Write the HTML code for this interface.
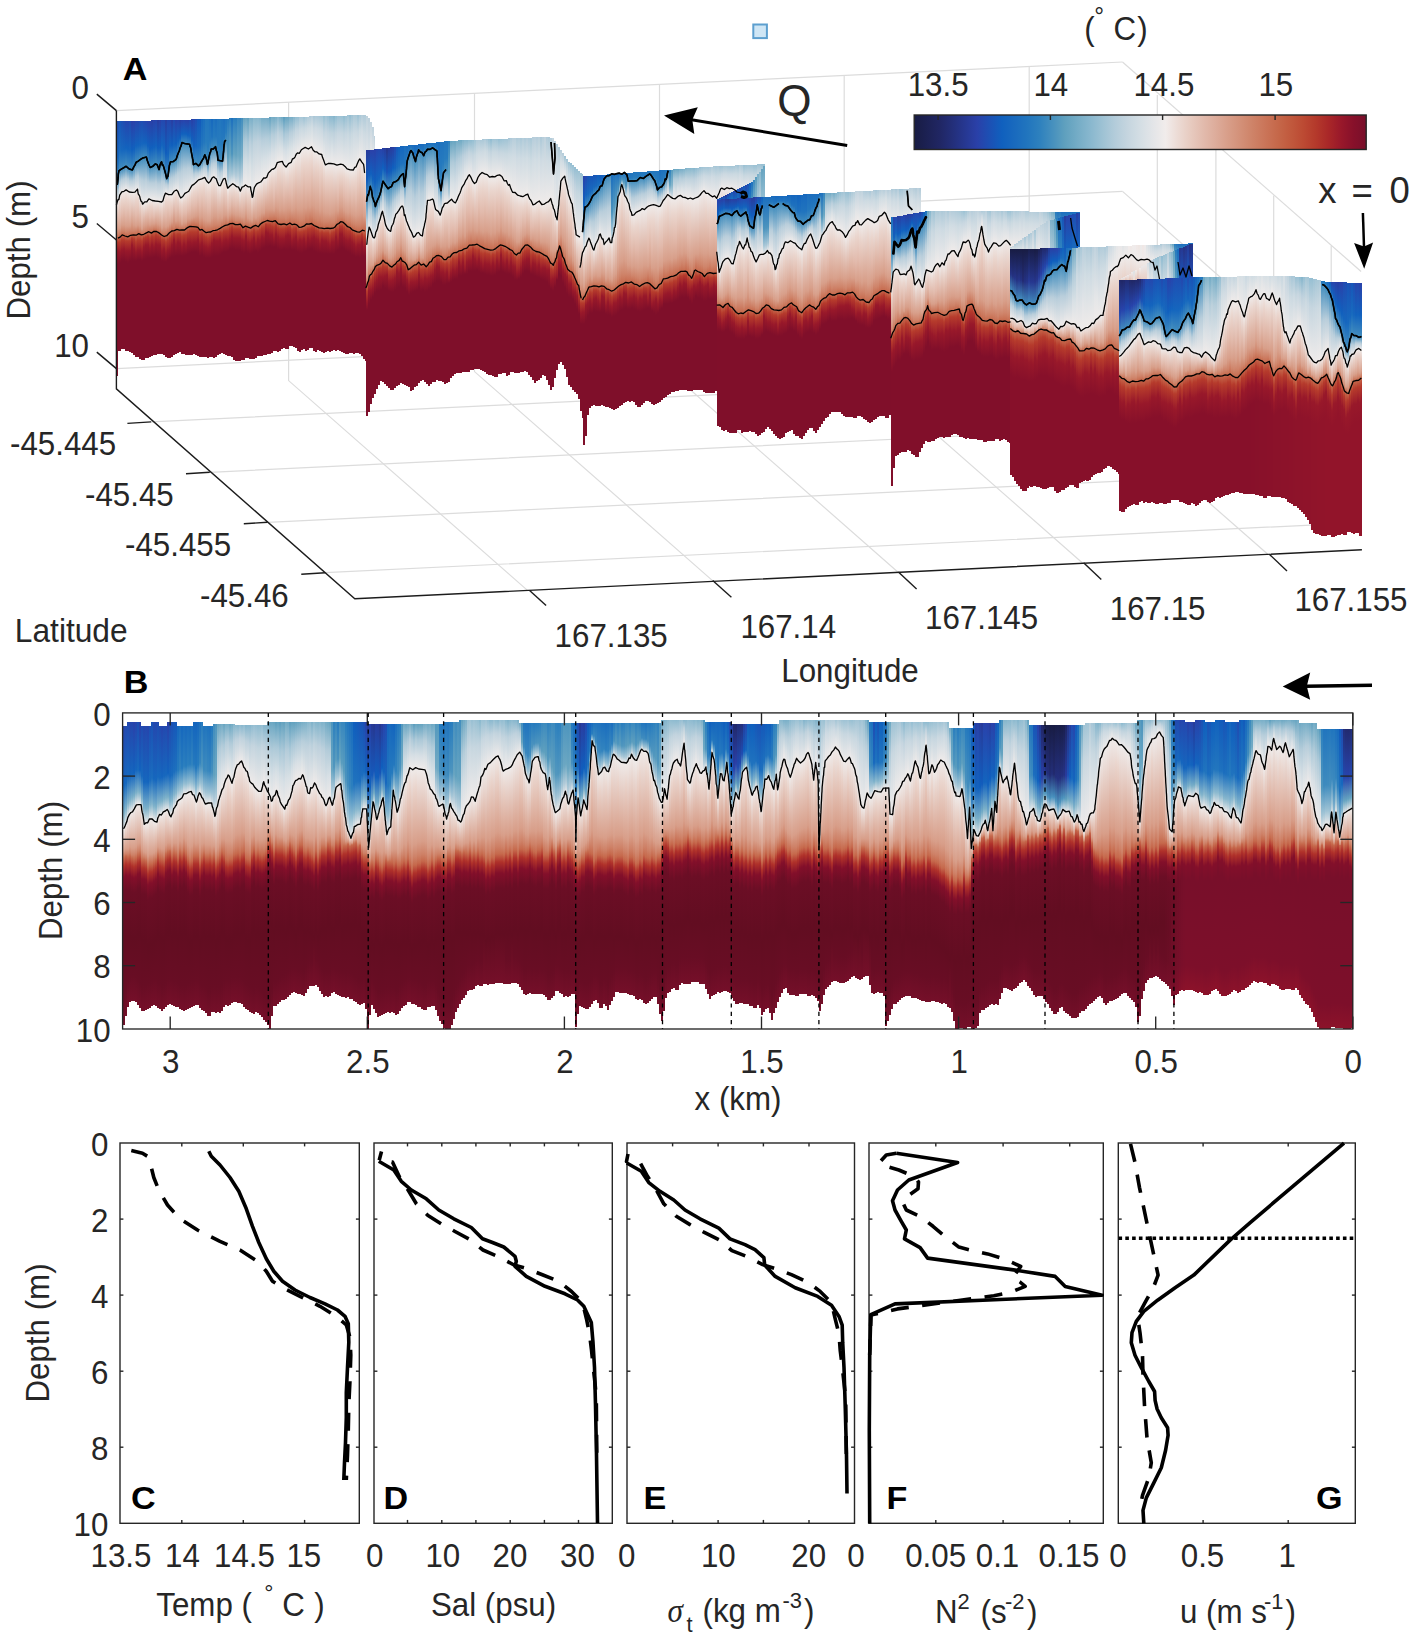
<!DOCTYPE html>
<html><head><meta charset="utf-8"><title>Figure</title>
<style>
html,body{margin:0;padding:0;background:#fff}
body{width:1417px;height:1639px;position:relative;overflow:hidden;font-family:"Liberation Sans",sans-serif}
.l{position:absolute;left:0;top:0}
#s i{position:absolute;display:block;width:2.3px}
</style></head><body>
<svg class="l" width="1417" height="1639" viewBox="0 0 1417 1639" fill="none" stroke="#dcdcdc" stroke-width="1.2"><line x1="116.4" y1="110.6" x2="1122.5" y2="62" /><line x1="116.4" y1="240" x2="1122.5" y2="191.4" /><line x1="116.4" y1="368.6" x2="1122.5" y2="320" /><polyline points="288.6,102.3 288.6,380.6 527.2,590.1" /><polyline points="474.5,93.3 474.5,371.6 713.1,581.1" /><polyline points="659.5,84.4 659.5,362.7 898.1,572.2" /><polyline points="844.2,75.4 844.2,353.7 1082.8,563.2" /><polyline points="1029.2,66.5 1029.2,344.8 1267.8,554.3" /><line x1="1122.5" y1="62" x2="1361.1" y2="271.5" /><line x1="1122.5" y1="191.4" x2="1361.1" y2="400.9" /><line x1="1122.5" y1="320" x2="1361.1" y2="529.5" /><polyline points="151.2,421.9 1157.3,373.3 1157.3,95" /><polyline points="209.8,472.3 1215.9,423.7 1215.9,145.4" /><polyline points="267.6,522.3 1273.7,473.7 1273.7,195.4" /><polyline points="325.1,572.7 1331.2,524.1 1331.2,245.8" /></svg>
<div id="s"><i style="left:116.8px;top:121.3px;height:230.2px;background:linear-gradient(#1e4eb3 0,#1566be 35px,#438ebe 59px,#b9cedb 69px,#efebea 79px,#d89f8a 107px,#cf846a 113px,#c6694c 117px,#b63b2c 121px,#98182a 130px,#7f0f2a 143px)"></i>
<i style="left:118.8px;top:121.2px;height:229.6px;background:linear-gradient(#1756b8 0,#186abe 29px,#438ebe 49px,#b9cedb 61px,#efebea 74px,#ead5cd 82px,#e2baac 96px,#d89f8a 107px,#c6694c 116px,#b63b2c 121px,#98182a 131px,#7f0f2a 142px)"></i>
<i style="left:120.8px;top:121.2px;height:228.2px;background:linear-gradient(#1d50b4 0,#1667be 29px,#438ebe 48px,#b9cedb 59px,#efebea 71px,#ead5cd 79px,#e2baac 93px,#d89f8a 104px,#cf846a 110px,#c6694c 114px,#b63b2c 119px,#98182a 129px,#7f0f2a 140px)"></i>
<i style="left:122.8px;top:121.1px;height:228.3px;background:linear-gradient(#214bb1 0,#1465be 28px,#438ebe 47px,#b9cedb 58px,#efebea 70px,#ead5cd 79px,#d89f8a 104px,#cf846a 110px,#c6694c 114px,#b63b2c 119px,#98182a 128px,#7f0f2a 140px)"></i>
<i style="left:124.8px;top:121.1px;height:229.7px;background:linear-gradient(#2546ae 0,#1263be 27px,#438ebe 45px,#b9cedb 57px,#efebea 69px,#ead5cd 78px,#e2baac 93px,#d89f8a 105px,#cf846a 111px,#c6694c 115px,#b63b2c 120px,#98182a 130px,#7f0f2a 141px)"></i>
<i style="left:126.8px;top:121px;height:229.8px;background:linear-gradient(#2645ad 0,#1263be 28px,#438ebe 47px,#b9cedb 58px,#efebea 70px,#ead5cd 79px,#d89f8a 105px,#c6694c 116px,#b63b2c 120px,#98182a 130px,#7f0f2a 142px)"></i>
<i style="left:128.8px;top:121px;height:230.5px;background:linear-gradient(#224ab0 0,#1465be 29px,#438ebe 48px,#b9cedb 60px,#efebea 71px,#ead5cd 80px,#e2baac 94px,#d89f8a 105px,#c6694c 115px,#b63b2c 120px,#98182a 130px,#7f0f2a 140px)"></i>
<i style="left:130.8px;top:120.9px;height:231.9px;background:linear-gradient(#2a40a8 0,#1060be 29px,#438ebe 49px,#b9cedb 60px,#efebea 71px,#d89f8a 102px,#cf846a 110px,#c6694c 114px,#b63b2c 117px,#98182a 124px,#7f0f2a 140px)"></i>
<i style="left:132.8px;top:120.9px;height:233.9px;background:linear-gradient(#2a41aa 0,#1161be 28px,#438ebe 46px,#b9cedb 59px,#efebea 71px,#d89f8a 104px,#cf846a 110px,#c6694c 114px,#b63b2c 118px,#98182a 128px,#7f0f2a 140px)"></i>
<i style="left:134.8px;top:120.8px;height:236px;background:linear-gradient(#2646ad 0,#1263be 25px,#438ebe 42px,#b9cedb 56px,#efebea 70px,#ead5cd 79px,#e2baac 94px,#d89f8a 105px,#c6694c 114px,#b63b2c 121px,#98182a 131px,#7f0f2a 140px)"></i>
<i style="left:136.8px;top:120.8px;height:236.6px;background:linear-gradient(#2546ad 0,#1263be 24px,#438ebe 41px,#b9cedb 55px,#efebea 70px,#ead5cd 79px,#e2baac 93px,#d89f8a 104px,#c6694c 113px,#b63b2c 119px,#98182a 129px,#7f0f2a 139px)"></i>
<i style="left:138.8px;top:120.7px;height:238.1px;background:linear-gradient(#214bb1 0,#1465be 24px,#438ebe 39px,#b9cedb 58px,#efebea 76px,#d89f8a 105px,#cf846a 110px,#c6694c 113px,#b63b2c 119px,#98182a 129px,#7f0f2a 139px)"></i>
<i style="left:140.8px;top:120.7px;height:239.6px;background:linear-gradient(#1f4db2 0,#1566be 23px,#438ebe 38px,#b9cedb 59px,#efebea 81px,#ead5cd 88px,#e2baac 99px,#d89f8a 108px,#c6694c 114px,#b63b2c 120px,#98182a 131px,#7f0f2a 140px)"></i>
<i style="left:142.8px;top:120.6px;height:239px;background:linear-gradient(#2448af 0,#1364be 22px,#438ebe 37px,#b9cedb 60px,#efebea 82px,#d89f8a 105px,#cf846a 111px,#c6694c 114px,#b63b2c 117px,#98182a 126px,#7f0f2a 139px)"></i>
<i style="left:144.8px;top:120.6px;height:237.7px;background:linear-gradient(#2546ae 0,#1263be 22px,#438ebe 37px,#b9cedb 59px,#efebea 81px,#e2baac 95px,#d89f8a 104px,#cf846a 110px,#c6694c 113px,#b63b2c 116px,#98182a 124px,#7f0f2a 138px)"></i>
<i style="left:146.8px;top:120.5px;height:237.1px;background:linear-gradient(#2942ab 0,#1161be 25px,#438ebe 41px,#b9cedb 61px,#efebea 80px,#ead5cd 86px,#d89f8a 103px,#cf846a 109px,#c6694c 112px,#b63b2c 115px,#98182a 124px,#7f0f2a 137px)"></i>
<i style="left:148.8px;top:120.5px;height:236.5px;background:linear-gradient(#2a41a9 0,#1061be 28px,#438ebe 46px,#b9cedb 62px,#efebea 79px,#ead5cd 85px,#e2baac 96px,#d89f8a 104px,#c6694c 112px,#b63b2c 117px,#98182a 127px,#7f0f2a 137px)"></i>
<i style="left:150.8px;top:120.4px;height:236px;background:linear-gradient(#293fa6 0,#1060be 28px,#438ebe 46px,#b9cedb 63px,#efebea 80px,#ead5cd 86px,#e2baac 96px,#d89f8a 104px,#cf846a 109px,#c6694c 112px,#b63b2c 116px,#98182a 125px,#7f0f2a 138px)"></i>
<i style="left:152.8px;top:120.4px;height:234.9px;background:linear-gradient(#2942ab 0,#1161be 27px,#438ebe 45px,#b9cedb 63px,#efebea 80px,#e2baac 97px,#d89f8a 104px,#cf846a 108px,#c6694c 111px,#b63b2c 117px,#98182a 127px,#7f0f2a 137px)"></i>
<i style="left:154.8px;top:120.3px;height:234.5px;background:linear-gradient(#2645ad 0,#1263be 26px,#438ebe 44px,#b9cedb 62px,#efebea 81px,#d89f8a 103px,#cf846a 108px,#c6694c 111px,#b63b2c 115px,#98182a 124px,#7f0f2a 137px)"></i>
<i style="left:156.8px;top:120.3px;height:234.1px;background:linear-gradient(#293da1 0,#105ebd 28px,#438ebe 46px,#b9cedb 64px,#efebea 81px,#ead5cd 87px,#d89f8a 104px,#cf846a 109px,#c6694c 112px,#b63b2c 116px,#98182a 125px,#7f0f2a 138px)"></i>
<i style="left:158.8px;top:120.2px;height:233.7px;background:linear-gradient(#2a40a8 0,#1060be 28px,#438ebe 46px,#b9cedb 64px,#efebea 81px,#d89f8a 105px,#cf846a 110px,#c6694c 113px,#b63b2c 117px,#98182a 125px,#7f0f2a 139px)"></i>
<i style="left:160.8px;top:120.2px;height:233.5px;background:linear-gradient(#2448af 0,#1364be 25px,#438ebe 42px,#b9cedb 62px,#efebea 82px,#ead5cd 88px,#e2baac 99px,#d89f8a 108px,#cf846a 112px,#c6694c 115px,#b63b2c 120px,#98182a 131px,#7f0f2a 141px)"></i>
<i style="left:162.8px;top:120.1px;height:234.7px;background:linear-gradient(#2348af 0,#1364be 28px,#438ebe 47px,#b9cedb 62px,#efebea 77px,#d89f8a 106px,#cf846a 112px,#c6694c 116px,#b63b2c 120px,#98182a 129px,#7f0f2a 142px)"></i>
<i style="left:164.8px;top:120.1px;height:237.3px;background:linear-gradient(#293ea1 0,#105ebd 33px,#438ebe 55px,#b9cedb 64px,#efebea 73px,#ead5cd 82px,#e2baac 96px,#d89f8a 107px,#c6694c 116px,#b63b2c 122px,#98182a 133px,#7f0f2a 142px)"></i>
<i style="left:166.8px;top:120px;height:238.4px;background:linear-gradient(#2447ae 0,#1364be 34px,#438ebe 57px,#b9cedb 65px,#efebea 74px,#ead5cd 82px,#d89f8a 106px,#cf846a 110px,#c6694c 115px,#b63b2c 120px,#98182a 130px,#7f0f2a 140px)"></i>
<i style="left:168.8px;top:120px;height:238.3px;background:linear-gradient(#2645ad 0,#1263be 26px,#438ebe 44px,#b9cedb 59px,#efebea 75px,#ead5cd 82px,#e2baac 95px,#d89f8a 104px,#c6694c 113px,#b63b2c 118px,#98182a 129px,#7f0f2a 138px)"></i>
<i style="left:170.8px;top:119.9px;height:237.3px;background:linear-gradient(#293ea2 0,#0f5fbe 25px,#438ebe 42px,#b9cedb 58px,#efebea 75px,#ead5cd 82px,#e2baac 93px,#d89f8a 102px,#c6694c 111px,#b63b2c 116px,#98182a 125px,#7f0f2a 137px)"></i>
<i style="left:172.8px;top:119.9px;height:234.8px;background:linear-gradient(#2349af 0,#1364be 25px,#438ebe 41px,#b9cedb 57px,#efebea 72px,#cf846a 107px,#c6694c 111px,#b63b2c 113px,#98182a 120px,#7f0f2a 137px)"></i>
<i style="left:174.8px;top:119.8px;height:233.8px;background:linear-gradient(#2a40a9 0,#1061be 24px,#438ebe 40px,#b9cedb 55px,#efebea 71px,#ead5cd 78px,#e2baac 91px,#d89f8a 101px,#c6694c 110px,#b63b2c 115px,#98182a 125px,#7f0f2a 136px)"></i>
<i style="left:176.8px;top:119.8px;height:232.8px;background:linear-gradient(#2843ab 0,#1162be 21px,#438ebe 35px,#b9cedb 53px,#efebea 71px,#d89f8a 100px,#cf846a 106px,#c6694c 110px,#b63b2c 114px,#98182a 122px,#7f0f2a 136px)"></i>
<i style="left:178.8px;top:119.7px;height:232.5px;background:linear-gradient(#293fa5 0,#0f5fbe 18px,#438ebe 29px,#b9cedb 53px,#efebea 77px,#ead5cd 83px,#e2baac 93px,#d89f8a 101px,#cf846a 107px,#c6694c 110px,#b63b2c 114px,#98182a 123px,#7f0f2a 136px)"></i>
<i style="left:180.8px;top:119.7px;height:234.2px;background:linear-gradient(#2a41aa 0,#1061be 14px,#438ebe 24px,#b9cedb 51px,#efebea 78px,#ead5cd 84px,#e2baac 95px,#d89f8a 104px,#c6694c 110px,#b63b2c 116px,#98182a 127px,#7f0f2a 136px)"></i>
<i style="left:182.8px;top:119.6px;height:234.6px;background:linear-gradient(#2843ac 0,#1162be 14px,#438ebe 24px,#b9cedb 49px,#efebea 75px,#ead5cd 82px,#e2baac 93px,#d89f8a 102px,#cf846a 107px,#c6694c 110px,#b63b2c 115px,#98182a 124px,#7f0f2a 136px)"></i>
<i style="left:184.8px;top:119.6px;height:235px;background:linear-gradient(#2a41a9 0,#1061be 14px,#438ebe 24px,#b9cedb 49px,#efebea 73px,#ead5cd 81px,#e2baac 93px,#d89f8a 102px,#cf846a 106px,#c6694c 109px,#b63b2c 115px,#98182a 126px,#7f0f2a 135px)"></i>
<i style="left:186.8px;top:119.5px;height:235.4px;background:linear-gradient(#2a40a8 0,#1060be 15px,#438ebe 25px,#b9cedb 48px,#efebea 72px,#ead5cd 79px,#e2baac 90px,#d89f8a 99px,#c6694c 108px,#b63b2c 113px,#98182a 122px,#7f0f2a 134px)"></i>
<i style="left:188.8px;top:119.5px;height:235.8px;background:linear-gradient(#2546ae 0,#1263be 16px,#438ebe 26px,#b9cedb 48px,#efebea 70px,#ead5cd 77px,#e2baac 89px,#d89f8a 99px,#c6694c 107px,#b63b2c 112px,#98182a 122px,#7f0f2a 133px)"></i>
<i style="left:190.8px;top:119.4px;height:236.1px;background:linear-gradient(#293fa6 0,#1060be 21px,#438ebe 35px,#b9cedb 51px,#efebea 67px,#ead5cd 75px,#d89f8a 99px,#c6694c 107px,#b63b2c 113px,#98182a 124px,#7f0f2a 133px)"></i>
<i style="left:192.8px;top:119.3px;height:235.1px;background:linear-gradient(#2645ad 0,#1263be 27px,#438ebe 45px,#b9cedb 55px,#efebea 65px,#ead5cd 73px,#e2baac 87px,#d89f8a 98px,#c6694c 107px,#b63b2c 113px,#98182a 123px,#7f0f2a 133px)"></i>
<i style="left:194.8px;top:119.3px;height:235.5px;background:linear-gradient(#1f4db2 0,#1566be 27px,#438ebe 44px,#b9cedb 54px,#efebea 63px,#ead5cd 72px,#e2baac 86px,#d89f8a 97px,#cf846a 103px,#c6694c 107px,#b63b2c 113px,#98182a 123px,#7f0f2a 133px)"></i>
<i style="left:196.8px;top:119.2px;height:237.3px;background:linear-gradient(#1558ba 0,#196bbe 28px,#438ebe 46px,#b9cedb 54px,#efebea 61px,#d89f8a 96px,#cf846a 103px,#c6694c 108px,#b63b2c 112px,#98182a 121px,#7f0f2a 134px)"></i>
<i style="left:198.8px;top:119.2px;height:237.7px;background:linear-gradient(#135abb 0,#196cbe 27px,#438ebe 45px,#b9cedb 53px,#efebea 60px,#ead5cd 70px,#e2baac 86px,#d89f8a 99px,#cf846a 106px,#c6694c 111px,#b63b2c 116px,#98182a 126px,#7f0f2a 137px)"></i>
<i style="left:200.8px;top:119.1px;height:238px;background:linear-gradient(#1768be 0,#2074be 25px,#438ebe 42px,#b9cedb 51px,#efebea 60px,#ead5cd 70px,#d89f8a 98px,#cf846a 105px,#c6694c 110px,#b63b2c 115px,#98182a 124px,#7f0f2a 136px)"></i>
<i style="left:202.8px;top:119.1px;height:238.4px;background:linear-gradient(#1b6ebe 0,#2377be 23px,#438ebe 38px,#b9cedb 49px,#efebea 59px,#ead5cd 69px,#e2baac 86px,#d89f8a 100px,#cf846a 107px,#c6694c 112px,#b63b2c 117px,#98182a 127px,#7f0f2a 138px)"></i>
<i style="left:204.8px;top:119px;height:238.1px;background:linear-gradient(#2276be 0,#277cbe 23px,#438ebe 38px,#b9cedb 49px,#efebea 60px,#d89f8a 101px,#cf846a 108px,#c6694c 113px,#b63b2c 118px,#98182a 128px,#7f0f2a 139px)"></i>
<i style="left:206.8px;top:119px;height:238.5px;background:linear-gradient(#2276be 0,#277cbe 27px,#438ebe 44px,#b9cedb 54px,#efebea 63px,#ead5cd 73px,#e2baac 89px,#d89f8a 102px,#c6694c 113px,#b63b2c 119px,#98182a 129px,#7f0f2a 139px)"></i>
<i style="left:208.8px;top:118.9px;height:238.5px;background:linear-gradient(#1e71be 0,#2579be 21px,#438ebe 35px,#b9cedb 49px,#efebea 63px,#ead5cd 73px,#e2baac 89px,#d89f8a 102px,#c6694c 113px,#b63b2c 118px,#98182a 128px,#7f0f2a 139px)"></i>
<i style="left:210.8px;top:118.9px;height:237.8px;background:linear-gradient(#1769be 0,#2074be 18px,#438ebe 30px,#b9cedb 45px,#efebea 60px,#ead5cd 70px,#d89f8a 99px,#cf846a 107px,#c6694c 112px,#b63b2c 116px,#98182a 124px,#7f0f2a 138px)"></i>
<i style="left:212.8px;top:118.8px;height:239.2px;background:linear-gradient(#1f72be 0,#257abe 18px,#438ebe 30px,#b9cedb 44px,#efebea 58px,#d89f8a 97px,#cf846a 106px,#c6694c 112px,#b63b2c 114px,#98182a 121px,#7f0f2a 137px)"></i>
<i style="left:214.8px;top:118.8px;height:238.4px;background:linear-gradient(#1b6ebe 0,#2377be 17px,#438ebe 29px,#b9cedb 44px,#efebea 60px,#d89f8a 97px,#cf846a 106px,#c6694c 111px,#b63b2c 114px,#98182a 122px,#7f0f2a 137px)"></i>
<i style="left:216.8px;top:118.7px;height:236.3px;background:linear-gradient(#2174be 0,#277bbe 24px,#438ebe 40px,#b9cedb 52px,#efebea 65px,#d89f8a 99px,#cf846a 106px,#c6694c 111px,#b63b2c 114px,#98182a 122px,#7f0f2a 137px)"></i>
<i style="left:218.8px;top:118.7px;height:235.6px;background:linear-gradient(#2276be 0,#277cbe 25px,#438ebe 42px,#b9cedb 54px,#efebea 67px,#d89f8a 98px,#cf846a 106px,#c6694c 110px,#b63b2c 113px,#98182a 121px,#7f0f2a 136px)"></i>
<i style="left:220.8px;top:118.6px;height:234.8px;background:linear-gradient(#1f73be 0,#267abe 25px,#438ebe 42px,#b9cedb 53px,#efebea 64px,#ead5cd 73px,#d89f8a 99px,#c6694c 109px,#b63b2c 114px,#98182a 124px,#7f0f2a 134px)"></i>
<i style="left:222.8px;top:118.6px;height:235.7px;background:linear-gradient(#1d6fbe 0,#2478be 18px,#438ebe 30px,#b9cedb 45px,#efebea 60px,#d89f8a 96px,#cf846a 103px,#c6694c 108px,#b63b2c 112px,#98182a 122px,#7f0f2a 133px)"></i>
<i style="left:224.8px;top:118.5px;height:236.1px;background:linear-gradient(#2074be 0,#267bbe 13px,#438ebe 22px,#b9cedb 42px,#efebea 62px,#ead5cd 71px,#e2baac 85px,#d89f8a 96px,#c6694c 107px,#b63b2c 112px,#98182a 121px,#7f0f2a 133px)"></i>
<i style="left:226.8px;top:118.5px;height:237.1px;background:linear-gradient(#2478be 0,#5e9fbe 38px,#b0cad9 59px,#efebea 70px,#ead5cd 77px,#e2baac 89px,#d89f8a 98px,#cf846a 103px,#c6694c 106px,#b63b2c 112px,#98182a 122px,#7f0f2a 132px)"></i>
<i style="left:228.8px;top:118.4px;height:237.5px;background:linear-gradient(#297ebe 0,#66a4c0 37px,#b4ccda 58px,#efebea 68px,#ead5cd 75px,#e2baac 88px,#d89f8a 97px,#cf846a 102px,#c6694c 105px,#b63b2c 111px,#98182a 121px,#7f0f2a 131px)"></i>
<i style="left:230.8px;top:118.4px;height:238.5px;background:linear-gradient(#1d70be 0,#4f96be 36px,#a9c8d7 56px,#efebea 66px,#d89f8a 95px,#cf846a 101px,#c6694c 105px,#b63b2c 109px,#98182a 118px,#7f0f2a 131px)"></i>
<i style="left:232.8px;top:118.3px;height:241.7px;background:linear-gradient(#2a7ebe 0,#66a4c1 36px,#b4ccda 56px,#efebea 66px,#ead5cd 74px,#e2baac 86px,#d89f8a 96px,#cf846a 102px,#c6694c 106px,#b63b2c 111px,#98182a 120px,#7f0f2a 131px)"></i>
<i style="left:234.8px;top:118.3px;height:242.7px;background:linear-gradient(#287dbe 0,#65a3c0 37px,#b3ccda 58px,#efebea 68px,#ead5cd 75px,#e2baac 87px,#d89f8a 97px,#cf846a 103px,#c6694c 106px,#b63b2c 111px,#98182a 120px,#7f0f2a 132px)"></i>
<i style="left:236.8px;top:118.2px;height:242.7px;background:linear-gradient(#3887be 0,#6fa9c4 38px,#b9cfdb 58px,#efebea 69px,#ead5cd 76px,#d89f8a 97px,#cf846a 103px,#c6694c 106px,#b63b2c 111px,#98182a 120px,#7f0f2a 132px)"></i>
<i style="left:238.8px;top:118.2px;height:242.4px;background:linear-gradient(#3686be 0,#6da8c3 39px,#b8cedb 61px,#efebea 72px,#d89f8a 98px,#cf846a 103px,#c6694c 106px,#b63b2c 111px,#98182a 120px,#7f0f2a 132px)"></i>
<i style="left:240.8px;top:118.1px;height:242.1px;background:linear-gradient(#438ebe 0,#76adc7 38px,#bcd0dc 59px,#efebea 70px,#ead5cd 77px,#e2baac 89px,#d89f8a 99px,#c6694c 108px,#b63b2c 113px,#98182a 122px,#7f0f2a 134px)"></i>
<i style="left:242.8px;top:118.1px;height:241.8px;background:linear-gradient(#65a3c0 0,#adc9d8 24px,#d7dfe5 48px,#efebea 68px,#d89f8a 99px,#cf846a 105px,#c6694c 109px,#b63b2c 114px,#98182a 123px,#7f0f2a 135px)"></i>
<i style="left:244.8px;top:118px;height:240.1px;background:linear-gradient(#6aa6c2 0,#afcad9 23px,#d7e0e5 47px,#efebea 67px,#d89f8a 96px,#cf846a 104px,#c6694c 108px,#b63b2c 111px,#98182a 118px,#7f0f2a 134px)"></i>
<i style="left:246.8px;top:118px;height:239.8px;background:linear-gradient(#62a2bf 0,#abc8d8 24px,#d6dfe4 48px,#efebea 69px,#ead5cd 77px,#d89f8a 100px,#c6694c 109px,#b63b2c 114px,#98182a 124px,#7f0f2a 135px)"></i>
<i style="left:248.8px;top:117.9px;height:241.6px;background:linear-gradient(#7db1c9 0,#bacfdc 24px,#dae1e5 48px,#efebea 69px,#ead5cd 77px,#d89f8a 101px,#c6694c 110px,#b63b2c 115px,#98182a 125px,#7f0f2a 136px)"></i>
<i style="left:250.8px;top:117.9px;height:241.3px;background:linear-gradient(#7cb0c9 0,#b9cfdb 27px,#dae1e5 54px,#efebea 77px,#ead5cd 83px,#d89f8a 102px,#cf846a 106px,#c6694c 109px,#b63b2c 114px,#98182a 123px,#7f0f2a 135px)"></i>
<i style="left:252.8px;top:117.8px;height:241px;background:linear-gradient(#8ab9ce 0,#c0d2dd 25px,#efebea 72px,#d89f8a 99px,#cf846a 105px,#c6694c 108px,#b63b2c 112px,#98182a 120px,#7f0f2a 134px)"></i>
<i style="left:254.8px;top:117.8px;height:240.7px;background:linear-gradient(#88b7cd 0,#bfd2dd 24px,#efebea 67px,#d89f8a 100px,#c6694c 108px,#b63b2c 114px,#98182a 125px,#7f0f2a 133px)"></i>
<i style="left:256.8px;top:117.7px;height:238.2px;background:linear-gradient(#89b8ce 0,#c0d2dd 23px,#efebea 66px,#ead5cd 74px,#d89f8a 98px,#cf846a 105px,#c6694c 109px,#b63b2c 113px,#98182a 121px,#7f0f2a 135px)"></i>
<i style="left:258.8px;top:117.7px;height:237.9px;background:linear-gradient(#84b5cc 0,#bed1dd 23px,#efebea 65px,#ead5cd 73px,#d89f8a 97px,#cf846a 103px,#c6694c 107px,#b63b2c 112px,#98182a 122px,#7f0f2a 133px)"></i>
<i style="left:260.8px;top:117.6px;height:238.2px;background:linear-gradient(#77aec7 0,#b7cedb 22px,#d9e1e5 44px,#efebea 63px,#d89f8a 95px,#cf846a 101px,#c6694c 105px,#b63b2c 110px,#98182a 119px,#7f0f2a 131px)"></i>
<i style="left:262.8px;top:117.6px;height:237.9px;background:linear-gradient(#76adc7 0,#b6cddb 21px,#d9e0e5 42px,#efebea 60px,#ead5cd 69px,#d89f8a 95px,#c6694c 104px,#b63b2c 110px,#98182a 120px,#7f0f2a 130px)"></i>
<i style="left:264.8px;top:117.5px;height:237.3px;background:linear-gradient(#77adc7 0,#b7cedb 21px,#d9e1e5 42px,#efebea 60px,#d89f8a 91px,#cf846a 99px,#c6694c 104px,#b63b2c 106px,#98182a 114px,#7f0f2a 129px)"></i>
<i style="left:266.8px;top:117.5px;height:236.4px;background:linear-gradient(#73abc6 0,#b4cdda 20px,#d9e0e5 40px,#efebea 57px,#ead5cd 66px,#d89f8a 91px,#cf846a 99px,#c6694c 103px,#b63b2c 107px,#98182a 115px,#7f0f2a 129px)"></i>
<i style="left:268.8px;top:117.4px;height:236.8px;background:linear-gradient(#63a2c0 0,#abc9d8 19px,#d6dfe5 38px,#efebea 54px,#ead5cd 64px,#d89f8a 92px,#cf846a 99px,#c6694c 104px,#b63b2c 108px,#98182a 118px,#7f0f2a 129px)"></i>
<i style="left:270.8px;top:117.4px;height:235.9px;background:linear-gradient(#75adc6 0,#b6cdda 18px,#d9e0e5 36px,#efebea 52px,#ead5cd 62px,#d89f8a 92px,#cf846a 99px,#c6694c 104px,#b63b2c 109px,#98182a 118px,#7f0f2a 130px)"></i>
<i style="left:272.8px;top:117.3px;height:234.2px;background:linear-gradient(#73abc5 0,#b4cdda 18px,#d9e0e5 36px,#efebea 52px,#ead5cd 62px,#e2baac 80px,#d89f8a 93px,#c6694c 104px,#b63b2c 110px,#98182a 122px,#7f0f2a 130px)"></i>
<i style="left:274.8px;top:117.3px;height:233.4px;background:linear-gradient(#79afc8 0,#b8cedb 17px,#dae1e5 34px,#efebea 49px,#d89f8a 90px,#cf846a 99px,#c6694c 104px,#b63b2c 108px,#98182a 117px,#7f0f2a 130px)"></i>
<i style="left:276.8px;top:117.2px;height:234.4px;background:linear-gradient(#88b7ce 0,#bfd2dd 16px,#efebea 45px,#ead5cd 57px,#e2baac 76px,#d89f8a 91px,#cf846a 100px,#c6694c 106px,#b63b2c 111px,#98182a 120px,#7f0f2a 132px)"></i>
<i style="left:278.8px;top:117.2px;height:234px;background:linear-gradient(#7bb0c9 0,#b9cfdb 16px,#dae1e5 31px,#efebea 45px,#ead5cd 57px,#d89f8a 93px,#cf846a 101px,#c6694c 107px,#b63b2c 112px,#98182a 122px,#7f0f2a 133px)"></i>
<i style="left:280.8px;top:117.1px;height:231.5px;background:linear-gradient(#70aac4 0,#b3ccda 15px,#d8e0e5 31px,#efebea 44px,#d89f8a 92px,#cf846a 101px,#c6694c 107px,#b63b2c 112px,#98182a 122px,#7f0f2a 133px)"></i>
<i style="left:282.8px;top:117.1px;height:231.1px;background:linear-gradient(#5a9dbe 0,#a6c6d7 17px,#d5dee4 33px,#efebea 48px,#ead5cd 59px,#e2baac 78px,#d89f8a 93px,#cf846a 101px,#c6694c 107px,#b63b2c 112px,#98182a 122px,#7f0f2a 132px)"></i>
<i style="left:284.8px;top:117px;height:232.1px;background:linear-gradient(#68a5c1 0,#aecad9 17px,#d7dfe5 35px,#efebea 50px,#ead5cd 61px,#d89f8a 92px,#cf846a 102px,#c6694c 107px,#b63b2c 111px,#98182a 119px,#7f0f2a 133px)"></i>
<i style="left:286.8px;top:117px;height:231.7px;background:linear-gradient(#6aa6c2 0,#b0cad9 17px,#d7e0e5 33px,#efebea 48px,#d89f8a 91px,#cf846a 101px,#c6694c 107px,#b63b2c 110px,#98182a 118px,#7f0f2a 133px)"></i>
<i style="left:288.8px;top:116.9px;height:229.1px;background:linear-gradient(#78aec8 0,#b8cedb 16px,#d9e1e5 32px,#efebea 46px,#ead5cd 58px,#e2baac 76px,#d89f8a 91px,#cf846a 100px,#c6694c 106px,#b63b2c 110px,#98182a 119px,#7f0f2a 132px)"></i>
<i style="left:290.8px;top:116.9px;height:228.7px;background:linear-gradient(#78aec8 0,#b8cedb 15px,#dae1e5 31px,#efebea 44px,#ead5cd 57px,#e2baac 77px,#d89f8a 93px,#c6694c 108px,#b63b2c 113px,#98182a 124px,#7f0f2a 133px)"></i>
<i style="left:292.8px;top:116.8px;height:230.3px;background:linear-gradient(#87b6cd 0,#bfd2dd 15px,#dce2e6 29px,#efebea 42px,#ead5cd 55px,#d89f8a 92px,#cf846a 101px,#c6694c 107px,#b63b2c 112px,#98182a 122px,#7f0f2a 133px)"></i>
<i style="left:294.8px;top:116.8px;height:231.2px;background:linear-gradient(#94bed2 0,#c4d5df 13px,#efebea 39px,#ead5cd 52px,#d89f8a 90px,#cf846a 101px,#c6694c 108px,#b63b2c 111px,#98182a 120px,#7f0f2a 134px)"></i>
<i style="left:296.8px;top:116.7px;height:234.2px;background:linear-gradient(#97bfd3 0,#c5d5df 13px,#efebea 36px,#d89f8a 92px,#cf846a 102px,#c6694c 109px,#b63b2c 115px,#98182a 125px,#7f0f2a 135px)"></i>
<i style="left:298.8px;top:116.7px;height:235.2px;background:linear-gradient(#a7c7d7 0,#cbd9e1 13px,#efebea 36px,#d89f8a 92px,#cf846a 103px,#c6694c 111px,#b63b2c 115px,#98182a 123px,#7f0f2a 136px)"></i>
<i style="left:300.8px;top:116.6px;height:233.2px;background:linear-gradient(#a7c6d7 0,#cbd9e1 12px,#efebea 33px,#ead5cd 48px,#e2baac 72px,#d89f8a 92px,#cf846a 103px,#c6694c 110px,#b63b2c 115px,#98182a 124px,#7f0f2a 136px)"></i>
<i style="left:302.8px;top:116.6px;height:232.6px;background:linear-gradient(#9dc2d4 0,#c7d7e0 11px,#efebea 32px,#ead5cd 47px,#d89f8a 90px,#cf846a 102px,#c6694c 110px,#b63b2c 114px,#98182a 122px,#7f0f2a 135px)"></i>
<i style="left:304.8px;top:116.5px;height:234.2px;background:linear-gradient(#a7c7d7 0,#cbd9e1 11px,#efebea 31px,#ead5cd 47px,#e2baac 71px,#d89f8a 91px,#c6694c 108px,#b63b2c 114px,#98182a 126px,#7f0f2a 134px)"></i>
<i style="left:306.8px;top:116.5px;height:233.7px;background:linear-gradient(#b0cbd9 0,#cfdbe2 11px,#efebea 32px,#ead5cd 47px,#e2baac 70px,#d89f8a 89px,#cf846a 100px,#c6694c 108px,#b63b2c 112px,#98182a 121px,#7f0f2a 133px)"></i>
<i style="left:308.8px;top:116.4px;height:231.7px;background:linear-gradient(#b0cad9 0,#cedbe2 11px,#efebea 32px,#ead5cd 47px,#e2baac 71px,#d89f8a 91px,#c6694c 108px,#b63b2c 113px,#98182a 124px,#7f0f2a 133px)"></i>
<i style="left:310.8px;top:116.4px;height:231.9px;background:linear-gradient(#b8cedb 0,#d2dde3 11px,#efebea 31px,#ead5cd 46px,#d89f8a 89px,#cf846a 100px,#c6694c 107px,#b63b2c 112px,#98182a 122px,#7f0f2a 133px)"></i>
<i style="left:312.8px;top:116.3px;height:234.3px;background:linear-gradient(#a9c7d7 0,#ccd9e1 12px,#efebea 34px,#d89f8a 90px,#cf846a 102px,#c6694c 109px,#b63b2c 112px,#98182a 121px,#7f0f2a 135px)"></i>
<i style="left:314.8px;top:116.3px;height:235.3px;background:linear-gradient(#adc9d8 0,#cedae2 12px,#efebea 36px,#ead5cd 50px,#d89f8a 92px,#cf846a 103px,#c6694c 110px,#b63b2c 114px,#98182a 123px,#7f0f2a 136px)"></i>
<i style="left:316.8px;top:116.2px;height:234.2px;background:linear-gradient(#abc8d8 0,#cddae2 13px,#efebea 37px,#ead5cd 51px,#d89f8a 92px,#cf846a 104px,#c6694c 111px,#b63b2c 115px,#98182a 124px,#7f0f2a 137px)"></i>
<i style="left:318.8px;top:116.2px;height:235.2px;background:linear-gradient(#a7c7d7 0,#cbd9e1 13px,#efebea 38px,#ead5cd 53px,#e2baac 76px,#d89f8a 95px,#c6694c 112px,#b63b2c 117px,#98182a 128px,#7f0f2a 137px)"></i>
<i style="left:320.8px;top:116.1px;height:236.2px;background:linear-gradient(#a5c6d6 0,#cbd8e1 14px,#efebea 39px,#ead5cd 53px,#d89f8a 93px,#cf846a 105px,#c6694c 112px,#b63b2c 116px,#98182a 124px,#7f0f2a 138px)"></i>
<i style="left:322.8px;top:116.1px;height:237.1px;background:linear-gradient(#95bfd2 0,#c4d5df 16px,#dee3e6 31px,#efebea 45px,#ead5cd 58px,#d89f8a 96px,#cf846a 106px,#c6694c 113px,#b63b2c 117px,#98182a 125px,#7f0f2a 138px)"></i>
<i style="left:324.8px;top:116px;height:235.5px;background:linear-gradient(#a0c3d5 0,#c9d7e0 17px,#efebea 49px,#ead5cd 61px,#d89f8a 97px,#cf846a 106px,#c6694c 112px,#b63b2c 117px,#98182a 125px,#7f0f2a 138px)"></i>
<i style="left:326.8px;top:116px;height:234.7px;background:linear-gradient(#97bfd3 0,#c5d5df 17px,#efebea 48px,#ead5cd 61px,#d89f8a 97px,#cf846a 106px,#c6694c 112px,#b63b2c 117px,#98182a 127px,#7f0f2a 138px)"></i>
<i style="left:328.8px;top:115.9px;height:236px;background:linear-gradient(#8cb9cf 0,#c1d3de 17px,#efebea 48px,#ead5cd 61px,#d89f8a 98px,#c6694c 113px,#b63b2c 119px,#98182a 129px,#7f0f2a 138px)"></i>
<i style="left:330.8px;top:115.9px;height:235.2px;background:linear-gradient(#8bb9cf 0,#c0d3dd 17px,#dce2e6 33px,#efebea 48px,#ead5cd 61px,#d89f8a 97px,#cf846a 106px,#c6694c 112px,#b63b2c 117px,#98182a 126px,#7f0f2a 138px)"></i>
<i style="left:332.8px;top:115.8px;height:234.4px;background:linear-gradient(#84b5cc 0,#bed1dd 17px,#efebea 48px,#d89f8a 96px,#cf846a 106px,#c6694c 112px,#b63b2c 116px,#98182a 126px,#7f0f2a 138px)"></i>
<i style="left:334.8px;top:115.8px;height:235.2px;background:linear-gradient(#91bdd1 0,#c3d4de 17px,#efebea 49px,#d89f8a 94px,#cf846a 104px,#c6694c 110px,#b63b2c 113px,#98182a 121px,#7f0f2a 136px)"></i>
<i style="left:336.8px;top:115.7px;height:234.5px;background:linear-gradient(#9cc1d4 0,#c7d6e0 17px,#efebea 49px,#ead5cd 61px,#e2baac 80px,#d89f8a 95px,#c6694c 108px,#b63b2c 114px,#98182a 125px,#7f0f2a 134px)"></i>
<i style="left:338.8px;top:115.7px;height:235.3px;background:linear-gradient(#9cc2d4 0,#c7d6e0 17px,#efebea 49px,#ead5cd 60px,#d89f8a 91px,#cf846a 101px,#c6694c 107px,#b63b2c 110px,#98182a 118px,#7f0f2a 133px)"></i>
<i style="left:340.8px;top:115.6px;height:236.7px;background:linear-gradient(#9ac1d4 0,#c6d6df 17px,#efebea 49px,#ead5cd 60px,#d89f8a 91px,#cf846a 101px,#c6694c 106px,#b63b2c 110px,#98182a 118px,#7f0f2a 132px)"></i>
<i style="left:342.8px;top:115.5px;height:237.4px;background:linear-gradient(#90bcd0 0,#c2d4de 17px,#efebea 50px,#ead5cd 61px,#e2baac 79px,#d89f8a 94px,#cf846a 102px,#c6694c 107px,#b63b2c 112px,#98182a 122px,#7f0f2a 133px)"></i>
<i style="left:344.8px;top:115.5px;height:238.9px;background:linear-gradient(#9bc1d4 0,#c7d6e0 18px,#efebea 52px,#ead5cd 63px,#e2baac 81px,#d89f8a 96px,#cf846a 104px,#c6694c 109px,#b63b2c 114px,#98182a 124px,#7f0f2a 135px)"></i>
<i style="left:346.8px;top:115.4px;height:239px;background:linear-gradient(#a1c4d5 0,#c9d8e0 19px,#efebea 54px,#ead5cd 65px,#e2baac 83px,#d89f8a 98px,#cf846a 106px,#c6694c 111px,#b63b2c 116px,#98182a 126px,#7f0f2a 137px)"></i>
<i style="left:348.8px;top:115.4px;height:238px;background:linear-gradient(#95bed2 0,#c4d5df 19px,#efebea 54px,#d89f8a 97px,#cf846a 106px,#c6694c 112px,#b63b2c 116px,#98182a 125px,#7f0f2a 138px)"></i>
<i style="left:350.8px;top:115.3px;height:237.8px;background:linear-gradient(#a1c4d5 0,#c9d8e0 19px,#efebea 55px,#ead5cd 66px,#e2baac 84px,#d89f8a 99px,#cf846a 108px,#c6694c 114px,#b63b2c 118px,#98182a 127px,#7f0f2a 140px)"></i>
<i style="left:352.8px;top:115.3px;height:238.3px;background:linear-gradient(#acc9d8 0,#cddae2 19px,#efebea 54px,#ead5cd 66px,#d89f8a 100px,#cf846a 109px,#c6694c 115px,#b63b2c 120px,#98182a 129px,#7f0f2a 141px)"></i>
<i style="left:354.8px;top:115.2px;height:238px;background:linear-gradient(#a9c8d7 0,#ccd9e1 18px,#efebea 52px,#ead5cd 65px,#e2baac 85px,#d89f8a 101px,#cf846a 110px,#c6694c 116px,#b63b2c 122px,#98182a 132px,#7f0f2a 142px)"></i>
<i style="left:356.8px;top:115.2px;height:237.8px;background:linear-gradient(#9dc2d4 0,#c8d7e0 17px,#efebea 47px,#ead5cd 61px,#d89f8a 100px,#cf846a 110px,#c6694c 117px,#b63b2c 121px,#98182a 130px,#7f0f2a 142px)"></i>
<i style="left:358.8px;top:115.1px;height:238.6px;background:linear-gradient(#aac8d8 0,#ccdae1 15px,#efebea 44px,#ead5cd 58px,#d89f8a 99px,#cf846a 110px,#c6694c 117px,#b63b2c 121px,#98182a 130px,#7f0f2a 143px)"></i>
<i style="left:360.8px;top:115.1px;height:240.8px;background:linear-gradient(#b5cdda 0,#d1dce3 16px,#efebea 47px,#d89f8a 98px,#cf846a 109px,#c6694c 116px,#b63b2c 119px,#98182a 127px,#7f0f2a 141px)"></i>
<i style="left:362.8px;top:115px;height:243.6px;background:linear-gradient(#b0cad9 0,#cedbe2 18px,#efebea 51px,#ead5cd 64px,#d89f8a 101px,#c6694c 116px,#b63b2c 122px,#98182a 132px,#7f0f2a 141px)"></i>
<i style="left:364.8px;top:115px;width:1px;height:245.5px;background:linear-gradient(#b0cbd9 0,#cfdbe2 20px,#efebea 58px,#ead5cd 69px,#e2baac 88px,#d89f8a 103px,#c6694c 116px,#b63b2c 122px,#98182a 132px,#7f0f2a 142px)"></i>
<i style="left:365.5px;top:116.2px;height:34.2px;background:linear-gradient(#bfd2dd 0,#dfe3e7 34px)"></i>
<i style="left:367.5px;top:117.6px;height:32.7px;background:linear-gradient(#bcd0dc 0,#dce2e6 33px)"></i>
<i style="left:369.5px;top:121.8px;height:28.5px;background:linear-gradient(#c4d5df 0,#e4e6e8 28px)"></i>
<i style="left:371.5px;top:126.8px;height:23.4px;background:linear-gradient(#bfd2dd 0,#dfe3e7 23px)"></i>
<i style="left:373.5px;top:135.5px;width:1.8px;height:14.5px;background:linear-gradient(#bdd1dc 0,#dde2e6 15px)"></i>
<i style="left:366px;top:150.4px;height:265.7px;background:linear-gradient(#283b9b 0,#125bbb 29px,#438ebe 49px,#b9cedb 71px,#efebea 92px,#ead5cd 101px,#e2baac 115px,#d89f8a 126px,#cf846a 130px,#c6694c 135px,#b63b2c 141px,#98182a 152px,#7f0f2a 160px)"></i>
<i style="left:368px;top:150.1px;height:262.4px;background:linear-gradient(#283c9d 0,#115cbc 25px,#438ebe 42px,#b9cedb 60px,#efebea 78px,#d89f8a 115px,#cf846a 123px,#c6694c 128px,#b63b2c 132px,#98182a 141px,#7f0f2a 154px)"></i>
<i style="left:370px;top:149.8px;height:254.4px;background:linear-gradient(#2a40a8 0,#1060be 24px,#438ebe 39px,#b9cedb 61px,#efebea 82px,#ead5cd 90px,#e2baac 104px,#d89f8a 115px,#c6694c 125px,#b63b2c 130px,#98182a 140px,#7f0f2a 150px)"></i>
<i style="left:372px;top:149.6px;height:248.4px;background:linear-gradient(#2a41a9 0,#1061be 29px,#438ebe 48px,#b9cedb 68px,#efebea 88px,#ead5cd 94px,#e2baac 106px,#d89f8a 115px,#cf846a 118px,#c6694c 122px,#b63b2c 127px,#98182a 138px,#7f0f2a 147px)"></i>
<i style="left:374px;top:149.3px;height:244.6px;background:linear-gradient(#2a40a8 0,#1060be 33px,#438ebe 55px,#b9cedb 71px,#efebea 87px,#ead5cd 93px,#e2baac 104px,#d89f8a 112px,#c6694c 118px,#b63b2c 124px,#98182a 134px,#7f0f2a 144px)"></i>
<i style="left:376px;top:149px;height:240px;background:linear-gradient(#2645ad 0,#1263be 31px,#438ebe 52px,#b9cedb 67px,#efebea 81px,#ead5cd 88px,#e2baac 99px,#d89f8a 108px,#cf846a 113px,#c6694c 116px,#b63b2c 121px,#98182a 131px,#7f0f2a 142px)"></i>
<i style="left:378px;top:148.7px;height:236.1px;background:linear-gradient(#2348af 0,#1364be 29px,#438ebe 48px,#b9cedb 61px,#efebea 74px,#ead5cd 82px,#d89f8a 105px,#cf846a 112px,#c6694c 116px,#b63b2c 119px,#98182a 128px,#7f0f2a 142px)"></i>
<i style="left:380px;top:148.5px;height:232.5px;background:linear-gradient(#2844ac 0,#1262be 25px,#438ebe 42px,#b9cedb 54px,#efebea 67px,#ead5cd 76px,#e2baac 91px,#d89f8a 103px,#cf846a 110px,#c6694c 115px,#b63b2c 119px,#98182a 128px,#7f0f2a 141px)"></i>
<i style="left:382px;top:148.3px;height:234px;background:linear-gradient(#293fa5 0,#1060be 20px,#438ebe 33px,#b9cedb 49px,#efebea 65px,#ead5cd 75px,#e2baac 90px,#d89f8a 102px,#c6694c 112px,#b63b2c 118px,#98182a 129px,#7f0f2a 138px)"></i>
<i style="left:384px;top:148px;height:236.3px;background:linear-gradient(#283c9d 0,#125cbc 22px,#438ebe 36px,#b9cedb 55px,#efebea 74px,#ead5cd 82px,#d89f8a 105px,#c6694c 114px,#b63b2c 119px,#98182a 128px,#7f0f2a 140px)"></i>
<i style="left:386px;top:147.8px;height:238.5px;background:linear-gradient(#26358b 0,#1854b7 24px,#438ebe 39px,#b9cedb 60px,#efebea 80px,#d89f8a 106px,#cf846a 112px,#c6694c 115px,#b63b2c 119px,#98182a 127px,#7f0f2a 141px)"></i>
<i style="left:388px;top:147.6px;height:240.7px;background:linear-gradient(#283a99 0,#135bbb 24px,#438ebe 40px,#b9cedb 62px,#efebea 83px,#ead5cd 90px,#e2baac 101px,#d89f8a 110px,#c6694c 118px,#b63b2c 123px,#98182a 133px,#7f0f2a 143px)"></i>
<i style="left:390px;top:147.4px;height:242.2px;background:linear-gradient(#283c9d 0,#115cbc 24px,#438ebe 39px,#b9cedb 61px,#efebea 82px,#d89f8a 111px,#cf846a 116px,#c6694c 119px,#b63b2c 124px,#98182a 134px,#7f0f2a 145px)"></i>
<i style="left:392px;top:147.2px;height:242.8px;background:linear-gradient(#293ea2 0,#0f5fbe 21px,#438ebe 36px,#b9cedb 56px,#efebea 77px,#ead5cd 85px,#d89f8a 109px,#cf846a 115px,#c6694c 119px,#b63b2c 123px,#98182a 133px,#7f0f2a 145px)"></i>
<i style="left:394px;top:146.9px;height:241.1px;background:linear-gradient(#2448ae 0,#1364be 21px,#438ebe 35px,#b9cedb 53px,#efebea 70px,#d89f8a 106px,#cf846a 113px,#c6694c 117px,#b63b2c 122px,#98182a 131px,#7f0f2a 143px)"></i>
<i style="left:396px;top:146.7px;height:239.3px;background:linear-gradient(#1558ba 0,#196bbe 20px,#438ebe 34px,#b9cedb 50px,#efebea 66px,#d89f8a 101px,#cf846a 110px,#c6694c 115px,#b63b2c 117px,#98182a 124px,#7f0f2a 141px)"></i>
<i style="left:398px;top:146.5px;height:238.2px;background:linear-gradient(#1161be 0,#1c6fbe 19px,#438ebe 32px,#b9cedb 48px,#efebea 64px,#d89f8a 101px,#cf846a 109px,#c6694c 114px,#b63b2c 118px,#98182a 126px,#7f0f2a 140px)"></i>
<i style="left:400px;top:146.3px;height:236.4px;background:linear-gradient(#1566be 0,#1f72be 18px,#438ebe 29px,#b9cedb 45px,#efebea 61px,#d89f8a 98px,#cf846a 107px,#c6694c 112px,#b63b2c 115px,#98182a 123px,#7f0f2a 138px)"></i>
<i style="left:402px;top:146.1px;height:238px;background:linear-gradient(#1567be 0,#1f72be 17px,#438ebe 28px,#b9cedb 45px,#efebea 61px,#ead5cd 72px,#e2baac 89px,#d89f8a 103px,#cf846a 110px,#c6694c 115px,#b63b2c 120px,#98182a 130px,#7f0f2a 141px)"></i>
<i style="left:404px;top:145.8px;height:239.7px;background:linear-gradient(#1b6ebe 0,#2377be 22px,#438ebe 37px,#b9cedb 53px,#efebea 69px,#ead5cd 78px,#d89f8a 105px,#cf846a 112px,#c6694c 117px,#b63b2c 121px,#98182a 130px,#7f0f2a 142px)"></i>
<i style="left:406px;top:145.6px;height:240px;background:linear-gradient(#1769be 0,#2074be 10px,#438ebe 17px,#b9cedb 47px,#efebea 76px,#ead5cd 85px,#d89f8a 110px,#cf846a 116px,#c6694c 120px,#b63b2c 125px,#98182a 134px,#7f0f2a 146px)"></i>
<i style="left:408px;top:145.4px;height:241.7px;background:linear-gradient(#196bbe 0,#2175be 6px,#438ebe 10px,#b9cedb 46px,#efebea 82px,#ead5cd 90px,#e2baac 104px,#d89f8a 115px,#c6694c 124px,#b63b2c 129px,#98182a 140px,#7f0f2a 150px)"></i>
<i style="left:410px;top:145.2px;height:245.6px;background:linear-gradient(#1a6cbe 0,#2276be 3px,#438ebe 5px,#b9cedb 46px,#efebea 86px,#ead5cd 93px,#e2baac 105px,#d89f8a 114px,#c6694c 123px,#b63b2c 128px,#98182a 137px,#7f0f2a 148px)"></i>
<i style="left:412px;top:145px;height:244.5px;background:linear-gradient(#196bbe 0,#2175be 5px,#438ebe 9px,#b9cedb 50px,#efebea 91px,#ead5cd 97px,#e2baac 107px,#d89f8a 115px,#c6694c 121px,#b63b2c 127px,#98182a 137px,#7f0f2a 147px)"></i>
<i style="left:414px;top:144.7px;height:242.5px;background:linear-gradient(#1668be 0,#2073be 9px,#438ebe 15px,#b9cedb 53px,#efebea 91px,#ead5cd 97px,#e2baac 107px,#d89f8a 115px,#cf846a 117px,#c6694c 120px,#b63b2c 126px,#98182a 137px,#7f0f2a 146px)"></i>
<i style="left:416px;top:144.5px;height:241.2px;background:linear-gradient(#1769be 0,#2074be 6px,#438ebe 11px,#b9cedb 50px,#efebea 89px,#ead5cd 95px,#e2baac 105px,#d89f8a 113px,#c6694c 119px,#b63b2c 126px,#98182a 136px,#7f0f2a 145px)"></i>
<i style="left:418px;top:144.3px;height:238.5px;background:linear-gradient(#1667be 0,#2073be 4px,#438ebe 6px,#b9cedb 47px,#efebea 89px,#d89f8a 110px,#cf846a 115px,#c6694c 118px,#b63b2c 122px,#98182a 131px,#7f0f2a 144px)"></i>
<i style="left:420px;top:144.1px;height:237.1px;background:linear-gradient(#1768be 0,#2074be 5px,#438ebe 8px,#b9cedb 50px,#efebea 91px,#ead5cd 97px,#e2baac 107px,#d89f8a 114px,#cf846a 118px,#c6694c 121px,#b63b2c 126px,#98182a 136px,#7f0f2a 147px)"></i>
<i style="left:422px;top:143.9px;height:236.3px;background:linear-gradient(#196bbe 0,#2275be 6px,#438ebe 11px,#b9cedb 49px,#efebea 88px,#ead5cd 94px,#e2baac 105px,#d89f8a 114px,#c6694c 120px,#b63b2c 126px,#98182a 137px,#7f0f2a 146px)"></i>
<i style="left:424px;top:143.6px;height:238.1px;background:linear-gradient(#2073be 0,#267abe 5px,#438ebe 8px,#b9cedb 44px,#efebea 79px,#ead5cd 87px,#d89f8a 110px,#cf846a 118px,#c6694c 122px,#b63b2c 125px,#98182a 134px,#7f0f2a 148px)"></i>
<i style="left:426px;top:143.4px;height:240.7px;background:linear-gradient(#1a6cbe 0,#2276be 4px,#438ebe 7px,#b9cedb 34px,#efebea 61px,#d89f8a 107px,#cf846a 116px,#c6694c 122px,#b63b2c 127px,#98182a 136px,#7f0f2a 148px)"></i>
<i style="left:428px;top:143.2px;height:242.5px;background:linear-gradient(#1d70be 0,#2479be 4px,#438ebe 6px,#b9cedb 32px,#efebea 57px,#d89f8a 105px,#cf846a 114px,#c6694c 120px,#b63b2c 125px,#98182a 135px,#7f0f2a 146px)"></i>
<i style="left:430px;top:143px;height:240.7px;background:linear-gradient(#1e71be 0,#2579be 4px,#438ebe 6px,#b9cedb 31px,#efebea 57px,#ead5cd 69px,#d89f8a 104px,#cf846a 113px,#c6694c 119px,#b63b2c 124px,#98182a 133px,#7f0f2a 145px)"></i>
<i style="left:432px;top:142.8px;height:239.6px;background:linear-gradient(#1c6fbe 0,#2478be 3px,#438ebe 5px,#b9cedb 31px,#efebea 57px,#ead5cd 69px,#e2baac 88px,#d89f8a 103px,#cf846a 110px,#c6694c 115px,#b63b2c 122px,#98182a 132px,#7f0f2a 141px)"></i>
<i style="left:434px;top:142.5px;height:239.2px;background:linear-gradient(#1b6ebe 0,#2377be 4px,#438ebe 7px,#b9cedb 36px,#efebea 65px,#d89f8a 102px,#cf846a 109px,#c6694c 114px,#b63b2c 118px,#98182a 127px,#7f0f2a 140px)"></i>
<i style="left:436px;top:142.3px;height:238.1px;background:linear-gradient(#1a6cbe 0,#2276be 6px,#438ebe 10px,#b9cedb 39px,#efebea 68px,#d89f8a 101px,#cf846a 109px,#c6694c 113px,#b63b2c 116px,#98182a 124px,#7f0f2a 139px)"></i>
<i style="left:438px;top:142.1px;height:239px;background:linear-gradient(#1b6ebe 0,#2377be 23px,#438ebe 39px,#b9cedb 55px,#efebea 71px,#ead5cd 79px,#d89f8a 102px,#cf846a 109px,#c6694c 113px,#b63b2c 117px,#98182a 125px,#7f0f2a 139px)"></i>
<i style="left:440px;top:141.9px;height:238.9px;background:linear-gradient(#2073be 0,#267bbe 29px,#438ebe 49px,#b9cedb 60px,#efebea 71px,#ead5cd 80px,#d89f8a 105px,#c6694c 115px,#b63b2c 120px,#98182a 130px,#7f0f2a 140px)"></i>
<i style="left:442px;top:141.6px;height:240.4px;background:linear-gradient(#2073be 0,#267bbe 21px,#438ebe 35px,#b9cedb 50px,#efebea 65px,#ead5cd 75px,#e2baac 91px,#d89f8a 104px,#cf846a 112px,#c6694c 117px,#b63b2c 121px,#98182a 130px,#7f0f2a 143px)"></i>
<i style="left:444px;top:141.4px;height:242.6px;background:linear-gradient(#2276be 0,#277cbe 18px,#438ebe 29px,#b9cedb 46px,#efebea 62px,#ead5cd 73px,#d89f8a 105px,#cf846a 113px,#c6694c 118px,#b63b2c 123px,#98182a 133px,#7f0f2a 144px)"></i>
<i style="left:446px;top:141.2px;height:242.1px;background:linear-gradient(#2276be 0,#277cbe 17px,#438ebe 28px,#b9cedb 45px,#efebea 62px,#ead5cd 73px,#d89f8a 104px,#cf846a 112px,#c6694c 117px,#b63b2c 122px,#98182a 131px,#7f0f2a 143px)"></i>
<i style="left:448px;top:141px;height:240.7px;background:linear-gradient(#297ebe 0,#65a4c0 33px,#b4ccda 52px,#efebea 61px,#ead5cd 72px,#e2baac 92px,#d89f8a 106px,#cf846a 110px,#c6694c 116px,#b63b2c 124px,#98182a 137px,#7f0f2a 142px)"></i>
<i style="left:450px;top:140.8px;height:237.2px;background:linear-gradient(#64a3c0 0,#acc9d8 21px,#d6dfe5 41px,#efebea 59px,#ead5cd 70px,#e2baac 89px,#d89f8a 103px,#c6694c 115px,#b63b2c 121px,#98182a 132px,#7f0f2a 141px)"></i>
<i style="left:452px;top:140.6px;height:235.7px;background:linear-gradient(#69a6c2 0,#afcad9 21px,#d7e0e5 42px,#efebea 60px,#ead5cd 71px,#e2baac 88px,#d89f8a 101px,#cf846a 108px,#c6694c 113px,#b63b2c 118px,#98182a 129px,#7f0f2a 139px)"></i>
<i style="left:454px;top:140.6px;height:233.5px;background:linear-gradient(#68a5c1 0,#aecad9 22px,#d7dfe5 43px,#efebea 62px,#ead5cd 72px,#e2baac 89px,#d89f8a 102px,#c6694c 112px,#b63b2c 119px,#98182a 130px,#7f0f2a 138px)"></i>
<i style="left:456px;top:140.5px;height:232px;background:linear-gradient(#76adc7 0,#b6cddb 21px,#d9e0e5 42px,#efebea 59px,#ead5cd 70px,#e2baac 87px,#d89f8a 100px,#cf846a 107px,#c6694c 112px,#b63b2c 118px,#98182a 128px,#7f0f2a 138px)"></i>
<i style="left:458px;top:140.4px;height:232.6px;background:linear-gradient(#70aac5 0,#b3ccda 19px,#d8e0e5 38px,#efebea 54px,#d89f8a 96px,#cf846a 105px,#c6694c 111px,#b63b2c 114px,#98182a 122px,#7f0f2a 136px)"></i>
<i style="left:460px;top:140.3px;height:232.3px;background:linear-gradient(#70aac4 0,#b3ccda 17px,#d8e0e5 35px,#efebea 50px,#ead5cd 62px,#e2baac 81px,#d89f8a 96px,#cf846a 104px,#c6694c 110px,#b63b2c 116px,#98182a 126px,#7f0f2a 136px)"></i>
<i style="left:462px;top:140.2px;height:232px;background:linear-gradient(#7eb2ca 0,#bbcfdc 16px,#efebea 45px,#d89f8a 93px,#cf846a 103px,#c6694c 109px,#b63b2c 113px,#98182a 122px,#7f0f2a 135px)"></i>
<i style="left:464px;top:140.2px;height:231.7px;background:linear-gradient(#86b6cd 0,#bed1dd 15px,#dce2e6 29px,#efebea 42px,#ead5cd 55px,#e2baac 78px,#d89f8a 96px,#c6694c 109px,#b63b2c 116px,#98182a 129px,#7f0f2a 134px)"></i>
<i style="left:466px;top:140.1px;height:232.1px;background:linear-gradient(#86b6cd 0,#bed1dd 13px,#dce2e6 27px,#efebea 39px,#ead5cd 52px,#d89f8a 91px,#cf846a 101px,#c6694c 108px,#b63b2c 112px,#98182a 122px,#7f0f2a 134px)"></i>
<i style="left:468px;top:140px;height:231.8px;background:linear-gradient(#8ebbd0 0,#c2d3de 12px,#efebea 35px,#ead5cd 49px,#e2baac 71px,#d89f8a 89px,#cf846a 99px,#c6694c 106px,#b63b2c 111px,#98182a 121px,#7f0f2a 131px)"></i>
<i style="left:470px;top:139.9px;height:230.1px;background:linear-gradient(#8fbbd0 0,#c2d4de 13px,#dde2e6 26px,#efebea 38px,#ead5cd 51px,#e2baac 73px,#d89f8a 90px,#c6694c 105px,#b63b2c 111px,#98182a 121px,#7f0f2a 131px)"></i>
<i style="left:472px;top:139.8px;height:229.8px;background:linear-gradient(#95bfd2 0,#c5d5df 15px,#efebea 42px,#ead5cd 54px,#d89f8a 88px,#cf846a 99px,#c6694c 105px,#b63b2c 108px,#98182a 116px,#7f0f2a 131px)"></i>
<i style="left:474px;top:139.8px;height:229.5px;background:linear-gradient(#a1c4d5 0,#c9d8e0 15px,#efebea 43px,#d89f8a 90px,#cf846a 99px,#c6694c 105px,#b63b2c 110px,#98182a 119px,#7f0f2a 131px)"></i>
<i style="left:476px;top:139.7px;height:229.2px;background:linear-gradient(#afcad9 0,#cedbe2 14px,#efebea 40px,#ead5cd 53px,#e2baac 74px,#d89f8a 91px,#c6694c 105px,#b63b2c 111px,#98182a 122px,#7f0f2a 130px)"></i>
<i style="left:478px;top:139.6px;height:229.5px;background:linear-gradient(#b1cbd9 0,#cfdbe2 13px,#efebea 36px,#ead5cd 50px,#d89f8a 89px,#cf846a 99px,#c6694c 106px,#b63b2c 110px,#98182a 119px,#7f0f2a 132px)"></i>
<i style="left:480px;top:139.5px;height:230.4px;background:linear-gradient(#acc9d8 0,#cddae2 12px,#efebea 34px,#ead5cd 49px,#e2baac 72px,#d89f8a 91px,#c6694c 107px,#b63b2c 113px,#98182a 123px,#7f0f2a 133px)"></i>
<i style="left:482px;top:139.4px;height:231.3px;background:linear-gradient(#a9c7d7 0,#ccd9e1 12px,#efebea 34px,#ead5cd 49px,#e2baac 73px,#d89f8a 93px,#c6694c 108px,#b63b2c 115px,#98182a 127px,#7f0f2a 134px)"></i>
<i style="left:484px;top:139.4px;height:232.2px;background:linear-gradient(#afcad9 0,#cedbe2 12px,#efebea 35px,#ead5cd 50px,#d89f8a 92px,#cf846a 102px,#c6694c 109px,#b63b2c 114px,#98182a 124px,#7f0f2a 135px)"></i>
<i style="left:486px;top:139.3px;height:235.2px;background:linear-gradient(#a6c6d7 0,#cbd9e1 12px,#efebea 35px,#ead5cd 50px,#e2baac 73px,#d89f8a 92px,#c6694c 110px,#b63b2c 115px,#98182a 125px,#7f0f2a 136px)"></i>
<i style="left:488px;top:139.2px;height:236.1px;background:linear-gradient(#9ac1d3 0,#c6d6df 13px,#efebea 37px,#d89f8a 93px,#c6694c 111px,#b63b2c 115px,#98182a 125px,#7f0f2a 136px)"></i>
<i style="left:490px;top:139.1px;height:235.6px;background:linear-gradient(#90bcd1 0,#c3d4de 13px,#efebea 38px,#ead5cd 52px,#d89f8a 95px,#c6694c 111px,#b63b2c 117px,#98182a 127px,#7f0f2a 137px)"></i>
<i style="left:492px;top:139px;height:236.5px;background:linear-gradient(#a1c4d5 0,#c9d8e0 13px,#efebea 38px,#ead5cd 52px,#d89f8a 93px,#cf846a 104px,#c6694c 111px,#b63b2c 115px,#98182a 124px,#7f0f2a 137px)"></i>
<i style="left:494px;top:138.9px;height:238px;background:linear-gradient(#a2c4d6 0,#c9d8e0 13px,#efebea 38px,#ead5cd 52px,#e2baac 75px,#d89f8a 94px,#c6694c 110px,#b63b2c 116px,#98182a 127px,#7f0f2a 136px)"></i>
<i style="left:496px;top:138.9px;height:237.8px;background:linear-gradient(#9fc3d5 0,#c8d7e0 13px,#efebea 37px,#ead5cd 51px,#d89f8a 91px,#cf846a 102px,#c6694c 109px,#b63b2c 113px,#98182a 122px,#7f0f2a 134px)"></i>
<i style="left:498px;top:138.8px;height:235.5px;background:linear-gradient(#96bfd3 0,#c5d5df 13px,#efebea 36px,#ead5cd 50px,#e2baac 73px,#d89f8a 92px,#c6694c 107px,#b63b2c 114px,#98182a 125px,#7f0f2a 133px)"></i>
<i style="left:500px;top:138.7px;height:235.4px;background:linear-gradient(#9ac1d3 0,#c6d6df 13px,#efebea 37px,#d89f8a 88px,#cf846a 99px,#c6694c 106px,#b63b2c 109px,#98182a 116px,#7f0f2a 132px)"></i>
<i style="left:502px;top:138.6px;height:234.5px;background:linear-gradient(#9ec3d5 0,#c8d7e0 14px,#efebea 40px,#ead5cd 53px,#d89f8a 92px,#c6694c 107px,#b63b2c 112px,#98182a 123px,#7f0f2a 133px)"></i>
<i style="left:504px;top:138.5px;height:234.3px;background:linear-gradient(#a1c4d5 0,#c9d8e0 15px,#efebea 42px,#ead5cd 55px,#e2baac 76px,#d89f8a 93px,#c6694c 108px,#b63b2c 114px,#98182a 125px,#7f0f2a 134px)"></i>
<i style="left:506px;top:138.5px;height:237px;background:linear-gradient(#a2c4d5 0,#c9d8e0 15px,#efebea 44px,#ead5cd 57px,#d89f8a 93px,#cf846a 103px,#c6694c 109px,#b63b2c 113px,#98182a 122px,#7f0f2a 135px)"></i>
<i style="left:508px;top:138.4px;height:236.8px;background:linear-gradient(#a7c6d7 0,#cbd9e1 16px,#efebea 46px,#ead5cd 59px,#e2baac 80px,#d89f8a 97px,#c6694c 110px,#b63b2c 117px,#98182a 128px,#7f0f2a 136px)"></i>
<i style="left:510px;top:138.3px;height:233.8px;background:linear-gradient(#afcad9 0,#cedbe2 18px,#efebea 50px,#d89f8a 96px,#cf846a 106px,#c6694c 112px,#b63b2c 115px,#98182a 124px,#7f0f2a 137px)"></i>
<i style="left:512px;top:138.2px;height:233.7px;background:linear-gradient(#b7cedb 0,#d1dce3 19px,#efebea 54px,#ead5cd 66px,#e2baac 84px,#d89f8a 99px,#cf846a 108px,#c6694c 113px,#b63b2c 118px,#98182a 128px,#7f0f2a 139px)"></i>
<i style="left:514px;top:138.1px;height:235.4px;background:linear-gradient(#b7cedb 0,#d1dce3 19px,#efebea 54px,#d89f8a 101px,#cf846a 110px,#c6694c 116px,#b63b2c 120px,#98182a 129px,#7f0f2a 142px)"></i>
<i style="left:516px;top:138.1px;height:234.9px;background:linear-gradient(#aecad8 0,#cedae2 20px,#efebea 56px,#ead5cd 68px,#e2baac 88px,#d89f8a 104px,#c6694c 116px,#b63b2c 123px,#98182a 135px,#7f0f2a 142px)"></i>
<i style="left:518px;top:138px;height:235px;background:linear-gradient(#b1cbd9 0,#cfdbe2 20px,#efebea 58px,#ead5cd 69px,#e2baac 89px,#d89f8a 104px,#cf846a 109px,#c6694c 115px,#b63b2c 122px,#98182a 134px,#7f0f2a 141px)"></i>
<i style="left:520px;top:137.9px;height:234.5px;background:linear-gradient(#abc9d8 0,#cddae2 20px,#efebea 58px,#ead5cd 69px,#e2baac 87px,#d89f8a 101px,#cf846a 108px,#c6694c 113px,#b63b2c 119px,#98182a 130px,#7f0f2a 139px)"></i>
<i style="left:522px;top:137.8px;height:234px;background:linear-gradient(#b4cdda 0,#d0dce3 21px,#efebea 59px,#ead5cd 69px,#d89f8a 98px,#cf846a 105px,#c6694c 110px,#b63b2c 115px,#98182a 124px,#7f0f2a 136px)"></i>
<i style="left:524px;top:137.7px;height:233.5px;background:linear-gradient(#aecad9 0,#cedbe2 20px,#efebea 58px,#ead5cd 68px,#e2baac 84px,#d89f8a 97px,#c6694c 108px,#b63b2c 113px,#98182a 123px,#7f0f2a 133px)"></i>
<i style="left:526px;top:137.7px;height:234.1px;background:linear-gradient(#b4ccda 0,#d0dce3 20px,#efebea 57px,#ead5cd 67px,#d89f8a 95px,#cf846a 102px,#c6694c 107px,#b63b2c 112px,#98182a 121px,#7f0f2a 133px)"></i>
<i style="left:528px;top:137.6px;height:237.6px;background:linear-gradient(#aecad9 0,#cedbe2 21px,#efebea 60px,#ead5cd 69px,#d89f8a 96px,#cf846a 103px,#c6694c 108px,#b63b2c 112px,#98182a 121px,#7f0f2a 134px)"></i>
<i style="left:530px;top:137.5px;height:239.6px;background:linear-gradient(#aac8d7 0,#ccdae1 22px,#efebea 63px,#ead5cd 72px,#e2baac 89px,#d89f8a 101px,#cf846a 105px,#c6694c 110px,#b63b2c 117px,#98182a 129px,#7f0f2a 136px)"></i>
<i style="left:532px;top:137.4px;height:243px;background:linear-gradient(#b6cddb 0,#d1dce3 24px,#efebea 67px,#ead5cd 76px,#e2baac 90px,#d89f8a 101px,#cf846a 108px,#c6694c 112px,#b63b2c 117px,#98182a 126px,#7f0f2a 138px)"></i>
<i style="left:534px;top:137.3px;height:245.4px;background:linear-gradient(#b8cedb 0,#d2dde3 23px,#efebea 67px,#ead5cd 76px,#d89f8a 102px,#cf846a 109px,#c6694c 114px,#b63b2c 118px,#98182a 127px,#7f0f2a 139px)"></i>
<i style="left:536px;top:137.3px;height:244px;background:linear-gradient(#b4ccda 0,#d0dce3 23px,#efebea 65px,#ead5cd 75px,#d89f8a 103px,#cf846a 110px,#c6694c 114px,#b63b2c 120px,#98182a 130px,#7f0f2a 140px)"></i>
<i style="left:538px;top:137.2px;height:242.6px;background:linear-gradient(#b9cfdb 0,#d2dde3 22px,#efebea 64px,#ead5cd 74px,#d89f8a 102px,#cf846a 110px,#c6694c 115px,#b63b2c 119px,#98182a 128px,#7f0f2a 141px)"></i>
<i style="left:540px;top:137.1px;height:241.2px;background:linear-gradient(#adc9d8 0,#cedae2 23px,#efebea 66px,#ead5cd 76px,#e2baac 92px,#d89f8a 105px,#c6694c 116px,#b63b2c 122px,#98182a 132px,#7f0f2a 142px)"></i>
<i style="left:542px;top:137px;height:238.4px;background:linear-gradient(#b7cedb 0,#d1dce3 24px,#efebea 67px,#ead5cd 77px,#d89f8a 105px,#cf846a 112px,#c6694c 117px,#b63b2c 122px,#98182a 131px,#7f0f2a 143px)"></i>
<i style="left:544px;top:136.9px;height:239.3px;background:linear-gradient(#c0d2dd 0,#efebea 67px,#ead5cd 77px,#d89f8a 105px,#cf846a 113px,#c6694c 119px,#b63b2c 123px,#98182a 131px,#7f0f2a 144px)"></i>
<i style="left:546px;top:136.8px;height:243.7px;background:linear-gradient(#b1cbd9 0,#cfdbe2 23px,#efebea 65px,#d89f8a 106px,#cf846a 114px,#c6694c 120px,#b63b2c 124px,#98182a 133px,#7f0f2a 145px)"></i>
<i style="left:548px;top:137px;height:247.9px;background:linear-gradient(#acc9d8 0,#cddae2 22px,#efebea 64px,#d89f8a 107px,#cf846a 117px,#c6694c 123px,#b63b2c 125px,#98182a 133px,#7f0f2a 149px)"></i>
<i style="left:550px;top:137.5px;height:252.5px;background:linear-gradient(#b3ccda 0,#d0dbe3 22px,#efebea 62px,#ead5cd 75px,#d89f8a 112px,#c6694c 126px,#b63b2c 131px,#98182a 142px,#7f0f2a 151px)"></i>
<i style="left:552px;top:138px;height:248.9px;background:linear-gradient(#c4d5df 0,#d8e0e5 24px,#efebea 68px,#ead5cd 80px,#e2baac 98px,#d89f8a 113px,#cf846a 121px,#c6694c 127px,#b63b2c 132px,#98182a 141px,#7f0f2a 153px)"></i>
<i style="left:554px;top:141px;height:237.1px;background:linear-gradient(#bbd0dc 0,#d3dde4 25px,#efebea 72px,#ead5cd 82px,#d89f8a 110px,#cf846a 116px,#c6694c 120px,#b63b2c 126px,#98182a 137px,#7f0f2a 146px)"></i>
<i style="left:556px;top:143.9px;height:226.1px;background:linear-gradient(#b7cedb 0,#d1dce3 26px,#efebea 76px,#ead5cd 83px,#e2baac 97px,#d89f8a 106px,#cf846a 107px,#c6694c 111px,#b63b2c 119px,#98182a 132px,#7f0f2a 136px)"></i>
<i style="left:558px;top:146.9px;height:217.4px;background:linear-gradient(#adc9d8 0,#cddae2 19px,#efebea 54px,#ead5cd 63px,#d89f8a 91px,#cf846a 97px,#c6694c 101px,#b63b2c 107px,#98182a 117px,#7f0f2a 127px)"></i>
<i style="left:560px;top:149.9px;height:212.5px;background:linear-gradient(#b8cedb 0,#d2dde3 11px,#efebea 31px,#ead5cd 45px,#d89f8a 84px,#c6694c 100px,#b63b2c 105px,#98182a 115px,#7f0f2a 126px)"></i>
<i style="left:562px;top:152.8px;height:212.3px;background:linear-gradient(#b5cdda 0,#d1dce3 9px,#efebea 25px,#ead5cd 41px,#e2baac 65px,#d89f8a 85px,#cf846a 96px,#c6694c 104px,#b63b2c 109px,#98182a 118px,#7f0f2a 130px)"></i>
<i style="left:564px;top:155.8px;height:212.8px;background:linear-gradient(#9dc2d4 0,#c7d7e0 8px,#dfe3e7 15px,#efebea 22px,#d89f8a 85px,#cf846a 97px,#c6694c 106px,#b63b2c 110px,#98182a 118px,#7f0f2a 132px)"></i>
<i style="left:566px;top:158.8px;height:218.1px;background:linear-gradient(#a2c4d6 0,#c9d8e0 10px,#efebea 28px,#d89f8a 87px,#cf846a 101px,#c6694c 109px,#b63b2c 111px,#98182a 118px,#7f0f2a 135px)"></i>
<i style="left:568px;top:161.5px;height:223.4px;background:linear-gradient(#9cc2d4 0,#c7d6e0 12px,#efebea 34px,#ead5cd 49px,#d89f8a 91px,#cf846a 102px,#c6694c 109px,#b63b2c 113px,#98182a 122px,#7f0f2a 135px)"></i>
<i style="left:570px;top:163.3px;height:224.2px;background:linear-gradient(#94bed2 0,#c4d5df 13px,#efebea 38px,#ead5cd 52px,#d89f8a 91px,#cf846a 101px,#c6694c 108px,#b63b2c 113px,#98182a 121px,#7f0f2a 134px)"></i>
<i style="left:572px;top:165.2px;height:224.6px;background:linear-gradient(#97c0d3 0,#c5d5df 16px,#efebea 45px,#ead5cd 58px,#e2baac 79px,#d89f8a 95px,#c6694c 109px,#b63b2c 115px,#98182a 126px,#7f0f2a 134px)"></i>
<i style="left:574px;top:167px;height:225.1px;background:linear-gradient(#93bdd2 0,#c4d4df 20px,#efebea 58px,#d89f8a 98px,#cf846a 106px,#c6694c 111px,#b63b2c 116px,#98182a 125px,#7f0f2a 137px)"></i>
<i style="left:576px;top:168.9px;height:225.5px;background:linear-gradient(#98c0d3 0,#c5d6df 23px,#efebea 66px,#d89f8a 102px,#cf846a 109px,#c6694c 114px,#b63b2c 118px,#98182a 127px,#7f0f2a 140px)"></i>
<i style="left:578px;top:170.8px;height:228.3px;background:linear-gradient(#9dc2d4 0,#c7d7e0 23px,#efebea 66px,#ead5cd 76px,#e2baac 93px,#d89f8a 107px,#c6694c 117px,#b63b2c 124px,#98182a 135px,#7f0f2a 143px)"></i>
<i style="left:580px;top:172.6px;height:238.4px;background:linear-gradient(#9ac1d3 0,#c6d6df 23px,#efebea 64px,#d89f8a 111px,#cf846a 119px,#c6694c 125px,#b63b2c 130px,#98182a 140px,#7f0f2a 151px)"></i>
<i style="left:582px;top:173.8px;width:0.8px;height:244px;background:linear-gradient(#95bed2 0,#c4d5df 22px,#efebea 63px,#d89f8a 109px,#cf846a 119px,#c6694c 125px,#b63b2c 129px,#98182a 138px,#7f0f2a 150px)"></i>
<i style="left:582.5px;top:176.1px;height:269.4px;background:linear-gradient(#2942ab 0,#1161be 27px,#438ebe 45px,#b9cedb 60px,#efebea 75px,#ead5cd 84px,#d89f8a 111px,#c6694c 122px,#b63b2c 127px,#98182a 136px,#7f0f2a 148px)"></i>
<i style="left:584.5px;top:176px;height:259.8px;background:linear-gradient(#2349b0 0,#1364be 19px,#438ebe 31px,#b9cedb 51px,#efebea 71px,#ead5cd 80px,#d89f8a 105px,#cf846a 114px,#c6694c 119px,#b63b2c 122px,#98182a 129px,#7f0f2a 145px)"></i>
<i style="left:586.5px;top:175.8px;height:238.8px;background:linear-gradient(#1a53b6 0,#1768be 18px,#438ebe 30px,#b9cedb 48px,#efebea 66px,#d89f8a 102px,#cf846a 110px,#c6694c 115px,#b63b2c 118px,#98182a 127px,#7f0f2a 140px)"></i>
<i style="left:588.5px;top:175.7px;height:231.9px;background:linear-gradient(#1756b8 0,#186abe 16px,#438ebe 27px,#b9cedb 45px,#efebea 64px,#ead5cd 73px,#d89f8a 100px,#cf846a 107px,#c6694c 111px,#b63b2c 116px,#98182a 125px,#7f0f2a 137px)"></i>
<i style="left:590.5px;top:175.5px;height:230.3px;background:linear-gradient(#1855b7 0,#1869be 14px,#438ebe 23px,#b9cedb 46px,#efebea 69px,#ead5cd 78px,#e2baac 92px,#d89f8a 103px,#c6694c 111px,#b63b2c 117px,#98182a 128px,#7f0f2a 137px)"></i>
<i style="left:592.5px;top:175.4px;height:230px;background:linear-gradient(#1855b7 0,#1869be 12px,#438ebe 20px,#b9cedb 47px,#efebea 74px,#d89f8a 101px,#cf846a 107px,#c6694c 111px,#b63b2c 115px,#98182a 124px,#7f0f2a 136px)"></i>
<i style="left:594.5px;top:175.2px;height:231.2px;background:linear-gradient(#1757b8 0,#186abe 11px,#438ebe 18px,#b9cedb 44px,#efebea 70px,#d89f8a 100px,#cf846a 107px,#c6694c 111px,#b63b2c 115px,#98182a 123px,#7f0f2a 137px)"></i>
<i style="left:596.5px;top:175.1px;height:230.9px;background:linear-gradient(#0f5fbe 0,#1b6dbe 10px,#438ebe 16px,#b9cedb 41px,#efebea 66px,#ead5cd 75px,#d89f8a 101px,#cf846a 107px,#c6694c 111px,#b63b2c 116px,#98182a 126px,#7f0f2a 137px)"></i>
<i style="left:598.5px;top:174.9px;height:230.7px;background:linear-gradient(#135abb 0,#196bbe 8px,#438ebe 13px,#b9cedb 37px,#efebea 60px,#ead5cd 70px,#e2baac 87px,#d89f8a 101px,#c6694c 112px,#b63b2c 118px,#98182a 129px,#7f0f2a 137px)"></i>
<i style="left:600.5px;top:174.8px;height:230.4px;background:linear-gradient(#115dbd 0,#1a6dbe 7px,#438ebe 11px,#b9cedb 37px,#efebea 63px,#ead5cd 72px,#d89f8a 98px,#cf846a 106px,#c6694c 111px,#b63b2c 114px,#98182a 121px,#7f0f2a 137px)"></i>
<i style="left:602.5px;top:174.6px;height:231.5px;background:linear-gradient(#1363be 0,#1e70be 4px,#438ebe 6px,#b9cedb 36px,#efebea 66px,#d89f8a 99px,#cf846a 107px,#c6694c 112px,#b63b2c 114px,#98182a 122px,#7f0f2a 137px)"></i>
<i style="left:604.5px;top:174.5px;height:232.5px;background:linear-gradient(#186abe 0,#2175be 2px,#438ebe 3px,#b9cedb 35px,#efebea 68px,#ead5cd 77px,#e2baac 92px,#d89f8a 104px,#c6694c 113px,#b63b2c 120px,#98182a 131px,#7f0f2a 139px)"></i>
<i style="left:606.5px;top:174.3px;height:232.7px;background:linear-gradient(#1d70be 0,#2478be 1px,#438ebe 2px,#b9cedb 34px,#efebea 66px,#d89f8a 103px,#cf846a 110px,#c6694c 115px,#b63b2c 119px,#98182a 128px,#7f0f2a 141px)"></i>
<i style="left:608.5px;top:174.2px;height:233.7px;background:linear-gradient(#1d6fbe 0,#2478be 1px,#438ebe 1px,#b9cedb 33px,#efebea 65px,#ead5cd 75px,#d89f8a 105px,#c6694c 116px,#b63b2c 121px,#98182a 132px,#7f0f2a 141px)"></i>
<i style="left:610.5px;top:174px;height:235.4px;background:linear-gradient(#1b6ebe 0,#4b93be 38px,#a7c7d7 58px,#efebea 69px,#ead5cd 78px,#e2baac 94px,#d89f8a 106px,#c6694c 117px,#b63b2c 123px,#98182a 133px,#7f0f2a 143px)"></i>
<i style="left:612.5px;top:173.9px;height:235.8px;background:linear-gradient(#1f73be 0,#5499be 33px,#abc9d8 51px,#efebea 60px,#ead5cd 71px,#e2baac 88px,#d89f8a 102px,#cf846a 111px,#c6694c 116px,#b63b2c 121px,#98182a 129px,#7f0f2a 142px)"></i>
<i style="left:614.5px;top:173.7px;height:235.5px;background:linear-gradient(#2275be 0,#589cbe 28px,#adc9d8 43px,#efebea 51px,#ead5cd 64px,#d89f8a 100px,#cf846a 109px,#c6694c 115px,#b63b2c 120px,#98182a 129px,#7f0f2a 141px)"></i>
<i style="left:616.5px;top:173.6px;height:234.6px;background:linear-gradient(#1c6fbe 0,#4d95be 16px,#a8c7d7 25px,#efebea 29px,#d89f8a 92px,#cf846a 105px,#c6694c 113px,#b63b2c 117px,#98182a 126px,#7f0f2a 139px)"></i>
<i style="left:618.5px;top:173.4px;height:232.3px;background:linear-gradient(#1f72be 0,#5298be 11px,#abc8d8 17px,#efebea 20px,#ead5cd 38px,#d89f8a 89px,#cf846a 103px,#c6694c 112px,#b63b2c 116px,#98182a 124px,#7f0f2a 138px)"></i>
<i style="left:620.5px;top:173.3px;height:231.3px;background:linear-gradient(#1e71be 0,#5197be 7px,#aac8d7 10px,#efebea 12px,#ead5cd 32px,#d89f8a 88px,#cf846a 101px,#c6694c 111px,#b63b2c 116px,#98182a 126px,#7f0f2a 137px)"></i>
<i style="left:622.5px;top:173.1px;height:229.7px;background:linear-gradient(#2074be 0,#559abe 9px,#acc9d8 15px,#efebea 17px,#d89f8a 86px,#cf846a 101px,#c6694c 111px,#b63b2c 113px,#98182a 120px,#7f0f2a 136px)"></i>
<i style="left:624.5px;top:173px;height:228.8px;background:linear-gradient(#2073be 0,#5599be 13px,#acc9d8 20px,#efebea 24px,#d89f8a 88px,#cf846a 101px,#c6694c 109px,#b63b2c 113px,#98182a 121px,#7f0f2a 135px)"></i>
<i style="left:626.5px;top:172.8px;height:228.6px;background:linear-gradient(#1f72be 0,#257abe 3px,#438ebe 4px,#b9cedb 16px,#efebea 28px,#ead5cd 44px,#d89f8a 92px,#c6694c 110px,#b63b2c 116px,#98182a 127px,#7f0f2a 136px)"></i>
<i style="left:628.5px;top:172.7px;height:229.2px;background:linear-gradient(#1f72be 0,#257abe 5px,#438ebe 8px,#b9cedb 21px,#efebea 34px,#ead5cd 49px,#e2baac 73px,#d89f8a 92px,#c6694c 110px,#b63b2c 115px,#98182a 125px,#7f0f2a 136px)"></i>
<i style="left:630.5px;top:172.5px;height:228.9px;background:linear-gradient(#2174be 0,#277bbe 5px,#438ebe 8px,#b9cedb 25px,#efebea 41px,#ead5cd 54px,#e2baac 76px,#d89f8a 94px,#cf846a 103px,#c6694c 109px,#b63b2c 115px,#98182a 125px,#7f0f2a 135px)"></i>
<i style="left:632.5px;top:172.4px;height:230.1px;background:linear-gradient(#2276be 0,#277cbe 5px,#438ebe 9px,#b9cedb 26px,#efebea 43px,#ead5cd 56px,#d89f8a 94px,#cf846a 104px,#c6694c 111px,#b63b2c 115px,#98182a 124px,#7f0f2a 137px)"></i>
<i style="left:634.5px;top:172.2px;height:233.3px;background:linear-gradient(#2276be 0,#277cbe 5px,#438ebe 9px,#b9cedb 25px,#efebea 41px,#ead5cd 55px,#e2baac 77px,#d89f8a 95px,#cf846a 105px,#c6694c 112px,#b63b2c 117px,#98182a 126px,#7f0f2a 138px)"></i>
<i style="left:636.5px;top:172.1px;height:234.5px;background:linear-gradient(#2276be 0,#277cbe 5px,#438ebe 8px,#b9cedb 24px,#efebea 40px,#ead5cd 54px,#e2baac 77px,#d89f8a 96px,#cf846a 106px,#c6694c 113px,#b63b2c 118px,#98182a 129px,#7f0f2a 139px)"></i>
<i style="left:638.5px;top:171.9px;height:234.8px;background:linear-gradient(#2276be 0,#277cbe 4px,#438ebe 6px,#b9cedb 23px,#efebea 39px,#d89f8a 95px,#cf846a 107px,#c6694c 114px,#b63b2c 118px,#98182a 126px,#7f0f2a 140px)"></i>
<i style="left:640.5px;top:171.8px;height:233.6px;background:linear-gradient(#2276be 0,#277cbe 4px,#438ebe 6px,#b9cedb 22px,#efebea 37px,#d89f8a 95px,#cf846a 106px,#c6694c 113px,#b63b2c 118px,#98182a 127px,#7f0f2a 139px)"></i>
<i style="left:642.5px;top:171.6px;height:231px;background:linear-gradient(#2276be 0,#277cbe 4px,#438ebe 7px,#b9cedb 22px,#efebea 38px,#d89f8a 93px,#cf846a 105px,#c6694c 112px,#b63b2c 116px,#98182a 124px,#7f0f2a 138px)"></i>
<i style="left:644.5px;top:171.5px;height:229.8px;background:linear-gradient(#2174be 0,#277bbe 3px,#438ebe 5px,#b9cedb 21px,#efebea 37px,#d89f8a 93px,#cf846a 104px,#c6694c 112px,#b63b2c 116px,#98182a 124px,#7f0f2a 137px)"></i>
<i style="left:646.5px;top:171.3px;height:229.9px;background:linear-gradient(#1e71be 0,#2579be 2px,#438ebe 4px,#b9cedb 20px,#efebea 35px,#ead5cd 51px,#e2baac 76px,#d89f8a 95px,#c6694c 111px,#b63b2c 118px,#98182a 130px,#7f0f2a 137px)"></i>
<i style="left:648.5px;top:171.2px;height:230.9px;background:linear-gradient(#2276be 0,#277cbe 2px,#438ebe 3px,#b9cedb 19px,#efebea 35px,#ead5cd 50px,#d89f8a 92px,#cf846a 105px,#c6694c 112px,#b63b2c 116px,#98182a 124px,#7f0f2a 138px)"></i>
<i style="left:650.5px;top:171px;height:232.7px;background:linear-gradient(#2276be 0,#277cbe 3px,#438ebe 5px,#b9cedb 19px,#efebea 34px,#ead5cd 50px,#e2baac 76px,#d89f8a 97px,#c6694c 114px,#b63b2c 121px,#98182a 133px,#7f0f2a 140px)"></i>
<i style="left:652.5px;top:170.9px;height:233.7px;background:linear-gradient(#2276be 0,#277cbe 5px,#438ebe 8px,#b9cedb 21px,#efebea 34px,#ead5cd 50px,#d89f8a 97px,#cf846a 108px,#c6694c 116px,#b63b2c 121px,#98182a 131px,#7f0f2a 142px)"></i>
<i style="left:654.5px;top:170.7px;height:233.4px;background:linear-gradient(#2275be 0,#277cbe 7px,#438ebe 12px,#b9cedb 23px,#efebea 34px,#d89f8a 96px,#cf846a 110px,#c6694c 118px,#b63b2c 121px,#98182a 128px,#7f0f2a 144px)"></i>
<i style="left:656.5px;top:170.6px;height:232.3px;background:linear-gradient(#2276be 0,#277cbe 12px,#438ebe 19px,#b9cedb 27px,#efebea 35px,#d89f8a 98px,#cf846a 109px,#c6694c 117px,#b63b2c 122px,#98182a 133px,#7f0f2a 142px)"></i>
<i style="left:658.5px;top:170.4px;height:231.9px;background:linear-gradient(#1b6ebe 0,#2377be 10px,#438ebe 17px,#b9cedb 27px,#efebea 36px,#ead5cd 51px,#e2baac 76px,#d89f8a 96px,#c6694c 114px,#b63b2c 120px,#98182a 130px,#7f0f2a 140px)"></i>
<i style="left:660.5px;top:170.3px;height:230.2px;background:linear-gradient(#1e71be 0,#2579be 10px,#438ebe 17px,#b9cedb 25px,#efebea 34px,#ead5cd 49px,#e2baac 75px,#d89f8a 96px,#c6694c 113px,#b63b2c 119px,#98182a 131px,#7f0f2a 138px)"></i>
<i style="left:662.5px;top:170.1px;height:228.4px;background:linear-gradient(#1f72be 0,#267abe 8px,#438ebe 14px,#b9cedb 22px,#efebea 30px,#ead5cd 46px,#d89f8a 91px,#c6694c 109px,#b63b2c 114px,#98182a 125px,#7f0f2a 134px)"></i>
<i style="left:664.5px;top:170px;height:226.6px;background:linear-gradient(#2276be 0,#277cbe 6px,#438ebe 9px,#b9cedb 19px,#efebea 28px,#ead5cd 44px,#d89f8a 90px,#cf846a 101px,#c6694c 109px,#b63b2c 114px,#98182a 124px,#7f0f2a 134px)"></i>
<i style="left:666.5px;top:169.8px;height:225.6px;background:linear-gradient(#2276be 0,#277cbe 2px,#438ebe 3px,#b9cedb 14px,#efebea 25px,#ead5cd 42px,#d89f8a 89px,#cf846a 100px,#c6694c 108px,#b63b2c 114px,#98182a 123px,#7f0f2a 134px)"></i>
<i style="left:668.5px;top:169.6px;height:224.2px;background:linear-gradient(#2e81be 0,#68a5c2 15px,#b5cdda 22px,#efebea 26px,#d89f8a 89px,#c6694c 107px,#b63b2c 113px,#98182a 123px,#7f0f2a 133px)"></i>
<i style="left:670.5px;top:169.5px;height:222.9px;background:linear-gradient(#579bbe 0,#82b4cb 15px,#c1d3de 24px,#efebea 28px,#ead5cd 44px,#d89f8a 90px,#c6694c 107px,#b63b2c 113px,#98182a 125px,#7f0f2a 133px)"></i>
<i style="left:672.5px;top:169.3px;height:222.3px;background:linear-gradient(#68a5c2 0,#aecad9 10px,#d7dfe5 20px,#efebea 29px,#ead5cd 45px,#e2baac 69px,#d89f8a 89px,#c6694c 107px,#b63b2c 112px,#98182a 122px,#7f0f2a 133px)"></i>
<i style="left:674.5px;top:169.2px;height:222.3px;background:linear-gradient(#6da8c3 0,#b1cbd9 10px,#efebea 29px,#ead5cd 45px,#e2baac 69px,#d89f8a 89px,#c6694c 106px,#b63b2c 112px,#98182a 123px,#7f0f2a 132px)"></i>
<i style="left:676.5px;top:169px;height:222.2px;background:linear-gradient(#6ca7c3 0,#b0cbd9 10px,#d8e0e5 19px,#efebea 28px,#ead5cd 43px,#d89f8a 86px,#cf846a 97px,#c6694c 105px,#b63b2c 109px,#98182a 119px,#7f0f2a 131px)"></i>
<i style="left:678.5px;top:168.9px;height:221.6px;background:linear-gradient(#76adc7 0,#b6cddb 9px,#efebea 27px,#ead5cd 42px,#d89f8a 84px,#cf846a 96px,#c6694c 103px,#b63b2c 107px,#98182a 115px,#7f0f2a 129px)"></i>
<i style="left:680.5px;top:168.7px;height:221.8px;background:linear-gradient(#79aec8 0,#b8cedb 10px,#dae1e5 19px,#efebea 27px,#ead5cd 42px,#d89f8a 85px,#c6694c 103px,#b63b2c 107px,#98182a 117px,#7f0f2a 128px)"></i>
<i style="left:682.5px;top:168.6px;height:221.9px;background:linear-gradient(#7eb2ca 0,#bbd0dc 10px,#dae1e6 20px,#efebea 29px,#ead5cd 43px,#d89f8a 83px,#cf846a 95px,#c6694c 103px,#b63b2c 106px,#98182a 114px,#7f0f2a 129px)"></i>
<i style="left:684.5px;top:168.4px;height:222.1px;background:linear-gradient(#82b4cb 0,#bdd1dc 10px,#dbe1e6 20px,#efebea 29px,#d89f8a 85px,#c6694c 103px,#b63b2c 107px,#98182a 116px,#7f0f2a 129px)"></i>
<i style="left:686.5px;top:168.3px;height:222.9px;background:linear-gradient(#87b7cd 0,#bfd2dd 11px,#dce2e6 21px,#efebea 30px,#ead5cd 45px,#e2baac 69px,#d89f8a 88px,#c6694c 105px,#b63b2c 111px,#98182a 122px,#7f0f2a 130px)"></i>
<i style="left:688.5px;top:168.1px;height:223.1px;background:linear-gradient(#87b7cd 0,#bfd2dd 11px,#dce2e6 21px,#efebea 30px,#ead5cd 46px,#e2baac 70px,#d89f8a 90px,#cf846a 100px,#c6694c 107px,#b63b2c 113px,#98182a 123px,#7f0f2a 133px)"></i>
<i style="left:690.5px;top:168px;height:222.5px;background:linear-gradient(#8ab9ce 0,#c0d2dd 11px,#efebea 30px,#d89f8a 89px,#cf846a 102px,#c6694c 110px,#b63b2c 113px,#98182a 121px,#7f0f2a 136px)"></i>
<i style="left:692.5px;top:167.8px;height:222.7px;background:linear-gradient(#86b6cd 0,#bed1dd 11px,#efebea 31px,#d89f8a 87px,#cf846a 98px,#c6694c 106px,#b63b2c 110px,#98182a 118px,#7f0f2a 132px)"></i>
<i style="left:694.5px;top:167.7px;height:222.1px;background:linear-gradient(#8fbbd0 0,#c2d3de 11px,#efebea 30px,#d89f8a 86px,#c6694c 102px,#b63b2c 108px,#98182a 119px,#7f0f2a 128px)"></i>
<i style="left:696.5px;top:167.5px;height:222.3px;background:linear-gradient(#97bfd3 0,#c5d5df 10px,#efebea 30px,#d89f8a 86px,#c6694c 104px,#b63b2c 108px,#98182a 117px,#7f0f2a 130px)"></i>
<i style="left:698.5px;top:167.4px;height:222.7px;background:linear-gradient(#9ac0d3 0,#c6d6df 10px,#efebea 28px,#d89f8a 85px,#cf846a 97px,#c6694c 105px,#b63b2c 108px,#98182a 115px,#7f0f2a 131px)"></i>
<i style="left:700.5px;top:167.2px;height:223px;background:linear-gradient(#9fc3d5 0,#c8d7e0 9px,#efebea 26px,#d89f8a 86px,#cf846a 98px,#c6694c 106px,#b63b2c 110px,#98182a 118px,#7f0f2a 132px)"></i>
<i style="left:702.5px;top:167.1px;height:225.4px;background:linear-gradient(#a3c5d6 0,#cad8e1 8px,#efebea 24px,#d89f8a 87px,#cf846a 100px,#c6694c 108px,#b63b2c 112px,#98182a 120px,#7f0f2a 134px)"></i>
<i style="left:704.5px;top:166.9px;height:225.7px;background:linear-gradient(#a6c6d6 0,#cbd9e1 9px,#efebea 26px,#ead5cd 42px,#d89f8a 87px,#cf846a 100px,#c6694c 108px,#b63b2c 111px,#98182a 119px,#7f0f2a 134px)"></i>
<i style="left:706.5px;top:166.8px;height:226px;background:linear-gradient(#a4c5d6 0,#cad8e1 9px,#efebea 27px,#d89f8a 86px,#cf846a 99px,#c6694c 106px,#b63b2c 110px,#98182a 117px,#7f0f2a 132px)"></i>
<i style="left:708.5px;top:166.6px;height:226.3px;background:linear-gradient(#a9c7d7 0,#ccd9e1 10px,#efebea 28px,#ead5cd 44px,#e2baac 68px,#d89f8a 88px,#c6694c 106px,#b63b2c 111px,#98182a 122px,#7f0f2a 132px)"></i>
<i style="left:710.5px;top:166.5px;height:226.6px;background:linear-gradient(#b3ccda 0,#d0dbe3 10px,#efebea 30px,#ead5cd 45px,#d89f8a 88px,#cf846a 99px,#c6694c 106px,#b63b2c 111px,#98182a 121px,#7f0f2a 132px)"></i>
<i style="left:712.5px;top:166.4px;height:226.9px;background:linear-gradient(#a9c8d7 0,#ccd9e1 10px,#efebea 30px,#ead5cd 45px,#d89f8a 88px,#cf846a 99px,#c6694c 107px,#b63b2c 111px,#98182a 119px,#7f0f2a 133px)"></i>
<i style="left:714.5px;top:166.3px;height:225px;background:linear-gradient(#a6c6d7 0,#cbd9e1 11px,#efebea 31px,#ead5cd 46px,#d89f8a 89px,#c6694c 107px,#b63b2c 112px,#98182a 121px,#7f0f2a 133px)"></i>
<i style="left:716.5px;top:166.3px;height:225.2px;background:linear-gradient(#aac8d7 0,#ccd9e1 11px,#efebea 30px,#d89f8a 89px,#c6694c 107px,#b63b2c 112px,#98182a 121px,#7f0f2a 133px)"></i>
<i style="left:718.5px;top:166.2px;height:226.7px;background:linear-gradient(#a0c3d5 0,#c8d7e0 9px,#efebea 26px,#ead5cd 42px,#d89f8a 87px,#cf846a 99px,#c6694c 107px,#b63b2c 111px,#98182a 120px,#7f0f2a 133px)"></i>
<i style="left:720.5px;top:166.1px;height:226.8px;background:linear-gradient(#a0c4d5 0,#c9d7e0 8px,#efebea 22px,#ead5cd 39px,#d89f8a 87px,#cf846a 99px,#c6694c 107px,#b63b2c 112px,#98182a 122px,#7f0f2a 133px)"></i>
<i style="left:722.5px;top:166px;height:227.6px;background:linear-gradient(#a9c7d7 0,#ccd9e1 8px,#efebea 23px,#ead5cd 40px,#e2baac 67px,#d89f8a 89px,#c6694c 107px,#b63b2c 113px,#98182a 124px,#7f0f2a 133px)"></i>
<i style="left:724.5px;top:165.9px;height:227.7px;background:linear-gradient(#a9c8d7 0,#ccd9e1 8px,#efebea 23px,#ead5cd 40px,#d89f8a 87px,#cf846a 99px,#c6694c 107px,#b63b2c 112px,#98182a 122px,#7f0f2a 133px)"></i>
<i style="left:726.5px;top:165.8px;height:225px;background:linear-gradient(#a5c6d6 0,#cad8e1 8px,#efebea 22px,#ead5cd 39px,#d89f8a 88px,#cf846a 99px,#c6694c 107px,#b63b2c 113px,#98182a 123px,#7f0f2a 133px)"></i>
<i style="left:728.5px;top:165.7px;height:225px;background:linear-gradient(#a3c5d6 0,#cad8e1 8px,#efebea 23px,#ead5cd 40px,#d89f8a 88px,#cf846a 99px,#c6694c 107px,#b63b2c 113px,#98182a 122px,#7f0f2a 133px)"></i>
<i style="left:730.5px;top:165.6px;height:226.5px;background:linear-gradient(#a3c5d6 0,#cad8e1 8px,#efebea 23px,#d89f8a 85px,#cf846a 99px,#c6694c 108px,#b63b2c 110px,#98182a 118px,#7f0f2a 133px)"></i>
<i style="left:732.5px;top:165.5px;height:226.6px;background:linear-gradient(#a6c6d6 0,#cbd9e1 8px,#efebea 24px,#ead5cd 40px,#d89f8a 87px,#cf846a 99px,#c6694c 108px,#b63b2c 112px,#98182a 121px,#7f0f2a 133px)"></i>
<i style="left:734.5px;top:165.4px;height:225.3px;background:linear-gradient(#a8c7d7 0,#cbd9e1 9px,#efebea 25px,#ead5cd 42px,#d89f8a 89px,#c6694c 108px,#b63b2c 113px,#98182a 124px,#7f0f2a 133px)"></i>
<i style="left:736.5px;top:165.3px;height:225.4px;background:linear-gradient(#a2c4d6 0,#c9d8e0 9px,#efebea 27px,#ead5cd 43px,#d89f8a 90px,#c6694c 108px,#b63b2c 114px,#98182a 124px,#7f0f2a 134px)"></i>
<i style="left:738.5px;top:165.3px;height:228.2px;background:linear-gradient(#b2ccda 0,#d0dbe3 10px,#efebea 27px,#ead5cd 43px,#d89f8a 88px,#cf846a 100px,#c6694c 108px,#b63b2c 112px,#98182a 120px,#7f0f2a 134px)"></i>
<i style="left:740.5px;top:165.2px;height:228.3px;background:linear-gradient(#adc9d8 0,#cddae2 10px,#efebea 28px,#d89f8a 88px,#cf846a 100px,#c6694c 108px,#b63b2c 112px,#98182a 121px,#7f0f2a 134px)"></i>
<i style="left:742.5px;top:165.1px;height:227px;background:linear-gradient(#99c0d3 0,#c6d6df 10px,#dfe3e7 19px,#efebea 28px,#d89f8a 88px,#cf846a 100px,#c6694c 108px,#b63b2c 112px,#98182a 121px,#7f0f2a 134px)"></i>
<i style="left:744.5px;top:165px;height:227.1px;background:linear-gradient(#9ec2d4 0,#c8d7e0 10px,#dfe3e7 19px,#efebea 28px,#ead5cd 44px,#d89f8a 89px,#cf846a 100px,#c6694c 108px,#b63b2c 113px,#98182a 123px,#7f0f2a 134px)"></i>
<i style="left:746.5px;top:164.9px;height:227.2px;background:linear-gradient(#a1c4d5 0,#c9d7e0 10px,#e0e4e7 19px,#efebea 28px,#ead5cd 44px,#d89f8a 90px,#c6694c 108px,#b63b2c 114px,#98182a 124px,#7f0f2a 134px)"></i>
<i style="left:748.5px;top:164.8px;height:227.3px;background:linear-gradient(#a0c3d5 0,#c8d7e0 10px,#efebea 28px,#ead5cd 44px,#d89f8a 90px,#c6694c 108px,#b63b2c 114px,#98182a 124px,#7f0f2a 134px)"></i>
<i style="left:750.5px;top:164.7px;height:227.3px;background:linear-gradient(#9fc3d5 0,#c8d7e0 10px,#efebea 28px,#ead5cd 44px,#d89f8a 89px,#cf846a 100px,#c6694c 108px,#b63b2c 113px,#98182a 123px,#7f0f2a 134px)"></i>
<i style="left:752.5px;top:164.6px;height:227.4px;background:linear-gradient(#99c0d3 0,#c6d6df 10px,#efebea 28px,#ead5cd 44px,#e2baac 69px,#d89f8a 89px,#cf846a 101px,#c6694c 109px,#b63b2c 113px,#98182a 123px,#7f0f2a 134px)"></i>
<i style="left:754.5px;top:164.5px;height:228.9px;background:linear-gradient(#99c0d3 0,#c6d6df 10px,#efebea 28px,#d89f8a 88px,#cf846a 101px,#c6694c 109px,#b63b2c 112px,#98182a 120px,#7f0f2a 134px)"></i>
<i style="left:756.5px;top:164.4px;height:229px;background:linear-gradient(#9ec2d4 0,#c8d7e0 10px,#efebea 28px,#ead5cd 44px,#d89f8a 90px,#cf846a 101px,#c6694c 109px,#b63b2c 114px,#98182a 124px,#7f0f2a 134px)"></i>
<i style="left:758.5px;top:164.3px;height:227.7px;background:linear-gradient(#9dc2d4 0,#c7d7e0 10px,#efebea 28px,#ead5cd 44px,#e2baac 69px,#d89f8a 89px,#cf846a 101px,#c6694c 109px,#b63b2c 113px,#98182a 123px,#7f0f2a 135px)"></i>
<i style="left:760.5px;top:164.3px;height:227.8px;background:linear-gradient(#96bfd2 0,#c5d5df 10px,#efebea 28px,#d89f8a 89px,#cf846a 101px,#c6694c 109px,#b63b2c 113px,#98182a 122px,#7f0f2a 135px)"></i>
<i style="left:762.5px;top:164.2px;height:229.2px;background:linear-gradient(#96bfd2 0,#c5d5df 10px,#efebea 29px,#ead5cd 45px,#d89f8a 90px,#cf846a 101px,#c6694c 109px,#b63b2c 114px,#98182a 123px,#7f0f2a 135px)"></i>
<i style="left:764.5px;top:164.1px;width:0.8px;height:229.3px;background:linear-gradient(#98c0d3 0,#c6d6df 10px,#efebea 29px,#ead5cd 45px,#d89f8a 90px,#cf846a 101px,#c6694c 109px,#b63b2c 114px,#98182a 124px,#7f0f2a 135px)"></i>
<i style="left:716.7px;top:199.2px;height:0.9px;background:linear-gradient(#2448af 0,#1667be 1px)"></i>
<i style="left:718.7px;top:198.2px;height:1.8px;background:linear-gradient(#1f4db2 0,#186abe 2px)"></i>
<i style="left:720.7px;top:197.2px;height:2.7px;background:linear-gradient(#2744ac 0,#1364be 3px)"></i>
<i style="left:722.7px;top:196.2px;height:3.6px;background:linear-gradient(#2547ae 0,#1566be 4px)"></i>
<i style="left:724.7px;top:195.2px;height:4.5px;background:linear-gradient(#273a97 0,#1658b9 5px)"></i>
<i style="left:726.7px;top:194.2px;height:5.4px;background:linear-gradient(#2843ac 0,#1364be 5px)"></i>
<i style="left:728.7px;top:193.2px;height:6.3px;background:linear-gradient(#1f4db2 0,#186abe 6px)"></i>
<i style="left:730.7px;top:192.2px;height:7.2px;background:linear-gradient(#1a53b6 0,#1b6ebe 7px)"></i>
<i style="left:732.7px;top:191.2px;height:8.1px;background:linear-gradient(#2744ac 0,#1364be 8px)"></i>
<i style="left:734.7px;top:190.2px;height:9px;background:linear-gradient(#2546ad 0,#1566be 9px)"></i>
<i style="left:736.7px;top:189.2px;height:9.9px;background:linear-gradient(#1855b7 0,#1d6fbe 10px)"></i>
<i style="left:738.7px;top:188.2px;height:10.7px;background:linear-gradient(#2744ac 0,#1465be 11px)"></i>
<i style="left:740.7px;top:187.2px;height:11.6px;background:linear-gradient(#1f4eb2 0,#196bbe 12px)"></i>
<i style="left:742.7px;top:186.2px;height:12.5px;background:linear-gradient(#1756b8 0,#1d70be 13px)"></i>
<i style="left:744.7px;top:185.2px;height:13.4px;background:linear-gradient(#2448ae 0,#1567be 13px)"></i>
<i style="left:746.7px;top:184.2px;height:14.3px;background:linear-gradient(#1b52b5 0,#1b6dbe 14px)"></i>
<i style="left:748.7px;top:183.2px;height:15.2px;background:linear-gradient(#1161be 0,#2478be 15px)"></i>
<i style="left:750.7px;top:182.2px;height:16.1px;background:linear-gradient(#1e71be 0,#428dbe 16px)"></i>
<i style="left:752.7px;top:179.8px;height:18.3px;background:linear-gradient(#3b89be 0,#6ea8c4 18px)"></i>
<i style="left:754.7px;top:177px;height:21px;background:linear-gradient(#579bbe 0,#85b6cc 21px)"></i>
<i style="left:756.7px;top:174.3px;height:23.7px;background:linear-gradient(#79afc8 0,#a7c6d7 24px)"></i>
<i style="left:758.7px;top:171.5px;height:26.3px;background:linear-gradient(#87b7cd 0,#b5cdda 26px)"></i>
<i style="left:760.7px;top:168.7px;height:29px;background:linear-gradient(#65a3c0 0,#92bdd1 29px)"></i>
<i style="left:762.7px;top:165.9px;height:31.7px;background:linear-gradient(#66a4c1 0,#93bdd1 32px)"></i>
<i style="left:764.7px;top:164.3px;width:0.6px;height:33.2px;background:linear-gradient(#72abc5 0,#9fc3d5 33px)"></i>
<i style="left:716.7px;top:199.6px;height:226.1px;background:linear-gradient(#2a41aa 0,#1161be 14px,#438ebe 23px,#b9cedb 42px,#efebea 61px,#d89f8a 94px,#cf846a 101px,#c6694c 105px,#b63b2c 110px,#98182a 118px,#800f2a 131px)"></i>
<i style="left:718.7px;top:199.5px;height:227.5px;background:linear-gradient(#2a40a8 0,#1060be 10px,#438ebe 17px,#b9cedb 44px,#efebea 71px,#d89f8a 97px,#cf846a 102px,#c6694c 105px,#b63b2c 110px,#98182a 120px,#800f2a 131px)"></i>
<i style="left:720.7px;top:199.4px;height:230.2px;background:linear-gradient(#293fa4 0,#0f5fbe 10px,#438ebe 16px,#b9cedb 41px,#efebea 66px,#ead5cd 74px,#e2baac 88px,#d89f8a 99px,#c6694c 107px,#b63b2c 114px,#98182a 125px,#800f2a 133px)"></i>
<i style="left:722.7px;top:199.3px;height:231.5px;background:linear-gradient(#2a41a9 0,#1061be 9px,#438ebe 15px,#b9cedb 38px,#efebea 62px,#ead5cd 71px,#d89f8a 97px,#cf846a 103px,#c6694c 107px,#b63b2c 113px,#98182a 123px,#800f2a 133px)"></i>
<i style="left:724.7px;top:199.1px;height:231.4px;background:linear-gradient(#283b9a 0,#135bbb 9px,#438ebe 14px,#b9cedb 37px,#efebea 60px,#ead5cd 69px,#d89f8a 95px,#cf846a 101px,#c6694c 105px,#b63b2c 111px,#98182a 120px,#800f2a 131px)"></i>
<i style="left:726.7px;top:199px;height:232.7px;background:linear-gradient(#273a97 0,#145aba 9px,#438ebe 15px,#b9cedb 37px,#efebea 59px,#ead5cd 68px,#d89f8a 93px,#cf846a 100px,#c6694c 105px,#b63b2c 108px,#98182a 117px,#800f2a 130px)"></i>
<i style="left:728.7px;top:198.9px;height:234px;background:linear-gradient(#283c9e 0,#115dbd 9px,#438ebe 15px,#b9cedb 38px,#efebea 61px,#ead5cd 70px,#d89f8a 95px,#cf846a 102px,#c6694c 107px,#b63b2c 111px,#98182a 119px,#800f2a 133px)"></i>
<i style="left:730.7px;top:198.8px;height:233.8px;background:linear-gradient(#293fa4 0,#0f5fbe 10px,#438ebe 17px,#b9cedb 41px,#efebea 65px,#ead5cd 73px,#e2baac 87px,#d89f8a 98px,#cf846a 104px,#c6694c 108px,#b63b2c 113px,#98182a 123px,#800f2a 134px)"></i>
<i style="left:732.7px;top:198.7px;height:234.4px;background:linear-gradient(#293ea1 0,#105ebd 9px,#438ebe 14px,#b9cedb 39px,#efebea 63px,#d89f8a 99px,#cf846a 106px,#c6694c 111px,#b63b2c 115px,#98182a 124px,#800f2a 136px)"></i>
<i style="left:734.7px;top:198.5px;height:234.3px;background:linear-gradient(#293da0 0,#105ebd 8px,#438ebe 13px,#b9cedb 34px,#efebea 56px,#ead5cd 67px,#e2baac 85px,#d89f8a 100px,#cf846a 108px,#c6694c 113px,#b63b2c 118px,#98182a 128px,#800f2a 139px)"></i>
<i style="left:736.7px;top:198.4px;height:232px;background:linear-gradient(#293ea3 0,#0f5fbe 8px,#438ebe 14px,#b9cedb 31px,#efebea 48px,#d89f8a 99px,#c6694c 115px,#b63b2c 120px,#98182a 130px,#800f2a 141px)"></i>
<i style="left:738.7px;top:198.3px;height:231.9px;background:linear-gradient(#2843ac 0,#1162be 10px,#438ebe 17px,#b9cedb 30px,#efebea 43px,#d89f8a 99px,#c6694c 115px,#b63b2c 121px,#98182a 131px,#800f2a 141px)"></i>
<i style="left:740.7px;top:198.2px;height:234.5px;background:linear-gradient(#2646ad 0,#1263be 10px,#438ebe 17px,#b9cedb 33px,#efebea 48px,#ead5cd 61px,#d89f8a 99px,#c6694c 115px,#b63b2c 120px,#98182a 129px,#800f2a 141px)"></i>
<i style="left:742.7px;top:198px;height:234.4px;background:linear-gradient(#2448ae 0,#1364be 9px,#438ebe 16px,#b9cedb 33px,#efebea 50px,#ead5cd 63px,#e2baac 84px,#d89f8a 101px,#cf846a 109px,#c6694c 115px,#b63b2c 121px,#98182a 131px,#800f2a 141px)"></i>
<i style="left:744.7px;top:197.9px;height:234.3px;background:linear-gradient(#2645ad 0,#1263be 9px,#438ebe 14px,#b9cedb 31px,#efebea 47px,#ead5cd 60px,#e2baac 82px,#d89f8a 99px,#c6694c 114px,#b63b2c 120px,#98182a 131px,#800f2a 139px)"></i>
<i style="left:746.7px;top:197.8px;height:234.1px;background:linear-gradient(#2745ac 0,#1262be 12px,#438ebe 20px,#b9cedb 32px,#efebea 43px,#d89f8a 94px,#cf846a 106px,#c6694c 113px,#b63b2c 115px,#98182a 123px,#800f2a 138px)"></i>
<i style="left:748.7px;top:197.7px;height:233.3px;background:linear-gradient(#2a41a9 0,#1061be 17px,#438ebe 28px,#b9cedb 39px,#efebea 50px,#ead5cd 62px,#e2baac 83px,#d89f8a 99px,#c6694c 113px,#b63b2c 119px,#98182a 130px,#800f2a 138px)"></i>
<i style="left:750.7px;top:197.6px;height:234.5px;background:linear-gradient(#283d9f 0,#115dbd 18px,#438ebe 30px,#b9cedb 42px,#efebea 54px,#ead5cd 66px,#d89f8a 101px,#c6694c 113px,#b63b2c 119px,#98182a 130px,#800f2a 139px)"></i>
<i style="left:752.7px;top:197.4px;height:235.1px;background:linear-gradient(#283c9e 0,#115dbc 18px,#438ebe 30px,#b9cedb 44px,#efebea 59px,#ead5cd 70px,#e2baac 87px,#d89f8a 101px,#cf846a 109px,#c6694c 114px,#b63b2c 119px,#98182a 129px,#800f2a 140px)"></i>
<i style="left:754.7px;top:197.3px;height:236.3px;background:linear-gradient(#2942ab 0,#1161be 11px,#438ebe 18px,#b9cedb 41px,#efebea 64px,#ead5cd 74px,#e2baac 91px,#d89f8a 104px,#cf846a 111px,#c6694c 116px,#b63b2c 122px,#98182a 132px,#800f2a 142px)"></i>
<i style="left:756.7px;top:197.2px;height:238.8px;background:linear-gradient(#214bb1 0,#1465be 6px,#438ebe 9px,#b9cedb 35px,#efebea 61px,#ead5cd 72px,#e2baac 89px,#d89f8a 103px,#cf846a 111px,#c6694c 116px,#b63b2c 121px,#98182a 131px,#800f2a 142px)"></i>
<i style="left:758.7px;top:197.1px;height:237.6px;background:linear-gradient(#1b52b5 0,#1668be 10px,#438ebe 17px,#b9cedb 38px,#efebea 58px,#ead5cd 69px,#e2baac 87px,#d89f8a 102px,#c6694c 115px,#b63b2c 120px,#98182a 131px,#800f2a 141px)"></i>
<i style="left:760.7px;top:196.9px;height:236.4px;background:linear-gradient(#1060be 0,#1b6ebe 7px,#438ebe 11px,#b9cedb 34px,#efebea 57px,#ead5cd 68px,#e2baac 87px,#d89f8a 101px,#c6694c 112px,#b63b2c 119px,#98182a 131px,#800f2a 138px)"></i>
<i style="left:762.7px;top:196.8px;height:235.2px;background:linear-gradient(#1b6ebe 0,#4c94be 32px,#a8c7d7 49px,#efebea 57px,#d89f8a 95px,#cf846a 105px,#c6694c 111px,#b63b2c 112px,#98182a 119px,#800f2a 136px)"></i>
<i style="left:764.7px;top:196.7px;height:231.9px;background:linear-gradient(#1b6ebe 0,#4c94be 31px,#a8c7d7 48px,#efebea 56px,#d89f8a 96px,#c6694c 109px,#b63b2c 113px,#98182a 123px,#800f2a 134px)"></i>
<i style="left:766.7px;top:196.6px;height:230.7px;background:linear-gradient(#1b6ebe 0,#4c94be 30px,#a8c7d7 46px,#efebea 54px,#ead5cd 65px,#e2baac 83px,#d89f8a 97px,#c6694c 109px,#b63b2c 115px,#98182a 125px,#800f2a 135px)"></i>
<i style="left:768.7px;top:196.5px;height:232.1px;background:linear-gradient(#1a6cbe 0,#2276be 5px,#438ebe 9px,#b9cedb 33px,#efebea 57px,#ead5cd 67px,#e2baac 84px,#d89f8a 98px,#cf846a 105px,#c6694c 110px,#b63b2c 115px,#98182a 125px,#800f2a 136px)"></i>
<i style="left:770.7px;top:196.3px;height:234.5px;background:linear-gradient(#1a6cbe 0,#2276be 6px,#438ebe 10px,#b9cedb 34px,#efebea 59px,#d89f8a 100px,#cf846a 107px,#c6694c 112px,#b63b2c 118px,#98182a 128px,#800f2a 138px)"></i>
<i style="left:772.7px;top:196.2px;height:237.5px;background:linear-gradient(#196bbe 0,#2175be 7px,#438ebe 11px,#b9cedb 39px,#efebea 68px,#ead5cd 77px,#d89f8a 103px,#c6694c 114px,#b63b2c 119px,#98182a 129px,#800f2a 139px)"></i>
<i style="left:774.7px;top:196.1px;height:239.9px;background:linear-gradient(#1667be 0,#1f73be 6px,#438ebe 10px,#b9cedb 41px,#efebea 73px,#ead5cd 81px,#d89f8a 104px,#cf846a 110px,#c6694c 114px,#b63b2c 119px,#98182a 128px,#800f2a 140px)"></i>
<i style="left:776.7px;top:196px;height:242.3px;background:linear-gradient(#1567be 0,#1f73be 5px,#438ebe 8px,#b9cedb 37px,#efebea 65px,#ead5cd 75px,#e2baac 92px,#d89f8a 105px,#cf846a 109px,#c6694c 114px,#b63b2c 121px,#98182a 133px,#800f2a 140px)"></i>
<i style="left:778.7px;top:195.8px;height:243.7px;background:linear-gradient(#1769be 0,#2074be 5px,#438ebe 8px,#b9cedb 33px,#efebea 58px,#ead5cd 69px,#d89f8a 101px,#cf846a 109px,#c6694c 115px,#b63b2c 119px,#98182a 128px,#800f2a 140px)"></i>
<i style="left:780.7px;top:195.7px;height:242.5px;background:linear-gradient(#1667be 0,#2073be 5px,#438ebe 8px,#b9cedb 31px,#efebea 54px,#d89f8a 99px,#cf846a 108px,#c6694c 114px,#b63b2c 118px,#98182a 126px,#800f2a 140px)"></i>
<i style="left:782.7px;top:195.6px;height:241.2px;background:linear-gradient(#196bbe 0,#2175be 5px,#438ebe 9px,#b9cedb 30px,#efebea 51px,#ead5cd 63px,#d89f8a 98px,#cf846a 106px,#c6694c 112px,#b63b2c 117px,#98182a 127px,#800f2a 138px)"></i>
<i style="left:784.7px;top:195.5px;height:237.8px;background:linear-gradient(#186abe 0,#2175be 6px,#438ebe 10px,#b9cedb 28px,#efebea 47px,#ead5cd 60px,#d89f8a 97px,#c6694c 112px,#b63b2c 117px,#98182a 127px,#800f2a 137px)"></i>
<i style="left:786.7px;top:195.4px;height:236.6px;background:linear-gradient(#1465be 0,#1e71be 6px,#438ebe 11px,#b9cedb 29px,#efebea 47px,#d89f8a 94px,#cf846a 104px,#c6694c 110px,#b63b2c 114px,#98182a 122px,#800f2a 136px)"></i>
<i style="left:788.7px;top:195.2px;height:236px;background:linear-gradient(#1768be 0,#2074be 8px,#438ebe 14px,#b9cedb 30px,#efebea 46px,#d89f8a 92px,#cf846a 102px,#c6694c 109px,#b63b2c 111px,#98182a 119px,#800f2a 134px)"></i>
<i style="left:790.7px;top:195.1px;height:235.3px;background:linear-gradient(#1465be 0,#1e71be 10px,#438ebe 16px,#b9cedb 31px,#efebea 46px,#d89f8a 94px,#cf846a 102px,#c6694c 108px,#b63b2c 113px,#98182a 123px,#800f2a 134px)"></i>
<i style="left:792.7px;top:195px;height:238.8px;background:linear-gradient(#1465be 0,#1e71be 11px,#438ebe 18px,#b9cedb 33px,#efebea 48px,#ead5cd 60px,#e2baac 80px,#d89f8a 96px,#cf846a 104px,#c6694c 110px,#b63b2c 115px,#98182a 126px,#800f2a 136px)"></i>
<i style="left:794.7px;top:194.9px;height:240.9px;background:linear-gradient(#1668be 0,#2073be 14px,#438ebe 23px,#b9cedb 36px,#efebea 49px,#ead5cd 61px,#d89f8a 95px,#cf846a 105px,#c6694c 111px,#b63b2c 114px,#98182a 122px,#800f2a 137px)"></i>
<i style="left:796.7px;top:194.7px;height:241px;background:linear-gradient(#1263be 0,#1d70be 16px,#438ebe 26px,#b9cedb 39px,#efebea 52px,#ead5cd 64px,#e2baac 84px,#d89f8a 100px,#cf846a 108px,#c6694c 114px,#b63b2c 120px,#98182a 131px,#800f2a 140px)"></i>
<i style="left:798.7px;top:194.6px;height:243.1px;background:linear-gradient(#1364be 0,#1e71be 16px,#438ebe 27px,#b9cedb 40px,#efebea 54px,#ead5cd 66px,#d89f8a 101px,#cf846a 111px,#c6694c 117px,#b63b2c 121px,#98182a 130px,#800f2a 143px)"></i>
<i style="left:800.7px;top:194.5px;height:244.2px;background:linear-gradient(#1769be 0,#2174be 17px,#438ebe 28px,#b9cedb 42px,#efebea 55px,#d89f8a 103px,#cf846a 112px,#c6694c 118px,#b63b2c 123px,#98182a 133px,#800f2a 144px)"></i>
<i style="left:802.7px;top:194.4px;height:241.8px;background:linear-gradient(#1769be 0,#2074be 18px,#438ebe 29px,#b9cedb 40px,#efebea 50px,#ead5cd 63px,#d89f8a 99px,#cf846a 109px,#c6694c 116px,#b63b2c 119px,#98182a 127px,#800f2a 141px)"></i>
<i style="left:804.7px;top:194.3px;height:238.7px;background:linear-gradient(#1768be 0,#2073be 17px,#438ebe 28px,#b9cedb 38px,#efebea 49px,#d89f8a 97px,#cf846a 107px,#c6694c 114px,#b63b2c 117px,#98182a 126px,#800f2a 139px)"></i>
<i style="left:806.7px;top:194.1px;height:236.4px;background:linear-gradient(#1d6fbe 0,#2478be 16px,#438ebe 26px,#b9cedb 35px,#efebea 44px,#ead5cd 58px,#d89f8a 97px,#c6694c 112px,#b63b2c 118px,#98182a 128px,#800f2a 138px)"></i>
<i style="left:808.7px;top:194px;height:234px;background:linear-gradient(#1b6dbe 0,#2377be 15px,#438ebe 26px,#b9cedb 33px,#efebea 41px,#ead5cd 55px,#d89f8a 94px,#cf846a 104px,#c6694c 111px,#b63b2c 116px,#98182a 125px,#800f2a 137px)"></i>
<i style="left:810.7px;top:193.9px;height:234.1px;background:linear-gradient(#1b6dbe 0,#2377be 13px,#438ebe 22px,#b9cedb 32px,#efebea 43px,#d89f8a 94px,#cf846a 106px,#c6694c 113px,#b63b2c 115px,#98182a 122px,#800f2a 138px)"></i>
<i style="left:812.7px;top:193.8px;height:237.2px;background:linear-gradient(#1c6ebe 0,#2377be 12px,#438ebe 20px,#b9cedb 35px,#efebea 49px,#ead5cd 62px,#e2baac 83px,#d89f8a 100px,#c6694c 113px,#b63b2c 120px,#98182a 131px,#800f2a 139px)"></i>
<i style="left:814.7px;top:193.6px;height:239px;background:linear-gradient(#1b6dbe 0,#2377be 9px,#438ebe 15px,#b9cedb 35px,#efebea 54px,#d89f8a 101px,#c6694c 116px,#b63b2c 120px,#98182a 130px,#800f2a 141px)"></i>
<i style="left:816.7px;top:193.5px;height:236.5px;background:linear-gradient(#1a6cbe 0,#2276be 6px,#438ebe 10px,#b9cedb 31px,#efebea 53px,#ead5cd 65px,#d89f8a 100px,#c6694c 113px,#b63b2c 119px,#98182a 129px,#800f2a 139px)"></i>
<i style="left:818.7px;top:193.4px;height:233.4px;background:linear-gradient(#1b6dbe 0,#2377be 3px,#438ebe 5px,#b9cedb 27px,#efebea 49px,#d89f8a 97px,#c6694c 110px,#b63b2c 116px,#98182a 127px,#800f2a 136px)"></i>
<i style="left:820.7px;top:193.3px;height:231.1px;background:linear-gradient(#1f72be 0,#5398be 24px,#abc8d8 37px,#efebea 43px,#d89f8a 91px,#c6694c 107px,#b63b2c 111px,#98182a 119px,#800f2a 132px)"></i>
<i style="left:822.7px;top:193.2px;height:228.1px;background:linear-gradient(#3384be 0,#6ba7c3 22px,#b7cedb 34px,#efebea 40px,#ead5cd 53px,#d89f8a 90px,#cf846a 99px,#c6694c 105px,#b63b2c 110px,#98182a 120px,#800f2a 131px)"></i>
<i style="left:824.7px;top:193.1px;height:225px;background:linear-gradient(#70aac4 0,#b3ccda 13px,#d8e0e5 26px,#efebea 38px,#ead5cd 51px,#e2baac 72px,#d89f8a 89px,#c6694c 105px,#b63b2c 110px,#98182a 120px,#800f2a 130px)"></i>
<i style="left:826.7px;top:193px;height:223.5px;background:linear-gradient(#72abc5 0,#b4ccda 12px,#d9e0e5 23px,#efebea 34px,#ead5cd 47px,#e2baac 69px,#d89f8a 87px,#c6694c 102px,#b63b2c 108px,#98182a 118px,#800f2a 128px)"></i>
<i style="left:828.7px;top:192.8px;height:221.3px;background:linear-gradient(#70aac5 0,#b3ccda 11px,#d8e0e5 22px,#efebea 31px,#ead5cd 45px,#d89f8a 85px,#c6694c 101px,#b63b2c 106px,#98182a 116px,#800f2a 126px)"></i>
<i style="left:830.7px;top:192.7px;height:219.8px;background:linear-gradient(#7db1c9 0,#bacfdc 10px,#dae1e5 20px,#efebea 29px,#d89f8a 85px,#cf846a 95px,#c6694c 102px,#b63b2c 107px,#98182a 117px,#800f2a 128px)"></i>
<i style="left:832.7px;top:192.6px;height:219.2px;background:linear-gradient(#74acc6 0,#b5cdda 11px,#d9e0e5 22px,#efebea 32px,#ead5cd 46px,#d89f8a 86px,#c6694c 102px,#b63b2c 107px,#98182a 117px,#800f2a 128px)"></i>
<i style="left:834.7px;top:192.5px;height:219.7px;background:linear-gradient(#83b5cc 0,#bdd1dc 12px,#efebea 35px,#ead5cd 48px,#d89f8a 86px,#c6694c 102px,#b63b2c 107px,#98182a 116px,#800f2a 128px)"></i>
<i style="left:836.7px;top:192.4px;height:219.4px;background:linear-gradient(#8bb9cf 0,#c0d3dd 13px,#dce2e6 26px,#efebea 38px,#ead5cd 50px,#d89f8a 86px,#cf846a 95px,#c6694c 101px,#b63b2c 105px,#98182a 115px,#800f2a 127px)"></i>
<i style="left:838.7px;top:192.3px;height:219.8px;background:linear-gradient(#96bfd2 0,#c5d5df 13px,#efebea 38px,#ead5cd 50px,#d89f8a 85px,#cf846a 95px,#c6694c 101px,#b63b2c 105px,#98182a 114px,#800f2a 127px)"></i>
<i style="left:840.7px;top:192.2px;height:222.2px;background:linear-gradient(#9fc3d5 0,#c8d7e0 14px,#efebea 39px,#d89f8a 86px,#cf846a 95px,#c6694c 101px,#b63b2c 105px,#98182a 114px,#800f2a 127px)"></i>
<i style="left:842.7px;top:192.1px;height:224.3px;background:linear-gradient(#a4c5d6 0,#cad8e1 15px,#efebea 42px,#d89f8a 87px,#cf846a 96px,#c6694c 102px,#b63b2c 106px,#98182a 114px,#800f2a 128px)"></i>
<i style="left:844.7px;top:192px;height:225px;background:linear-gradient(#99c0d3 0,#c6d6df 16px,#efebea 45px,#d89f8a 87px,#cf846a 97px,#c6694c 102px,#b63b2c 105px,#98182a 113px,#800f2a 128px)"></i>
<i style="left:846.7px;top:191.8px;height:225.4px;background:linear-gradient(#96bfd2 0,#c5d5df 15px,#efebea 42px,#d89f8a 86px,#cf846a 95px,#c6694c 101px,#b63b2c 104px,#98182a 113px,#800f2a 127px)"></i>
<i style="left:848.7px;top:191.7px;height:225.4px;background:linear-gradient(#a0c3d5 0,#c9d7e0 14px,#efebea 39px,#ead5cd 51px,#d89f8a 85px,#cf846a 95px,#c6694c 101px,#b63b2c 105px,#98182a 114px,#800f2a 127px)"></i>
<i style="left:850.7px;top:191.6px;height:225.3px;background:linear-gradient(#acc9d8 0,#cddae2 13px,#efebea 36px,#ead5cd 49px,#d89f8a 86px,#c6694c 101px,#b63b2c 107px,#98182a 117px,#800f2a 126px)"></i>
<i style="left:852.7px;top:191.5px;height:226.6px;background:linear-gradient(#b4cdda 0,#d0dce3 12px,#efebea 34px,#ead5cd 48px,#e2baac 69px,#d89f8a 86px,#c6694c 102px,#b63b2c 107px,#98182a 118px,#800f2a 127px)"></i>
<i style="left:854.7px;top:191.4px;height:226.6px;background:linear-gradient(#c1d3de 0,#e5e6e8 22px,#efebea 32px,#ead5cd 46px,#e2baac 71px,#d89f8a 90px,#c6694c 105px,#b63b2c 112px,#98182a 124px,#800f2a 130px)"></i>
<i style="left:856.7px;top:191.3px;height:225.1px;background:linear-gradient(#c4d4df 0,#efebea 29px,#ead5cd 45px,#e2baac 69px,#d89f8a 89px,#c6694c 107px,#b63b2c 112px,#98182a 122px,#800f2a 133px)"></i>
<i style="left:858.7px;top:191.2px;height:225.1px;background:linear-gradient(#bfd2dd 0,#e4e6e8 23px,#efebea 33px,#ead5cd 48px,#e2baac 71px,#d89f8a 90px,#cf846a 101px,#c6694c 109px,#b63b2c 113px,#98182a 122px,#800f2a 134px)"></i>
<i style="left:860.7px;top:191.1px;height:226.1px;background:linear-gradient(#c1d3de 0,#e5e6e8 24px,#efebea 34px,#ead5cd 49px,#d89f8a 92px,#c6694c 109px,#b63b2c 115px,#98182a 125px,#800f2a 134px)"></i>
<i style="left:862.7px;top:191px;height:227.9px;background:linear-gradient(#b3ccda 0,#d0dbe3 11px,#efebea 31px,#d89f8a 90px,#cf846a 101px,#c6694c 109px,#b63b2c 113px,#98182a 122px,#800f2a 135px)"></i>
<i style="left:864.7px;top:190.8px;height:229.7px;background:linear-gradient(#b0cad9 0,#cedbe2 10px,#efebea 29px,#d89f8a 90px,#cf846a 103px,#c6694c 111px,#b63b2c 115px,#98182a 123px,#800f2a 137px)"></i>
<i style="left:866.7px;top:190.7px;height:231.5px;background:linear-gradient(#b2cbd9 0,#cfdbe2 10px,#efebea 28px,#ead5cd 45px,#d89f8a 93px,#c6694c 112px,#b63b2c 117px,#98182a 128px,#800f2a 137px)"></i>
<i style="left:868.7px;top:190.6px;height:232.1px;background:linear-gradient(#abc8d8 0,#cddae2 10px,#efebea 29px,#d89f8a 92px,#cf846a 103px,#c6694c 111px,#b63b2c 116px,#98182a 126px,#800f2a 137px)"></i>
<i style="left:870.7px;top:190.5px;height:231px;background:linear-gradient(#bacfdb 0,#e3e5e8 21px,#efebea 30px,#ead5cd 46px,#e2baac 70px,#d89f8a 90px,#cf846a 101px,#c6694c 109px,#b63b2c 114px,#98182a 123px,#800f2a 135px)"></i>
<i style="left:872.7px;top:190.4px;height:229.9px;background:linear-gradient(#afcad9 0,#cedbe2 11px,#efebea 32px,#d89f8a 88px,#c6694c 106px,#b63b2c 111px,#98182a 120px,#800f2a 131px)"></i>
<i style="left:874.7px;top:190.3px;height:228.8px;background:linear-gradient(#a7c6d7 0,#cbd9e1 11px,#efebea 32px,#ead5cd 46px,#d89f8a 85px,#cf846a 97px,#c6694c 104px,#b63b2c 108px,#98182a 115px,#800f2a 130px)"></i>
<i style="left:876.7px;top:190.2px;height:227.1px;background:linear-gradient(#afcad9 0,#cedbe2 11px,#efebea 30px,#d89f8a 85px,#cf846a 96px,#c6694c 103px,#b63b2c 107px,#98182a 115px,#800f2a 129px)"></i>
<i style="left:878.7px;top:190.1px;height:226px;background:linear-gradient(#b8cedb 0,#d2dde3 9px,#efebea 26px,#ead5cd 41px,#e2baac 65px,#d89f8a 84px,#c6694c 102px,#b63b2c 107px,#98182a 117px,#800f2a 128px)"></i>
<i style="left:880.7px;top:190px;height:225.7px;background:linear-gradient(#bdd1dc 0,#d4dee4 9px,#efebea 25px,#ead5cd 40px,#e2baac 64px,#d89f8a 83px,#c6694c 101px,#b63b2c 106px,#98182a 116px,#800f2a 127px)"></i>
<i style="left:882.7px;top:189.8px;height:226.1px;background:linear-gradient(#b8cedb 0,#d2dde3 8px,#efebea 23px,#d89f8a 82px,#cf846a 93px,#c6694c 101px,#b63b2c 105px,#98182a 115px,#800f2a 126px)"></i>
<i style="left:884.7px;top:189.7px;height:227.9px;background:linear-gradient(#c1d3de 0,#d6dfe4 8px,#efebea 24px,#ead5cd 39px,#e2baac 65px,#d89f8a 85px,#c6694c 102px,#b63b2c 108px,#98182a 120px,#800f2a 127px)"></i>
<i style="left:886.7px;top:189.6px;height:228.3px;background:linear-gradient(#b8cedb 0,#d2dde3 10px,#efebea 29px,#ead5cd 44px,#e2baac 68px,#d89f8a 87px,#c6694c 103px,#b63b2c 109px,#98182a 120px,#800f2a 129px)"></i>
<i style="left:888.7px;top:189.5px;height:225.9px;background:linear-gradient(#bed1dd 0,#d4dee4 11px,#efebea 33px,#ead5cd 47px,#e2baac 69px,#d89f8a 87px,#cf846a 97px,#c6694c 104px,#b63b2c 109px,#98182a 119px,#800f2a 129px)"></i>
<i style="left:890.7px;top:189.4px;height:226px;background:linear-gradient(#adc9d8 0,#cedae2 12px,#efebea 34px,#ead5cd 48px,#e2baac 71px,#d89f8a 89px,#c6694c 104px,#b63b2c 111px,#98182a 122px,#800f2a 130px)"></i>
<i style="left:892.7px;top:189.3px;height:226.8px;background:linear-gradient(#b3ccda 0,#d0dce3 12px,#efebea 35px,#ead5cd 48px,#d89f8a 87px,#cf846a 97px,#c6694c 104px,#b63b2c 109px,#98182a 118px,#800f2a 130px)"></i>
<i style="left:894.7px;top:189.2px;height:227px;background:linear-gradient(#abc8d8 0,#cddae2 12px,#efebea 35px,#d89f8a 86px,#cf846a 97px,#c6694c 104px,#b63b2c 108px,#98182a 116px,#800f2a 130px)"></i>
<i style="left:896.7px;top:189.1px;height:226.4px;background:linear-gradient(#b6cddb 0,#d1dce3 12px,#efebea 35px,#ead5cd 49px,#e2baac 73px,#d89f8a 91px,#c6694c 104px,#b63b2c 112px,#98182a 125px,#800f2a 130px)"></i>
<i style="left:898.7px;top:189px;height:226.5px;background:linear-gradient(#a2c4d6 0,#c9d8e0 12px,#efebea 35px,#ead5cd 49px,#d89f8a 88px,#c6694c 104px,#b63b2c 109px,#98182a 119px,#800f2a 130px)"></i>
<i style="left:900.7px;top:188.9px;height:227.3px;background:linear-gradient(#a5c5d6 0,#cad8e1 12px,#efebea 35px,#d89f8a 86px,#cf846a 97px,#c6694c 104px,#b63b2c 107px,#98182a 115px,#800f2a 130px)"></i>
<i style="left:902.7px;top:188.7px;height:227.5px;background:linear-gradient(#aecad8 0,#cedae2 12px,#efebea 35px,#ead5cd 49px,#e2baac 72px,#d89f8a 90px,#cf846a 98px,#c6694c 104px,#b63b2c 111px,#98182a 123px,#800f2a 130px)"></i>
<i style="left:904.7px;top:188.6px;height:229px;background:linear-gradient(#b1cbd9 0,#cfdbe2 12px,#efebea 35px,#d89f8a 87px,#cf846a 98px,#c6694c 105px,#b63b2c 109px,#98182a 117px,#800f2a 130px)"></i>
<i style="left:906.7px;top:188.5px;height:229.1px;background:linear-gradient(#b7cedb 0,#d1dce3 12px,#efebea 35px,#d89f8a 87px,#cf846a 98px,#c6694c 105px,#b63b2c 109px,#98182a 118px,#800f2a 130px)"></i>
<i style="left:908.7px;top:188.4px;height:228.5px;background:linear-gradient(#bcd0dc 0,#d3dde4 12px,#efebea 35px,#ead5cd 49px,#e2baac 71px,#d89f8a 89px,#c6694c 105px,#b63b2c 111px,#98182a 121px,#800f2a 131px)"></i>
<i style="left:910.7px;top:188.3px;height:228.6px;background:linear-gradient(#bdd1dc 0,#d4dee4 12px,#efebea 36px,#ead5cd 49px,#d89f8a 88px,#cf846a 98px,#c6694c 105px,#b63b2c 109px,#98182a 118px,#800f2a 131px)"></i>
<i style="left:912.7px;top:188.2px;height:228.8px;background:linear-gradient(#b6cdda 0,#d1dce3 12px,#efebea 36px,#d89f8a 88px,#cf846a 98px,#c6694c 105px,#b63b2c 109px,#98182a 118px,#800f2a 131px)"></i>
<i style="left:914.7px;top:188.1px;height:228.9px;background:linear-gradient(#b2cbd9 0,#cfdbe2 13px,#efebea 36px,#ead5cd 50px,#d89f8a 89px,#c6694c 105px,#b63b2c 110px,#98182a 120px,#800f2a 131px)"></i>
<i style="left:916.7px;top:188px;height:229px;background:linear-gradient(#bcd0dc 0,#e4e6e8 25px,#efebea 36px,#ead5cd 50px,#e2baac 73px,#d89f8a 91px,#c6694c 105px,#b63b2c 112px,#98182a 124px,#800f2a 131px)"></i>
<i style="left:918.7px;top:187.9px;height:229.1px;background:linear-gradient(#b2ccda 0,#cfdbe2 13px,#efebea 36px,#d89f8a 86px,#cf846a 98px,#c6694c 105px,#b63b2c 108px,#98182a 115px,#800f2a 131px)"></i>
<i style="left:890.7px;top:217.3px;height:268.5px;background:linear-gradient(#1b6ebe 0,#4c94be 37px,#a8c7d7 57px,#efebea 67px,#ead5cd 77px,#d89f8a 105px,#cf846a 113px,#c6694c 118px,#b63b2c 124px,#98182a 136px,#810f2a 155px)"></i>
<i style="left:892.7px;top:217px;height:250.5px;background:linear-gradient(#2a41aa 0,#1161be 20px,#438ebe 33px,#b9cedb 44px,#efebea 55px,#ead5cd 66px,#e2baac 84px,#d89f8a 99px,#cf846a 108px,#c6694c 114px,#b63b2c 120px,#98182a 133px,#810f2a 150px)"></i>
<i style="left:894.7px;top:216.6px;height:239.1px;background:linear-gradient(#2547ae 0,#1363be 16px,#438ebe 27px,#b9cedb 40px,#efebea 53px,#ead5cd 64px,#e2baac 81px,#d89f8a 95px,#cf846a 104px,#c6694c 109px,#b63b2c 116px,#98182a 129px,#810f2a 146px)"></i>
<i style="left:896.7px;top:216.2px;height:238.6px;background:linear-gradient(#293ea1 0,#105ebd 18px,#438ebe 30px,#b9cedb 42px,#efebea 54px,#ead5cd 64px,#d89f8a 94px,#cf846a 102px,#c6694c 107px,#b63b2c 114px,#98182a 127px,#810f2a 144px)"></i>
<i style="left:898.7px;top:215.9px;height:236.8px;background:linear-gradient(#293fa4 0,#0f5fbe 17px,#438ebe 29px,#b9cedb 43px,#efebea 57px,#ead5cd 67px,#e2baac 84px,#d89f8a 97px,#c6694c 107px,#b63b2c 115px,#98182a 130px,#810f2a 144px)"></i>
<i style="left:900.7px;top:215.5px;height:236.3px;background:linear-gradient(#2744ac 0,#1262be 15px,#438ebe 25px,#b9cedb 42px,#efebea 59px,#ead5cd 68px,#d89f8a 93px,#cf846a 101px,#c6694c 105px,#b63b2c 110px,#98182a 122px,#810f2a 141px)"></i>
<i style="left:902.7px;top:215.1px;height:237.3px;background:linear-gradient(#2a41aa 0,#1061be 15px,#438ebe 25px,#b9cedb 42px,#efebea 59px,#ead5cd 68px,#e2baac 85px,#d89f8a 96px,#cf846a 99px,#c6694c 103px,#b63b2c 113px,#98182a 130px,#810f2a 139px)"></i>
<i style="left:904.7px;top:214.8px;height:236.9px;background:linear-gradient(#293ea2 0,#105ebe 15px,#438ebe 25px,#b9cedb 43px,#efebea 60px,#d89f8a 92px,#cf846a 99px,#c6694c 103px,#b63b2c 109px,#98182a 122px,#810f2a 139px)"></i>
<i style="left:906.7px;top:214.4px;height:235.7px;background:linear-gradient(#293d9f 0,#115dbd 15px,#438ebe 24px,#b9cedb 41px,#efebea 57px,#ead5cd 66px,#e2baac 81px,#d89f8a 93px,#c6694c 104px,#b63b2c 111px,#98182a 124px,#810f2a 140px)"></i>
<i style="left:908.7px;top:214px;height:237px;background:linear-gradient(#293ea3 0,#0f5fbe 13px,#438ebe 21px,#b9cedb 39px,#efebea 56px,#ead5cd 66px,#d89f8a 94px,#cf846a 101px,#c6694c 106px,#b63b2c 113px,#98182a 125px,#810f2a 143px)"></i>
<i style="left:910.7px;top:213.7px;height:240.5px;background:linear-gradient(#293fa5 0,#0f5fbe 9px,#438ebe 16px,#b9cedb 35px,#efebea 55px,#ead5cd 66px,#e2baac 84px,#d89f8a 98px,#c6694c 110px,#b63b2c 118px,#98182a 133px,#810f2a 146px)"></i>
<i style="left:912.7px;top:213.3px;height:241.8px;background:linear-gradient(#2546ad 0,#1263be 14px,#438ebe 23px,#b9cedb 44px,#efebea 64px,#d89f8a 100px,#cf846a 107px,#c6694c 112px,#b63b2c 118px,#98182a 131px,#810f2a 148px)"></i>
<i style="left:914.7px;top:212.9px;height:243.9px;background:linear-gradient(#214bb1 0,#1465be 20px,#438ebe 34px,#b9cedb 52px,#efebea 71px,#d89f8a 100px,#cf846a 107px,#c6694c 111px,#b63b2c 117px,#98182a 129px,#810f2a 147px)"></i>
<i style="left:916.7px;top:212.6px;height:244.1px;background:linear-gradient(#2547ae 0,#1363be 12px,#438ebe 19px,#b9cedb 44px,#efebea 68px,#d89f8a 100px,#cf846a 107px,#c6694c 111px,#b63b2c 117px,#98182a 129px,#810f2a 147px)"></i>
<i style="left:918.7px;top:212.2px;height:239.4px;background:linear-gradient(#2a40a7 0,#1060be 10px,#438ebe 17px,#b9cedb 43px,#efebea 68px,#d89f8a 100px,#cf846a 107px,#c6694c 111px,#b63b2c 117px,#98182a 129px,#810f2a 147px)"></i>
<i style="left:920.7px;top:211.8px;height:236.1px;background:linear-gradient(#2349b0 0,#1364be 8px,#438ebe 14px,#b9cedb 44px,#efebea 74px,#ead5cd 81px,#e2baac 92px,#d89f8a 101px,#c6694c 110px,#b63b2c 116px,#98182a 129px,#810f2a 146px)"></i>
<i style="left:922.7px;top:211.5px;height:232.1px;background:linear-gradient(#115dbc 0,#1a6cbe 6px,#438ebe 10px,#b9cedb 41px,#efebea 71px,#d89f8a 97px,#cf846a 101px,#c6694c 104px,#b63b2c 111px,#98182a 124px,#810f2a 141px)"></i>
<i style="left:924.7px;top:211.1px;height:230.2px;background:linear-gradient(#1e71be 0,#2579be 4px,#438ebe 7px,#b9cedb 34px,#efebea 61px,#d89f8a 90px,#cf846a 96px,#c6694c 100px,#b63b2c 106px,#98182a 120px,#810f2a 136px)"></i>
<i style="left:926.7px;top:211px;height:231.2px;background:linear-gradient(#6ba7c3 0,#b0cbd9 21px,#d7e0e5 42px,#efebea 59px,#d89f8a 87px,#c6694c 95px,#b63b2c 102px,#98182a 116px,#810f2a 131px)"></i>
<i style="left:928.7px;top:211px;height:230.7px;background:linear-gradient(#87b7cd 0,#bfd2dd 21px,#efebea 60px,#ead5cd 68px,#e2baac 81px,#d89f8a 91px,#c6694c 100px,#b63b2c 107px,#98182a 121px,#810f2a 136px)"></i>
<i style="left:930.7px;top:211px;height:230.2px;background:linear-gradient(#a6c6d7 0,#cbd9e1 21px,#efebea 61px,#ead5cd 69px,#d89f8a 93px,#c6694c 102px,#b63b2c 110px,#98182a 123px,#810f2a 139px)"></i>
<i style="left:932.7px;top:211px;height:229.7px;background:linear-gradient(#9fc3d5 0,#c8d7e0 20px,#efebea 58px,#ead5cd 67px,#e2baac 82px,#d89f8a 93px,#c6694c 102px,#b63b2c 110px,#98182a 125px,#810f2a 138px)"></i>
<i style="left:934.7px;top:211px;height:227.8px;background:linear-gradient(#b1cbd9 0,#cfdbe2 19px,#efebea 54px,#ead5cd 64px,#e2baac 80px,#d89f8a 92px,#c6694c 102px,#b63b2c 110px,#98182a 126px,#810f2a 138px)"></i>
<i style="left:936.7px;top:211px;height:227.3px;background:linear-gradient(#afcad9 0,#cedbe2 18px,#efebea 52px,#ead5cd 62px,#e2baac 78px,#d89f8a 90px,#c6694c 101px,#b63b2c 109px,#98182a 122px,#810f2a 138px)"></i>
<i style="left:938.7px;top:211px;height:226.1px;background:linear-gradient(#b2ccda 0,#d0dbe3 19px,#efebea 55px,#d89f8a 91px,#cf846a 98px,#c6694c 102px,#b63b2c 109px,#98182a 123px,#810f2a 139px)"></i>
<i style="left:940.7px;top:211px;height:225.6px;background:linear-gradient(#adc9d8 0,#cddae2 18px,#efebea 52px,#d89f8a 90px,#cf846a 98px,#c6694c 103px,#b63b2c 109px,#98182a 122px,#810f2a 140px)"></i>
<i style="left:942.7px;top:211px;height:226.5px;background:linear-gradient(#b0cad9 0,#cedbe2 19px,#efebea 54px,#ead5cd 64px,#d89f8a 92px,#cf846a 99px,#c6694c 104px,#b63b2c 111px,#98182a 124px,#810f2a 141px)"></i>
<i style="left:944.7px;top:211px;height:226px;background:linear-gradient(#b6cdda 0,#d1dce3 17px,#efebea 50px,#d89f8a 89px,#cf846a 98px,#c6694c 104px,#b63b2c 108px,#98182a 119px,#810f2a 140px)"></i>
<i style="left:946.7px;top:211px;height:226.2px;background:linear-gradient(#adc9d8 0,#cddae2 15px,#efebea 44px,#d89f8a 87px,#cf846a 96px,#c6694c 102px,#b63b2c 108px,#98182a 120px,#810f2a 139px)"></i>
<i style="left:948.7px;top:211px;height:225.7px;background:linear-gradient(#b9cedb 0,#d2dde3 15px,#efebea 42px,#d89f8a 86px,#cf846a 94px,#c6694c 100px,#b63b2c 106px,#98182a 118px,#810f2a 136px)"></i>
<i style="left:950.7px;top:211px;height:223.8px;background:linear-gradient(#b4ccda 0,#d0dce3 14px,#efebea 40px,#ead5cd 52px,#e2baac 70px,#d89f8a 85px,#cf846a 94px,#c6694c 100px,#b63b2c 106px,#98182a 120px,#810f2a 136px)"></i>
<i style="left:952.7px;top:211px;height:223.3px;background:linear-gradient(#b3ccda 0,#d0dbe3 14px,#efebea 40px,#ead5cd 52px,#e2baac 70px,#d89f8a 85px,#cf846a 94px,#c6694c 99px,#b63b2c 106px,#98182a 119px,#810f2a 136px)"></i>
<i style="left:954.7px;top:211px;height:223.1px;background:linear-gradient(#b1cbd9 0,#cfdbe2 15px,#efebea 42px,#d89f8a 86px,#c6694c 99px,#b63b2c 106px,#98182a 120px,#810f2a 135px)"></i>
<i style="left:956.7px;top:211px;height:223.7px;background:linear-gradient(#afcad9 0,#cedbe2 16px,#efebea 45px,#d89f8a 86px,#cf846a 93px,#c6694c 98px,#b63b2c 105px,#98182a 118px,#810f2a 135px)"></i>
<i style="left:958.7px;top:211px;height:225.7px;background:linear-gradient(#abc9d8 0,#cddae2 14px,#efebea 41px,#ead5cd 52px,#e2baac 70px,#d89f8a 85px,#cf846a 94px,#c6694c 100px,#b63b2c 106px,#98182a 118px,#810f2a 136px)"></i>
<i style="left:960.7px;top:211px;height:226.3px;background:linear-gradient(#a4c5d6 0,#cad8e1 13px,#efebea 36px,#ead5cd 50px,#d89f8a 89px,#cf846a 98px,#c6694c 104px,#b63b2c 112px,#98182a 126px,#810f2a 141px)"></i>
<i style="left:962.7px;top:210.9px;height:227.6px;background:linear-gradient(#9cc2d4 0,#c7d6e0 11px,#efebea 31px,#ead5cd 46px,#d89f8a 89px,#cf846a 100px,#c6694c 108px,#b63b2c 114px,#98182a 127px,#810f2a 144px)"></i>
<i style="left:964.7px;top:210.9px;height:228.2px;background:linear-gradient(#a5c6d6 0,#cad8e1 11px,#efebea 31px,#ead5cd 45px,#d89f8a 84px,#cf846a 94px,#c6694c 101px,#b63b2c 107px,#98182a 119px,#810f2a 137px)"></i>
<i style="left:966.7px;top:210.9px;height:227.4px;background:linear-gradient(#b2ccda 0,#cfdbe2 10px,#efebea 30px,#ead5cd 43px,#d89f8a 80px,#c6694c 95px,#b63b2c 102px,#98182a 116px,#810f2a 131px)"></i>
<i style="left:968.7px;top:210.9px;height:227.7px;background:linear-gradient(#bcd0dc 0,#e4e6e8 22px,#efebea 32px,#ead5cd 44px,#d89f8a 79px,#c6694c 94px,#b63b2c 100px,#98182a 113px,#810f2a 130px)"></i>
<i style="left:970.7px;top:210.9px;height:228px;background:linear-gradient(#b6cddb 0,#d1dce3 14px,#efebea 39px,#d89f8a 80px,#cf846a 88px,#c6694c 93px,#b63b2c 100px,#98182a 113px,#810f2a 130px)"></i>
<i style="left:972.7px;top:210.9px;height:228.2px;background:linear-gradient(#bacfdb 0,#d2dde3 15px,#efebea 43px,#d89f8a 82px,#cf846a 91px,#c6694c 97px,#b63b2c 102px,#98182a 113px,#810f2a 133px)"></i>
<i style="left:974.7px;top:210.9px;height:228.5px;background:linear-gradient(#bed1dd 0,#e4e6e8 29px,#efebea 42px,#ead5cd 54px,#e2baac 73px,#d89f8a 88px,#cf846a 96px,#c6694c 102px,#b63b2c 109px,#98182a 123px,#810f2a 138px)"></i>
<i style="left:976.7px;top:210.9px;height:228.8px;background:linear-gradient(#c1d3de 0,#d6dfe4 11px,#efebea 32px,#ead5cd 47px,#e2baac 72px,#d89f8a 91px,#cf846a 97px,#c6694c 105px,#b63b2c 115px,#98182a 132px,#810f2a 141px)"></i>
<i style="left:978.7px;top:210.9px;height:229.1px;background:linear-gradient(#bbcfdc 0,#e3e5e8 17px,#efebea 25px,#ead5cd 41px,#d89f8a 87px,#cf846a 98px,#c6694c 106px,#b63b2c 113px,#98182a 127px,#810f2a 143px)"></i>
<i style="left:980.7px;top:210.9px;height:229.4px;background:linear-gradient(#aecad9 0,#cedae2 5px,#efebea 15px,#ead5cd 34px,#e2baac 64px,#d89f8a 88px,#c6694c 109px,#b63b2c 117px,#98182a 132px,#810f2a 145px)"></i>
<i style="left:982.7px;top:210.9px;height:230.9px;background:linear-gradient(#b3ccda 0,#d0dce3 10px,#efebea 28px,#ead5cd 44px,#d89f8a 90px,#c6694c 110px,#b63b2c 116px,#98182a 129px,#810f2a 146px)"></i>
<i style="left:984.7px;top:210.9px;height:230.8px;background:linear-gradient(#bbd0dc 0,#d3dde4 12px,#efebea 35px,#ead5cd 50px,#d89f8a 93px,#cf846a 103px,#c6694c 110px,#b63b2c 117px,#98182a 131px,#810f2a 146px)"></i>
<i style="left:986.7px;top:210.9px;height:230.6px;background:linear-gradient(#a9c7d7 0,#ccd9e1 14px,#efebea 39px,#ead5cd 53px,#d89f8a 94px,#c6694c 110px,#b63b2c 117px,#98182a 131px,#810f2a 146px)"></i>
<i style="left:988.7px;top:210.9px;height:230.5px;background:linear-gradient(#a4c5d6 0,#cad8e1 13px,#efebea 38px,#ead5cd 52px,#d89f8a 92px,#cf846a 102px,#c6694c 109px,#b63b2c 115px,#98182a 128px,#810f2a 145px)"></i>
<i style="left:990.7px;top:210.9px;height:230.3px;background:linear-gradient(#b7cedb 0,#d1dce3 12px,#efebea 35px,#d89f8a 90px,#cf846a 102px,#c6694c 109px,#b63b2c 115px,#98182a 127px,#810f2a 145px)"></i>
<i style="left:992.7px;top:210.9px;height:230.2px;background:linear-gradient(#bbcfdc 0,#d3dde4 11px,#efebea 32px,#ead5cd 48px,#d89f8a 93px,#c6694c 111px,#b63b2c 118px,#98182a 132px,#810f2a 147px)"></i>
<i style="left:994.7px;top:210.9px;height:227.9px;background:linear-gradient(#b5cdda 0,#d0dce3 11px,#efebea 32px,#ead5cd 48px,#d89f8a 94px,#c6694c 112px,#b63b2c 120px,#98182a 134px,#810f2a 149px)"></i>
<i style="left:996.7px;top:210.9px;height:227.8px;background:linear-gradient(#b1cbd9 0,#cfdbe2 12px,#efebea 34px,#d89f8a 91px,#cf846a 105px,#c6694c 112px,#b63b2c 116px,#98182a 126px,#810f2a 149px)"></i>
<i style="left:998.7px;top:210.9px;height:229.7px;background:linear-gradient(#b4ccda 0,#d0dce3 12px,#efebea 35px,#ead5cd 50px,#d89f8a 92px,#cf846a 103px,#c6694c 110px,#b63b2c 116px,#98182a 129px,#810f2a 147px)"></i>
<i style="left:1000.7px;top:210.9px;height:229.5px;background:linear-gradient(#a9c7d7 0,#ccd9e1 12px,#e1e4e7 23px,#efebea 34px,#ead5cd 49px,#e2baac 73px,#d89f8a 93px,#cf846a 103px,#c6694c 110px,#b63b2c 118px,#98182a 132px,#810f2a 147px)"></i>
<i style="left:1002.7px;top:211px;height:228px;background:linear-gradient(#b4ccda 0,#d0dce3 11px,#efebea 31px,#d89f8a 90px,#cf846a 102px,#c6694c 110px,#b63b2c 116px,#98182a 128px,#810f2a 146px)"></i>
<i style="left:1004.7px;top:211px;height:229px;background:linear-gradient(#adc9d8 0,#cddae2 10px,#efebea 30px,#d89f8a 89px,#cf846a 102px,#c6694c 110px,#b63b2c 115px,#98182a 127px,#810f2a 146px)"></i>
<i style="left:1006.7px;top:211px;height:230.7px;background:linear-gradient(#9ec3d5 0,#c8d7e0 11px,#dfe3e7 21px,#efebea 31px,#ead5cd 47px,#d89f8a 92px,#cf846a 103px,#c6694c 111px,#b63b2c 118px,#98182a 132px,#810f2a 147px)"></i>
<i style="left:1008.7px;top:211.1px;height:231.7px;background:linear-gradient(#9fc3d5 0,#c8d7e0 12px,#efebea 33px,#d89f8a 90px,#cf846a 103px,#c6694c 111px,#b63b2c 115px,#98182a 126px,#810f2a 147px)"></i>
<i style="left:1010.7px;top:211.1px;height:231.1px;background:linear-gradient(#aac8d8 0,#ccdae1 12px,#efebea 34px,#d89f8a 92px,#cf846a 103px,#c6694c 111px,#b63b2c 117px,#98182a 130px,#810f2a 147px)"></i>
<i style="left:1012.7px;top:211.2px;height:231px;background:linear-gradient(#b5cdda 0,#d1dce3 12px,#efebea 34px,#d89f8a 91px,#cf846a 103px,#c6694c 111px,#b63b2c 116px,#98182a 128px,#810f2a 147px)"></i>
<i style="left:1014.7px;top:211.2px;height:231px;background:linear-gradient(#b0cad9 0,#cfdbe2 12px,#efebea 34px,#d89f8a 92px,#cf846a 103px,#c6694c 111px,#b63b2c 117px,#98182a 130px,#810f2a 147px)"></i>
<i style="left:1016.7px;top:211.2px;height:230.9px;background:linear-gradient(#b2ccda 0,#cfdbe2 12px,#efebea 34px,#ead5cd 49px,#d89f8a 92px,#cf846a 103px,#c6694c 111px,#b63b2c 117px,#98182a 130px,#810f2a 147px)"></i>
<i style="left:1018.7px;top:211.3px;height:229.5px;background:linear-gradient(#b8cedb 0,#d2dde3 12px,#efebea 34px,#ead5cd 49px,#e2baac 73px,#d89f8a 93px,#c6694c 111px,#b63b2c 118px,#98182a 133px,#810f2a 147px)"></i>
<i style="left:1020.7px;top:211.3px;height:229.5px;background:linear-gradient(#bed1dd 0,#efebea 34px,#ead5cd 49px,#e2baac 75px,#d89f8a 95px,#c6694c 111px,#b63b2c 120px,#98182a 136px,#810f2a 147px)"></i>
<i style="left:1022.7px;top:211.3px;height:232.2px;background:linear-gradient(#bacfdb 0,#d2dde3 12px,#efebea 34px,#ead5cd 49px,#d89f8a 92px,#cf846a 103px,#c6694c 111px,#b63b2c 117px,#98182a 131px,#810f2a 147px)"></i>
<i style="left:1024.7px;top:211.4px;height:232.2px;background:linear-gradient(#b1cbd9 0,#cfdbe2 12px,#efebea 34px,#ead5cd 49px,#d89f8a 91px,#cf846a 103px,#c6694c 111px,#b63b2c 116px,#98182a 127px,#810f2a 147px)"></i>
<i style="left:1026.7px;top:211.4px;height:232.1px;background:linear-gradient(#b1cbd9 0,#cfdbe2 12px,#efebea 34px,#ead5cd 49px,#d89f8a 92px,#cf846a 103px,#c6694c 111px,#b63b2c 117px,#98182a 131px,#810f2a 147px)"></i>
<i style="left:1028.7px;top:211.5px;height:232.1px;background:linear-gradient(#b8cedb 0,#d2dde3 12px,#efebea 34px,#ead5cd 49px,#d89f8a 91px,#cf846a 103px,#c6694c 110px,#b63b2c 115px,#98182a 127px,#810f2a 147px)"></i>
<i style="left:1030.7px;top:211.5px;height:229.9px;background:linear-gradient(#b9cfdb 0,#d2dde3 12px,#efebea 34px,#d89f8a 90px,#cf846a 103px,#c6694c 110px,#b63b2c 115px,#98182a 126px,#810f2a 147px)"></i>
<i style="left:1032.7px;top:211.5px;height:229.9px;background:linear-gradient(#b7cedb 0,#d1dce3 12px,#efebea 34px,#ead5cd 49px,#d89f8a 92px,#cf846a 103px,#c6694c 110px,#b63b2c 117px,#98182a 130px,#810f2a 147px)"></i>
<i style="left:1034.7px;top:211.6px;height:232px;background:linear-gradient(#b6cddb 0,#d1dce3 12px,#efebea 34px,#ead5cd 49px,#d89f8a 92px,#cf846a 103px,#c6694c 110px,#b63b2c 117px,#98182a 130px,#810f2a 147px)"></i>
<i style="left:1036.7px;top:211.6px;height:231.9px;background:linear-gradient(#b3ccda 0,#d0dce3 12px,#efebea 34px,#ead5cd 49px,#e2baac 73px,#d89f8a 93px,#cf846a 103px,#c6694c 110px,#b63b2c 117px,#98182a 131px,#810f2a 147px)"></i>
<i style="left:1038.7px;top:211.6px;height:229.1px;background:linear-gradient(#c0d2dd 0,#efebea 34px,#ead5cd 49px,#d89f8a 91px,#cf846a 103px,#c6694c 110px,#b63b2c 116px,#98182a 128px,#810f2a 147px)"></i>
<i style="left:1040.7px;top:211.7px;height:229px;background:linear-gradient(#b9cfdb 0,#d2dde3 12px,#efebea 34px,#ead5cd 49px,#d89f8a 91px,#cf846a 103px,#c6694c 110px,#b63b2c 116px,#98182a 129px,#810f2a 147px)"></i>
<i style="left:1042.7px;top:211.7px;height:231.8px;background:linear-gradient(#aecad9 0,#cedae2 12px,#efebea 34px,#ead5cd 49px,#d89f8a 91px,#cf846a 103px,#c6694c 110px,#b63b2c 116px,#98182a 128px,#810f2a 147px)"></i>
<i style="left:1044.7px;top:211.8px;height:231.7px;background:linear-gradient(#adc9d8 0,#cddae2 12px,#efebea 34px,#ead5cd 49px,#e2baac 73px,#d89f8a 93px,#cf846a 103px,#c6694c 110px,#b63b2c 118px,#98182a 133px,#810f2a 146px)"></i>
<i style="left:1046.7px;top:211.8px;height:231.7px;background:linear-gradient(#a1c4d5 0,#c9d7e0 12px,#efebea 34px,#ead5cd 49px,#e2baac 73px,#d89f8a 93px,#c6694c 110px,#b63b2c 118px,#98182a 132px,#810f2a 146px)"></i>
<i style="left:1048.7px;top:211.8px;height:231.6px;background:linear-gradient(#92bdd1 0,#c3d4de 12px,#dde3e6 23px,#efebea 34px,#ead5cd 49px,#d89f8a 92px,#c6694c 110px,#b63b2c 117px,#98182a 130px,#810f2a 146px)"></i>
<i style="left:1050.7px;top:211.9px;height:230.2px;background:linear-gradient(#80b3ca 0,#bcd0dc 12px,#dbe1e6 23px,#efebea 34px,#ead5cd 49px,#d89f8a 92px,#c6694c 110px,#b63b2c 116px,#98182a 130px,#810f2a 146px)"></i>
<i style="left:1052.7px;top:211.9px;height:230.2px;background:linear-gradient(#76adc7 0,#b6cddb 12px,#d9e0e5 23px,#efebea 33px,#d89f8a 89px,#cf846a 102px,#c6694c 110px,#b63b2c 114px,#98182a 125px,#810f2a 146px)"></i>
<i style="left:1054.7px;top:212px;height:230.8px;background:linear-gradient(#267abe 0,#60a1bf 18px,#b1cbd9 28px,#efebea 33px,#d89f8a 92px,#c6694c 110px,#b63b2c 117px,#98182a 130px,#810f2a 146px)"></i>
<i style="left:1056.7px;top:212px;height:230.8px;background:linear-gradient(#2074be 0,#569abe 18px,#acc9d8 28px,#efebea 33px,#d89f8a 91px,#cf846a 102px,#c6694c 110px,#b63b2c 116px,#98182a 129px,#810f2a 146px)"></i>
<i style="left:1058.7px;top:212px;height:230px;background:linear-gradient(#2377be 0,#5b9dbe 18px,#aecad9 28px,#efebea 33px,#d89f8a 92px,#c6694c 110px,#b63b2c 117px,#98182a 130px,#810f2a 146px)"></i>
<i style="left:1060.7px;top:212.1px;height:230px;background:linear-gradient(#1b6ebe 0,#4c94be 18px,#a8c7d7 28px,#efebea 33px,#d89f8a 92px,#c6694c 110px,#b63b2c 117px,#98182a 131px,#810f2a 146px)"></i>
<i style="left:1062.7px;top:212.1px;height:228.5px;background:linear-gradient(#1b6ebe 0,#4c94be 18px,#a8c7d7 28px,#efebea 33px,#d89f8a 91px,#cf846a 102px,#c6694c 110px,#b63b2c 116px,#98182a 129px,#810f2a 146px)"></i>
<i style="left:1064.7px;top:212.1px;height:228.5px;background:linear-gradient(#1b6ebe 0,#4c94be 18px,#a8c7d7 28px,#efebea 33px,#d89f8a 91px,#cf846a 102px,#c6694c 110px,#b63b2c 116px,#98182a 129px,#810f2a 146px)"></i>
<i style="left:1066.7px;top:212.2px;height:229.9px;background:linear-gradient(#1b6ebe 0,#4c94be 18px,#a8c7d7 28px,#efebea 33px,#ead5cd 49px,#e2baac 72px,#d89f8a 91px,#cf846a 102px,#c6694c 110px,#b63b2c 116px,#98182a 130px,#810f2a 146px)"></i>
<i style="left:1068.7px;top:212.2px;height:229.8px;background:linear-gradient(#1b6ebe 0,#4c94be 18px,#a8c7d7 28px,#efebea 33px,#ead5cd 48px,#e2baac 73px,#d89f8a 93px,#c6694c 110px,#b63b2c 118px,#98182a 133px,#810f2a 146px)"></i>
<i style="left:1070.7px;top:212.3px;height:228.4px;background:linear-gradient(#1b6ebe 0,#4c94be 18px,#a8c7d7 28px,#efebea 33px,#ead5cd 48px,#d89f8a 91px,#cf846a 102px,#c6694c 110px,#b63b2c 116px,#98182a 130px,#810f2a 146px)"></i>
<i style="left:1072.7px;top:212.3px;height:228.3px;background:linear-gradient(#1b6ebe 0,#4c94be 18px,#a8c7d7 28px,#efebea 33px,#ead5cd 48px,#d89f8a 91px,#cf846a 102px,#c6694c 110px,#b63b2c 116px,#98182a 130px,#810f2a 146px)"></i>
<i style="left:1074.7px;top:212.3px;height:229px;background:linear-gradient(#1b6ebe 0,#4c94be 18px,#a8c7d7 28px,#efebea 33px,#ead5cd 48px,#d89f8a 91px,#cf846a 102px,#c6694c 110px,#b63b2c 116px,#98182a 129px,#810f2a 146px)"></i>
<i style="left:1076.7px;top:212.4px;height:228.9px;background:linear-gradient(#1b6ebe 0,#4c94be 18px,#a8c7d7 28px,#efebea 33px,#ead5cd 48px,#d89f8a 91px,#cf846a 102px,#c6694c 110px,#b63b2c 116px,#98182a 129px,#810f2a 146px)"></i>
<i style="left:1078.7px;top:212.4px;width:1.1px;height:230.3px;background:linear-gradient(#1b6ebe 0,#4c94be 18px,#a8c7d7 28px,#efebea 33px,#ead5cd 48px,#d89f8a 91px,#cf846a 102px,#c6694c 110px,#b63b2c 116px,#98182a 129px,#810f2a 146px)"></i>
<i style="left:1010.3px;top:247px;height:2.4px;background:linear-gradient(#bcd0dc 0,#dce2e6 2px)"></i>
<i style="left:1012.3px;top:245.5px;height:3.8px;background:linear-gradient(#c6d6df 0,#e6e6e8 4px)"></i>
<i style="left:1014.3px;top:244.1px;height:5.2px;background:linear-gradient(#b3ccda 0,#d6dfe4 5px)"></i>
<i style="left:1016.3px;top:242.7px;height:6.6px;background:linear-gradient(#b9cedb 0,#dae1e5 7px)"></i>
<i style="left:1018.3px;top:241.2px;height:8px;background:linear-gradient(#b5cdda 0,#d8e0e5 8px)"></i>
<i style="left:1020.3px;top:239.8px;height:9.4px;background:linear-gradient(#b5cdda 0,#d7e0e5 9px)"></i>
<i style="left:1022.3px;top:238.3px;height:10.8px;background:linear-gradient(#bdd0dc 0,#dde2e6 11px)"></i>
<i style="left:1024.3px;top:236.9px;height:12.2px;background:linear-gradient(#a7c7d7 0,#cedae2 12px)"></i>
<i style="left:1026.3px;top:235.5px;height:13.6px;background:linear-gradient(#bcd0dc 0,#dce2e6 14px)"></i>
<i style="left:1028.3px;top:234px;height:15px;background:linear-gradient(#a8c7d7 0,#cfdbe2 15px)"></i>
<i style="left:1030.3px;top:232.6px;height:16.4px;background:linear-gradient(#b1cbd9 0,#d5dee4 16px)"></i>
<i style="left:1032.3px;top:231.1px;height:17.8px;background:linear-gradient(#c0d2dd 0,#e0e4e7 18px)"></i>
<i style="left:1034.3px;top:229.7px;height:19.2px;background:linear-gradient(#a5c6d6 0,#cddae2 19px)"></i>
<i style="left:1036.3px;top:228.3px;height:20.6px;background:linear-gradient(#c4d5df 0,#e4e6e8 21px)"></i>
<i style="left:1038.3px;top:226.8px;height:22px;background:linear-gradient(#c8d7e0 0,#e8e8e9 22px)"></i>
<i style="left:1040.3px;top:225.4px;height:23.4px;background:linear-gradient(#c2d4de 0,#e2e5e7 23px)"></i>
<i style="left:1042.3px;top:223.9px;height:24.8px;background:linear-gradient(#bfd2dd 0,#dfe3e7 25px)"></i>
<i style="left:1044.3px;top:222.5px;height:26.2px;background:linear-gradient(#bacfdb 0,#dbe1e6 26px)"></i>
<i style="left:1046.3px;top:221.1px;height:27.5px;background:linear-gradient(#b6cddb 0,#d8e0e5 28px)"></i>
<i style="left:1048.3px;top:220.6px;height:28px;background:linear-gradient(#bfd2dd 0,#dfe3e7 28px)"></i>
<i style="left:1050.3px;top:220.1px;height:28.5px;background:linear-gradient(#7cb0c9 0,#aac8d7 29px)"></i>
<i style="left:1052.3px;top:219.5px;height:29px;background:linear-gradient(#77aec7 0,#a4c5d6 29px)"></i>
<i style="left:1054.3px;top:219px;height:29.5px;background:linear-gradient(#5d9fbe 0,#8ab8ce 30px)"></i>
<i style="left:1056.3px;top:218.4px;height:30px;background:linear-gradient(#297ebe 0,#5ea0be 30px)"></i>
<i style="left:1058.3px;top:217.9px;height:30.5px;background:linear-gradient(#1869be 0,#2f82be 31px)"></i>
<i style="left:1060.3px;top:217.3px;height:31px;background:linear-gradient(#186abe 0,#3082be 31px)"></i>
<i style="left:1062.3px;top:216.8px;height:31.5px;background:linear-gradient(#1954b7 0,#1c6fbe 32px)"></i>
<i style="left:1064.3px;top:216.3px;height:32px;background:linear-gradient(#283c9d 0,#125cbc 32px)"></i>
<i style="left:1066.3px;top:215.7px;height:32.5px;background:linear-gradient(#2942ab 0,#1263be 33px)"></i>
<i style="left:1068.3px;top:215.2px;height:33px;background:linear-gradient(#2a41aa 0,#1262be 33px)"></i>
<i style="left:1070.3px;top:214.6px;height:33.5px;background:linear-gradient(#2745ad 0,#1465be 34px)"></i>
<i style="left:1072.3px;top:214.1px;height:34px;background:linear-gradient(#204cb1 0,#1869be 34px)"></i>
<i style="left:1074.3px;top:213.5px;height:34.5px;background:linear-gradient(#1e4eb3 0,#196bbe 35px)"></i>
<i style="left:1076.3px;top:213px;height:35px;background:linear-gradient(#293ea3 0,#0f5fbe 35px)"></i>
<i style="left:1078.3px;top:212.6px;width:1.5px;height:35.4px;background:linear-gradient(#2547ae 0,#1566be 35px)"></i>
<i style="left:1010.3px;top:249.2px;height:225.6px;background:linear-gradient(#181c43 0,#253283 25px,#438ebe 42px,#b9cedb 55px,#efebea 69px,#ead5cd 71px,#d89f8a 77px,#cf846a 79px,#c6694c 80px,#b63b2c 88px,#98182a 105px,#87102a 126px)"></i>
<i style="left:1012.3px;top:249.1px;height:228.1px;background:linear-gradient(#181c43 0,#243180 27px,#438ebe 45px,#b9cedb 57px,#efebea 70px,#ead5cd 72px,#e2baac 76px,#d89f8a 79px,#cf846a 81px,#c6694c 82px,#b63b2c 90px,#98182a 107px,#87102a 128px)"></i>
<i style="left:1014.3px;top:249.1px;height:232.1px;background:linear-gradient(#181c43 0,#253488 29px,#438ebe 48px,#b9cedb 60px,#efebea 71px,#ead5cd 73px,#e2baac 78px,#d89f8a 81px,#c6694c 83px,#b63b2c 92px,#98182a 109px,#87102a 129px)"></i>
<i style="left:1016.3px;top:249px;height:234.6px;background:linear-gradient(#181c43 0,#253384 31px,#438ebe 52px,#b9cedb 62px,#efebea 73px,#ead5cd 75px,#e2baac 78px,#d89f8a 80px,#c6694c 82px,#b63b2c 91px,#98182a 108px,#87102a 128px)"></i>
<i style="left:1018.3px;top:249px;height:237.2px;background:linear-gradient(#181c43 0,#26358a 31px,#438ebe 51px,#b9cedb 62px,#efebea 72px,#ead5cd 74px,#e2baac 78px,#d89f8a 81px,#c6694c 83px,#b63b2c 92px,#98182a 110px,#87102a 129px)"></i>
<i style="left:1020.3px;top:248.9px;height:239.7px;background:linear-gradient(#181c43 0,#243181 31px,#438ebe 51px,#b9cedb 61px,#efebea 72px,#ead5cd 74px,#e2baac 78px,#d89f8a 81px,#cf846a 83px,#c6694c 84px,#b63b2c 92px,#98182a 108px,#87102a 131px)"></i>
<i style="left:1022.3px;top:248.9px;height:242.3px;background:linear-gradient(#181c43 0,#232c74 32px,#438ebe 53px,#b9cedb 63px,#efebea 74px,#ead5cd 76px,#e2baac 79px,#d89f8a 81px,#cf846a 84px,#c6694c 85px,#b63b2c 92px,#98182a 108px,#87102a 131px)"></i>
<i style="left:1024.3px;top:248.8px;height:242.2px;background:linear-gradient(#181c43 0,#243182 33px,#438ebe 55px,#b9cedb 67px,#efebea 78px,#ead5cd 79px,#e2baac 82px,#d89f8a 84px,#cf846a 84px,#c6694c 85px,#b63b2c 94px,#98182a 111px,#87102a 131px)"></i>
<i style="left:1026.3px;top:248.8px;height:238.9px;background:linear-gradient(#181c43 0,#253488 33px,#438ebe 56px,#b9cedb 67px,#efebea 78px,#d89f8a 84px,#c6694c 86px,#b63b2c 94px,#98182a 111px,#87102a 132px)"></i>
<i style="left:1028.3px;top:248.7px;height:237.7px;background:linear-gradient(#1a1f4d 0,#273995 32px,#438ebe 54px,#b9cedb 66px,#efebea 78px,#ead5cd 80px,#d89f8a 86px,#cf846a 86px,#c6694c 87px,#b63b2c 96px,#98182a 114px,#87102a 133px)"></i>
<i style="left:1030.3px;top:248.7px;height:238.7px;background:linear-gradient(#191d47 0,#26378f 33px,#438ebe 55px,#b9cedb 66px,#efebea 76px,#ead5cd 78px,#e2baac 82px,#d89f8a 85px,#cf846a 85px,#c6694c 86px,#b63b2c 96px,#98182a 113px,#87102a 132px)"></i>
<i style="left:1032.3px;top:248.6px;height:237.5px;background:linear-gradient(#191d47 0,#26378f 33px,#438ebe 56px,#b9cedb 65px,#efebea 75px,#ead5cd 77px,#e2baac 82px,#d89f8a 85px,#cf846a 85px,#c6694c 86px,#b63b2c 96px,#98182a 115px,#87102a 132px)"></i>
<i style="left:1034.3px;top:248.6px;height:237.6px;background:linear-gradient(#181c43 0,#26358b 33px,#438ebe 55px,#b9cedb 65px,#efebea 75px,#e2baac 79px,#d89f8a 82px,#c6694c 84px,#b63b2c 93px,#98182a 109px,#87102a 131px)"></i>
<i style="left:1036.3px;top:248.5px;height:238.7px;background:linear-gradient(#191d45 0,#26368d 31px,#438ebe 52px,#b9cedb 63px,#efebea 73px,#ead5cd 75px,#e2baac 80px,#d89f8a 82px,#cf846a 82px,#c6694c 83px,#b63b2c 93px,#98182a 112px,#87102a 129px)"></i>
<i style="left:1038.3px;top:248.5px;height:238.3px;background:linear-gradient(#1c2153 0,#283b9b 28px,#438ebe 47px,#b9cedb 59px,#efebea 71px,#ead5cd 73px,#e2baac 77px,#d89f8a 79px,#c6694c 81px,#b63b2c 90px,#98182a 107px,#87102a 127px)"></i>
<i style="left:1040.3px;top:248.4px;height:239.4px;background:linear-gradient(#1e245d 0,#293fa5 26px,#438ebe 43px,#b9cedb 57px,#efebea 71px,#ead5cd 73px,#e2baac 77px,#d89f8a 80px,#cf846a 80px,#c6694c 81px,#b63b2c 90px,#98182a 108px,#87102a 127px)"></i>
<i style="left:1042.3px;top:248.4px;height:240.5px;background:linear-gradient(#21296c 0,#2547ae 23px,#438ebe 38px,#b9cedb 54px,#efebea 71px,#ead5cd 73px,#e2baac 76px,#cf846a 80px,#c6694c 81px,#b63b2c 89px,#98182a 106px,#87102a 128px)"></i>
<i style="left:1044.3px;top:248.3px;height:240.6px;background:linear-gradient(#21296b 0,#2546ae 19px,#438ebe 32px,#b9cedb 52px,#efebea 71px,#e2baac 75px,#cf846a 81px,#c6694c 82px,#b63b2c 89px,#98182a 105px,#87102a 128px)"></i>
<i style="left:1046.3px;top:248.3px;height:239.4px;background:linear-gradient(#222b72 0,#2249b0 16px,#438ebe 27px,#b9cedb 49px,#efebea 70px,#d89f8a 79px,#cf846a 81px,#c6694c 82px,#b63b2c 91px,#98182a 107px,#87102a 128px)"></i>
<i style="left:1048.3px;top:248.2px;height:238.9px;background:linear-gradient(#273791 0,#1657b9 16px,#438ebe 27px,#b9cedb 50px,#efebea 73px,#ead5cd 75px,#e2baac 79px,#d89f8a 82px,#cf846a 82px,#c6694c 84px,#b63b2c 93px,#98182a 111px,#87102a 130px)"></i>
<i style="left:1050.3px;top:248.2px;height:239px;background:linear-gradient(#293fa5 0,#0f5fbe 15px,#438ebe 25px,#b9cedb 49px,#efebea 73px,#ead5cd 75px,#d89f8a 81px,#c6694c 85px,#b63b2c 92px,#98182a 109px,#87102a 131px)"></i>
<i style="left:1052.3px;top:248.1px;height:238.8px;background:linear-gradient(#293fa4 0,#0f5fbe 13px,#438ebe 22px,#b9cedb 49px,#efebea 75px,#ead5cd 77px,#e2baac 78px,#cf846a 84px,#c6694c 85px,#b63b2c 92px,#98182a 107px,#87102a 131px)"></i>
<i style="left:1054.3px;top:248.1px;height:242.8px;background:linear-gradient(#293fa6 0,#1060be 13px,#438ebe 22px,#b9cedb 50px,#efebea 78px,#e2baac 82px,#d89f8a 85px,#c6694c 87px,#b63b2c 95px,#98182a 112px,#87102a 134px)"></i>
<i style="left:1056.3px;top:248px;height:245.3px;background:linear-gradient(#2a40a8 0,#1060be 13px,#438ebe 21px,#b9cedb 51px,#efebea 80px,#ead5cd 82px,#e2baac 85px,#d89f8a 87px,#c6694c 89px,#b63b2c 98px,#98182a 115px,#87102a 135px)"></i>
<i style="left:1058.3px;top:248px;height:243.5px;background:linear-gradient(#2547ae 0,#1363be 11px,#438ebe 19px,#b9cedb 50px,#efebea 81px,#ead5cd 82px,#e2baac 84px,#d89f8a 87px,#cf846a 89px,#c6694c 90px,#b63b2c 97px,#98182a 114px,#87102a 136px)"></i>
<i style="left:1060.3px;top:247.9px;height:241.9px;background:linear-gradient(#1558b9 0,#196bbe 10px,#438ebe 17px,#b9cedb 48px,#efebea 78px,#e2baac 84px,#d89f8a 88px,#c6694c 92px,#b63b2c 99px,#98182a 115px,#87102a 138px)"></i>
<i style="left:1062.3px;top:247.9px;height:242.4px;background:linear-gradient(#1061be 0,#1c6fbe 11px,#438ebe 18px,#b9cedb 48px,#efebea 78px,#e2baac 85px,#cf846a 91px,#c6694c 93px,#b63b2c 100px,#98182a 116px,#87102a 139px)"></i>
<i style="left:1064.3px;top:247.8px;height:240.7px;background:linear-gradient(#145aba 0,#196bbe 12px,#438ebe 20px,#b9cedb 48px,#efebea 75px,#e2baac 84px,#d89f8a 88px,#cf846a 91px,#c6694c 93px,#b63b2c 101px,#98182a 118px,#87102a 139px)"></i>
<i style="left:1066.3px;top:247.8px;height:239.1px;background:linear-gradient(#1c6fbe 0,#2478be 10px,#438ebe 17px,#b9cedb 46px,#efebea 74px,#d89f8a 87px,#cf846a 90px,#c6694c 92px,#b63b2c 99px,#98182a 116px,#87102a 138px)"></i>
<i style="left:1068.3px;top:247.7px;height:237.5px;background:linear-gradient(#2174be 0,#277bbe 5px,#438ebe 9px,#b9cedb 42px,#efebea 75px,#cf846a 90px,#c6694c 91px,#b63b2c 99px,#98182a 114px,#87102a 138px)"></i>
<i style="left:1070.3px;top:247.7px;height:237.1px;background:linear-gradient(#2276be 0,#277cbe 2px,#438ebe 3px,#b9cedb 40px,#efebea 76px,#d89f8a 90px,#cf846a 91px,#c6694c 93px,#b63b2c 102px,#98182a 120px,#87102a 139px)"></i>
<i style="left:1072.3px;top:247.6px;height:237.8px;background:linear-gradient(#6ca7c3 0,#b0cbd9 27px,#d8e0e5 53px,#efebea 76px,#cf846a 93px,#c6694c 95px,#b63b2c 102px,#98182a 118px,#87102a 141px)"></i>
<i style="left:1074.3px;top:247.5px;height:239.3px;background:linear-gradient(#77aec7 0,#b7cedb 27px,#d9e1e5 54px,#efebea 77px,#ead5cd 81px,#e2baac 87px,#d89f8a 92px,#cf846a 95px,#c6694c 97px,#b63b2c 105px,#98182a 122px,#87102a 143px)"></i>
<i style="left:1076.3px;top:247.5px;height:240px;background:linear-gradient(#abc8d8 0,#cddae2 28px,#efebea 80px,#ead5cd 84px,#e2baac 91px,#d89f8a 96px,#c6694c 100px,#b63b2c 110px,#98182a 128px,#87102a 146px)"></i>
<i style="left:1078.3px;top:247.4px;height:236px;background:linear-gradient(#a0c3d5 0,#c8d7e0 28px,#efebea 81px,#ead5cd 85px,#e2baac 93px,#d89f8a 99px,#c6694c 103px,#b63b2c 113px,#98182a 131px,#87102a 149px)"></i>
<i style="left:1080.3px;top:247.3px;height:234.7px;background:linear-gradient(#aac8d8 0,#cddae2 29px,#efebea 83px,#ead5cd 87px,#e2baac 95px,#d89f8a 100px,#c6694c 104px,#b63b2c 113px,#98182a 131px,#87102a 150px)"></i>
<i style="left:1082.3px;top:247.2px;height:234.2px;background:linear-gradient(#bacfdc 0,#e3e5e8 57px,#efebea 82px,#ead5cd 86px,#d89f8a 98px,#cf846a 101px,#c6694c 103px,#b63b2c 111px,#98182a 128px,#87102a 150px)"></i>
<i style="left:1084.3px;top:247.2px;height:232.9px;background:linear-gradient(#b7cedb 0,#d1dde3 28px,#efebea 81px,#e2baac 90px,#d89f8a 96px,#cf846a 100px,#c6694c 102px,#b63b2c 109px,#98182a 125px,#87102a 149px)"></i>
<i style="left:1086.3px;top:247.1px;height:233.7px;background:linear-gradient(#b2cbd9 0,#cfdbe2 28px,#efebea 80px,#e2baac 91px,#d89f8a 96px,#c6694c 102px,#b63b2c 110px,#98182a 126px,#87102a 148px)"></i>
<i style="left:1088.3px;top:247px;height:232.5px;background:linear-gradient(#b3ccda 0,#d0dce3 28px,#efebea 79px,#d89f8a 97px,#cf846a 100px,#c6694c 102px,#b63b2c 111px,#98182a 128px,#87102a 148px)"></i>
<i style="left:1090.3px;top:247px;height:229.8px;background:linear-gradient(#adc9d8 0,#cddae2 27px,#efebea 77px,#cf846a 99px,#c6694c 101px,#b63b2c 107px,#98182a 121px,#87102a 147px)"></i>
<i style="left:1092.3px;top:246.9px;height:228.6px;background:linear-gradient(#bacfdb 0,#d2dde3 27px,#efebea 77px,#ead5cd 81px,#d89f8a 96px,#cf846a 99px,#c6694c 101px,#b63b2c 110px,#98182a 127px,#87102a 147px)"></i>
<i style="left:1094.3px;top:246.8px;height:227.4px;background:linear-gradient(#c1d3de 0,#e5e6e8 52px,#efebea 74px,#d89f8a 92px,#cf846a 99px,#c6694c 102px,#b63b2c 108px,#98182a 122px,#87102a 148px)"></i>
<i style="left:1096.3px;top:246.7px;height:226.2px;background:linear-gradient(#bcd0dc 0,#e4e6e8 50px,#efebea 72px,#ead5cd 78px,#d89f8a 95px,#cf846a 100px,#c6694c 103px,#b63b2c 111px,#98182a 128px,#87102a 149px)"></i>
<i style="left:1098.3px;top:246.7px;height:226.4px;background:linear-gradient(#aecad9 0,#cedae2 25px,#efebea 70px,#ead5cd 77px,#e2baac 88px,#d89f8a 97px,#cf846a 101px,#c6694c 104px,#b63b2c 113px,#98182a 131px,#87102a 150px)"></i>
<i style="left:1100.3px;top:246.6px;height:225.2px;background:linear-gradient(#b3ccda 0,#d0dce3 24px,#efebea 69px,#d89f8a 95px,#c6694c 104px,#b63b2c 112px,#98182a 129px,#87102a 150px)"></i>
<i style="left:1102.3px;top:246.5px;height:222.6px;background:linear-gradient(#b4cdda 0,#d0dce3 23px,#efebea 67px,#ead5cd 74px,#e2baac 86px,#d89f8a 96px,#cf846a 100px,#c6694c 103px,#b63b2c 113px,#98182a 131px,#87102a 149px)"></i>
<i style="left:1104.3px;top:246.5px;height:221.3px;background:linear-gradient(#afcad9 0,#cedbe2 20px,#efebea 57px,#ead5cd 66px,#d89f8a 91px,#cf846a 98px,#c6694c 102px,#b63b2c 110px,#98182a 126px,#87102a 149px)"></i>
<i style="left:1106.3px;top:246.4px;height:220px;background:linear-gradient(#b3ccda 0,#d0dce3 16px,#efebea 46px,#d89f8a 87px,#cf846a 95px,#c6694c 100px,#b63b2c 109px,#98182a 126px,#87102a 146px)"></i>
<i style="left:1108.3px;top:246.3px;height:220.1px;background:linear-gradient(#cad8e1 0,#e7e7e8 22px,#efebea 32px,#ead5cd 45px,#e2baac 67px,#d89f8a 84px,#c6694c 99px,#b63b2c 109px,#98182a 127px,#87102a 145px)"></i>
<i style="left:1110.3px;top:246.2px;height:220.9px;background:linear-gradient(#cedae2 0,#efebea 25px,#ead5cd 39px,#e2baac 65px,#d89f8a 84px,#c6694c 99px,#b63b2c 110px,#98182a 130px,#87102a 145px)"></i>
<i style="left:1112.3px;top:246.2px;height:222.7px;background:linear-gradient(#d5dee4 0,#efebea 23px,#ead5cd 38px,#d89f8a 81px,#cf846a 93px,#c6694c 101px,#b63b2c 108px,#98182a 125px,#87102a 147px)"></i>
<i style="left:1114.3px;top:246.1px;height:224.2px;background:linear-gradient(#dde3e6 0,#efebea 21px,#ead5cd 37px,#d89f8a 84px,#c6694c 103px,#b63b2c 112px,#98182a 129px,#87102a 149px)"></i>
<i style="left:1116.3px;top:246px;height:226.4px;background:linear-gradient(#e5e6e8 0,#efebea 21px,#ead5cd 37px,#d89f8a 82px,#cf846a 95px,#c6694c 104px,#b63b2c 111px,#98182a 126px,#87102a 150px)"></i>
<i style="left:1118.3px;top:245.9px;height:227.9px;background:linear-gradient(#e9e8e9 0,#efebea 16px,#ead5cd 34px,#d89f8a 84px,#cf846a 96px,#c6694c 105px,#b63b2c 113px,#98182a 131px,#87102a 151px)"></i>
<i style="left:1120.3px;top:245.9px;height:228px;background:linear-gradient(#e8e7e9 0,#efebea 12px,#d89f8a 82px,#cf846a 96px,#c6694c 105px,#b63b2c 112px,#98182a 128px,#87102a 151px)"></i>
<i style="left:1122.3px;top:245.8px;height:228.8px;background:linear-gradient(#e1e4e7 0,#efebea 12px,#ead5cd 30px,#d89f8a 82px,#cf846a 96px,#c6694c 105px,#b63b2c 112px,#98182a 128px,#87102a 151px)"></i>
<i style="left:1124.3px;top:245.7px;height:228.8px;background:linear-gradient(#e6e7e8 0,#efebea 10px,#ead5cd 29px,#d89f8a 82px,#cf846a 96px,#c6694c 105px,#b63b2c 113px,#98182a 129px,#87102a 151px)"></i>
<i style="left:1126.3px;top:245.7px;height:228.9px;background:linear-gradient(#e8e8e9 0,#efebea 11px,#d89f8a 81px,#cf846a 96px,#c6694c 105px,#b63b2c 112px,#98182a 127px,#87102a 151px)"></i>
<i style="left:1128.3px;top:245.6px;height:228.9px;background:linear-gradient(#f1ebea 0,#efebea 11px,#d89f8a 82px,#cf846a 96px,#c6694c 105px,#b63b2c 113px,#98182a 130px,#87102a 151px)"></i>
<i style="left:1130.3px;top:245.5px;height:229px;background:linear-gradient(#f0e8e6 0,#efebea 9px,#ead5cd 28px,#e2baac 59px,#d89f8a 84px,#cf846a 96px,#c6694c 105px,#b63b2c 115px,#98182a 134px,#87102a 151px)"></i>
<i style="left:1132.3px;top:245.4px;height:229px;background:linear-gradient(#f0eceb 0,#efebea 11px,#d89f8a 80px,#cf846a 96px,#c6694c 105px,#b63b2c 112px,#98182a 126px,#87102a 152px)"></i>
<i style="left:1134.3px;top:245.4px;height:229.1px;background:linear-gradient(#f0ebeb 0,#efebea 13px,#ead5cd 31px,#d89f8a 82px,#cf846a 96px,#c6694c 105px,#b63b2c 113px,#98182a 128px,#87102a 152px)"></i>
<i style="left:1136.3px;top:245.3px;height:229.1px;background:linear-gradient(#f0e8e6 0,#efebea 15px,#ead5cd 33px,#d89f8a 83px,#cf846a 96px,#c6694c 105px,#b63b2c 113px,#98182a 129px,#87102a 152px)"></i>
<i style="left:1138.3px;top:245.2px;height:229.9px;background:linear-gradient(#efe6e3 0,#efebea 15px,#ead5cd 33px,#d89f8a 83px,#cf846a 96px,#c6694c 106px,#b63b2c 113px,#98182a 128px,#87102a 152px)"></i>
<i style="left:1140.3px;top:245.2px;height:230px;background:linear-gradient(#eceaea 0,#efebea 14px,#d89f8a 82px,#cf846a 96px,#c6694c 106px,#b63b2c 112px,#98182a 127px,#87102a 152px)"></i>
<i style="left:1142.3px;top:245.1px;height:229.3px;background:linear-gradient(#f0e7e5 0,#efebea 15px,#ead5cd 33px,#e2baac 62px,#d89f8a 86px,#c6694c 106px,#b63b2c 116px,#98182a 135px,#87102a 152px)"></i>
<i style="left:1144.3px;top:245px;height:229.4px;background:linear-gradient(#eeeaea 0,#efebea 15px,#ead5cd 33px,#e2baac 62px,#d89f8a 86px,#c6694c 106px,#b63b2c 116px,#98182a 134px,#87102a 152px)"></i>
<i style="left:1146.3px;top:244.9px;height:228.7px;background:linear-gradient(#dde3e6 0,#efebea 14px,#d89f8a 83px,#cf846a 97px,#c6694c 106px,#b63b2c 113px,#98182a 129px,#87102a 152px)"></i>
<i style="left:1148.3px;top:244.9px;height:228.8px;background:linear-gradient(#d5dee4 0,#efebea 15px,#ead5cd 33px,#d89f8a 83px,#cf846a 97px,#c6694c 106px,#b63b2c 113px,#98182a 128px,#87102a 152px)"></i>
<i style="left:1150.3px;top:244.8px;height:228.8px;background:linear-gradient(#cad8e1 0,#efebea 17px,#ead5cd 35px,#e2baac 63px,#d89f8a 86px,#c6694c 106px,#b63b2c 116px,#98182a 135px,#87102a 152px)"></i>
<i style="left:1152.3px;top:244.7px;height:228.9px;background:linear-gradient(#c1d3de 0,#e5e6e8 12px,#efebea 18px,#ead5cd 35px,#d89f8a 85px,#cf846a 97px,#c6694c 106px,#b63b2c 114px,#98182a 131px,#87102a 152px)"></i>
<i style="left:1154.3px;top:244.7px;height:229px;background:linear-gradient(#b4ccda 0,#d0dce3 6px,#efebea 18px,#d89f8a 85px,#cf846a 97px,#c6694c 106px,#b63b2c 115px,#98182a 132px,#87102a 152px)"></i>
<i style="left:1156.3px;top:244.6px;height:229px;background:linear-gradient(#b0cbd9 0,#cfdbe2 6px,#efebea 18px,#d89f8a 83px,#cf846a 97px,#c6694c 106px,#b63b2c 113px,#98182a 127px,#87102a 152px)"></i>
<i style="left:1158.3px;top:244.5px;height:229.1px;background:linear-gradient(#b6cddb 0,#d1dce3 6px,#efebea 18px,#ead5cd 36px,#e2baac 64px,#d89f8a 87px,#c6694c 106px,#b63b2c 116px,#98182a 135px,#87102a 152px)"></i>
<i style="left:1160.3px;top:244.4px;height:229.1px;background:linear-gradient(#aecad8 0,#cedae2 6px,#efebea 18px,#ead5cd 36px,#d89f8a 86px,#cf846a 98px,#c6694c 106px,#b63b2c 116px,#98182a 134px,#87102a 153px)"></i>
<i style="left:1162.3px;top:244.4px;height:230.6px;background:linear-gradient(#bed1dd 0,#d4dee4 6px,#efebea 18px,#ead5cd 36px,#d89f8a 86px,#cf846a 98px,#c6694c 106px,#b63b2c 115px,#98182a 133px,#87102a 153px)"></i>
<i style="left:1164.3px;top:244.3px;height:230.6px;background:linear-gradient(#bacfdc 0,#d2dde3 6px,#efebea 18px,#ead5cd 36px,#e2baac 64px,#d89f8a 87px,#cf846a 98px,#c6694c 106px,#b63b2c 116px,#98182a 134px,#87102a 153px)"></i>
<i style="left:1166.3px;top:244.2px;height:231.4px;background:linear-gradient(#b2ccda 0,#cfdbe2 6px,#efebea 18px,#ead5cd 36px,#d89f8a 86px,#cf846a 98px,#c6694c 107px,#b63b2c 115px,#98182a 133px,#87102a 153px)"></i>
<i style="left:1168.3px;top:244.1px;height:231.4px;background:linear-gradient(#afcad9 0,#cedbe2 6px,#efebea 18px,#d89f8a 85px,#cf846a 98px,#c6694c 107px,#b63b2c 115px,#98182a 131px,#87102a 153px)"></i>
<i style="left:1170.3px;top:244.1px;height:231.5px;background:linear-gradient(#88b7ce 0,#bfd2dd 6px,#efebea 18px,#ead5cd 36px,#e2baac 64px,#d89f8a 86px,#cf846a 98px,#c6694c 107px,#b63b2c 116px,#98182a 134px,#87102a 153px)"></i>
<i style="left:1172.3px;top:244px;height:231.6px;background:linear-gradient(#65a3c0 0,#acc9d8 6px,#d6dfe5 13px,#efebea 19px,#ead5cd 36px,#d89f8a 86px,#cf846a 98px,#c6694c 107px,#b63b2c 116px,#98182a 133px,#87102a 153px)"></i>
<i style="left:1174.3px;top:243.9px;height:230.2px;background:linear-gradient(#277cbe 0,#63a2bf 10px,#b2ccda 16px,#efebea 19px,#ead5cd 36px,#d89f8a 86px,#cf846a 98px,#c6694c 107px,#b63b2c 115px,#98182a 132px,#87102a 153px)"></i>
<i style="left:1176.3px;top:243.9px;height:230.3px;background:linear-gradient(#2174be 0,#569abe 10px,#acc9d8 16px,#efebea 19px,#ead5cd 36px,#d89f8a 85px,#cf846a 98px,#c6694c 107px,#b63b2c 115px,#98182a 131px,#87102a 153px)"></i>
<i style="left:1178.3px;top:243.8px;height:230.3px;background:linear-gradient(#1b6ebe 0,#4c94be 10px,#a8c7d7 16px,#efebea 19px,#ead5cd 36px,#e2baac 64px,#d89f8a 87px,#c6694c 107px,#b63b2c 117px,#98182a 135px,#87102a 153px)"></i>
<i style="left:1180.3px;top:243.7px;height:230.4px;background:linear-gradient(#1b6ebe 0,#4c94be 10px,#a8c7d7 16px,#efebea 19px,#ead5cd 36px,#d89f8a 86px,#cf846a 98px,#c6694c 107px,#b63b2c 115px,#98182a 132px,#87102a 153px)"></i>
<i style="left:1182.3px;top:243.6px;height:231.1px;background:linear-gradient(#1b6ebe 0,#4c94be 10px,#a8c7d7 16px,#efebea 19px,#d89f8a 86px,#cf846a 98px,#c6694c 107px,#b63b2c 116px,#98182a 133px,#87102a 153px)"></i>
<i style="left:1184.3px;top:243.6px;height:231.2px;background:linear-gradient(#1b6ebe 0,#4c94be 10px,#a8c7d7 16px,#efebea 19px,#ead5cd 37px,#d89f8a 87px,#c6694c 107px,#b63b2c 116px,#98182a 134px,#87102a 153px)"></i>
<i style="left:1186.3px;top:243.5px;height:231.2px;background:linear-gradient(#1b6ebe 0,#4c94be 10px,#a8c7d7 16px,#efebea 19px,#d89f8a 85px,#cf846a 98px,#c6694c 107px,#b63b2c 115px,#98182a 130px,#87102a 153px)"></i>
<i style="left:1188.3px;top:243.4px;height:231.3px;background:linear-gradient(#1b6ebe 0,#4c94be 11px,#a8c7d7 16px,#efebea 19px,#d89f8a 85px,#cf846a 99px,#c6694c 107px,#b63b2c 115px,#98182a 130px,#87102a 154px)"></i>
<i style="left:1190.3px;top:243.4px;height:232.1px;background:linear-gradient(#1b6ebe 0,#4c94be 11px,#a8c7d7 16px,#efebea 19px,#ead5cd 37px,#e2baac 65px,#d89f8a 88px,#cf846a 99px,#c6694c 107px,#b63b2c 117px,#98182a 136px,#87102a 154px)"></i>
<i style="left:1192.3px;top:243.3px;width:0.8px;height:232.1px;background:linear-gradient(#1b6ebe 0,#4c94be 11px,#a8c7d7 16px,#efebea 19px,#d89f8a 86px,#cf846a 99px,#c6694c 107px,#b63b2c 116px,#98182a 132px,#87102a 154px)"></i>
<i style="left:1119.2px;top:279.5px;height:0.8px;background:linear-gradient(#edeaea 0,#e8ccc2 1px)"></i>
<i style="left:1121.2px;top:278.3px;height:1.9px;background:linear-gradient(#e5e6e8 0,#ead5cd 2px)"></i>
<i style="left:1123.2px;top:277.1px;height:3px;background:linear-gradient(#e7e7e9 0,#ead3cb 3px)"></i>
<i style="left:1125.2px;top:275.9px;height:4.1px;background:linear-gradient(#f0e7e5 0,#e5c4b8 4px)"></i>
<i style="left:1127.2px;top:274.7px;height:5.3px;background:linear-gradient(#ece9ea 0,#e8cec4 5px)"></i>
<i style="left:1129.2px;top:273.5px;height:6.4px;background:linear-gradient(#efe4e1 0,#e4c1b4 6px)"></i>
<i style="left:1131.2px;top:272.3px;height:7.5px;background:linear-gradient(#edeaea 0,#e8ccc2 8px)"></i>
<i style="left:1133.2px;top:271.1px;height:8.7px;background:linear-gradient(#dee3e6 0,#edded9 9px)"></i>
<i style="left:1135.2px;top:269.9px;height:9.8px;background:linear-gradient(#f0eceb 0,#e7c9be 10px)"></i>
<i style="left:1137.2px;top:268.7px;height:10.9px;background:linear-gradient(#eee1dc 0,#e3beb0 11px)"></i>
<i style="left:1139.2px;top:267.5px;height:12px;background:linear-gradient(#f1eceb 0,#e6c8bd 12px)"></i>
<i style="left:1141.2px;top:266.3px;height:13.2px;background:linear-gradient(#eae8e9 0,#e9d0c7 13px)"></i>
<i style="left:1143.2px;top:265.1px;height:14.3px;background:linear-gradient(#eae8e9 0,#e9d0c7 14px)"></i>
<i style="left:1145.2px;top:263.9px;height:15.4px;background:linear-gradient(#eae9e9 0,#e9d0c7 15px)"></i>
<i style="left:1147.2px;top:262.7px;height:16.6px;background:linear-gradient(#d6dfe5 0,#efe7e4 17px)"></i>
<i style="left:1149.2px;top:261.5px;height:17.7px;background:linear-gradient(#bfd2dd 0,#dfe3e7 18px)"></i>
<i style="left:1151.2px;top:260.3px;height:18.8px;background:linear-gradient(#c1d3de 0,#e1e4e7 19px)"></i>
<i style="left:1153.2px;top:259.1px;height:19.9px;background:linear-gradient(#a6c6d7 0,#cddae2 20px)"></i>
<i style="left:1155.2px;top:257.9px;height:21px;background:linear-gradient(#9dc2d4 0,#c7d6e0 21px)"></i>
<i style="left:1157.2px;top:257.1px;height:21.7px;background:linear-gradient(#9ac1d3 0,#c5d5df 22px)"></i>
<i style="left:1159.2px;top:256.3px;height:22.5px;background:linear-gradient(#aac8d7 0,#d0dce3 22px)"></i>
<i style="left:1161.2px;top:255.5px;height:23.2px;background:linear-gradient(#90bcd1 0,#bed1dd 23px)"></i>
<i style="left:1163.2px;top:254.7px;height:23.9px;background:linear-gradient(#9ec2d4 0,#c7d7e0 24px)"></i>
<i style="left:1165.2px;top:253.9px;height:24.7px;background:linear-gradient(#9fc3d5 0,#c8d7e0 25px)"></i>
<i style="left:1167.2px;top:253.1px;height:25.4px;background:linear-gradient(#bacfdc 0,#dbe1e6 25px)"></i>
<i style="left:1169.2px;top:252.3px;height:26.1px;background:linear-gradient(#9ac1d3 0,#c5d5df 26px)"></i>
<i style="left:1171.2px;top:251.5px;height:26.8px;background:linear-gradient(#8ab8ce 0,#b9cedb 27px)"></i>
<i style="left:1173.2px;top:250.7px;height:27.6px;background:linear-gradient(#5fa0be 0,#8cbacf 28px)"></i>
<i style="left:1175.2px;top:249.9px;height:28.3px;background:linear-gradient(#267abe 0,#579bbe 28px)"></i>
<i style="left:1177.2px;top:249.1px;height:29px;background:linear-gradient(#196bbe 0,#3384be 29px)"></i>
<i style="left:1179.2px;top:248.3px;height:29.7px;background:linear-gradient(#26368d 0,#1c51b5 30px)"></i>
<i style="left:1181.2px;top:247.5px;height:30.5px;background:linear-gradient(#273893 0,#1855b7 30px)"></i>
<i style="left:1183.2px;top:246.7px;height:31.2px;background:linear-gradient(#253385 0,#214bb1 31px)"></i>
<i style="left:1185.2px;top:245.9px;height:31.9px;background:linear-gradient(#26358c 0,#1d50b4 32px)"></i>
<i style="left:1187.2px;top:245.1px;height:32.6px;background:linear-gradient(#283b9a 0,#145aba 33px)"></i>
<i style="left:1189.2px;top:244.3px;height:33.4px;background:linear-gradient(#243181 0,#2348af 33px)"></i>
<i style="left:1191.2px;top:243.6px;width:1.9px;height:34px;background:linear-gradient(#253387 0,#204cb2 34px)"></i>
<i style="left:1119.2px;top:280.1px;height:230.5px;background:linear-gradient(#212869 0,#2646ad 33px,#438ebe 54px,#b9cedb 65px,#efebea 76px,#ead5cd 80px,#d89f8a 93px,#c6694c 97px,#b63b2c 105px,#98182a 121px,#87102a 138px)"></i>
<i style="left:1121.2px;top:280px;height:231.6px;background:linear-gradient(#202765 0,#2843ab 30px,#438ebe 50px,#b9cedb 62px,#efebea 74px,#ead5cd 79px,#e2baac 87px,#d89f8a 93px,#cf846a 96px,#c6694c 98px,#b63b2c 107px,#98182a 123px,#87102a 140px)"></i>
<i style="left:1123.2px;top:279.9px;height:232px;background:linear-gradient(#212869 0,#2645ad 30px,#438ebe 50px,#b9cedb 61px,#efebea 72px,#ead5cd 77px,#d89f8a 92px,#cf846a 96px,#c6694c 99px,#b63b2c 107px,#98182a 122px,#87102a 140px)"></i>
<i style="left:1125.2px;top:279.8px;height:229.2px;background:linear-gradient(#222c74 0,#224ab0 29px,#438ebe 48px,#b9cedb 59px,#efebea 69px,#ead5cd 76px,#e2baac 88px,#d89f8a 96px,#cf846a 98px,#c6694c 101px,#b63b2c 111px,#98182a 128px,#87102a 142px)"></i>
<i style="left:1127.2px;top:279.8px;height:227.3px;background:linear-gradient(#222c73 0,#224ab0 28px,#438ebe 47px,#b9cedb 57px,#efebea 67px,#d89f8a 93px,#cf846a 99px,#c6694c 102px,#b63b2c 109px,#98182a 124px,#87102a 143px)"></i>
<i style="left:1129.2px;top:279.7px;height:226.7px;background:linear-gradient(#212868 0,#2645ad 28px,#438ebe 46px,#b9cedb 55px,#efebea 65px,#ead5cd 72px,#e2baac 84px,#d89f8a 93px,#cf846a 99px,#c6694c 102px,#b63b2c 110px,#98182a 125px,#87102a 144px)"></i>
<i style="left:1131.2px;top:279.6px;height:225.5px;background:linear-gradient(#202765 0,#2843ab 26px,#438ebe 43px,#b9cedb 52px,#efebea 62px,#d89f8a 91px,#cf846a 98px,#c6694c 102px,#b63b2c 108px,#98182a 122px,#87102a 143px)"></i>
<i style="left:1133.2px;top:279.6px;height:224.9px;background:linear-gradient(#202766 0,#2844ac 24px,#438ebe 40px,#b9cedb 50px,#efebea 60px,#d89f8a 90px,#cf846a 98px,#c6694c 102px,#b63b2c 108px,#98182a 121px,#87102a 143px)"></i>
<i style="left:1135.2px;top:279.5px;height:225.8px;background:linear-gradient(#21296c 0,#2547ae 23px,#438ebe 39px,#b9cedb 48px,#efebea 58px,#ead5cd 66px,#d89f8a 92px,#cf846a 98px,#c6694c 102px,#b63b2c 110px,#98182a 125px,#87102a 143px)"></i>
<i style="left:1137.2px;top:279.4px;height:225.2px;background:linear-gradient(#212767 0,#2744ac 21px,#438ebe 35px,#b9cedb 45px,#efebea 55px,#ead5cd 64px,#d89f8a 89px,#cf846a 97px,#c6694c 102px,#b63b2c 108px,#98182a 122px,#87102a 143px)"></i>
<i style="left:1139.2px;top:279.3px;height:222.5px;background:linear-gradient(#222a6f 0,#2348af 19px,#438ebe 31px,#b9cedb 43px,#efebea 55px,#ead5cd 64px,#e2baac 79px,#d89f8a 91px,#cf846a 97px,#c6694c 101px,#b63b2c 109px,#98182a 125px,#87102a 143px)"></i>
<i style="left:1141.2px;top:279.3px;height:222px;background:linear-gradient(#253488 0,#1a53b6 22px,#438ebe 36px,#b9cedb 48px,#efebea 60px,#ead5cd 68px,#d89f8a 92px,#c6694c 101px,#b63b2c 109px,#98182a 125px,#87102a 143px)"></i>
<i style="left:1143.2px;top:279.2px;height:223.5px;background:linear-gradient(#283c9e 0,#115dbc 25px,#438ebe 42px,#b9cedb 54px,#efebea 65px,#d89f8a 93px,#cf846a 98px,#c6694c 101px,#b63b2c 109px,#98182a 124px,#87102a 143px)"></i>
<i style="left:1145.2px;top:279.1px;height:223.1px;background:linear-gradient(#2349af 0,#1364be 26px,#438ebe 43px,#b9cedb 53px,#efebea 64px,#ead5cd 71px,#e2baac 83px,#d89f8a 92px,#c6694c 100px,#b63b2c 108px,#98182a 124px,#87102a 141px)"></i>
<i style="left:1147.2px;top:279.1px;height:223.7px;background:linear-gradient(#224ab0 0,#1465be 26px,#438ebe 44px,#b9cedb 53px,#efebea 63px,#ead5cd 70px,#e2baac 82px,#d89f8a 92px,#c6694c 100px,#b63b2c 108px,#98182a 124px,#87102a 141px)"></i>
<i style="left:1149.2px;top:279px;height:224.2px;background:linear-gradient(#2348af 0,#1364be 27px,#438ebe 45px,#b9cedb 54px,#efebea 63px,#ead5cd 70px,#d89f8a 91px,#c6694c 99px,#b63b2c 107px,#98182a 122px,#87102a 140px)"></i>
<i style="left:1151.2px;top:278.9px;height:223.4px;background:linear-gradient(#2448ae 0,#1364be 26px,#438ebe 44px,#b9cedb 53px,#efebea 62px,#d89f8a 88px,#cf846a 94px,#c6694c 97px,#b63b2c 104px,#98182a 118px,#87102a 139px)"></i>
<i style="left:1153.2px;top:278.8px;height:223.9px;background:linear-gradient(#1c50b4 0,#1667be 25px,#438ebe 42px,#b9cedb 52px,#efebea 62px,#d89f8a 88px,#c6694c 97px,#b63b2c 103px,#98182a 118px,#87102a 138px)"></i>
<i style="left:1155.2px;top:278.8px;height:225.2px;background:linear-gradient(#1a52b6 0,#1768be 24px,#438ebe 40px,#b9cedb 51px,#efebea 63px,#d89f8a 89px,#c6694c 97px,#b63b2c 104px,#98182a 119px,#87102a 138px)"></i>
<i style="left:1157.2px;top:278.7px;height:225.7px;background:linear-gradient(#1954b6 0,#1769be 23px,#438ebe 39px,#b9cedb 52px,#efebea 65px,#e2baac 79px,#d89f8a 88px,#c6694c 97px,#b63b2c 103px,#98182a 116px,#87102a 138px)"></i>
<i style="left:1159.2px;top:278.6px;height:224.9px;background:linear-gradient(#1c51b4 0,#1668be 24px,#438ebe 39px,#b9cedb 52px,#efebea 65px,#d89f8a 89px,#cf846a 93px,#c6694c 96px,#b63b2c 104px,#98182a 119px,#87102a 137px)"></i>
<i style="left:1161.2px;top:278.6px;height:224.5px;background:linear-gradient(#224ab0 0,#1465be 26px,#438ebe 43px,#b9cedb 57px,#efebea 70px,#ead5cd 76px,#e2baac 85px,#d89f8a 92px,#c6694c 98px,#b63b2c 107px,#98182a 123px,#87102a 139px)"></i>
<i style="left:1163.2px;top:278.5px;height:225.6px;background:linear-gradient(#1a52b6 0,#1768be 30px,#438ebe 50px,#b9cedb 60px,#efebea 70px,#ead5cd 76px,#d89f8a 93px,#cf846a 97px,#c6694c 100px,#b63b2c 108px,#98182a 123px,#87102a 142px)"></i>
<i style="left:1165.2px;top:278.4px;height:225.3px;background:linear-gradient(#1e4fb3 0,#1567be 35px,#438ebe 58px,#b9cedb 64px,#efebea 71px,#ead5cd 77px,#e2baac 87px,#d89f8a 95px,#cf846a 99px,#c6694c 102px,#b63b2c 110px,#98182a 125px,#87102a 143px)"></i>
<i style="left:1167.2px;top:278.3px;height:225px;background:linear-gradient(#2942ab 0,#1161be 34px,#438ebe 56px,#b9cedb 64px,#efebea 72px,#ead5cd 78px,#e2baac 88px,#d89f8a 96px,#c6694c 104px,#b63b2c 111px,#98182a 127px,#87102a 145px)"></i>
<i style="left:1169.2px;top:278.3px;height:224.8px;background:linear-gradient(#2843ab 0,#1162be 32px,#438ebe 54px,#b9cedb 63px,#efebea 72px,#d89f8a 96px,#cf846a 102px,#c6694c 105px,#b63b2c 112px,#98182a 126px,#87102a 147px)"></i>
<i style="left:1171.2px;top:278.2px;height:221.9px;background:linear-gradient(#2546ae 0,#1263be 31px,#438ebe 51px,#b9cedb 61px,#efebea 70px,#d89f8a 98px,#c6694c 107px,#b63b2c 114px,#98182a 128px,#87102a 148px)"></i>
<i style="left:1173.2px;top:278.1px;height:221.8px;background:linear-gradient(#204cb1 0,#1466be 32px,#438ebe 53px,#b9cedb 61px,#efebea 69px,#ead5cd 77px,#e2baac 89px,#d89f8a 99px,#cf846a 105px,#c6694c 109px,#b63b2c 116px,#98182a 131px,#87102a 150px)"></i>
<i style="left:1175.2px;top:278.1px;height:221.8px;background:linear-gradient(#1e4eb3 0,#1566be 32px,#438ebe 54px,#b9cedb 62px,#efebea 71px,#ead5cd 78px,#e2baac 90px,#d89f8a 100px,#c6694c 109px,#b63b2c 116px,#98182a 132px,#87102a 150px)"></i>
<i style="left:1177.2px;top:278px;height:221.7px;background:linear-gradient(#1f4db2 0,#1566be 32px,#438ebe 54px,#b9cedb 64px,#efebea 74px,#ead5cd 80px,#d89f8a 98px,#cf846a 103px,#c6694c 106px,#b63b2c 113px,#98182a 127px,#87102a 147px)"></i>
<i style="left:1179.2px;top:277.9px;height:224.4px;background:linear-gradient(#1f4db2 0,#1566be 31px,#438ebe 51px,#b9cedb 63px,#efebea 75px,#cf846a 101px,#c6694c 104px,#b63b2c 109px,#98182a 121px,#87102a 145px)"></i>
<i style="left:1181.2px;top:277.8px;height:224.6px;background:linear-gradient(#2447ae 0,#1364be 28px,#438ebe 46px,#b9cedb 60px,#efebea 74px,#ead5cd 80px,#e2baac 90px,#d89f8a 97px,#c6694c 103px,#b63b2c 112px,#98182a 128px,#87102a 144px)"></i>
<i style="left:1183.2px;top:277.8px;height:225.4px;background:linear-gradient(#1c50b4 0,#1667be 25px,#438ebe 42px,#b9cedb 57px,#efebea 71px,#d89f8a 92px,#cf846a 98px,#c6694c 101px,#b63b2c 107px,#98182a 120px,#87102a 142px)"></i>
<i style="left:1185.2px;top:277.7px;height:226.2px;background:linear-gradient(#1757b8 0,#186abe 23px,#438ebe 39px,#b9cedb 54px,#efebea 70px,#ead5cd 76px,#d89f8a 93px,#c6694c 99px,#b63b2c 107px,#98182a 123px,#87102a 140px)"></i>
<i style="left:1187.2px;top:277.6px;height:227px;background:linear-gradient(#214bb0 0,#1465be 21px,#438ebe 36px,#b9cedb 53px,#efebea 70px,#d89f8a 92px,#c6694c 98px,#b63b2c 106px,#98182a 121px,#87102a 139px)"></i>
<i style="left:1189.2px;top:277.6px;height:227.8px;background:linear-gradient(#1756b8 0,#186abe 24px,#438ebe 39px,#b9cedb 56px,#efebea 72px,#cf846a 96px,#c6694c 98px,#b63b2c 104px,#98182a 117px,#87102a 140px)"></i>
<i style="left:1191.2px;top:277.5px;height:225.8px;background:linear-gradient(#1a53b6 0,#1768be 26px,#438ebe 44px,#b9cedb 59px,#efebea 74px,#d89f8a 92px,#cf846a 96px,#c6694c 98px,#b63b2c 106px,#98182a 120px,#87102a 139px)"></i>
<i style="left:1193.2px;top:277.4px;height:226.6px;background:linear-gradient(#145aba 0,#196bbe 23px,#438ebe 39px,#b9cedb 57px,#efebea 75px,#d89f8a 93px,#cf846a 96px,#c6694c 98px,#b63b2c 105px,#98182a 121px,#87102a 139px)"></i>
<i style="left:1195.2px;top:277.3px;height:228.8px;background:linear-gradient(#1465be 0,#1e71be 16px,#438ebe 27px,#b9cedb 52px,#efebea 76px,#ead5cd 80px,#e2baac 87px,#d89f8a 92px,#cf846a 95px,#c6694c 97px,#b63b2c 105px,#98182a 120px,#87102a 138px)"></i>
<i style="left:1197.2px;top:277.3px;height:227.5px;background:linear-gradient(#196bbe 0,#2276be 8px,#438ebe 13px,#b9cedb 45px,#efebea 77px,#d89f8a 91px,#cf846a 95px,#c6694c 97px,#b63b2c 103px,#98182a 118px,#87102a 138px)"></i>
<i style="left:1199.2px;top:277.2px;height:225.6px;background:linear-gradient(#2276be 0,#277cbe 4px,#438ebe 6px,#b9cedb 42px,#efebea 78px,#d89f8a 91px,#cf846a 94px,#c6694c 96px,#b63b2c 103px,#98182a 117px,#87102a 137px)"></i>
<i style="left:1201.2px;top:277.1px;height:224.3px;background:linear-gradient(#2276be 0,#277cbe 2px,#438ebe 3px,#b9cedb 41px,#efebea 79px,#d89f8a 90px,#cf846a 93px,#c6694c 95px,#b63b2c 102px,#98182a 116px,#87102a 136px)"></i>
<i style="left:1203.2px;top:277.1px;height:223.1px;background:linear-gradient(#6ea8c3 0,#b1cbd9 27px,#d8e0e5 53px,#efebea 76px,#d89f8a 90px,#cf846a 93px,#c6694c 95px,#b63b2c 102px,#98182a 117px,#87102a 136px)"></i>
<i style="left:1205.2px;top:277px;height:223.4px;background:linear-gradient(#80b3cb 0,#bcd0dc 26px,#efebea 75px,#cf846a 95px,#c6694c 97px,#b63b2c 103px,#98182a 117px,#87102a 138px)"></i>
<i style="left:1207.2px;top:277px;height:225.3px;background:linear-gradient(#85b6cc 0,#bed1dd 27px,#efebea 77px,#ead5cd 81px,#e2baac 89px,#d89f8a 94px,#c6694c 98px,#b63b2c 107px,#98182a 124px,#87102a 139px)"></i>
<i style="left:1209.2px;top:277px;height:225.8px;background:linear-gradient(#74acc6 0,#b5cdda 28px,#d9e0e5 55px,#efebea 79px,#ead5cd 83px,#e2baac 89px,#d89f8a 94px,#c6694c 98px,#b63b2c 106px,#98182a 121px,#87102a 139px)"></i>
<i style="left:1211.2px;top:276.9px;height:224.8px;background:linear-gradient(#83b5cc 0,#bdd1dc 28px,#efebea 81px,#d89f8a 93px,#cf846a 96px,#c6694c 97px,#b63b2c 104px,#98182a 118px,#87102a 139px)"></i>
<i style="left:1213.2px;top:276.9px;height:223.7px;background:linear-gradient(#7bb0c8 0,#b9cfdb 29px,#dae1e5 58px,#efebea 83px,#d89f8a 95px,#cf846a 98px,#c6694c 99px,#b63b2c 106px,#98182a 121px,#87102a 141px)"></i>
<i style="left:1215.2px;top:276.9px;height:221.3px;background:linear-gradient(#73abc6 0,#b5cdda 27px,#d9e0e5 55px,#efebea 78px,#d89f8a 93px,#cf846a 97px,#c6694c 99px,#b63b2c 106px,#98182a 119px,#87102a 141px)"></i>
<i style="left:1217.2px;top:276.8px;height:220.2px;background:linear-gradient(#87b7cd 0,#bfd2dd 26px,#efebea 73px,#d89f8a 91px,#cf846a 96px,#c6694c 99px,#b63b2c 105px,#98182a 118px,#87102a 140px)"></i>
<i style="left:1219.2px;top:276.8px;height:221.3px;background:linear-gradient(#95bed2 0,#c4d5df 23px,#efebea 66px,#d89f8a 91px,#cf846a 96px,#c6694c 99px,#b63b2c 107px,#98182a 121px,#87102a 141px)"></i>
<i style="left:1221.2px;top:276.7px;height:220.2px;background:linear-gradient(#bacfdb 0,#d2dde3 19px,#efebea 55px,#ead5cd 64px,#e2baac 79px,#d89f8a 90px,#c6694c 99px,#b63b2c 108px,#98182a 125px,#87102a 140px)"></i>
<i style="left:1223.2px;top:276.7px;height:219.2px;background:linear-gradient(#b6cdda 0,#d1dce3 16px,#efebea 45px,#ead5cd 56px,#e2baac 73px,#d89f8a 87px,#c6694c 99px,#b63b2c 107px,#98182a 123px,#87102a 140px)"></i>
<i style="left:1225.2px;top:276.7px;height:218.6px;background:linear-gradient(#bed1dd 0,#efebea 39px,#ead5cd 51px,#d89f8a 86px,#cf846a 93px,#c6694c 98px,#b63b2c 107px,#98182a 124px,#87102a 140px)"></i>
<i style="left:1227.2px;top:276.6px;height:218.2px;background:linear-gradient(#ccdae1 0,#efebea 33px,#ead5cd 46px,#d89f8a 82px,#cf846a 92px,#c6694c 98px,#b63b2c 105px,#98182a 119px,#87102a 140px)"></i>
<i style="left:1229.2px;top:276.6px;height:217.8px;background:linear-gradient(#c7d6e0 0,#efebea 28px,#ead5cd 42px,#d89f8a 81px,#c6694c 97px,#b63b2c 105px,#98182a 121px,#87102a 139px)"></i>
<i style="left:1231.2px;top:276.6px;height:216.7px;background:linear-gradient(#cbd9e1 0,#efebea 24px,#ead5cd 39px,#e2baac 63px,#d89f8a 82px,#cf846a 92px,#c6694c 99px,#b63b2c 108px,#98182a 124px,#87102a 140px)"></i>
<i style="left:1233.2px;top:276.5px;height:216.8px;background:linear-gradient(#c5d5df 0,#e6e6e8 17px,#efebea 25px,#d89f8a 81px,#cf846a 93px,#c6694c 100px,#b63b2c 107px,#98182a 121px,#87102a 142px)"></i>
<i style="left:1235.2px;top:276.5px;height:215.6px;background:linear-gradient(#c9d8e0 0,#efebea 25px,#ead5cd 40px,#e2baac 64px,#d89f8a 83px,#c6694c 101px,#b63b2c 109px,#98182a 125px,#87102a 142px)"></i>
<i style="left:1237.2px;top:276.4px;height:215.7px;background:linear-gradient(#dae1e5 0,#efebea 24px,#d89f8a 80px,#cf846a 93px,#c6694c 101px,#b63b2c 106px,#98182a 118px,#87102a 142px)"></i>
<i style="left:1239.2px;top:276.4px;height:216.6px;background:linear-gradient(#d5dfe4 0,#efebea 29px,#ead5cd 43px,#e2baac 66px,#d89f8a 84px,#c6694c 99px,#b63b2c 108px,#98182a 126px,#87102a 140px)"></i>
<i style="left:1241.2px;top:276.4px;height:216.8px;background:linear-gradient(#d7dfe5 0,#efebea 35px,#d89f8a 80px,#cf846a 90px,#c6694c 96px,#b63b2c 102px,#98182a 115px,#87102a 137px)"></i>
<i style="left:1243.2px;top:276.3px;height:217.7px;background:linear-gradient(#d3dee4 0,#efebea 40px,#ead5cd 51px,#e2baac 68px,#d89f8a 82px,#cf846a 89px,#c6694c 94px,#b63b2c 102px,#98182a 117px,#87102a 135px)"></i>
<i style="left:1245.2px;top:276.3px;height:217.8px;background:linear-gradient(#cad8e1 0,#efebea 33px,#d89f8a 77px,#cf846a 86px,#c6694c 92px,#b63b2c 99px,#98182a 113px,#87102a 134px)"></i>
<i style="left:1247.2px;top:276.2px;height:217.4px;background:linear-gradient(#cfdbe2 0,#efebea 25px,#d89f8a 72px,#cf846a 83px,#c6694c 90px,#b63b2c 96px,#98182a 109px,#87102a 131px)"></i>
<i style="left:1249.2px;top:276.2px;height:217.9px;background:linear-gradient(#d5dee4 0,#efebea 21px,#ead5cd 34px,#d89f8a 72px,#c6694c 88px,#b63b2c 96px,#98182a 110px,#87102a 129px)"></i>
<i style="left:1251.2px;top:276.2px;height:217.6px;background:linear-gradient(#d1dce3 0,#efebea 20px,#ead5cd 33px,#d89f8a 70px,#cf846a 80px,#c6694c 87px,#b63b2c 93px,#98182a 107px,#88102a 128px)"></i>
<i style="left:1253.2px;top:276.1px;height:218.1px;background:linear-gradient(#d2dde3 0,#efebea 18px,#ead5cd 31px,#d89f8a 70px,#c6694c 85px,#b63b2c 93px,#98182a 109px,#88102a 126px)"></i>
<i style="left:1255.2px;top:276.1px;height:218.6px;background:linear-gradient(#d4dee4 0,#efebea 14px,#d89f8a 65px,#cf846a 76px,#c6694c 83px,#b63b2c 90px,#98182a 103px,#88112a 125px)"></i>
<i style="left:1257.2px;top:276.1px;height:219px;background:linear-gradient(#dbe1e6 0,#efebea 19px,#ead5cd 32px,#d89f8a 69px,#cf846a 77px,#c6694c 83px,#b63b2c 92px,#98182a 108px,#88112a 125px)"></i>
<i style="left:1259.2px;top:276px;height:219.5px;background:linear-gradient(#d8e0e5 0,#efebea 23px,#ead5cd 35px,#e2baac 55px,#d89f8a 71px,#c6694c 84px,#b63b2c 93px,#98182a 110px,#89112a 126px)"></i>
<i style="left:1261.2px;top:276px;height:220px;background:linear-gradient(#dee3e6 0,#efebea 20px,#d89f8a 68px,#cf846a 79px,#c6694c 85px,#b63b2c 91px,#98182a 104px,#89112a 126px)"></i>
<i style="left:1263.2px;top:275.9px;height:222.3px;background:linear-gradient(#d7dfe5 0,#efebea 18px,#ead5cd 32px,#e2baac 54px,#d89f8a 72px,#c6694c 87px,#b63b2c 96px,#98182a 112px,#89112a 128px)"></i>
<i style="left:1265.2px;top:275.9px;height:222.3px;background:linear-gradient(#d6dfe4 0,#efebea 22px,#ead5cd 35px,#d89f8a 72px,#c6694c 87px,#b63b2c 95px,#98182a 111px,#89112a 128px)"></i>
<i style="left:1267.2px;top:275.9px;height:220.2px;background:linear-gradient(#d8e0e5 0,#efebea 23px,#ead5cd 36px,#d89f8a 73px,#c6694c 86px,#b63b2c 95px,#98182a 112px,#8a112a 127px)"></i>
<i style="left:1269.2px;top:275.8px;height:220.3px;background:linear-gradient(#d1dce3 0,#efebea 23px,#ead5cd 36px,#e2baac 57px,#d89f8a 74px,#c6694c 89px,#b63b2c 97px,#98182a 114px,#8a112a 130px)"></i>
<i style="left:1271.2px;top:275.8px;height:221.7px;background:linear-gradient(#d3dee4 0,#efebea 17px,#d89f8a 74px,#cf846a 88px,#c6694c 95px,#b63b2c 101px,#98182a 113px,#8a112a 137px)"></i>
<i style="left:1273.2px;top:275.8px;height:221.7px;background:linear-gradient(#d3dde4 0,#efebea 23px,#ead5cd 38px,#e2baac 64px,#d89f8a 84px,#c6694c 99px,#b63b2c 109px,#98182a 127px,#8b122a 140px)"></i>
<i style="left:1275.2px;top:275.7px;height:221.8px;background:linear-gradient(#d1dce3 0,#efebea 28px,#ead5cd 41px,#d89f8a 80px,#cf846a 89px,#c6694c 95px,#b63b2c 103px,#98182a 119px,#8b122a 137px)"></i>
<i style="left:1277.2px;top:275.7px;height:221.8px;background:linear-gradient(#cbd9e1 0,#efebea 26px,#ead5cd 39px,#d89f8a 75px,#cf846a 87px,#c6694c 93px,#b63b2c 99px,#98182a 113px,#8b122a 135px)"></i>
<i style="left:1279.2px;top:275.6px;height:221.2px;background:linear-gradient(#cddae2 0,#efebea 27px,#ead5cd 40px,#d89f8a 77px,#c6694c 93px,#b63b2c 101px,#98182a 116px,#8b122a 134px)"></i>
<i style="left:1281.2px;top:275.6px;height:222px;background:linear-gradient(#c8d7e0 0,#efebea 40px,#ead5cd 51px,#e2baac 68px,#d89f8a 82px,#cf846a 87px,#c6694c 93px,#b63b2c 102px,#98182a 118px,#8c122a 134px)"></i>
<i style="left:1283.2px;top:275.7px;height:222.2px;background:linear-gradient(#d4dee4 0,#efebea 55px,#ead5cd 62px,#e2baac 74px,#d89f8a 83px,#cf846a 87px,#c6694c 90px,#b63b2c 99px,#98182a 114px,#8c122a 132px)"></i>
<i style="left:1285.2px;top:275.9px;height:223.1px;background:linear-gradient(#c7d6e0 0,#efebea 57px,#d89f8a 83px,#cf846a 89px,#c6694c 93px,#b63b2c 99px,#98182a 113px,#8c122a 134px)"></i>
<i style="left:1287.2px;top:276px;height:226px;background:linear-gradient(#bfd2dd 0,#d5dee4 22px,#efebea 62px,#ead5cd 69px,#e2baac 81px,#d89f8a 90px,#cf846a 92px,#c6694c 95px,#b63b2c 105px,#98182a 123px,#8c122a 136px)"></i>
<i style="left:1289.2px;top:276.1px;height:226.9px;background:linear-gradient(#b2cbd9 0,#cfdbe2 23px,#efebea 66px,#ead5cd 72px,#e2baac 82px,#d89f8a 90px,#c6694c 98px,#b63b2c 106px,#98182a 121px,#8d122a 139px)"></i>
<i style="left:1291.2px;top:276.3px;height:227.7px;background:linear-gradient(#a8c7d7 0,#cbd9e1 21px,#efebea 61px,#d89f8a 89px,#cf846a 97px,#c6694c 101px,#b63b2c 106px,#98182a 119px,#8d122a 142px)"></i>
<i style="left:1293.2px;top:276.4px;height:229.3px;background:linear-gradient(#abc8d8 0,#cddae2 20px,#efebea 56px,#d89f8a 91px,#cf846a 98px,#c6694c 103px,#b63b2c 110px,#98182a 125px,#8d132a 144px)"></i>
<i style="left:1295.2px;top:276.5px;height:229.6px;background:linear-gradient(#9ac0d3 0,#c6d6df 18px,#efebea 53px,#ead5cd 63px,#e2baac 81px,#d89f8a 94px,#cf846a 98px,#c6694c 103px,#b63b2c 114px,#98182a 132px,#8e132a 144px)"></i>
<i style="left:1297.2px;top:276.7px;height:231.2px;background:linear-gradient(#9bc1d4 0,#c7d6e0 17px,#efebea 49px,#ead5cd 59px,#e2baac 74px,#d89f8a 86px,#cf846a 93px,#c6694c 98px,#b63b2c 105px,#98182a 120px,#8e132a 139px)"></i>
<i style="left:1299.2px;top:276.8px;height:232.9px;background:linear-gradient(#8fbbd0 0,#c2d4de 17px,#efebea 49px,#d89f8a 85px,#cf846a 92px,#c6694c 97px,#b63b2c 104px,#98182a 118px,#8e132a 138px)"></i>
<i style="left:1301.2px;top:277px;height:234.6px;background:linear-gradient(#85b5cc 0,#bed1dd 19px,#efebea 55px,#ead5cd 64px,#e2baac 78px,#d89f8a 89px,#c6694c 98px,#b63b2c 107px,#98182a 122px,#8e132a 140px)"></i>
<i style="left:1303.2px;top:277.1px;height:236.8px;background:linear-gradient(#97bfd3 0,#c5d5df 22px,#efebea 62px,#d89f8a 89px,#cf846a 96px,#c6694c 100px,#b63b2c 106px,#98182a 120px,#8f132a 141px)"></i>
<i style="left:1305.2px;top:277.2px;height:240px;background:linear-gradient(#a6c6d6 0,#cbd9e1 24px,#efebea 69px,#ead5cd 75px,#d89f8a 92px,#c6694c 101px,#b63b2c 107px,#98182a 121px,#8f132a 142px)"></i>
<i style="left:1307.2px;top:277.4px;height:243.1px;background:linear-gradient(#a3c5d6 0,#cad8e1 27px,#efebea 77px,#ead5cd 82px,#e2baac 90px,#d89f8a 96px,#c6694c 100px,#b63b2c 109px,#98182a 126px,#8f132a 141px)"></i>
<i style="left:1309.2px;top:277.6px;height:246.3px;background:linear-gradient(#96bfd3 0,#c5d5df 28px,#efebea 80px,#d89f8a 93px,#cf846a 98px,#c6694c 100px,#b63b2c 106px,#98182a 118px,#8f132a 142px)"></i>
<i style="left:1311.2px;top:278.1px;height:251.7px;background:linear-gradient(#96bfd2 0,#c5d5df 29px,#efebea 82px,#ead5cd 86px,#e2baac 92px,#d89f8a 97px,#c6694c 101px,#b63b2c 109px,#98182a 124px,#90142a 143px)"></i>
<i style="left:1313.2px;top:278.6px;height:254.2px;background:linear-gradient(#9fc3d5 0,#c8d7e0 29px,#efebea 83px,#d89f8a 97px,#cf846a 101px,#c6694c 103px,#b63b2c 109px,#98182a 123px,#90142a 144px)"></i>
<i style="left:1315.2px;top:279.2px;height:254.5px;background:linear-gradient(#a5c6d6 0,#cad8e1 29px,#efebea 84px,#ead5cd 88px,#e2baac 94px,#d89f8a 99px,#c6694c 103px,#b63b2c 111px,#98182a 126px,#90142a 145px)"></i>
<i style="left:1317.2px;top:279.7px;height:254.5px;background:linear-gradient(#a9c8d7 0,#ccd9e1 28px,#efebea 81px,#d89f8a 98px,#cf846a 101px,#c6694c 103px,#b63b2c 111px,#98182a 126px,#91142a 144px)"></i>
<i style="left:1319.2px;top:280.2px;height:255.2px;background:linear-gradient(#afcad9 0,#cedbe2 28px,#efebea 80px,#ead5cd 84px,#e2baac 91px,#d89f8a 96px,#c6694c 100px,#b63b2c 108px,#98182a 123px,#91142a 141px)"></i>
<i style="left:1321.2px;top:280.8px;height:255.2px;background:linear-gradient(#2276be 0,#277cbe 2px,#438ebe 4px,#b9cedb 41px,#efebea 78px,#ead5cd 82px,#e2baac 88px,#d89f8a 93px,#c6694c 97px,#b63b2c 105px,#98182a 120px,#91142a 138px)"></i>
<i style="left:1323.2px;top:281.3px;height:255.1px;background:linear-gradient(#2276be 0,#277cbe 2px,#438ebe 4px,#b9cedb 39px,#efebea 73px,#ead5cd 78px,#e2baac 82px,#cf846a 93px,#c6694c 95px,#b63b2c 101px,#98182a 114px,#91142a 137px)"></i>
<i style="left:1325.2px;top:281.5px;height:254.7px;background:linear-gradient(#2073be 0,#267bbe 3px,#438ebe 6px,#b9cedb 37px,#efebea 69px,#ead5cd 74px,#e2baac 78px,#cf846a 91px,#c6694c 93px,#b63b2c 98px,#98182a 110px,#92142a 134px)"></i>
<i style="left:1327.2px;top:281.6px;height:253.1px;background:linear-gradient(#1769be 0,#2174be 5px,#438ebe 8px,#b9cedb 38px,#efebea 67px,#ead5cd 73px,#d89f8a 90px,#c6694c 96px,#b63b2c 104px,#98182a 120px,#92142a 138px)"></i>
<i style="left:1329.2px;top:281.7px;height:252.9px;background:linear-gradient(#115dbd 0,#1a6dbe 7px,#438ebe 12px,#b9cedb 45px,#efebea 78px,#d89f8a 95px,#cf846a 99px,#c6694c 101px,#b63b2c 108px,#98182a 123px,#92142a 142px)"></i>
<i style="left:1331.2px;top:281.8px;height:255.5px;background:linear-gradient(#2744ac 0,#1262be 11px,#438ebe 18px,#b9cedb 50px,#efebea 81px,#ead5cd 86px,#e2baac 94px,#d89f8a 100px,#c6694c 104px,#b63b2c 113px,#98182a 129px,#92142a 145px)"></i>
<i style="left:1333.2px;top:281.9px;height:255.3px;background:linear-gradient(#2844ac 0,#1162be 17px,#438ebe 28px,#b9cedb 53px,#efebea 78px,#ead5cd 82px,#e2baac 89px,#cf846a 98px,#c6694c 100px,#b63b2c 107px,#98182a 122px,#92142a 142px)"></i>
<i style="left:1335.2px;top:282px;height:253.7px;background:linear-gradient(#2a40a7 0,#1060be 22px,#438ebe 37px,#b9cedb 56px,#efebea 74px,#ead5cd 78px,#e2baac 86px,#d89f8a 92px,#c6694c 96px,#b63b2c 105px,#98182a 121px,#92142a 138px)"></i>
<i style="left:1337.2px;top:282px;height:253.2px;background:linear-gradient(#293ea3 0,#0f5fbe 25px,#438ebe 42px,#b9cedb 56px,#efebea 70px,#ead5cd 74px,#d89f8a 87px,#c6694c 91px,#b63b2c 99px,#98182a 115px,#92142a 132px)"></i>
<i style="left:1339.2px;top:282.1px;height:252.7px;background:linear-gradient(#2a40a8 0,#1060be 28px,#438ebe 46px,#b9cedb 56px,#efebea 66px,#ead5cd 72px,#d89f8a 89px,#c6694c 95px,#b63b2c 103px,#98182a 119px,#92142a 136px)"></i>
<i style="left:1341.2px;top:282.2px;height:252.3px;background:linear-gradient(#2a41a9 0,#1061be 32px,#438ebe 53px,#b9cedb 60px,#efebea 67px,#d89f8a 93px,#c6694c 102px,#b63b2c 109px,#98182a 124px,#92142a 143px)"></i>
<i style="left:1343.2px;top:282.3px;height:253.2px;background:linear-gradient(#224ab0 0,#1465be 37px,#438ebe 61px,#b9cedb 68px,#efebea 76px,#ead5cd 82px,#d89f8a 99px,#cf846a 105px,#c6694c 108px,#b63b2c 114px,#98182a 128px,#92142a 149px)"></i>
<i style="left:1345.2px;top:282.4px;height:252.7px;background:linear-gradient(#1f4db2 0,#1566be 40px,#438ebe 66px,#b9cedb 74px,#efebea 81px,#ead5cd 87px,#e2baac 98px,#d89f8a 105px,#cf846a 107px,#c6694c 110px,#b63b2c 120px,#98182a 136px,#92142a 151px)"></i>
<i style="left:1347.2px;top:282.5px;height:249.4px;background:linear-gradient(#1954b7 0,#1769be 40px,#438ebe 67px,#b9cedb 74px,#efebea 82px,#d89f8a 103px,#cf846a 108px,#c6694c 111px,#b63b2c 117px,#98182a 131px,#92142a 152px)"></i>
<i style="left:1349.2px;top:282.5px;height:249.3px;background:linear-gradient(#1d50b4 0,#1667be 34px,#438ebe 56px,#b9cedb 65px,#efebea 74px,#ead5cd 80px,#e2baac 90px,#d89f8a 98px,#cf846a 103px,#c6694c 106px,#b63b2c 113px,#98182a 128px,#92142a 148px)"></i>
<i style="left:1351.2px;top:282.6px;height:250.9px;background:linear-gradient(#1657b9 0,#186abe 31px,#438ebe 51px,#b9cedb 62px,#efebea 72px,#d89f8a 94px,#cf846a 99px,#c6694c 102px,#b63b2c 108px,#98182a 123px,#92142a 143px)"></i>
<i style="left:1353.2px;top:282.7px;height:251.1px;background:linear-gradient(#1e4eb3 0,#1566be 32px,#438ebe 53px,#b9cedb 62px,#efebea 71px,#ead5cd 76px,#e2baac 85px,#d89f8a 92px,#c6694c 98px,#b63b2c 106px,#98182a 121px,#92142a 140px)"></i>
<i style="left:1355.2px;top:282.8px;height:249.9px;background:linear-gradient(#2745ac 0,#1262be 32px,#438ebe 53px,#b9cedb 60px,#efebea 67px,#ead5cd 73px,#e2baac 83px,#d89f8a 91px,#cf846a 95px,#c6694c 98px,#b63b2c 105px,#98182a 121px,#92142a 139px)"></i>
<i style="left:1357.2px;top:282.9px;height:250px;background:linear-gradient(#2547ae 0,#1363be 32px,#438ebe 54px,#b9cedb 60px,#efebea 66px,#e2baac 80px,#d89f8a 89px,#cf846a 94px,#c6694c 97px,#b63b2c 104px,#98182a 118px,#92142a 139px)"></i>
<i style="left:1359.2px;top:282.9px;height:253px;background:linear-gradient(#2942aa 0,#1161be 32px,#438ebe 54px,#b9cedb 60px,#efebea 67px,#ead5cd 72px,#e2baac 82px,#d89f8a 90px,#c6694c 96px,#b63b2c 104px,#98182a 120px,#92142a 137px)"></i>
<i style="left:1361.2px;top:283px;width:0.7px;height:253.1px;background:linear-gradient(#2942ab 0,#1161be 32px,#438ebe 54px,#b9cedb 61px,#efebea 67px,#d89f8a 88px,#cf846a 92px,#c6694c 95px,#b63b2c 102px,#98182a 116px,#92142a 136px)"></i>
<i style="left:116.3px;top:349px;width:1.3px;height:27px;background:#800f2b"></i>
<i style="left:123px;top:725.6px;height:299.3px;background:linear-gradient(#2646ad 0,#1465be 59px,#7db1c9 87px,#efebea 102px,#d89e89 125px,#c6694c 132px,#b0312a 140px,#830f2a 151px,#6b0e25 166px,#620d21 212px,#680d24 274px,#750f29 299px)"></i>
<i style="left:125px;top:725.6px;height:290.2px;background:linear-gradient(#224ab0 0,#1668be 57px,#80b3ca 83px,#efebea 98px,#ead5cd 104px,#d89e89 123px,#ce8167 128px,#c6694c 130px,#b0312a 138px,#830f2a 149px,#6b0e25 164px,#620d21 210px,#680d24 265px,#750f29 290px)"></i>
<i style="left:127px;top:722.2px;height:284.4px;background:linear-gradient(#2249b0 0,#1668be 55px,#80b2ca 81px,#efebea 95px,#d89e89 127px,#ce8167 132px,#c6694c 135px,#b0312a 143px,#830f2a 154px,#6b0e25 169px,#620d21 215px,#680d24 259px,#750f29 284px)"></i>
<i style="left:129px;top:722.2px;height:279.8px;background:linear-gradient(#2745ac 0,#1465be 53px,#7db1c9 78px,#efebea 91px,#d89e89 125px,#ce8167 131px,#c6694c 134px,#b0312a 142px,#830f2a 153px,#6b0e25 168px,#620d21 214px,#680d24 255px,#750f29 280px)"></i>
<i style="left:131px;top:722.2px;height:279.1px;background:linear-gradient(#2546ad 0,#1566be 52px,#7eb1ca 76px,#efebea 90px,#ead5cd 99px,#d89e89 126px,#ce8167 133px,#c6694c 136px,#b0312a 144px,#830f2a 155px,#6b0e25 170px,#620d21 216px,#680d24 254px,#750f29 279px)"></i>
<i style="left:133px;top:722.2px;height:279.1px;background:linear-gradient(#2a41aa 0,#1263be 51px,#7bb0c8 74px,#efebea 87px,#d89e89 126px,#ce8167 133px,#c6694c 137px,#b0312a 145px,#830f2a 156px,#6b0e25 171px,#620d21 217px,#680d24 254px,#750f29 279px)"></i>
<i style="left:135px;top:722.2px;height:280px;background:linear-gradient(#2646ad 0,#1566be 48px,#7db1ca 71px,#efebea 83px,#d89e89 125px,#ce8167 132px,#c6694c 136px,#b0312a 144px,#830f2a 155px,#6b0e25 170px,#620d21 216px,#680d24 255px,#750f29 280px)"></i>
<i style="left:137px;top:722.2px;height:283.2px;background:linear-gradient(#1e4eb3 0,#186abe 48px,#82b4cb 70px,#efebea 82px,#d89e89 122px,#ce8167 129px,#c6694c 133px,#b0312a 141px,#830f2a 152px,#6b0e25 167px,#620d21 213px,#680d24 258px,#750f29 283px)"></i>
<i style="left:139px;top:722.2px;height:286.3px;background:linear-gradient(#2a41aa 0,#1263be 48px,#7bb0c9 70px,#efebea 82px,#d89e89 121px,#ce8167 128px,#c6694c 132px,#b0312a 140px,#830f2a 151px,#6b0e25 166px,#620d21 212px,#680d24 261px,#750f29 286px)"></i>
<i style="left:141px;top:725.6px;height:285.6px;background:linear-gradient(#214cb1 0,#1769be 50px,#81b3cb 73px,#efebea 85px,#d89e89 123px,#ce8167 130px,#c6694c 134px,#b0312a 142px,#830f2a 153px,#6b0e25 168px,#620d21 214px,#680d24 261px,#750f29 286px)"></i>
<i style="left:143px;top:725.6px;height:285.2px;background:linear-gradient(#2546ad 0,#1566be 56px,#7eb1ca 82px,#efebea 97px,#ead5cd 104px,#d89e89 126px,#ce8167 131px,#c6694c 134px,#b0312a 142px,#830f2a 153px,#6b0e25 168px,#620d21 214px,#680d24 260px,#750f29 285px)"></i>
<i style="left:145px;top:725.6px;height:284.1px;background:linear-gradient(#2448ae 0,#1567be 56px,#7eb2ca 83px,#efebea 97px,#d89e89 127px,#ce8167 132px,#c6694c 135px,#b0312a 143px,#830f2a 154px,#6b0e25 169px,#620d21 215px,#680d24 259px,#750f29 284px)"></i>
<i style="left:147px;top:725.6px;height:283.1px;background:linear-gradient(#2645ad 0,#1465be 56px,#7db1c9 82px,#efebea 97px,#ead5cd 105px,#d89e89 130px,#c6694c 140px,#b0312a 148px,#830f2a 159px,#6b0e25 174px,#620d21 220px,#680d24 258px,#750f29 283px)"></i>
<i style="left:149px;top:725.6px;height:282px;background:linear-gradient(#1d4fb4 0,#196bbe 54px,#83b4cb 79px,#efebea 93px,#d89e89 128px,#c6694c 138px,#b0312a 146px,#830f2a 157px,#6b0e25 172px,#620d21 218px,#680d24 257px,#750f29 282px)"></i>
<i style="left:151px;top:722.2px;height:284.3px;background:linear-gradient(#1b52b5 0,#1a6cbe 56px,#84b5cc 82px,#efebea 97px,#d89e89 132px,#c6694c 142px,#b0312a 150px,#830f2a 161px,#6b0e25 176px,#620d21 222px,#680d24 259px,#750f29 284px)"></i>
<i style="left:153px;top:722.2px;height:283.2px;background:linear-gradient(#2448ae 0,#1567be 57px,#7eb2ca 84px,#efebea 99px,#d89e89 131px,#c6694c 140px,#b0312a 148px,#830f2a 159px,#6b0e25 174px,#620d21 220px,#680d24 258px,#750f29 283px)"></i>
<i style="left:155px;top:722.2px;height:283.4px;background:linear-gradient(#2348af 0,#1667be 58px,#7fb2ca 85px,#efebea 100px,#ead5cd 107px,#d89e89 129px,#ce8167 135px,#c6694c 138px,#b0312a 146px,#830f2a 157px,#6b0e25 172px,#620d21 218px,#680d24 258px,#750f29 283px)"></i>
<i style="left:157px;top:722.2px;height:285.7px;background:linear-gradient(#204cb1 0,#1769be 55px,#81b3cb 81px,#efebea 95px,#d89e89 125px,#ce8167 130px,#c6694c 133px,#b0312a 141px,#830f2a 152px,#6b0e25 167px,#620d21 213px,#680d24 261px,#750f29 286px)"></i>
<i style="left:159px;top:725.6px;height:283.3px;background:linear-gradient(#224ab0 0,#1668be 52px,#80b2ca 76px,#efebea 89px,#ead5cd 97px,#d89e89 122px,#c6694c 132px,#b0312a 140px,#830f2a 151px,#6b0e25 166px,#620d21 212px,#680d24 258px,#750f29 283px)"></i>
<i style="left:161px;top:725.6px;height:285.7px;background:linear-gradient(#2645ad 0,#1465be 51px,#7db1c9 75px,#efebea 88px,#ead5cd 97px,#d89e89 123px,#c6694c 133px,#b0312a 141px,#830f2a 152px,#6b0e25 167px,#620d21 213px,#680d24 261px,#750f29 286px)"></i>
<i style="left:163px;top:725.6px;height:283.8px;background:linear-gradient(#2349af 0,#1667be 50px,#7fb2ca 73px,#efebea 86px,#d89e89 123px,#ce8167 130px,#c6694c 134px,#b0312a 142px,#830f2a 153px,#6b0e25 168px,#620d21 214px,#680d24 259px,#750f29 284px)"></i>
<i style="left:165px;top:725.6px;height:281.8px;background:linear-gradient(#224ab0 0,#1668be 49px,#80b3ca 72px,#efebea 85px,#ead5cd 93px,#d89e89 119px,#ce8167 125px,#c6694c 128px,#b0312a 136px,#830f2a 147px,#6b0e25 162px,#620d21 208px,#680d24 257px,#750f29 282px)"></i>
<i style="left:167px;top:722.2px;height:283.3px;background:linear-gradient(#2a41a9 0,#1263be 51px,#7bb0c8 75px,#efebea 89px,#d89e89 121px,#ce8167 127px,#c6694c 130px,#b0312a 138px,#830f2a 149px,#6b0e25 164px,#620d21 210px,#680d24 258px,#750f29 283px)"></i>
<i style="left:169px;top:722.2px;height:281.7px;background:linear-gradient(#214bb1 0,#1769be 54px,#80b3cb 79px,#efebea 93px,#ead5cd 100px,#d89e89 121px,#ce8167 127px,#c6694c 129px,#b0312a 137px,#830f2a 148px,#6b0e25 163px,#620d21 209px,#680d24 257px,#750f29 282px)"></i>
<i style="left:171px;top:722.2px;height:283.3px;background:linear-gradient(#1c51b4 0,#196cbe 53px,#83b5cc 78px,#efebea 92px,#ead5cd 100px,#d89e89 124px,#c6694c 134px,#b0312a 142px,#830f2a 153px,#6b0e25 168px,#620d21 214px,#680d24 258px,#750f29 283px)"></i>
<i style="left:173px;top:722.2px;height:284.2px;background:linear-gradient(#1856b8 0,#1c6ebe 50px,#86b6cd 73px,#efebea 86px,#d89e89 121px,#c6694c 131px,#b0312a 139px,#830f2a 150px,#6b0e25 165px,#620d21 211px,#680d24 259px,#750f29 284px)"></i>
<i style="left:175px;top:722.2px;height:284.4px;background:linear-gradient(#1558b9 0,#1d70be 48px,#88b7cd 71px,#efebea 83px,#d89e89 121px,#ce8167 128px,#c6694c 132px,#b0312a 140px,#830f2a 151px,#6b0e25 166px,#620d21 212px,#680d24 259px,#750f29 284px)"></i>
<i style="left:177px;top:725.6px;height:281.9px;background:linear-gradient(#1668be 0,#267bbe 44px,#93bed2 64px,#efebea 75px,#d89e89 119px,#ce8167 127px,#c6694c 132px,#b0312a 140px,#830f2a 151px,#6b0e25 166px,#620d21 212px,#680d24 257px,#750f29 282px)"></i>
<i style="left:179px;top:725.6px;height:283.5px;background:linear-gradient(#1c6ebe 0,#3082be 43px,#99c0d3 63px,#efebea 74px,#ead5cd 84px,#d89e89 115px,#ce8167 122px,#c6694c 126px,#b0312a 134px,#830f2a 145px,#6b0e25 160px,#620d21 206px,#680d24 259px,#750f29 284px)"></i>
<i style="left:181px;top:725.6px;height:284.4px;background:linear-gradient(#1668be 0,#267bbe 42px,#93bed2 61px,#efebea 72px,#ead5cd 83px,#d89e89 116px,#ce8167 124px,#c6694c 128px,#b0312a 136px,#830f2a 147px,#6b0e25 162px,#620d21 208px,#680d24 259px,#750f29 284px)"></i>
<i style="left:183px;top:725.6px;height:285.1px;background:linear-gradient(#1a6cbe 0,#2b7fbe 40px,#97bfd3 58px,#efebea 68px,#d89e89 112px,#ce8167 120px,#c6694c 125px,#b0312a 133px,#830f2a 144px,#6b0e25 159px,#620d21 205px,#680d24 260px,#750f29 285px)"></i>
<i style="left:185px;top:725.6px;height:284.2px;background:linear-gradient(#1869be 0,#277cbe 40px,#94bed2 58px,#efebea 68px,#d89e89 115px,#ce8167 123px,#c6694c 128px,#b0312a 136px,#830f2a 147px,#6b0e25 162px,#620d21 208px,#680d24 259px,#750f29 284px)"></i>
<i style="left:187px;top:725.6px;height:283.3px;background:linear-gradient(#1a6cbe 0,#2c80be 39px,#97bfd3 57px,#efebea 67px,#ead5cd 80px,#d89e89 119px,#ce8167 128px,#c6694c 133px,#b0312a 141px,#830f2a 152px,#6b0e25 167px,#620d21 213px,#680d24 258px,#750f29 283px)"></i>
<i style="left:189px;top:725.6px;height:282.3px;background:linear-gradient(#186abe 0,#287dbe 38px,#95bfd2 56px,#efebea 66px,#d89e89 121px,#ce8167 131px,#c6694c 136px,#b0312a 144px,#830f2a 155px,#6b0e25 170px,#620d21 216px,#680d24 257px,#750f29 282px)"></i>
<i style="left:191px;top:725.6px;height:281.4px;background:linear-gradient(#1c6fbe 0,#3183be 39px,#99c0d3 57px,#efebea 68px,#ead5cd 81px,#d89e89 120px,#c6694c 135px,#b0312a 143px,#830f2a 154px,#6b0e25 169px,#620d21 215px,#680d24 256px,#750f29 281px)"></i>
<i style="left:193px;top:722.2px;height:283.9px;background:linear-gradient(#1465be 0,#2479be 42px,#91bcd1 62px,#efebea 73px,#d89e89 120px,#ce8167 129px,#c6694c 134px,#b0312a 142px,#830f2a 153px,#6b0e25 168px,#620d21 214px,#680d24 259px,#750f29 284px)"></i>
<i style="left:195px;top:722.2px;height:283px;background:linear-gradient(#1465be 0,#2479be 46px,#91bcd1 67px,#efebea 79px,#d89e89 122px,#c6694c 134px,#b0312a 142px,#830f2a 153px,#6b0e25 168px,#620d21 214px,#680d24 258px,#750f29 283px)"></i>
<i style="left:197px;top:722.2px;height:282.7px;background:linear-gradient(#1769be 0,#277cbe 43px,#94bed2 63px,#efebea 74px,#d89e89 121px,#ce8167 129px,#c6694c 134px,#b0312a 142px,#830f2a 153px,#6b0e25 168px,#620d21 214px,#680d24 258px,#750f29 283px)"></i>
<i style="left:199px;top:722.2px;height:286.1px;background:linear-gradient(#1e71be 0,#3686be 41px,#9cc2d4 61px,#efebea 71px,#d89e89 125px,#ce8167 135px,#c6694c 140px,#b0312a 148px,#830f2a 159px,#6b0e25 174px,#620d21 220px,#680d24 261px,#750f29 286px)"></i>
<i style="left:201px;top:722.2px;height:288.1px;background:linear-gradient(#277bbe 0,#4a93be 44px,#a5c6d6 64px,#efebea 76px,#ead5cd 87px,#d89e89 122px,#ce8167 130px,#c6694c 135px,#b0312a 143px,#830f2a 154px,#6b0e25 169px,#620d21 215px,#680d24 263px,#750f29 288px)"></i>
<i style="left:203px;top:725.6px;height:285.3px;background:linear-gradient(#2174be 0,#3c8abe 44px,#9fc3d5 64px,#efebea 76px,#ead5cd 86px,#d89e89 117px,#ce8167 124px,#c6694c 128px,#b0312a 136px,#830f2a 147px,#6b0e25 162px,#620d21 208px,#680d24 260px,#750f29 285px)"></i>
<i style="left:205px;top:725.6px;height:287.3px;background:linear-gradient(#2276be 0,#3f8cbe 45px,#a0c3d5 66px,#efebea 78px,#d89e89 119px,#ce8167 127px,#c6694c 131px,#b0312a 139px,#830f2a 150px,#6b0e25 165px,#620d21 211px,#680d24 262px,#750f29 287px)"></i>
<i style="left:207px;top:725.6px;height:290.5px;background:linear-gradient(#1f73be 0,#3988be 45px,#9dc2d4 66px,#efebea 78px,#ead5cd 88px,#d89e89 119px,#ce8167 127px,#c6694c 131px,#b0312a 139px,#830f2a 150px,#6b0e25 165px,#620d21 211px,#680d24 265px,#750f29 290px)"></i>
<i style="left:209px;top:725.6px;height:290px;background:linear-gradient(#1e71be 0,#3585be 45px,#9bc1d4 66px,#efebea 77px,#d89e89 119px,#ce8167 126px,#c6694c 130px,#b0312a 138px,#830f2a 149px,#6b0e25 164px,#620d21 210px,#680d24 265px,#750f29 290px)"></i>
<i style="left:211px;top:725.6px;height:286.7px;background:linear-gradient(#2479be 0,#448fbe 46px,#a2c4d6 68px,#efebea 80px,#ead5cd 90px,#d89e89 120px,#ce8167 128px,#c6694c 132px,#b0312a 140px,#830f2a 151px,#6b0e25 166px,#620d21 212px,#680d24 262px,#750f29 287px)"></i>
<i style="left:213px;top:724px;height:287.8px;background:linear-gradient(#408cbe 0,#61a1bf 51px,#b0cad9 75px,#efebea 88px,#d89e89 122px,#c6694c 132px,#b0312a 140px,#830f2a 151px,#6b0e25 166px,#620d21 212px,#680d24 263px,#750f29 288px)"></i>
<i style="left:215px;top:724px;height:288.8px;background:linear-gradient(#4e95be 0,#6ba7c3 51px,#b5cdda 74px,#efebea 87px,#d89e89 127px,#ce8167 134px,#c6694c 138px,#b0312a 146px,#830f2a 157px,#6b0e25 172px,#620d21 218px,#680d24 264px,#750f29 289px)"></i>
<i style="left:217px;top:724px;height:288.3px;background:linear-gradient(#68a5c1 0,#aecad8 28px,#d7dfe5 56px,#efebea 79px,#d89e89 123px,#ce8167 131px,#c6694c 135px,#b0312a 143px,#830f2a 154px,#6b0e25 169px,#620d21 215px,#680d24 263px,#750f29 288px)"></i>
<i style="left:219px;top:724px;height:288.6px;background:linear-gradient(#70a9c4 0,#b3ccda 25px,#d8e0e5 51px,#efebea 72px,#d89e89 119px,#ce8167 127px,#c6694c 132px,#b0312a 140px,#830f2a 151px,#6b0e25 166px,#620d21 212px,#680d24 264px,#750f29 289px)"></i>
<i style="left:221px;top:724px;height:286.7px;background:linear-gradient(#75adc6 0,#b6cdda 23px,#d9e0e5 46px,#efebea 66px,#ead5cd 78px,#d89e89 115px,#ce8167 123px,#c6694c 128px,#b0312a 136px,#830f2a 147px,#6b0e25 162px,#620d21 208px,#680d24 262px,#750f29 287px)"></i>
<i style="left:223px;top:724px;height:283.3px;background:linear-gradient(#68a5c1 0,#aecad9 21px,#d7dfe5 43px,#efebea 61px,#d89e89 115px,#c6694c 130px,#b0312a 138px,#830f2a 149px,#6b0e25 164px,#620d21 210px,#680d24 258px,#750f29 283px)"></i>
<i style="left:225px;top:724px;height:281.4px;background:linear-gradient(#77aec7 0,#b7cedb 19px,#efebea 55px,#d89e89 117px,#c6694c 135px,#b0312a 143px,#830f2a 154px,#6b0e25 169px,#620d21 215px,#680d24 256px,#750f29 281px)"></i>
<i style="left:227px;top:724px;height:281.5px;background:linear-gradient(#77aec7 0,#b7cedb 18px,#efebea 51px,#ead5cd 68px,#d89e89 117px,#ce8167 129px,#c6694c 136px,#b0312a 144px,#830f2a 155px,#6b0e25 170px,#620d21 216px,#680d24 256px,#750f29 281px)"></i>
<i style="left:229px;top:724px;height:280.7px;background:linear-gradient(#6ba7c2 0,#b0cad9 19px,#d7e0e5 38px,#efebea 54px,#ead5cd 70px,#d89e89 117px,#ce8167 129px,#c6694c 135px,#b0312a 143px,#830f2a 154px,#6b0e25 169px,#620d21 215px,#680d24 256px,#750f29 281px)"></i>
<i style="left:231px;top:724px;height:278.5px;background:linear-gradient(#74acc6 0,#b5cdda 21px,#d9e0e5 42px,#efebea 59px,#ead5cd 74px,#d89e89 118px,#ce8167 129px,#c6694c 135px,#b0312a 143px,#830f2a 154px,#6b0e25 169px,#620d21 215px,#680d24 253px,#750f29 278px)"></i>
<i style="left:233px;top:724px;height:278.2px;background:linear-gradient(#85b6cc 0,#bed1dd 18px,#efebea 53px,#ead5cd 68px,#d89e89 114px,#ce8167 125px,#c6694c 131px,#b0312a 139px,#830f2a 150px,#6b0e25 165px,#620d21 211px,#680d24 253px,#750f29 278px)"></i>
<i style="left:235px;top:725px;height:277.1px;background:linear-gradient(#8ab8ce 0,#c0d2dd 15px,#efebea 43px,#ead5cd 60px,#d89e89 110px,#ce8167 122px,#c6694c 129px,#b0312a 137px,#830f2a 148px,#6b0e25 163px,#620d21 209px,#680d24 252px,#750f29 277px)"></i>
<i style="left:237px;top:725px;height:277.6px;background:linear-gradient(#86b6cd 0,#bed1dd 14px,#efebea 39px,#d89e89 109px,#ce8167 121px,#c6694c 128px,#b0312a 136px,#830f2a 147px,#6b0e25 162px,#620d21 208px,#680d24 253px,#750f29 278px)"></i>
<i style="left:239px;top:725px;height:278.2px;background:linear-gradient(#8fbbd0 0,#c2d3de 13px,#efebea 37px,#d89e89 109px,#ce8167 122px,#c6694c 130px,#b0312a 138px,#830f2a 149px,#6b0e25 164px,#620d21 210px,#680d24 253px,#750f29 278px)"></i>
<i style="left:241px;top:725px;height:278.8px;background:linear-gradient(#88b7ce 0,#bfd2dd 13px,#efebea 37px,#d89e89 107px,#ce8167 120px,#c6694c 127px,#b0312a 135px,#830f2a 146px,#6b0e25 161px,#620d21 207px,#680d24 254px,#750f29 279px)"></i>
<i style="left:243px;top:725px;height:282.1px;background:linear-gradient(#91bcd1 0,#c3d4de 15px,#efebea 42px,#d89e89 108px,#c6694c 126px,#b0312a 134px,#830f2a 145px,#6b0e25 160px,#620d21 206px,#680d24 257px,#750f29 282px)"></i>
<i style="left:245px;top:725px;height:284px;background:linear-gradient(#83b4cc 0,#bdd1dc 16px,#efebea 46px,#ead5cd 63px,#d89e89 114px,#ce8167 126px,#c6694c 133px,#b0312a 141px,#830f2a 152px,#6b0e25 167px,#620d21 213px,#680d24 259px,#750f29 284px)"></i>
<i style="left:247px;top:725px;height:285.3px;background:linear-gradient(#86b6cd 0,#bed1dd 17px,#dce2e6 34px,#efebea 49px,#ead5cd 66px,#d89e89 115px,#ce8167 127px,#c6694c 134px,#b0312a 142px,#830f2a 153px,#6b0e25 168px,#620d21 214px,#680d24 260px,#750f29 285px)"></i>
<i style="left:249px;top:725px;height:287.1px;background:linear-gradient(#87b6cd 0,#bfd2dd 20px,#efebea 57px,#ead5cd 72px,#d89e89 118px,#ce8167 129px,#c6694c 135px,#b0312a 143px,#830f2a 154px,#6b0e25 169px,#620d21 215px,#680d24 262px,#750f29 287px)"></i>
<i style="left:251px;top:725px;height:288.3px;background:linear-gradient(#90bcd1 0,#c3d4de 20px,#efebea 59px,#ead5cd 72px,#d89e89 112px,#c6694c 127px,#b0312a 135px,#830f2a 146px,#6b0e25 161px,#620d21 207px,#680d24 263px,#750f29 288px)"></i>
<i style="left:253px;top:725px;height:288.8px;background:linear-gradient(#97bfd3 0,#c5d5df 21px,#efebea 61px,#d89e89 110px,#ce8167 119px,#c6694c 124px,#b0312a 132px,#830f2a 143px,#6b0e25 158px,#620d21 204px,#680d24 264px,#750f29 289px)"></i>
<i style="left:255px;top:725px;height:287.3px;background:linear-gradient(#93bdd2 0,#c3d4de 22px,#efebea 64px,#d89e89 115px,#ce8167 124px,#c6694c 129px,#b0312a 137px,#830f2a 148px,#6b0e25 163px,#620d21 209px,#680d24 262px,#750f29 287px)"></i>
<i style="left:257px;top:725px;height:287.8px;background:linear-gradient(#8fbbd0 0,#c2d4de 23px,#efebea 66px,#ead5cd 78px,#d89e89 114px,#ce8167 122px,#c6694c 127px,#b0312a 135px,#830f2a 146px,#6b0e25 161px,#620d21 207px,#680d24 263px,#750f29 288px)"></i>
<i style="left:259px;top:725px;height:289.8px;background:linear-gradient(#90bcd0 0,#c2d4de 23px,#efebea 66px,#d89e89 115px,#ce8167 124px,#c6694c 129px,#b0312a 137px,#830f2a 148px,#6b0e25 163px,#620d21 209px,#680d24 265px,#750f29 290px)"></i>
<i style="left:261px;top:725px;height:292.2px;background:linear-gradient(#94bed2 0,#c4d5df 22px,#efebea 64px,#ead5cd 77px,#d89e89 115px,#c6694c 130px,#b0312a 138px,#830f2a 149px,#6b0e25 164px,#620d21 210px,#680d24 267px,#750f29 292px)"></i>
<i style="left:263px;top:725px;height:294.6px;background:linear-gradient(#85b5cc 0,#bed1dd 20px,#efebea 58px,#ead5cd 72px,#d89e89 114px,#ce8167 124px,#c6694c 129px,#b0312a 137px,#830f2a 148px,#6b0e25 163px,#620d21 209px,#680d24 270px,#750f29 295px)"></i>
<i style="left:265px;top:725px;height:297.1px;background:linear-gradient(#85b5cc 0,#bed1dd 22px,#efebea 63px,#d89e89 113px,#ce8167 122px,#c6694c 127px,#b0312a 135px,#830f2a 146px,#6b0e25 161px,#620d21 207px,#680d24 272px,#750f29 297px)"></i>
<i style="left:267px;top:722px;height:303.3px;background:linear-gradient(#7bb0c9 0,#b9cfdb 25px,#dae1e5 49px,#efebea 70px,#ead5cd 80px,#d89e89 110px,#ce8167 117px,#c6694c 121px,#b0312a 129px,#830f2a 140px,#6b0e25 155px,#620d21 201px,#680d24 278px,#750f29 303px)"></i>
<i style="left:269px;top:722px;height:306.6px;background:linear-gradient(#6aa6c2 0,#b0cad9 26px,#d7e0e5 52px,#efebea 74px,#d89e89 109px,#c6694c 119px,#b0312a 127px,#830f2a 138px,#6b0e25 153px,#620d21 199px,#680d24 282px,#750f29 307px)"></i>
<i style="left:271px;top:722px;height:294.1px;background:linear-gradient(#6ba7c3 0,#b0cbd9 28px,#d7e0e5 55px,#efebea 79px,#d89e89 113px,#ce8167 120px,#c6694c 123px,#b0312a 131px,#830f2a 142px,#6b0e25 157px,#620d21 203px,#680d24 269px,#750f29 294px)"></i>
<i style="left:273px;top:722px;height:283.5px;background:linear-gradient(#67a5c1 0,#aecad8 26px,#d7dfe5 52px,#efebea 74px,#ead5cd 85px,#d89e89 117px,#ce8167 125px,#c6694c 129px,#b0312a 137px,#830f2a 148px,#6b0e25 163px,#620d21 209px,#680d24 259px,#750f29 284px)"></i>
<i style="left:275px;top:722px;height:283.6px;background:linear-gradient(#5d9fbe 0,#a8c7d7 24px,#d5dfe4 49px,#efebea 70px,#d89e89 112px,#c6694c 124px,#b0312a 132px,#830f2a 143px,#6b0e25 158px,#620d21 204px,#680d24 259px,#750f29 284px)"></i>
<i style="left:277px;top:722px;height:282.3px;background:linear-gradient(#64a3c0 0,#acc9d8 26px,#d6dfe5 51px,#efebea 73px,#d89e89 114px,#ce8167 121px,#c6694c 125px,#b0312a 133px,#830f2a 144px,#6b0e25 159px,#620d21 205px,#680d24 257px,#750f29 282px)"></i>
<i style="left:279px;top:722px;height:279.5px;background:linear-gradient(#5c9ebe 0,#a7c7d7 28px,#d5dfe4 55px,#efebea 79px,#ead5cd 88px,#d89e89 115px,#c6694c 125px,#b0312a 133px,#830f2a 144px,#6b0e25 159px,#620d21 205px,#680d24 255px,#750f29 280px)"></i>
<i style="left:281px;top:722px;height:278.2px;background:linear-gradient(#66a4c0 0,#adc9d8 29px,#d7dfe5 58px,#efebea 83px,#ead5cd 91px,#d89e89 115px,#c6694c 125px,#b0312a 133px,#830f2a 144px,#6b0e25 159px,#620d21 205px,#680d24 253px,#750f29 278px)"></i>
<i style="left:283px;top:722px;height:278.3px;background:linear-gradient(#63a2bf 0,#abc8d8 30px,#d6dfe5 60px,#efebea 86px,#d89e89 118px,#c6694c 127px,#b0312a 135px,#830f2a 146px,#6b0e25 161px,#620d21 207px,#680d24 253px,#750f29 278px)"></i>
<i style="left:285px;top:722px;height:276.7px;background:linear-gradient(#75adc6 0,#b6cdda 29px,#d9e0e5 58px,#efebea 83px,#ead5cd 92px,#d89e89 119px,#c6694c 129px,#b0312a 137px,#830f2a 148px,#6b0e25 163px,#620d21 209px,#680d24 252px,#750f29 277px)"></i>
<i style="left:287px;top:722px;height:275.4px;background:linear-gradient(#71aac5 0,#b3ccda 28px,#d8e0e5 56px,#efebea 80px,#ead5cd 89px,#d89e89 116px,#ce8167 123px,#c6694c 126px,#b0312a 134px,#830f2a 145px,#6b0e25 160px,#620d21 206px,#680d24 250px,#750f29 275px)"></i>
<i style="left:289px;top:722px;height:273.4px;background:linear-gradient(#5e9fbe 0,#a8c7d7 27px,#d5dfe4 53px,#efebea 76px,#ead5cd 85px,#d89e89 112px,#ce8167 119px,#c6694c 122px,#b0312a 130px,#830f2a 141px,#6b0e25 156px,#620d21 202px,#680d24 248px,#750f29 273px)"></i>
<i style="left:291px;top:722px;height:270.7px;background:linear-gradient(#63a3c0 0,#acc9d8 24px,#d6dfe5 48px,#efebea 69px,#ead5cd 80px,#d89e89 113px,#ce8167 121px,#c6694c 125px,#b0312a 133px,#830f2a 144px,#6b0e25 159px,#620d21 205px,#680d24 246px,#750f29 271px)"></i>
<i style="left:293px;top:722px;height:270.2px;background:linear-gradient(#62a2bf 0,#abc8d8 22px,#d6dfe4 43px,#efebea 62px,#ead5cd 75px,#d89e89 114px,#ce8167 123px,#c6694c 128px,#b0312a 136px,#830f2a 147px,#6b0e25 162px,#620d21 208px,#680d24 245px,#750f29 270px)"></i>
<i style="left:295px;top:722px;height:271px;background:linear-gradient(#67a4c1 0,#adc9d8 20px,#d7dfe5 41px,#efebea 58px,#d89e89 116px,#ce8167 126px,#c6694c 132px,#b0312a 140px,#830f2a 151px,#6b0e25 166px,#620d21 212px,#680d24 246px,#750f29 271px)"></i>
<i style="left:297px;top:722px;height:271.7px;background:linear-gradient(#6da8c3 0,#b1cbd9 20px,#d8e0e5 40px,#efebea 57px,#d89e89 111px,#ce8167 121px,#c6694c 126px,#b0312a 134px,#830f2a 145px,#6b0e25 160px,#620d21 206px,#680d24 247px,#750f29 272px)"></i>
<i style="left:299px;top:722px;height:272.4px;background:linear-gradient(#71aac5 0,#b3ccda 20px,#d8e0e5 40px,#efebea 57px,#ead5cd 70px,#d89e89 109px,#ce8167 118px,#c6694c 123px,#b0312a 131px,#830f2a 142px,#6b0e25 157px,#620d21 203px,#680d24 247px,#750f29 272px)"></i>
<i style="left:301px;top:722px;height:273.2px;background:linear-gradient(#77aec7 0,#b7cedb 19px,#d9e1e5 38px,#efebea 54px,#d89e89 108px,#c6694c 123px,#b0312a 131px,#830f2a 142px,#6b0e25 157px,#620d21 203px,#680d24 248px,#750f29 273px)"></i>
<i style="left:303px;top:722px;height:273.8px;background:linear-gradient(#7bb0c8 0,#b9cfdb 20px,#efebea 56px,#d89e89 113px,#ce8167 123px,#c6694c 129px,#b0312a 137px,#830f2a 148px,#6b0e25 163px,#620d21 209px,#680d24 249px,#750f29 274px)"></i>
<i style="left:305px;top:722px;height:271.1px;background:linear-gradient(#7eb2ca 0,#bbd0dc 22px,#efebea 64px,#ead5cd 77px,#d89e89 116px,#ce8167 125px,#c6694c 130px,#b0312a 138px,#830f2a 149px,#6b0e25 164px,#620d21 210px,#680d24 246px,#750f29 271px)"></i>
<i style="left:307px;top:722px;height:267px;background:linear-gradient(#89b8ce 0,#c0d2dd 25px,#efebea 71px,#ead5cd 82px,#d89e89 116px,#ce8167 124px,#c6694c 128px,#b0312a 136px,#830f2a 147px,#6b0e25 162px,#620d21 208px,#680d24 242px,#750f29 267px)"></i>
<i style="left:309px;top:722px;height:264.3px;background:linear-gradient(#8dbacf 0,#c1d3de 24px,#efebea 69px,#ead5cd 81px,#d89e89 117px,#ce8167 125px,#c6694c 130px,#b0312a 138px,#830f2a 149px,#6b0e25 164px,#620d21 210px,#680d24 239px,#750f29 264px)"></i>
<i style="left:311px;top:722px;height:264.1px;background:linear-gradient(#7fb2ca 0,#bbd0dc 23px,#efebea 66px,#ead5cd 79px,#d89e89 117px,#c6694c 132px,#b0312a 140px,#830f2a 151px,#6b0e25 166px,#620d21 212px,#680d24 239px,#750f29 264px)"></i>
<i style="left:313px;top:722px;height:264.1px;background:linear-gradient(#8dbacf 0,#c1d3de 22px,#efebea 62px,#d89e89 119px,#ce8167 129px,#c6694c 135px,#b0312a 143px,#830f2a 154px,#6b0e25 169px,#620d21 215px,#750f29 264px)"></i>
<i style="left:315px;top:722px;height:263.4px;background:linear-gradient(#84b5cc 0,#bdd1dc 22px,#efebea 63px,#ead5cd 76px,#d89e89 114px,#c6694c 129px,#b0312a 137px,#830f2a 148px,#6b0e25 163px,#620d21 209px,#680d24 238px,#750f29 263px)"></i>
<i style="left:317px;top:722px;height:265.2px;background:linear-gradient(#81b4cb 0,#bdd0dc 24px,#efebea 68px,#d89e89 121px,#ce8167 130px,#c6694c 135px,#b0312a 143px,#830f2a 154px,#6b0e25 169px,#620d21 215px,#680d24 240px,#750f29 265px)"></i>
<i style="left:319px;top:722px;height:268.8px;background:linear-gradient(#86b6cd 0,#bfd1dd 25px,#efebea 72px,#d89e89 117px,#ce8167 126px,#c6694c 130px,#b0312a 138px,#830f2a 149px,#6b0e25 164px,#620d21 210px,#680d24 244px,#750f29 269px)"></i>
<i style="left:321px;top:722px;height:272.4px;background:linear-gradient(#7eb2ca 0,#bbd0dc 26px,#efebea 75px,#ead5cd 85px,#d89e89 115px,#ce8167 122px,#c6694c 126px,#b0312a 134px,#830f2a 145px,#6b0e25 160px,#620d21 206px,#680d24 247px,#750f29 272px)"></i>
<i style="left:323px;top:722px;height:274.7px;background:linear-gradient(#81b3cb 0,#bcd0dc 27px,#efebea 78px,#d89e89 115px,#ce8167 122px,#c6694c 126px,#b0312a 134px,#830f2a 145px,#6b0e25 160px,#620d21 206px,#680d24 250px,#750f29 275px)"></i>
<i style="left:325px;top:722px;height:273.9px;background:linear-gradient(#74acc6 0,#b5cdda 29px,#d9e0e5 59px,#efebea 84px,#ead5cd 92px,#d89e89 118px,#ce8167 124px,#c6694c 127px,#b0312a 135px,#830f2a 146px,#6b0e25 161px,#620d21 207px,#680d24 249px,#750f29 274px)"></i>
<i style="left:327px;top:722px;height:274.5px;background:linear-gradient(#6ea9c4 0,#b2cbd9 28px,#d8e0e5 55px,#efebea 79px,#ead5cd 87px,#d89e89 113px,#ce8167 119px,#c6694c 122px,#b0312a 130px,#830f2a 141px,#6b0e25 156px,#620d21 202px,#680d24 250px,#750f29 275px)"></i>
<i style="left:329px;top:722px;height:273.8px;background:linear-gradient(#67a5c1 0,#aecad8 27px,#d7dfe5 53px,#efebea 76px,#ead5cd 85px,#d89e89 113px,#c6694c 123px,#b0312a 131px,#830f2a 142px,#6b0e25 157px,#620d21 203px,#680d24 249px,#750f29 274px)"></i>
<i style="left:331px;top:722px;height:270.9px;background:linear-gradient(#4d95be 0,#6aa6c2 48px,#b5cdda 70px,#efebea 82px,#d89e89 116px,#ce8167 123px,#c6694c 126px,#b0312a 134px,#830f2a 145px,#6b0e25 160px,#620d21 206px,#680d24 246px,#750f29 271px)"></i>
<i style="left:333px;top:722px;height:270.4px;background:linear-gradient(#2d80be 0,#5197be 45px,#a8c7d7 66px,#efebea 77px,#d89e89 116px,#ce8167 123px,#c6694c 127px,#b0312a 135px,#830f2a 146px,#6b0e25 161px,#620d21 207px,#680d24 245px,#750f29 270px)"></i>
<i style="left:335px;top:722px;height:272.3px;background:linear-gradient(#3686be 0,#599cbe 38px,#acc9d8 56px,#efebea 66px,#d89e89 109px,#ce8167 117px,#c6694c 121px,#b0312a 129px,#830f2a 140px,#6b0e25 155px,#620d21 201px,#680d24 247px,#750f29 272px)"></i>
<i style="left:337px;top:722px;height:272.8px;background:linear-gradient(#277bbe 0,#4a93be 37px,#a5c6d6 54px,#efebea 64px,#ead5cd 75px,#d89e89 109px,#ce8167 118px,#c6694c 122px,#b0312a 130px,#830f2a 141px,#6b0e25 156px,#620d21 202px,#680d24 248px,#750f29 273px)"></i>
<i style="left:339px;top:722px;height:274px;background:linear-gradient(#418dbe 0,#62a2bf 36px,#b0cbd9 53px,#efebea 62px,#ead5cd 73px,#d89e89 106px,#ce8167 114px,#c6694c 119px,#b0312a 127px,#830f2a 138px,#6b0e25 153px,#620d21 199px,#680d24 249px,#750f29 274px)"></i>
<i style="left:341px;top:722px;height:274.6px;background:linear-gradient(#3887be 0,#5a9dbe 41px,#acc9d8 60px,#efebea 71px,#d89e89 114px,#c6694c 126px,#b0312a 134px,#830f2a 145px,#6b0e25 160px,#620d21 206px,#680d24 250px,#750f29 275px)"></i>
<i style="left:343px;top:722px;height:275.1px;background:linear-gradient(#3787be 0,#5a9dbe 49px,#acc9d8 73px,#efebea 85px,#d89e89 116px,#ce8167 121px,#c6694c 124px,#b0312a 132px,#830f2a 143px,#6b0e25 158px,#620d21 204px,#680d24 250px,#750f29 275px)"></i>
<i style="left:345px;top:722px;height:275.6px;background:linear-gradient(#287dbe 0,#4c94be 58px,#a6c6d6 85px,#efebea 100px,#d89e89 119px,#c6694c 124px,#b0312a 132px,#830f2a 143px,#6b0e25 158px,#620d21 204px,#680d24 251px,#750f29 276px)"></i>
<i style="left:347px;top:722px;height:275.4px;background:linear-gradient(#2377be 0,#418dbe 63px,#a1c4d5 93px,#efebea 109px,#e1b9aa 116px,#d89e89 119px,#ce8167 121px,#c6694c 122px,#b0312a 130px,#830f2a 141px,#6b0e25 156px,#620d21 202px,#680d24 250px,#750f29 275px)"></i>
<i style="left:349px;top:722px;height:276.5px;background:linear-gradient(#1f72be 0,#3786be 66px,#9cc2d4 97px,#efebea 114px,#e1b9aa 119px,#ce8167 123px,#c6694c 124px,#b0312a 132px,#830f2a 143px,#6b0e25 158px,#620d21 204px,#680d24 251px,#750f29 276px)"></i>
<i style="left:351px;top:722px;height:277.3px;background:linear-gradient(#1a6dbe 0,#2d80be 66px,#97c0d3 96px,#efebea 113px,#d89e89 121px,#ce8167 122px,#c6694c 123px,#b0312a 131px,#830f2a 142px,#6b0e25 157px,#620d21 203px,#680d24 252px,#750f29 277px)"></i>
<i style="left:353px;top:722px;height:278.8px;background:linear-gradient(#0f5fbe 0,#2073be 62px,#8bb9cf 91px,#efebea 107px,#d89e89 118px,#ce8167 120px,#c6694c 122px,#b0312a 130px,#830f2a 141px,#6b0e25 156px,#620d21 202px,#680d24 254px,#750f29 279px)"></i>
<i style="left:355px;top:722px;height:280.3px;background:linear-gradient(#115cbc 0,#1f72be 60px,#8ab8ce 88px,#efebea 104px,#ead5cd 107px,#d89e89 117px,#ce8167 119px,#c6694c 121px,#b0312a 129px,#830f2a 140px,#6b0e25 155px,#620d21 201px,#680d24 255px,#750f29 280px)"></i>
<i style="left:357px;top:722px;height:281.8px;background:linear-gradient(#1459ba 0,#1e70be 59px,#88b7ce 87px,#efebea 102px,#e1b9aa 113px,#d89e89 120px,#c6694c 125px,#b0312a 133px,#830f2a 144px,#6b0e25 159px,#620d21 205px,#680d24 257px,#750f29 282px)"></i>
<i style="left:359px;top:722px;height:282.8px;background:linear-gradient(#1856b8 0,#1c6ebe 59px,#86b6cd 87px,#efebea 102px,#ead5cd 106px,#d89e89 119px,#ce8167 122px,#c6694c 123px,#b0312a 131px,#830f2a 142px,#6b0e25 157px,#620d21 203px,#680d24 258px,#750f29 283px)"></i>
<i style="left:361px;top:722px;height:282px;background:linear-gradient(#1954b7 0,#1b6dbe 53px,#85b6cd 77px,#efebea 91px,#d89e89 123px,#c6694c 132px,#b0312a 140px,#830f2a 151px,#6b0e25 166px,#620d21 212px,#680d24 257px,#750f29 282px)"></i>
<i style="left:363px;top:722px;height:280.5px;background:linear-gradient(#1e4eb3 0,#186abe 50px,#82b4cb 74px,#efebea 87px,#ead5cd 96px,#d89e89 124px,#ce8167 131px,#c6694c 134px,#b0312a 142px,#830f2a 153px,#6b0e25 168px,#620d21 214px,#680d24 256px,#750f29 281px)"></i>
<i style="left:365px;top:722px;height:287.2px;background:linear-gradient(#2a41aa 0,#1263be 50px,#7bb0c8 74px,#efebea 87px,#ead5cd 96px,#d89e89 124px,#ce8167 131px,#c6694c 134px,#b0312a 142px,#830f2a 153px,#6b0e25 168px,#620d21 214px,#680d24 262px,#750f29 287px)"></i>
<i style="left:367px;top:724px;height:304px;background:linear-gradient(#273996 0,#145abb 65px,#73acc6 95px,#efebea 112px,#ead5cd 116px,#d89e89 129px,#ce8167 132px,#c6694c 133px,#b0312a 141px,#830f2a 152px,#6b0e25 167px,#620d21 213px,#680d24 279px,#750f29 304px)"></i>
<i style="left:369px;top:724px;height:291.3px;background:linear-gradient(#2a40a7 0,#1162be 63px,#7aafc8 93px,#efebea 109px,#ead5cd 115px,#d89e89 134px,#c6694c 141px,#b0312a 149px,#830f2a 160px,#6b0e25 175px,#620d21 221px,#680d24 266px,#750f29 291px)"></i>
<i style="left:371px;top:724px;height:281.1px;background:linear-gradient(#273995 0,#1559ba 51px,#73abc5 75px,#efebea 88px,#d89e89 128px,#ce8167 135px,#c6694c 139px,#b0312a 147px,#830f2a 158px,#6b0e25 173px,#620d21 219px,#680d24 256px,#750f29 281px)"></i>
<i style="left:373px;top:724px;height:285.1px;background:linear-gradient(#263790 0,#1756b8 47px,#71aac5 69px,#efebea 81px,#d89e89 128px,#ce8167 136px,#c6694c 141px,#b0312a 149px,#830f2a 160px,#6b0e25 175px,#620d21 221px,#680d24 260px,#750f29 285px)"></i>
<i style="left:375px;top:724px;height:289.2px;background:linear-gradient(#283c9d 0,#105ebd 53px,#76adc7 78px,#efebea 92px,#ead5cd 100px,#d89e89 125px,#c6694c 135px,#b0312a 143px,#830f2a 154px,#6b0e25 169px,#620d21 215px,#680d24 264px,#750f29 289px)"></i>
<i style="left:377px;top:724px;height:293.2px;background:linear-gradient(#283b9b 0,#115dbc 53px,#75adc6 78px,#efebea 91px,#ead5cd 100px,#d89e89 127px,#c6694c 137px,#b0312a 145px,#830f2a 156px,#6b0e25 171px,#620d21 217px,#680d24 268px,#750f29 293px)"></i>
<i style="left:379px;top:724px;height:292px;background:linear-gradient(#263790 0,#1756b8 49px,#71aac5 71px,#efebea 84px,#ead5cd 95px,#d89e89 128px,#ce8167 136px,#c6694c 141px,#b0312a 149px,#830f2a 160px,#6b0e25 175px,#620d21 221px,#680d24 267px,#750f29 292px)"></i>
<i style="left:381px;top:724px;height:290.9px;background:linear-gradient(#293d9f 0,#0f5fbe 44px,#77adc7 65px,#efebea 77px,#ead5cd 90px,#d89e89 129px,#ce8167 138px,#c6694c 143px,#b0312a 151px,#830f2a 162px,#6b0e25 177px,#620d21 223px,#680d24 266px,#750f29 291px)"></i>
<i style="left:383px;top:724px;height:289.7px;background:linear-gradient(#2844ac 0,#1364be 48px,#7cb1c9 70px,#efebea 82px,#d89e89 127px,#ce8167 135px,#c6694c 140px,#b0312a 148px,#830f2a 159px,#6b0e25 174px,#620d21 220px,#680d24 265px,#750f29 290px)"></i>
<i style="left:385px;top:724px;height:288.5px;background:linear-gradient(#204cb2 0,#1769be 59px,#81b3cb 87px,#efebea 102px,#d89e89 129px,#c6694c 136px,#b0312a 144px,#830f2a 155px,#6b0e25 170px,#620d21 216px,#680d24 264px,#750f29 289px)"></i>
<i style="left:387px;top:724px;height:288.3px;background:linear-gradient(#1465be 0,#2478be 62px,#91bcd1 91px,#efebea 106px,#d89e89 131px,#ce8167 136px,#c6694c 138px,#b0312a 146px,#830f2a 157px,#6b0e25 172px,#620d21 218px,#680d24 263px,#750f29 288px)"></i>
<i style="left:389px;top:724px;height:288.8px;background:linear-gradient(#1769be 0,#277cbe 60px,#94bed2 88px,#efebea 103px,#ead5cd 110px,#d89e89 130px,#ce8167 135px,#c6694c 138px,#b0312a 146px,#830f2a 157px,#6b0e25 172px,#620d21 218px,#680d24 264px,#750f29 289px)"></i>
<i style="left:391px;top:724px;height:288px;background:linear-gradient(#1566be 0,#257abe 49px,#92bdd1 72px,#efebea 84px,#d89e89 126px,#c6694c 138px,#b0312a 146px,#830f2a 157px,#6b0e25 172px,#620d21 218px,#680d24 263px,#750f29 288px)"></i>
<i style="left:393px;top:724px;height:288.5px;background:linear-gradient(#1364be 0,#2478be 41px,#90bcd0 61px,#efebea 71px,#d89e89 125px,#c6694c 140px,#b0312a 148px,#830f2a 159px,#6b0e25 174px,#620d21 220px,#680d24 263px,#750f29 288px)"></i>
<i style="left:395px;top:724px;height:291.1px;background:linear-gradient(#1c6fbe 0,#3183be 47px,#9ac0d3 69px,#efebea 81px,#ead5cd 92px,#d89e89 125px,#ce8167 133px,#c6694c 138px,#b0312a 146px,#830f2a 157px,#6b0e25 172px,#620d21 218px,#680d24 266px,#750f29 291px)"></i>
<i style="left:397px;top:724px;height:290.2px;background:linear-gradient(#2478be 0,#438ebe 50px,#a2c4d5 73px,#efebea 86px,#d89e89 129px,#c6694c 141px,#b0312a 149px,#830f2a 160px,#6b0e25 175px,#620d21 221px,#680d24 265px,#750f29 290px)"></i>
<i style="left:399px;top:724px;height:286.8px;background:linear-gradient(#287dbe 0,#4d94be 45px,#a6c6d7 65px,#efebea 77px,#d89e89 127px,#ce8167 136px,#c6694c 141px,#b0312a 149px,#830f2a 160px,#6b0e25 175px,#620d21 221px,#680d24 262px,#750f29 287px)"></i>
<i style="left:401px;top:724px;height:284.1px;background:linear-gradient(#5298be 0,#6ea9c4 40px,#b7cedb 59px,#efebea 69px,#d89e89 124px,#c6694c 139px,#b0312a 147px,#830f2a 158px,#6b0e25 173px,#620d21 219px,#680d24 259px,#750f29 284px)"></i>
<i style="left:403px;top:724px;height:282.1px;background:linear-gradient(#71aac5 0,#b4ccda 22px,#d8e0e5 43px,#efebea 61px,#d89e89 120px,#ce8167 131px,#c6694c 137px,#b0312a 145px,#830f2a 156px,#6b0e25 171px,#620d21 217px,#680d24 257px,#750f29 282px)"></i>
<i style="left:405px;top:724px;height:280.8px;background:linear-gradient(#6ca7c3 0,#b1cbd9 20px,#d8e0e5 40px,#efebea 57px,#ead5cd 73px,#d89e89 121px,#ce8167 133px,#c6694c 139px,#b0312a 147px,#830f2a 158px,#6b0e25 173px,#620d21 219px,#680d24 256px,#750f29 281px)"></i>
<i style="left:407px;top:724px;height:278.2px;background:linear-gradient(#72abc5 0,#b4ccda 18px,#d8e0e5 35px,#efebea 50px,#ead5cd 67px,#d89e89 116px,#ce8167 128px,#c6694c 135px,#b0312a 143px,#830f2a 154px,#6b0e25 169px,#620d21 215px,#680d24 253px,#750f29 278px)"></i>
<i style="left:409px;top:724px;height:277.6px;background:linear-gradient(#7db1c9 0,#bacfdc 15px,#efebea 44px,#ead5cd 63px,#d89e89 119px,#ce8167 133px,#c6694c 140px,#b0312a 148px,#830f2a 159px,#6b0e25 174px,#620d21 220px,#680d24 253px,#750f29 278px)"></i>
<i style="left:411px;top:724px;height:279.8px;background:linear-gradient(#6ea9c4 0,#b2cbd9 16px,#d8e0e5 32px,#efebea 45px,#d89e89 123px,#ce8167 137px,#c6694c 145px,#b0312a 153px,#830f2a 164px,#6b0e25 179px,#620d21 225px,#680d24 255px,#750f29 280px)"></i>
<i style="left:413px;top:724px;height:279.7px;background:linear-gradient(#5b9dbe 0,#a7c6d7 16px,#d5dee4 31px,#efebea 45px,#ead5cd 64px,#d89e89 120px,#ce8167 133px,#c6694c 141px,#b0312a 149px,#830f2a 160px,#6b0e25 175px,#620d21 221px,#680d24 255px,#750f29 280px)"></i>
<i style="left:415px;top:724px;height:281.4px;background:linear-gradient(#67a5c1 0,#aecad8 15px,#d7dfe5 31px,#efebea 44px,#ead5cd 63px,#d89e89 120px,#ce8167 133px,#c6694c 141px,#b0312a 149px,#830f2a 160px,#6b0e25 175px,#620d21 221px,#680d24 256px,#750f29 281px)"></i>
<i style="left:417px;top:724px;height:283.2px;background:linear-gradient(#62a2bf 0,#abc8d8 16px,#d6dfe4 31px,#efebea 45px,#d89e89 118px,#ce8167 131px,#c6694c 139px,#b0312a 147px,#830f2a 158px,#6b0e25 173px,#620d21 219px,#680d24 258px,#750f29 283px)"></i>
<i style="left:419px;top:724px;height:282.8px;background:linear-gradient(#65a4c0 0,#adc9d8 16px,#d7dfe5 32px,#efebea 45px,#d89e89 118px,#ce8167 131px,#c6694c 139px,#b0312a 147px,#830f2a 158px,#6b0e25 173px,#620d21 219px,#680d24 258px,#750f29 283px)"></i>
<i style="left:421px;top:724px;height:284.5px;background:linear-gradient(#66a4c1 0,#adc9d8 16px,#d7dfe5 32px,#efebea 45px,#d89e89 117px,#ce8167 130px,#c6694c 137px,#b0312a 145px,#830f2a 156px,#6b0e25 171px,#620d21 217px,#680d24 259px,#750f29 284px)"></i>
<i style="left:423px;top:724px;height:286px;background:linear-gradient(#75acc6 0,#b6cdda 16px,#d9e0e5 32px,#efebea 46px,#d89e89 117px,#ce8167 130px,#c6694c 137px,#b0312a 145px,#830f2a 156px,#6b0e25 171px,#620d21 217px,#680d24 261px,#750f29 286px)"></i>
<i style="left:425px;top:724px;height:285.6px;background:linear-gradient(#7aafc8 0,#b9cfdb 17px,#dae1e5 34px,#efebea 49px,#d89e89 118px,#ce8167 131px,#c6694c 138px,#b0312a 146px,#830f2a 157px,#6b0e25 172px,#620d21 218px,#680d24 261px,#750f29 286px)"></i>
<i style="left:427px;top:724px;height:283.1px;background:linear-gradient(#72abc5 0,#b4ccda 20px,#d9e0e5 40px,#efebea 58px,#d89e89 123px,#ce8167 135px,#c6694c 142px,#b0312a 150px,#830f2a 161px,#6b0e25 176px,#620d21 222px,#680d24 258px,#750f29 283px)"></i>
<i style="left:429px;top:724px;height:282.7px;background:linear-gradient(#78aec7 0,#b7cedb 23px,#d9e1e5 45px,#efebea 64px,#ead5cd 79px,#d89e89 123px,#ce8167 134px,#c6694c 140px,#b0312a 148px,#830f2a 159px,#6b0e25 174px,#620d21 220px,#680d24 258px,#750f29 283px)"></i>
<i style="left:431px;top:724px;height:282.3px;background:linear-gradient(#6ba7c3 0,#b0cbd9 23px,#d7e0e5 47px,#efebea 67px,#ead5cd 80px,#d89e89 121px,#c6694c 136px,#b0312a 144px,#830f2a 155px,#6b0e25 170px,#620d21 216px,#680d24 257px,#750f29 282px)"></i>
<i style="left:433px;top:724px;height:281.8px;background:linear-gradient(#70aac4 0,#b3ccda 24px,#d8e0e5 49px,#efebea 70px,#d89e89 124px,#ce8167 134px,#c6694c 140px,#b0312a 148px,#830f2a 159px,#6b0e25 174px,#620d21 220px,#680d24 257px,#750f29 282px)"></i>
<i style="left:435px;top:724px;height:286.1px;background:linear-gradient(#5499be 0,#70a9c4 43px,#b8cedb 63px,#efebea 75px,#d89e89 122px,#ce8167 131px,#c6694c 136px,#b0312a 144px,#830f2a 155px,#6b0e25 170px,#620d21 216px,#680d24 261px,#750f29 286px)"></i>
<i style="left:437px;top:724px;height:292.1px;background:linear-gradient(#559abe 0,#70aac4 46px,#b8cedb 68px,#efebea 80px,#d89e89 122px,#ce8167 130px,#c6694c 134px,#b0312a 142px,#830f2a 153px,#6b0e25 168px,#620d21 214px,#680d24 267px,#750f29 292px)"></i>
<i style="left:439px;top:724px;height:296.7px;background:linear-gradient(#267bbe 0,#4992be 47px,#a4c5d6 70px,#efebea 82px,#ead5cd 92px,#d89e89 123px,#ce8167 130px,#c6694c 134px,#b0312a 142px,#830f2a 153px,#6b0e25 168px,#620d21 214px,#680d24 272px,#750f29 297px)"></i>
<i style="left:441px;top:724px;height:299.7px;background:linear-gradient(#2478be 0,#438ebe 47px,#a2c4d5 68px,#efebea 81px,#d89e89 124px,#c6694c 136px,#b0312a 144px,#830f2a 155px,#6b0e25 170px,#620d21 216px,#680d24 275px,#750f29 300px)"></i>
<i style="left:443px;top:722px;height:305.6px;background:linear-gradient(#1f72be 0,#3786be 50px,#9cc2d4 73px,#efebea 86px,#ead5cd 96px,#d89e89 127px,#ce8167 134px,#c6694c 138px,#b0312a 146px,#830f2a 157px,#6b0e25 172px,#620d21 218px,#680d24 281px,#750f29 306px)"></i>
<i style="left:445px;top:722px;height:307px;background:linear-gradient(#2478be 0,#438ebe 54px,#a1c4d5 80px,#efebea 94px,#ead5cd 103px,#d89e89 130px,#c6694c 140px,#b0312a 148px,#830f2a 159px,#6b0e25 174px,#620d21 220px,#680d24 282px,#750f29 307px)"></i>
<i style="left:447px;top:722px;height:306.6px;background:linear-gradient(#2275be 0,#3e8bbe 53px,#9fc3d5 78px,#efebea 92px,#d89e89 125px,#c6694c 134px,#b0312a 142px,#830f2a 153px,#6b0e25 168px,#620d21 214px,#680d24 282px,#750f29 307px)"></i>
<i style="left:449px;top:722px;height:306.6px;background:linear-gradient(#267bbe 0,#4992be 48px,#a4c5d6 70px,#efebea 82px,#d89e89 123px,#ce8167 130px,#c6694c 134px,#b0312a 142px,#830f2a 153px,#6b0e25 168px,#620d21 214px,#680d24 282px,#750f29 307px)"></i>
<i style="left:451px;top:722px;height:302.5px;background:linear-gradient(#287dbe 0,#4d94be 50px,#a6c6d7 74px,#efebea 87px,#d89e89 126px,#c6694c 138px,#b0312a 146px,#830f2a 157px,#6b0e25 172px,#620d21 218px,#680d24 278px,#750f29 303px)"></i>
<i style="left:453px;top:722px;height:296.6px;background:linear-gradient(#4891be 0,#67a4c1 52px,#b3ccda 76px,#efebea 90px,#ead5cd 99px,#d89e89 126px,#c6694c 136px,#b0312a 144px,#830f2a 155px,#6b0e25 170px,#620d21 216px,#680d24 272px,#750f29 297px)"></i>
<i style="left:455px;top:722px;height:290px;background:linear-gradient(#3f8cbe 0,#60a1bf 54px,#afcad9 79px,#efebea 93px,#ead5cd 100px,#d89e89 121px,#ce8167 126px,#c6694c 129px,#b0312a 137px,#830f2a 148px,#6b0e25 163px,#620d21 209px,#680d24 265px,#750f29 290px)"></i>
<i style="left:457px;top:722px;height:285.6px;background:linear-gradient(#4992be 0,#67a5c1 57px,#b3ccda 83px,#efebea 98px,#ead5cd 104px,#d89e89 122px,#ce8167 127px,#c6694c 129px,#b0312a 137px,#830f2a 148px,#6b0e25 163px,#620d21 209px,#680d24 261px,#750f29 286px)"></i>
<i style="left:459px;top:720px;height:283.6px;background:linear-gradient(#438ebe 0,#64a3c0 59px,#b1cbd9 86px,#efebea 101px,#d89e89 125px,#ce8167 130px,#c6694c 132px,#b0312a 140px,#830f2a 151px,#6b0e25 166px,#620d21 212px,#680d24 259px,#750f29 284px)"></i>
<i style="left:461px;top:720px;height:280.3px;background:linear-gradient(#64a3c0 0,#acc9d8 35px,#d6dfe5 69px,#efebea 99px,#ead5cd 106px,#d89e89 126px,#ce8167 131px,#c6694c 134px,#b0312a 142px,#830f2a 153px,#6b0e25 168px,#620d21 214px,#680d24 255px,#750f29 280px)"></i>
<i style="left:463px;top:720px;height:278.4px;background:linear-gradient(#73abc5 0,#b4cdda 33px,#d9e0e5 66px,#efebea 94px,#d89e89 124px,#ce8167 129px,#c6694c 132px,#b0312a 140px,#830f2a 151px,#6b0e25 166px,#620d21 212px,#680d24 253px,#750f29 278px)"></i>
<i style="left:465px;top:720px;height:275.1px;background:linear-gradient(#7fb2ca 0,#bbd0dc 30px,#efebea 87px,#ead5cd 96px,#d89e89 123px,#c6694c 133px,#b0312a 141px,#830f2a 152px,#6b0e25 167px,#620d21 213px,#680d24 250px,#750f29 275px)"></i>
<i style="left:467px;top:720px;height:270.9px;background:linear-gradient(#9fc3d5 0,#c8d7e0 29px,#efebea 84px,#d89e89 123px,#ce8167 130px,#c6694c 134px,#b0312a 142px,#830f2a 153px,#6b0e25 168px,#620d21 214px,#680d24 246px,#750f29 271px)"></i>
<i style="left:469px;top:720px;height:269.9px;background:linear-gradient(#a3c5d6 0,#cad8e1 28px,#efebea 81px,#d89e89 120px,#ce8167 127px,#c6694c 131px,#b0312a 139px,#830f2a 150px,#6b0e25 165px,#620d21 211px,#680d24 245px,#750f29 270px)"></i>
<i style="left:471px;top:720px;height:269.6px;background:linear-gradient(#99c0d3 0,#c6d6df 27px,#efebea 77px,#d89e89 123px,#ce8167 131px,#c6694c 135px,#b0312a 143px,#830f2a 154px,#6b0e25 169px,#620d21 215px,#680d24 245px,#750f29 270px)"></i>
<i style="left:473px;top:720px;height:268.6px;background:linear-gradient(#9fc3d5 0,#c8d7e0 28px,#efebea 79px,#d89e89 121px,#c6694c 133px,#b0312a 141px,#830f2a 152px,#6b0e25 167px,#620d21 213px,#680d24 244px,#750f29 269px)"></i>
<i style="left:475px;top:720px;height:266.2px;background:linear-gradient(#9ac1d3 0,#c6d6df 27px,#efebea 78px,#ead5cd 89px,#d89e89 123px,#ce8167 131px,#c6694c 135px,#b0312a 143px,#830f2a 154px,#6b0e25 169px,#620d21 215px,#680d24 241px,#750f29 266px)"></i>
<i style="left:477px;top:720px;height:265.3px;background:linear-gradient(#95bfd2 0,#c4d5df 25px,#efebea 71px,#d89e89 118px,#ce8167 127px,#c6694c 132px,#b0312a 140px,#830f2a 151px,#6b0e25 166px,#620d21 212px,#680d24 240px,#750f29 265px)"></i>
<i style="left:479px;top:720px;height:266.3px;background:linear-gradient(#8ab9ce 0,#c0d2dd 23px,#efebea 65px,#d89e89 119px,#ce8167 129px,#c6694c 135px,#b0312a 143px,#830f2a 154px,#6b0e25 169px,#620d21 215px,#680d24 241px,#750f29 266px)"></i>
<i style="left:481px;top:720px;height:265.9px;background:linear-gradient(#9cc2d4 0,#c7d7e0 20px,#efebea 56px,#d89e89 117px,#ce8167 128px,#c6694c 134px,#b0312a 142px,#830f2a 153px,#6b0e25 168px,#620d21 214px,#680d24 241px,#750f29 266px)"></i>
<i style="left:483px;top:720px;height:264.1px;background:linear-gradient(#9bc1d4 0,#c7d6e0 18px,#efebea 51px,#d89e89 117px,#ce8167 129px,#c6694c 136px,#b0312a 144px,#830f2a 155px,#6b0e25 170px,#620d21 216px,#750f29 264px)"></i>
<i style="left:485px;top:720px;height:263.8px;background:linear-gradient(#a0c3d5 0,#c8d7e0 17px,#efebea 49px,#d89e89 121px,#ce8167 134px,#c6694c 141px,#b0312a 149px,#830f2a 160px,#6b0e25 175px,#620d21 221px,#750f29 264px)"></i>
<i style="left:487px;top:720px;height:264.8px;background:linear-gradient(#94bed2 0,#c4d5df 15px,#efebea 44px,#d89e89 118px,#ce8167 131px,#c6694c 138px,#b0312a 146px,#830f2a 157px,#6b0e25 172px,#620d21 218px,#750f29 265px)"></i>
<i style="left:489px;top:720px;height:264.4px;background:linear-gradient(#8bb9cf 0,#c1d3de 15px,#efebea 43px,#ead5cd 62px,#d89e89 119px,#ce8167 133px,#c6694c 140px,#b0312a 148px,#830f2a 159px,#6b0e25 174px,#620d21 220px,#750f29 264px)"></i>
<i style="left:491px;top:720px;height:264px;background:linear-gradient(#8cb9cf 0,#c1d3de 14px,#efebea 41px,#ead5cd 60px,#d89e89 116px,#ce8167 129px,#c6694c 137px,#b0312a 145px,#830f2a 156px,#6b0e25 171px,#620d21 217px,#750f29 264px)"></i>
<i style="left:493px;top:720px;height:263.7px;background:linear-gradient(#98c0d3 0,#c6d6df 14px,#efebea 39px,#d89e89 116px,#ce8167 130px,#c6694c 138px,#b0312a 146px,#830f2a 157px,#6b0e25 172px,#620d21 218px,#750f29 264px)"></i>
<i style="left:495px;top:720px;height:263.3px;background:linear-gradient(#8ebbd0 0,#c2d3de 13px,#efebea 37px,#ead5cd 56px,#d89e89 113px,#ce8167 126px,#c6694c 134px,#b0312a 142px,#830f2a 153px,#6b0e25 168px,#620d21 214px,#750f29 263px)"></i>
<i style="left:497px;top:720px;height:262.9px;background:linear-gradient(#89b8ce 0,#c0d2dd 13px,#efebea 36px,#ead5cd 55px,#d89e89 112px,#ce8167 126px,#c6694c 134px,#b0312a 142px,#830f2a 153px,#6b0e25 168px,#620d21 214px,#750f29 263px)"></i>
<i style="left:499px;top:720px;height:262.9px;background:linear-gradient(#97bfd3 0,#c5d5df 14px,#efebea 40px,#d89e89 113px,#ce8167 126px,#c6694c 134px,#b0312a 142px,#830f2a 153px,#6b0e25 168px,#620d21 214px,#750f29 263px)"></i>
<i style="left:501px;top:720px;height:262.9px;background:linear-gradient(#93bdd1 0,#c3d4de 17px,#dee3e6 33px,#efebea 47px,#d89e89 115px,#ce8167 127px,#c6694c 134px,#b0312a 142px,#830f2a 153px,#6b0e25 168px,#620d21 214px,#750f29 263px)"></i>
<i style="left:503px;top:720px;height:264.3px;background:linear-gradient(#96bfd2 0,#c5d5df 18px,#efebea 51px,#ead5cd 67px,#d89e89 116px,#ce8167 128px,#c6694c 135px,#b0312a 143px,#830f2a 154px,#6b0e25 169px,#620d21 215px,#750f29 264px)"></i>
<i style="left:505px;top:720px;height:264.3px;background:linear-gradient(#87b7cd 0,#bfd2dd 17px,#dce2e6 34px,#efebea 49px,#d89e89 114px,#c6694c 132px,#b0312a 140px,#830f2a 151px,#6b0e25 166px,#620d21 212px,#680d24 239px,#750f29 264px)"></i>
<i style="left:507px;top:720px;height:263.6px;background:linear-gradient(#7eb2ca 0,#bbd0dc 17px,#efebea 48px,#d89e89 115px,#ce8167 127px,#c6694c 134px,#b0312a 142px,#830f2a 153px,#6b0e25 168px,#620d21 214px,#680d24 239px,#750f29 264px)"></i>
<i style="left:509px;top:720px;height:263.6px;background:linear-gradient(#87b7cd 0,#bfd2dd 17px,#efebea 47px,#d89e89 113px,#ce8167 125px,#c6694c 131px,#b0312a 139px,#830f2a 150px,#6b0e25 165px,#620d21 211px,#680d24 239px,#750f29 264px)"></i>
<i style="left:511px;top:720px;height:262.9px;background:linear-gradient(#8dbacf 0,#c1d3de 16px,#efebea 45px,#d89e89 115px,#c6694c 135px,#b0312a 143px,#830f2a 154px,#6b0e25 169px,#620d21 215px,#750f29 263px)"></i>
<i style="left:513px;top:720px;height:262.9px;background:linear-gradient(#88b7ce 0,#bfd2dd 14px,#efebea 41px,#d89e89 111px,#ce8167 123px,#c6694c 130px,#b0312a 138px,#830f2a 149px,#6b0e25 164px,#620d21 210px,#680d24 238px,#750f29 263px)"></i>
<i style="left:515px;top:720px;height:262.9px;background:linear-gradient(#86b6cd 0,#bed1dd 13px,#efebea 37px,#d89e89 110px,#ce8167 123px,#c6694c 130px,#b0312a 138px,#830f2a 149px,#6b0e25 164px,#620d21 210px,#680d24 238px,#750f29 263px)"></i>
<i style="left:517px;top:720px;height:264.2px;background:linear-gradient(#78aec7 0,#b7cedb 12px,#efebea 34px,#d89e89 112px,#ce8167 126px,#c6694c 134px,#b0312a 142px,#830f2a 153px,#6b0e25 168px,#620d21 214px,#680d24 239px,#750f29 264px)"></i>
<i style="left:519px;top:723px;height:263.9px;background:linear-gradient(#72abc5 0,#b4ccda 10px,#d9e0e5 21px,#efebea 30px,#ead5cd 49px,#d89e89 105px,#ce8167 119px,#c6694c 126px,#b0312a 134px,#830f2a 145px,#6b0e25 160px,#620d21 206px,#680d24 239px,#750f29 264px)"></i>
<i style="left:521px;top:723px;height:267.2px;background:linear-gradient(#438ebe 0,#64a3c0 19px,#b1cbd9 28px,#efebea 33px,#ead5cd 51px,#d89e89 105px,#ce8167 118px,#c6694c 126px,#b0312a 134px,#830f2a 145px,#6b0e25 160px,#620d21 206px,#680d24 242px,#750f29 267px)"></i>
<i style="left:523px;top:723px;height:271.3px;background:linear-gradient(#2175be 0,#3c8abe 24px,#9fc3d5 36px,#efebea 42px,#d89e89 108px,#ce8167 120px,#c6694c 127px,#b0312a 135px,#830f2a 146px,#6b0e25 161px,#620d21 207px,#680d24 246px,#750f29 271px)"></i>
<i style="left:525px;top:723px;height:272.3px;background:linear-gradient(#2073be 0,#3988be 30px,#9dc2d4 44px,#efebea 52px,#ead5cd 67px,#d89e89 111px,#ce8167 122px,#c6694c 128px,#b0312a 136px,#830f2a 147px,#6b0e25 162px,#620d21 208px,#680d24 247px,#750f29 272px)"></i>
<i style="left:527px;top:723px;height:270.5px;background:linear-gradient(#2073be 0,#3a88be 33px,#9dc2d4 48px,#efebea 56px,#d89e89 112px,#ce8167 122px,#c6694c 127px,#b0312a 135px,#830f2a 146px,#6b0e25 161px,#620d21 207px,#680d24 245px,#750f29 270px)"></i>
<i style="left:529px;top:723px;height:270px;background:linear-gradient(#2478be 0,#438ebe 32px,#a2c4d5 47px,#efebea 55px,#d89e89 109px,#ce8167 119px,#c6694c 124px,#b0312a 132px,#830f2a 143px,#6b0e25 158px,#620d21 204px,#680d24 245px,#750f29 270px)"></i>
<i style="left:531px;top:723px;height:270.9px;background:linear-gradient(#287dbe 0,#4d94be 24px,#a6c6d7 35px,#efebea 41px,#ead5cd 58px,#d89e89 108px,#ce8167 121px,#c6694c 127px,#b0312a 135px,#830f2a 146px,#6b0e25 161px,#620d21 207px,#680d24 246px,#750f29 271px)"></i>
<i style="left:533px;top:723px;height:270.5px;background:linear-gradient(#267abe 0,#4891be 21px,#a4c5d6 30px,#efebea 36px,#ead5cd 54px,#d89e89 108px,#ce8167 121px,#c6694c 129px,#b0312a 137px,#830f2a 148px,#6b0e25 163px,#620d21 209px,#680d24 245px,#750f29 270px)"></i>
<i style="left:535px;top:723px;height:271.4px;background:linear-gradient(#277cbe 0,#4b93be 20px,#a5c6d6 29px,#efebea 34px,#ead5cd 53px,#d89e89 109px,#ce8167 122px,#c6694c 130px,#b0312a 138px,#830f2a 149px,#6b0e25 164px,#620d21 210px,#680d24 246px,#750f29 271px)"></i>
<i style="left:537px;top:723px;height:271px;background:linear-gradient(#287dbe 0,#4d95be 20px,#a6c6d7 29px,#efebea 34px,#ead5cd 52px,#d89e89 107px,#ce8167 120px,#c6694c 127px,#b0312a 135px,#830f2a 146px,#6b0e25 161px,#620d21 207px,#680d24 246px,#750f29 271px)"></i>
<i style="left:539px;top:723px;height:270.5px;background:linear-gradient(#2d80be 0,#5197be 23px,#a8c7d7 34px,#efebea 40px,#d89e89 108px,#ce8167 120px,#c6694c 127px,#b0312a 135px,#830f2a 146px,#6b0e25 161px,#620d21 207px,#680d24 245px,#750f29 270px)"></i>
<i style="left:541px;top:723px;height:270.9px;background:linear-gradient(#3a88be 0,#5c9ebe 28px,#adc9d8 40px,#efebea 47px,#d89e89 108px,#ce8167 119px,#c6694c 125px,#b0312a 133px,#830f2a 144px,#6b0e25 159px,#620d21 205px,#680d24 246px,#750f29 271px)"></i>
<i style="left:543px;top:723px;height:271.5px;background:linear-gradient(#3d8bbe 0,#5fa0be 29px,#afcad9 43px,#efebea 50px,#ead5cd 66px,#d89e89 114px,#c6694c 132px,#b0312a 140px,#830f2a 151px,#6b0e25 166px,#620d21 212px,#680d24 246px,#750f29 272px)"></i>
<i style="left:545px;top:723px;height:273.5px;background:linear-gradient(#3d8abe 0,#5fa0be 32px,#aecad9 47px,#efebea 55px,#ead5cd 70px,#d89e89 115px,#ce8167 126px,#c6694c 132px,#b0312a 140px,#830f2a 151px,#6b0e25 166px,#620d21 212px,#680d24 248px,#750f29 274px)"></i>
<i style="left:547px;top:723px;height:276.9px;background:linear-gradient(#3082be 0,#5499be 37px,#a9c8d7 55px,#efebea 65px,#ead5cd 78px,#d89e89 117px,#ce8167 127px,#c6694c 132px,#b0312a 140px,#830f2a 151px,#6b0e25 166px,#620d21 212px,#680d24 252px,#750f29 277px)"></i>
<i style="left:549px;top:723px;height:276.7px;background:linear-gradient(#3485be 0,#579bbe 34px,#abc8d8 50px,#efebea 58px,#d89e89 112px,#ce8167 122px,#c6694c 128px,#b0312a 136px,#830f2a 147px,#6b0e25 162px,#620d21 208px,#680d24 252px,#750f29 277px)"></i>
<i style="left:551px;top:723px;height:274.7px;background:linear-gradient(#3e8bbe 0,#60a0be 44px,#afcad9 64px,#efebea 76px,#d89e89 114px,#c6694c 124px,#b0312a 132px,#830f2a 143px,#6b0e25 158px,#620d21 204px,#680d24 250px,#750f29 275px)"></i>
<i style="left:553px;top:723px;height:272.7px;background:linear-gradient(#3c8abe 0,#5e9fbe 49px,#aecad9 72px,#efebea 85px,#d89e89 119px,#ce8167 125px,#c6694c 128px,#b0312a 136px,#830f2a 147px,#6b0e25 162px,#620d21 208px,#680d24 248px,#750f29 273px)"></i>
<i style="left:555px;top:723px;height:267.9px;background:linear-gradient(#2e81be 0,#5398be 52px,#a9c7d7 76px,#efebea 89px,#d89e89 123px,#c6694c 133px,#b0312a 141px,#830f2a 152px,#6b0e25 167px,#620d21 213px,#680d24 243px,#750f29 268px)"></i>
<i style="left:557px;top:723px;height:268.4px;background:linear-gradient(#2b7fbe 0,#5096be 51px,#a8c7d7 74px,#efebea 87px,#d89e89 117px,#ce8167 122px,#c6694c 125px,#b0312a 133px,#830f2a 144px,#6b0e25 159px,#620d21 205px,#680d24 243px,#750f29 268px)"></i>
<i style="left:559px;top:723px;height:269.7px;background:linear-gradient(#2d80be 0,#5297be 49px,#a8c7d7 72px,#efebea 85px,#d89e89 115px,#ce8167 120px,#c6694c 123px,#b0312a 131px,#830f2a 142px,#6b0e25 157px,#620d21 203px,#680d24 245px,#750f29 270px)"></i>
<i style="left:561px;top:723px;height:271px;background:linear-gradient(#438ebe 0,#63a2c0 45px,#b1cbd9 66px,#efebea 77px,#ead5cd 88px,#d89e89 120px,#c6694c 132px,#b0312a 140px,#830f2a 151px,#6b0e25 166px,#620d21 212px,#680d24 246px,#750f29 271px)"></i>
<i style="left:563px;top:723px;height:273.8px;background:linear-gradient(#4f96be 0,#6ca7c3 43px,#b6cdda 62px,#efebea 73px,#d89e89 117px,#ce8167 125px,#c6694c 130px,#b0312a 138px,#830f2a 149px,#6b0e25 164px,#620d21 210px,#680d24 249px,#750f29 274px)"></i>
<i style="left:565px;top:723px;height:273.4px;background:linear-gradient(#4e95be 0,#6ba7c2 41px,#b5cdda 60px,#efebea 71px,#d89e89 118px,#ce8167 127px,#c6694c 132px,#b0312a 140px,#830f2a 151px,#6b0e25 166px,#620d21 212px,#680d24 248px,#750f29 273px)"></i>
<i style="left:567px;top:723px;height:273.6px;background:linear-gradient(#4d95be 0,#6ba7c2 46px,#b5cdda 68px,#efebea 80px,#ead5cd 89px,#d89e89 116px,#c6694c 126px,#b0312a 134px,#830f2a 145px,#6b0e25 160px,#620d21 206px,#680d24 249px,#750f29 274px)"></i>
<i style="left:569px;top:723px;height:273.1px;background:linear-gradient(#5197be 0,#6da8c3 44px,#b6cddb 64px,#efebea 76px,#ead5cd 86px,#d89e89 116px,#c6694c 128px,#b0312a 136px,#830f2a 147px,#6b0e25 162px,#620d21 208px,#680d24 248px,#750f29 273px)"></i>
<i style="left:571px;top:723px;height:271.2px;background:linear-gradient(#2479be 0,#448fbe 40px,#a2c4d6 59px,#efebea 69px,#d89e89 117px,#ce8167 126px,#c6694c 130px,#b0312a 138px,#830f2a 149px,#6b0e25 164px,#620d21 210px,#680d24 246px,#750f29 271px)"></i>
<i style="left:573px;top:723px;height:270.7px;background:linear-gradient(#1c6ebe 0,#3082be 45px,#99c0d3 66px,#efebea 78px,#ead5cd 89px,#d89e89 121px,#ce8167 129px,#c6694c 134px,#b0312a 142px,#830f2a 153px,#6b0e25 168px,#620d21 214px,#680d24 246px,#750f29 271px)"></i>
<i style="left:575px;top:723px;height:303.8px;background:linear-gradient(#1262be 0,#2276be 65px,#8ebbd0 96px,#efebea 113px,#ead5cd 117px,#e1b9aa 125px,#d89e89 131px,#ce8167 135px,#c6694c 137px,#b0312a 145px,#830f2a 156px,#6b0e25 171px,#620d21 217px,#680d24 279px,#750f29 304px)"></i>
<i style="left:577px;top:723px;height:291.1px;background:linear-gradient(#224ab0 0,#1668be 44px,#80b3ca 64px,#efebea 76px,#d89e89 127px,#ce8167 136px,#c6694c 141px,#b0312a 149px,#830f2a 160px,#6b0e25 175px,#620d21 221px,#680d24 266px,#750f29 291px)"></i>
<i style="left:579px;top:723px;height:282.5px;background:linear-gradient(#273893 0,#1558b9 51px,#72abc5 75px,#efebea 88px,#ead5cd 98px,#d89e89 128px,#ce8167 135px,#c6694c 139px,#b0312a 147px,#830f2a 158px,#6b0e25 173px,#620d21 219px,#680d24 258px,#750f29 283px)"></i>
<i style="left:581px;top:723px;height:283.7px;background:linear-gradient(#293ea2 0,#1060be 50px,#78aec7 73px,#efebea 86px,#d89e89 124px,#ce8167 131px,#c6694c 135px,#b0312a 143px,#830f2a 154px,#6b0e25 169px,#620d21 215px,#680d24 259px,#750f29 284px)"></i>
<i style="left:583px;top:723px;height:284.8px;background:linear-gradient(#283d9f 0,#0f5fbe 45px,#77adc7 66px,#efebea 78px,#ead5cd 89px,#d89e89 122px,#ce8167 130px,#c6694c 135px,#b0312a 143px,#830f2a 154px,#6b0e25 169px,#620d21 215px,#680d24 260px,#750f29 285px)"></i>
<i style="left:585px;top:723px;height:286px;background:linear-gradient(#224ab0 0,#1668be 49px,#80b2ca 71px,#efebea 84px,#ead5cd 93px,#d89e89 120px,#ce8167 127px,#c6694c 130px,#b0312a 138px,#830f2a 149px,#6b0e25 164px,#620d21 210px,#680d24 261px,#750f29 286px)"></i>
<i style="left:587px;top:723px;height:286.4px;background:linear-gradient(#115cbc 0,#1f72be 42px,#8ab8ce 62px,#efebea 72px,#d89e89 117px,#ce8167 125px,#c6694c 129px,#b0312a 137px,#830f2a 148px,#6b0e25 163px,#620d21 209px,#680d24 261px,#750f29 286px)"></i>
<i style="left:589px;top:723px;height:284.3px;background:linear-gradient(#1364be 0,#2378be 28px,#90bcd0 41px,#efebea 48px,#ead5cd 64px,#d89e89 112px,#c6694c 130px,#b0312a 138px,#830f2a 149px,#6b0e25 164px,#620d21 210px,#680d24 259px,#750f29 284px)"></i>
<i style="left:591px;top:723px;height:280.9px;background:linear-gradient(#196bbe 0,#297ebe 11px,#96bfd2 16px,#efebea 19px,#ead5cd 41px,#d89e89 107px,#ce8167 122px,#c6694c 131px,#b0312a 139px,#830f2a 150px,#6b0e25 165px,#620d21 211px,#680d24 256px,#750f29 281px)"></i>
<i style="left:593px;top:723px;height:278.2px;background:linear-gradient(#1f73be 0,#3988be 13px,#9dc2d4 20px,#efebea 23px,#d89e89 112px,#ce8167 129px,#c6694c 138px,#b0312a 146px,#830f2a 157px,#6b0e25 172px,#620d21 218px,#680d24 253px,#750f29 278px)"></i>
<i style="left:595px;top:723px;height:276.6px;background:linear-gradient(#2074be 0,#3b89be 19px,#9ec2d4 27px,#efebea 32px,#d89e89 112px,#ce8167 127px,#c6694c 135px,#b0312a 143px,#830f2a 154px,#6b0e25 169px,#620d21 215px,#680d24 252px,#750f29 277px)"></i>
<i style="left:597px;top:723px;height:280.1px;background:linear-gradient(#2073be 0,#3a88be 28px,#9dc2d4 41px,#efebea 48px,#d89e89 113px,#ce8167 125px,#c6694c 132px,#b0312a 140px,#830f2a 151px,#6b0e25 166px,#620d21 212px,#680d24 255px,#750f29 280px)"></i>
<i style="left:599px;top:723px;height:285px;background:linear-gradient(#1f72be 0,#3887be 29px,#9cc2d4 43px,#efebea 50px,#ead5cd 66px,#d89e89 114px,#c6694c 132px,#b0312a 140px,#830f2a 151px,#6b0e25 166px,#620d21 212px,#680d24 260px,#750f29 285px)"></i>
<i style="left:601px;top:723px;height:285.4px;background:linear-gradient(#1d70be 0,#3384be 28px,#9bc1d4 41px,#efebea 48px,#d89e89 114px,#ce8167 126px,#c6694c 133px,#b0312a 141px,#830f2a 152px,#6b0e25 167px,#620d21 213px,#680d24 260px,#750f29 285px)"></i>
<i style="left:603px;top:723px;height:281.3px;background:linear-gradient(#1c6fbe 0,#3183be 26px,#9ac1d3 38px,#efebea 44px,#d89e89 115px,#ce8167 127px,#c6694c 134px,#b0312a 142px,#830f2a 153px,#6b0e25 168px,#620d21 214px,#680d24 256px,#750f29 281px)"></i>
<i style="left:605px;top:723px;height:283.2px;background:linear-gradient(#1b6dbe 0,#2d80be 27px,#98c0d3 40px,#efebea 47px,#ead5cd 64px,#d89e89 115px,#ce8167 127px,#c6694c 134px,#b0312a 142px,#830f2a 153px,#6b0e25 168px,#620d21 214px,#680d24 258px,#750f29 283px)"></i>
<i style="left:607px;top:723px;height:286.7px;background:linear-gradient(#1c6fbe 0,#3183be 28px,#99c0d3 41px,#efebea 48px,#d89e89 113px,#ce8167 125px,#c6694c 132px,#b0312a 140px,#830f2a 151px,#6b0e25 166px,#620d21 212px,#680d24 262px,#750f29 287px)"></i>
<i style="left:609px;top:723px;height:282.3px;background:linear-gradient(#2073be 0,#3a88be 26px,#9ec2d4 38px,#efebea 44px,#d89e89 112px,#ce8167 124px,#c6694c 131px,#b0312a 139px,#830f2a 150px,#6b0e25 165px,#620d21 211px,#680d24 257px,#750f29 282px)"></i>
<i style="left:611px;top:723px;height:278px;background:linear-gradient(#1c6ebe 0,#3082be 21px,#99c0d3 31px,#efebea 36px,#ead5cd 55px,#d89e89 111px,#ce8167 124px,#c6694c 132px,#b0312a 140px,#830f2a 151px,#6b0e25 166px,#620d21 212px,#680d24 253px,#750f29 278px)"></i>
<i style="left:613px;top:723px;height:273.6px;background:linear-gradient(#267abe 0,#4791be 18px,#a4c5d6 27px,#efebea 32px,#d89e89 114px,#c6694c 137px,#b0312a 145px,#830f2a 156px,#6b0e25 171px,#620d21 217px,#680d24 249px,#750f29 274px)"></i>
<i style="left:615px;top:723px;height:268.7px;background:linear-gradient(#3484be 0,#579bbe 20px,#abc8d8 29px,#efebea 34px,#d89e89 112px,#ce8167 126px,#c6694c 134px,#b0312a 142px,#830f2a 153px,#6b0e25 168px,#620d21 214px,#680d24 244px,#750f29 269px)"></i>
<i style="left:617px;top:723px;height:268.9px;background:linear-gradient(#2a7ebe 0,#4f96be 21px,#a7c7d7 31px,#efebea 37px,#ead5cd 56px,#d89e89 112px,#ce8167 125px,#c6694c 133px,#b0312a 141px,#830f2a 152px,#6b0e25 167px,#620d21 213px,#680d24 244px,#750f29 269px)"></i>
<i style="left:619px;top:723px;height:269.8px;background:linear-gradient(#3686be 0,#599cbe 22px,#acc9d8 32px,#efebea 38px,#d89e89 112px,#ce8167 125px,#c6694c 133px,#b0312a 141px,#830f2a 152px,#6b0e25 167px,#620d21 213px,#680d24 245px,#750f29 270px)"></i>
<i style="left:621px;top:723px;height:270px;background:linear-gradient(#2a7ebe 0,#4f96be 23px,#a7c7d7 33px,#efebea 39px,#d89e89 112px,#ce8167 125px,#c6694c 133px,#b0312a 141px,#830f2a 152px,#6b0e25 167px,#620d21 213px,#680d24 245px,#750f29 270px)"></i>
<i style="left:623px;top:723px;height:269.5px;background:linear-gradient(#2d80be 0,#5297be 23px,#a8c7d7 34px,#efebea 39px,#d89e89 115px,#ce8167 128px,#c6694c 136px,#b0312a 144px,#830f2a 155px,#6b0e25 170px,#620d21 216px,#680d24 245px,#750f29 270px)"></i>
<i style="left:625px;top:723px;height:269.7px;background:linear-gradient(#3686be 0,#599cbe 23px,#acc9d8 34px,#efebea 40px,#ead5cd 59px,#d89e89 116px,#ce8167 129px,#c6694c 137px,#b0312a 145px,#830f2a 156px,#6b0e25 171px,#620d21 217px,#680d24 245px,#750f29 270px)"></i>
<i style="left:627px;top:723px;height:270.7px;background:linear-gradient(#3988be 0,#5c9ebe 22px,#adc9d8 32px,#efebea 38px,#d89e89 117px,#ce8167 131px,#c6694c 139px,#b0312a 147px,#830f2a 158px,#6b0e25 173px,#620d21 219px,#680d24 246px,#750f29 271px)"></i>
<i style="left:629px;top:723px;height:271.5px;background:linear-gradient(#2f82be 0,#5399be 20px,#a9c8d7 30px,#efebea 35px,#d89e89 113px,#ce8167 126px,#c6694c 134px,#b0312a 142px,#830f2a 153px,#6b0e25 168px,#620d21 214px,#680d24 246px,#750f29 271px)"></i>
<i style="left:631px;top:723px;height:272.2px;background:linear-gradient(#3a89be 0,#5c9ebe 19px,#adc9d8 27px,#efebea 32px,#d89e89 112px,#ce8167 126px,#c6694c 134px,#b0312a 142px,#830f2a 153px,#6b0e25 168px,#620d21 214px,#680d24 247px,#750f29 272px)"></i>
<i style="left:633px;top:723px;height:273px;background:linear-gradient(#3b89be 0,#5e9fbe 21px,#aecad8 30px,#efebea 36px,#d89e89 115px,#ce8167 129px,#c6694c 137px,#b0312a 145px,#830f2a 156px,#6b0e25 171px,#620d21 217px,#680d24 248px,#750f29 273px)"></i>
<i style="left:635px;top:723px;height:275.8px;background:linear-gradient(#2e81be 0,#5298be 22px,#a9c7d7 32px,#efebea 37px,#d89e89 118px,#ce8167 133px,#c6694c 141px,#b0312a 149px,#830f2a 160px,#6b0e25 175px,#620d21 221px,#680d24 251px,#750f29 276px)"></i>
<i style="left:637px;top:723px;height:276.6px;background:linear-gradient(#3384be 0,#569bbe 20px,#abc8d8 29px,#efebea 34px,#ead5cd 55px,#d89e89 117px,#ce8167 132px,#c6694c 140px,#b0312a 148px,#830f2a 159px,#6b0e25 174px,#620d21 220px,#680d24 252px,#750f29 277px)"></i>
<i style="left:639px;top:723px;height:276.2px;background:linear-gradient(#2c7fbe 0,#5097be 17px,#a8c7d7 25px,#efebea 29px,#ead5cd 50px,#d89e89 112px,#ce8167 127px,#c6694c 136px,#b0312a 144px,#830f2a 155px,#6b0e25 170px,#620d21 216px,#680d24 251px,#750f29 276px)"></i>
<i style="left:641px;top:723px;height:277.2px;background:linear-gradient(#2276be 0,#3f8cbe 15px,#a0c3d5 22px,#efebea 26px,#d89e89 113px,#ce8167 129px,#c6694c 138px,#b0312a 146px,#830f2a 157px,#6b0e25 172px,#620d21 218px,#680d24 252px,#750f29 277px)"></i>
<i style="left:643px;top:723px;height:279.6px;background:linear-gradient(#2276be 0,#408cbe 16px,#a0c3d5 24px,#efebea 28px,#d89e89 109px,#ce8167 124px,#c6694c 132px,#b0312a 140px,#830f2a 151px,#6b0e25 166px,#620d21 212px,#680d24 255px,#750f29 280px)"></i>
<i style="left:645px;top:723px;height:280.6px;background:linear-gradient(#1f73be 0,#3988be 16px,#9dc2d4 24px,#efebea 28px,#ead5cd 49px,#d89e89 111px,#c6694c 134px,#b0312a 142px,#830f2a 153px,#6b0e25 168px,#620d21 214px,#680d24 256px,#750f29 281px)"></i>
<i style="left:647px;top:723px;height:279.5px;background:linear-gradient(#2579be 0,#4690be 18px,#a3c5d6 26px,#efebea 30px,#ead5cd 51px,#d89e89 112px,#ce8167 127px,#c6694c 135px,#b0312a 143px,#830f2a 154px,#6b0e25 169px,#620d21 215px,#680d24 254px,#750f29 280px)"></i>
<i style="left:649px;top:723px;height:277.8px;background:linear-gradient(#2579be 0,#4590be 23px,#a3c5d6 34px,#efebea 40px,#ead5cd 59px,#d89e89 115px,#ce8167 128px,#c6694c 136px,#b0312a 144px,#830f2a 155px,#6b0e25 170px,#620d21 216px,#680d24 253px,#750f29 278px)"></i>
<i style="left:651px;top:723px;height:275.5px;background:linear-gradient(#297dbe 0,#4e95be 28px,#a7c6d7 41px,#efebea 49px,#ead5cd 65px,#d89e89 114px,#ce8167 126px,#c6694c 133px,#b0312a 141px,#830f2a 152px,#6b0e25 167px,#620d21 213px,#680d24 250px,#750f29 275px)"></i>
<i style="left:653px;top:723px;height:273.8px;background:linear-gradient(#2e81be 0,#5398be 33px,#a9c7d7 49px,#efebea 57px,#d89e89 118px,#c6694c 135px,#b0312a 143px,#830f2a 154px,#6b0e25 169px,#620d21 215px,#680d24 249px,#750f29 274px)"></i>
<i style="left:655px;top:723px;height:274px;background:linear-gradient(#3585be 0,#589cbe 36px,#abc8d8 53px,#efebea 63px,#d89e89 120px,#ce8167 131px,#c6694c 137px,#b0312a 145px,#830f2a 156px,#6b0e25 171px,#620d21 217px,#680d24 249px,#750f29 274px)"></i>
<i style="left:657px;top:723px;height:281.3px;background:linear-gradient(#2e81be 0,#5398be 41px,#a9c7d7 60px,#efebea 70px,#d89e89 120px,#ce8167 129px,#c6694c 134px,#b0312a 142px,#830f2a 153px,#6b0e25 168px,#620d21 214px,#680d24 256px,#750f29 281px)"></i>
<i style="left:659px;top:723px;height:290.8px;background:linear-gradient(#5096be 0,#6ca8c3 45px,#b6cdda 65px,#efebea 77px,#ead5cd 88px,#d89e89 121px,#ce8167 129px,#c6694c 134px,#b0312a 142px,#830f2a 153px,#6b0e25 168px,#620d21 214px,#680d24 266px,#750f29 291px)"></i>
<i style="left:661px;top:720px;height:301.2px;background:linear-gradient(#6ba7c2 0,#b0cad9 29px,#d7e0e5 58px,#efebea 82px,#d89e89 119px,#c6694c 129px,#b0312a 137px,#830f2a 148px,#6b0e25 163px,#620d21 209px,#680d24 276px,#750f29 301px)"></i>
<i style="left:663px;top:720px;height:291px;background:linear-gradient(#7eb1ca 0,#bbcfdc 25px,#efebea 72px,#d89e89 109px,#ce8167 116px,#c6694c 119px,#b0312a 127px,#830f2a 138px,#6b0e25 153px,#620d21 199px,#680d24 266px,#750f29 291px)"></i>
<i style="left:665px;top:720px;height:277.7px;background:linear-gradient(#84b5cc 0,#bdd1dc 26px,#efebea 76px,#ead5cd 84px,#d89e89 109px,#ce8167 115px,#c6694c 118px,#b0312a 126px,#830f2a 137px,#6b0e25 152px,#620d21 198px,#680d24 253px,#750f29 278px)"></i>
<i style="left:667px;top:720px;height:272.9px;background:linear-gradient(#8cbacf 0,#c1d3de 25px,#dde2e6 49px,#efebea 71px,#d89e89 109px,#ce8167 116px,#c6694c 120px,#b0312a 128px,#830f2a 139px,#6b0e25 154px,#620d21 200px,#680d24 248px,#750f29 273px)"></i>
<i style="left:669px;top:720px;height:272.2px;background:linear-gradient(#92bdd1 0,#c3d4de 19px,#efebea 55px,#d89e89 109px,#ce8167 119px,#c6694c 125px,#b0312a 133px,#830f2a 144px,#6b0e25 159px,#620d21 205px,#680d24 247px,#750f29 272px)"></i>
<i style="left:671px;top:720px;height:268.8px;background:linear-gradient(#90bcd0 0,#c2d4de 17px,#efebea 48px,#ead5cd 63px,#d89e89 108px,#ce8167 118px,#c6694c 124px,#b0312a 132px,#830f2a 143px,#6b0e25 158px,#620d21 204px,#680d24 244px,#750f29 269px)"></i>
<i style="left:673px;top:720px;height:268.1px;background:linear-gradient(#8ebbd0 0,#c2d3de 15px,#efebea 42px,#ead5cd 59px,#d89e89 109px,#c6694c 127px,#b0312a 135px,#830f2a 146px,#6b0e25 161px,#620d21 207px,#680d24 243px,#750f29 268px)"></i>
<i style="left:675px;top:720px;height:270.2px;background:linear-gradient(#8cbacf 0,#c1d3de 14px,#efebea 40px,#d89e89 105px,#c6694c 123px,#b0312a 131px,#830f2a 142px,#6b0e25 157px,#620d21 203px,#680d24 245px,#750f29 270px)"></i>
<i style="left:677px;top:720px;height:269.6px;background:linear-gradient(#8ebbd0 0,#c2d3de 15px,#dde2e6 29px,#efebea 42px,#ead5cd 58px,#d89e89 106px,#c6694c 124px,#b0312a 132px,#830f2a 143px,#6b0e25 158px,#620d21 204px,#680d24 245px,#750f29 270px)"></i>
<i style="left:679px;top:720px;height:264.9px;background:linear-gradient(#97bfd3 0,#c5d5df 16px,#efebea 45px,#d89e89 106px,#ce8167 117px,#c6694c 123px,#b0312a 131px,#830f2a 142px,#6b0e25 157px,#620d21 203px,#680d24 240px,#750f29 265px)"></i>
<i style="left:681px;top:720px;height:262.6px;background:linear-gradient(#9ac0d3 0,#c6d6df 13px,#efebea 37px,#d89e89 106px,#ce8167 118px,#c6694c 125px,#b0312a 133px,#830f2a 144px,#6b0e25 159px,#620d21 205px,#680d24 238px,#750f29 263px)"></i>
<i style="left:683px;top:720px;height:263.5px;background:linear-gradient(#87b6cd 0,#bfd2dd 8px,#efebea 24px,#d89e89 101px,#ce8167 115px,#c6694c 122px,#b0312a 130px,#830f2a 141px,#6b0e25 156px,#620d21 202px,#680d24 238px,#750f29 264px)"></i>
<i style="left:685px;top:720px;height:263.5px;background:linear-gradient(#8ab8ce 0,#c0d2dd 16px,#dce2e6 31px,#efebea 45px,#ead5cd 60px,#d89e89 104px,#ce8167 115px,#c6694c 121px,#b0312a 129px,#830f2a 140px,#6b0e25 155px,#620d21 201px,#680d24 238px,#750f29 264px)"></i>
<i style="left:687px;top:720px;height:263.5px;background:linear-gradient(#93bdd2 0,#c3d4de 21px,#efebea 60px,#d89e89 105px,#ce8167 113px,#c6694c 117px,#b0312a 125px,#830f2a 136px,#6b0e25 151px,#620d21 197px,#680d24 238px,#750f29 264px)"></i>
<i style="left:689px;top:720px;height:263.5px;background:linear-gradient(#90bcd1 0,#c2d4de 22px,#efebea 63px,#d89e89 108px,#ce8167 117px,#c6694c 121px,#b0312a 129px,#830f2a 140px,#6b0e25 155px,#620d21 201px,#680d24 238px,#750f29 264px)"></i>
<i style="left:691px;top:720px;height:262.1px;background:linear-gradient(#8ebad0 0,#c1d3de 19px,#efebea 55px,#d89e89 109px,#ce8167 119px,#c6694c 124px,#b0312a 132px,#830f2a 143px,#6b0e25 158px,#620d21 204px,#680d24 237px,#750f29 262px)"></i>
<i style="left:693px;top:720px;height:262.1px;background:linear-gradient(#88b7ce 0,#bfd2dd 17px,#efebea 49px,#d89e89 106px,#ce8167 116px,#c6694c 122px,#b0312a 130px,#830f2a 141px,#6b0e25 156px,#620d21 202px,#680d24 237px,#750f29 262px)"></i>
<i style="left:695px;top:720px;height:262.1px;background:linear-gradient(#8cbacf 0,#c1d3de 16px,#efebea 44px,#d89e89 106px,#ce8167 117px,#c6694c 123px,#b0312a 131px,#830f2a 142px,#6b0e25 157px,#620d21 203px,#680d24 237px,#750f29 262px)"></i>
<i style="left:697px;top:720px;height:262.1px;background:linear-gradient(#85b5cc 0,#bed1dd 17px,#efebea 48px,#d89e89 105px,#ce8167 115px,#c6694c 121px,#b0312a 129px,#830f2a 140px,#6b0e25 155px,#620d21 201px,#680d24 237px,#750f29 262px)"></i>
<i style="left:699px;top:720px;height:263.5px;background:linear-gradient(#88b7cd 0,#bfd2dd 18px,#efebea 53px,#ead5cd 66px,#d89e89 107px,#c6694c 122px,#b0312a 130px,#830f2a 141px,#6b0e25 156px,#620d21 202px,#680d24 238px,#750f29 264px)"></i>
<i style="left:701px;top:720px;height:263.5px;background:linear-gradient(#79afc8 0,#b8cedb 18px,#dae1e5 37px,#efebea 53px,#ead5cd 67px,#d89e89 109px,#ce8167 119px,#c6694c 125px,#b0312a 133px,#830f2a 144px,#6b0e25 159px,#620d21 205px,#680d24 238px,#750f29 264px)"></i>
<i style="left:703px;top:720px;height:263.8px;background:linear-gradient(#5298be 0,#6ea9c4 29px,#b7cedb 43px,#efebea 51px,#d89e89 109px,#ce8167 120px,#c6694c 126px,#b0312a 134px,#830f2a 145px,#6b0e25 160px,#620d21 206px,#680d24 239px,#750f29 264px)"></i>
<i style="left:705px;top:722px;height:266.8px;background:linear-gradient(#297ebe 0,#4e95be 27px,#a7c6d7 39px,#efebea 46px,#d89e89 105px,#ce8167 115px,#c6694c 121px,#b0312a 129px,#830f2a 140px,#6b0e25 155px,#620d21 201px,#680d24 242px,#750f29 267px)"></i>
<i style="left:707px;top:722px;height:271.8px;background:linear-gradient(#1b6ebe 0,#2f81be 34px,#98c0d3 50px,#efebea 59px,#d89e89 108px,#ce8167 117px,#c6694c 122px,#b0312a 130px,#830f2a 141px,#6b0e25 156px,#620d21 202px,#680d24 247px,#750f29 272px)"></i>
<i style="left:709px;top:722px;height:276.8px;background:linear-gradient(#1061be 0,#2175be 32px,#8dbacf 47px,#efebea 56px,#ead5cd 68px,#d89e89 105px,#ce8167 114px,#c6694c 119px,#b0312a 127px,#830f2a 138px,#6b0e25 153px,#620d21 199px,#680d24 252px,#750f29 277px)"></i>
<i style="left:711px;top:722px;height:273.8px;background:linear-gradient(#1464be 0,#2478be 18px,#90bcd1 26px,#efebea 30px,#d89e89 98px,#ce8167 110px,#c6694c 117px,#b0312a 125px,#830f2a 136px,#6b0e25 151px,#620d21 197px,#680d24 249px,#750f29 274px)"></i>
<i style="left:713px;top:722px;height:272.7px;background:linear-gradient(#1465be 0,#2478be 22px,#91bcd1 32px,#efebea 37px,#d89e89 103px,#c6694c 121px,#b0312a 129px,#830f2a 140px,#6b0e25 155px,#620d21 201px,#680d24 248px,#750f29 273px)"></i>
<i style="left:715px;top:722px;height:271.5px;background:linear-gradient(#1768be 0,#277bbe 34px,#94bed2 50px,#efebea 59px,#ead5cd 70px,#d89e89 103px,#ce8167 111px,#c6694c 116px,#b0312a 124px,#830f2a 135px,#6b0e25 150px,#620d21 196px,#680d24 247px,#750f29 272px)"></i>
<i style="left:717px;top:722px;height:270.4px;background:linear-gradient(#1667be 0,#267bbe 44px,#93bdd2 64px,#efebea 75px,#d89e89 106px,#ce8167 112px,#c6694c 115px,#b0312a 123px,#830f2a 134px,#6b0e25 149px,#620d21 195px,#680d24 245px,#750f29 270px)"></i>
<i style="left:719px;top:722px;height:270.7px;background:linear-gradient(#1667be 0,#267abe 32px,#92bdd1 47px,#efebea 56px,#ead5cd 68px,#d89e89 104px,#ce8167 113px,#c6694c 118px,#b0312a 126px,#830f2a 137px,#6b0e25 152px,#620d21 198px,#680d24 246px,#750f29 271px)"></i>
<i style="left:721px;top:722px;height:269.8px;background:linear-gradient(#1364be 0,#2377be 31px,#90bbd0 45px,#efebea 53px,#d89e89 100px,#ce8167 108px,#c6694c 113px,#b0312a 121px,#830f2a 132px,#6b0e25 147px,#620d21 193px,#680d24 245px,#750f29 270px)"></i>
<i style="left:723px;top:722px;height:268.8px;background:linear-gradient(#105ebd 0,#2073be 34px,#8bb9cf 50px,#efebea 59px,#d89e89 105px,#ce8167 113px,#c6694c 118px,#b0312a 126px,#830f2a 137px,#6b0e25 152px,#620d21 198px,#680d24 244px,#750f29 269px)"></i>
<i style="left:725px;top:722px;height:269.1px;background:linear-gradient(#1364be 0,#2478be 27px,#90bcd0 40px,#efebea 47px,#ead5cd 60px,#d89e89 99px,#ce8167 108px,#c6694c 113px,#b0312a 121px,#830f2a 132px,#6b0e25 147px,#620d21 193px,#680d24 244px,#750f29 269px)"></i>
<i style="left:727px;top:722px;height:270.1px;background:linear-gradient(#135bbb 0,#1e71be 30px,#89b8ce 44px,#efebea 52px,#d89e89 102px,#ce8167 112px,#c6694c 117px,#b0312a 125px,#830f2a 136px,#6b0e25 151px,#620d21 197px,#680d24 245px,#750f29 270px)"></i>
<i style="left:729px;top:722px;height:271.4px;background:linear-gradient(#2646ad 0,#1566be 44px,#7eb1ca 64px,#efebea 75px,#d89e89 106px,#ce8167 111px,#c6694c 114px,#b0312a 122px,#830f2a 133px,#6b0e25 148px,#620d21 194px,#680d24 246px,#750f29 271px)"></i>
<i style="left:731px;top:723.5px;height:274.5px;background:linear-gradient(#293d9f 0,#0f5fbe 51px,#77adc7 75px,#efebea 88px,#ead5cd 94px,#d89e89 114px,#c6694c 121px,#b0312a 129px,#830f2a 140px,#6b0e25 155px,#620d21 201px,#680d24 250px,#750f29 275px)"></i>
<i style="left:733px;top:723.5px;height:277.7px;background:linear-gradient(#21296c 0,#2a41aa 45px,#63a2c0 66px,#efebea 78px,#d89e89 117px,#ce8167 125px,#c6694c 129px,#b0312a 137px,#830f2a 148px,#6b0e25 163px,#620d21 209px,#680d24 253px,#750f29 278px)"></i>
<i style="left:735px;top:723.5px;height:280.4px;background:linear-gradient(#21286a 0,#2a41a9 40px,#63a2bf 59px,#efebea 70px,#ead5cd 81px,#d89e89 114px,#ce8167 122px,#c6694c 126px,#b0312a 134px,#830f2a 145px,#6b0e25 160px,#620d21 206px,#680d24 255px,#750f29 280px)"></i>
<i style="left:737px;top:723.5px;height:280.2px;background:linear-gradient(#232f7a 0,#224ab0 43px,#69a6c2 63px,#efebea 74px,#d89e89 115px,#ce8167 122px,#c6694c 126px,#b0312a 134px,#830f2a 145px,#6b0e25 160px,#620d21 206px,#680d24 255px,#750f29 280px)"></i>
<i style="left:739px;top:723.5px;height:279.9px;background:linear-gradient(#242f7c 0,#214bb1 39px,#69a6c2 58px,#efebea 68px,#ead5cd 80px,#d89e89 116px,#ce8167 125px,#c6694c 130px,#b0312a 138px,#830f2a 149px,#6b0e25 164px,#620d21 210px,#680d24 255px,#750f29 280px)"></i>
<i style="left:741px;top:723.5px;height:279.7px;background:linear-gradient(#24307d 0,#204cb1 30px,#6aa6c2 45px,#efebea 52px,#ead5cd 67px,#d89e89 110px,#ce8167 121px,#c6694c 127px,#b0312a 135px,#830f2a 146px,#6b0e25 161px,#620d21 207px,#680d24 255px,#750f29 280px)"></i>
<i style="left:743px;top:723.5px;height:280.2px;background:linear-gradient(#283c9d 0,#105ebd 27px,#76adc7 40px,#efebea 47px,#d89e89 113px,#ce8167 125px,#c6694c 131px,#b0312a 139px,#830f2a 150px,#6b0e25 165px,#620d21 211px,#680d24 255px,#750f29 280px)"></i>
<i style="left:745px;top:723.5px;height:280px;background:linear-gradient(#2447ae 0,#1566be 26px,#7eb2ca 38px,#efebea 44px,#ead5cd 61px,#d89e89 110px,#ce8167 122px,#c6694c 129px,#b0312a 137px,#830f2a 148px,#6b0e25 163px,#620d21 209px,#680d24 255px,#750f29 280px)"></i>
<i style="left:747px;top:723.5px;height:280.8px;background:linear-gradient(#1060be 0,#2174be 31px,#8cbacf 45px,#efebea 53px,#d89e89 116px,#ce8167 127px,#c6694c 133px,#b0312a 141px,#830f2a 152px,#6b0e25 167px,#620d21 213px,#680d24 256px,#750f29 281px)"></i>
<i style="left:749px;top:723.5px;height:282.8px;background:linear-gradient(#115dbd 0,#1f72be 37px,#8ab9ce 54px,#efebea 64px,#ead5cd 77px,#d89e89 115px,#ce8167 125px,#c6694c 130px,#b0312a 138px,#830f2a 149px,#6b0e25 164px,#620d21 210px,#680d24 258px,#750f29 283px)"></i>
<i style="left:751px;top:723.5px;height:282.7px;background:linear-gradient(#0f5fbe 0,#2073be 41px,#8bb9cf 61px,#efebea 71px,#d89e89 120px,#ce8167 129px,#c6694c 134px,#b0312a 142px,#830f2a 153px,#6b0e25 168px,#620d21 214px,#680d24 258px,#750f29 283px)"></i>
<i style="left:753px;top:723.5px;height:284.7px;background:linear-gradient(#115dbd 0,#1f72be 39px,#8ab9ce 57px,#efebea 68px,#ead5cd 80px,#d89e89 116px,#ce8167 125px,#c6694c 130px,#b0312a 138px,#830f2a 149px,#6b0e25 164px,#620d21 210px,#680d24 260px,#750f29 285px)"></i>
<i style="left:755px;top:723.5px;height:284.6px;background:linear-gradient(#1658b9 0,#1d6fbe 37px,#87b7cd 54px,#efebea 63px,#d89e89 117px,#c6694c 132px,#b0312a 140px,#830f2a 151px,#6b0e25 166px,#620d21 212px,#680d24 260px,#750f29 285px)"></i>
<i style="left:757px;top:723.5px;height:281.2px;background:linear-gradient(#1954b6 0,#1b6dbe 39px,#85b6cc 57px,#efebea 67px,#ead5cd 80px,#d89e89 118px,#ce8167 127px,#c6694c 132px,#b0312a 140px,#830f2a 151px,#6b0e25 166px,#620d21 212px,#680d24 256px,#750f29 281px)"></i>
<i style="left:759px;top:723.5px;height:284.9px;background:linear-gradient(#1a53b6 0,#1b6dbe 46px,#85b5cc 68px,#efebea 80px,#d89e89 120px,#ce8167 127px,#c6694c 131px,#b0312a 139px,#830f2a 150px,#6b0e25 165px,#620d21 211px,#680d24 260px,#750f29 285px)"></i>
<i style="left:761px;top:723.5px;height:291px;background:linear-gradient(#1459ba 0,#1d70be 47px,#88b7ce 69px,#efebea 81px,#ead5cd 92px,#d89e89 125px,#ce8167 133px,#c6694c 138px,#b0312a 146px,#830f2a 157px,#6b0e25 172px,#620d21 218px,#680d24 266px,#750f29 291px)"></i>
<i style="left:763px;top:723.5px;height:288.4px;background:linear-gradient(#1558b9 0,#1d70be 38px,#88b7cd 55px,#efebea 65px,#ead5cd 78px,#d89e89 118px,#c6694c 133px,#b0312a 141px,#830f2a 152px,#6b0e25 167px,#620d21 213px,#680d24 263px,#750f29 288px)"></i>
<i style="left:765px;top:723.5px;height:285.9px;background:linear-gradient(#115dbd 0,#1f72be 32px,#8ab9ce 47px,#efebea 56px,#ead5cd 70px,#d89e89 113px,#ce8167 123px,#c6694c 129px,#b0312a 137px,#830f2a 148px,#6b0e25 163px,#620d21 209px,#680d24 261px,#750f29 286px)"></i>
<i style="left:767px;top:723.5px;height:284.9px;background:linear-gradient(#1060be 0,#2174be 31px,#8cbacf 45px,#efebea 53px,#d89e89 115px,#c6694c 133px,#b0312a 141px,#830f2a 152px,#6b0e25 167px,#620d21 213px,#680d24 260px,#750f29 285px)"></i>
<i style="left:769px;top:723.5px;height:289.8px;background:linear-gradient(#105ebd 0,#2073be 33px,#8bb9cf 48px,#efebea 57px,#ead5cd 71px,#d89e89 113px,#ce8167 123px,#c6694c 129px,#b0312a 137px,#830f2a 148px,#6b0e25 163px,#620d21 209px,#680d24 265px,#750f29 290px)"></i>
<i style="left:771px;top:723.5px;height:296.2px;background:linear-gradient(#186abe 0,#287dbe 35px,#95bed2 52px,#efebea 61px,#ead5cd 75px,#d89e89 117px,#ce8167 127px,#c6694c 132px,#b0312a 140px,#830f2a 151px,#6b0e25 166px,#620d21 212px,#680d24 271px,#750f29 296px)"></i>
<i style="left:773px;top:723.5px;height:289.9px;background:linear-gradient(#2a7ebe 0,#4e95be 37px,#a7c7d7 55px,#efebea 64px,#d89e89 118px,#c6694c 133px,#b0312a 141px,#830f2a 152px,#6b0e25 167px,#620d21 213px,#680d24 265px,#750f29 290px)"></i>
<i style="left:775px;top:723.5px;height:284.3px;background:linear-gradient(#2f82be 0,#5399be 31px,#a9c8d7 45px,#efebea 53px,#ead5cd 68px,#d89e89 112px,#ce8167 122px,#c6694c 128px,#b0312a 136px,#830f2a 147px,#6b0e25 162px,#620d21 208px,#680d24 259px,#750f29 284px)"></i>
<i style="left:777px;top:723.5px;height:278.5px;background:linear-gradient(#6aa6c2 0,#afcad9 23px,#d7e0e5 45px,#efebea 65px,#ead5cd 76px,#d89e89 111px,#ce8167 119px,#c6694c 124px,#b0312a 132px,#830f2a 143px,#6b0e25 158px,#620d21 204px,#680d24 253px,#750f29 278px)"></i>
<i style="left:779px;top:720px;height:276.9px;background:linear-gradient(#8ab8ce 0,#c0d2dd 19px,#efebea 55px,#ead5cd 69px,#d89e89 111px,#ce8167 121px,#c6694c 127px,#b0312a 135px,#830f2a 146px,#6b0e25 161px,#620d21 207px,#680d24 252px,#750f29 277px)"></i>
<i style="left:781px;top:720px;height:273.2px;background:linear-gradient(#87b7cd 0,#bfd2dd 16px,#efebea 46px,#d89e89 107px,#ce8167 118px,#c6694c 124px,#b0312a 132px,#830f2a 143px,#6b0e25 158px,#620d21 204px,#680d24 248px,#750f29 273px)"></i>
<i style="left:783px;top:720px;height:268.8px;background:linear-gradient(#7bb0c9 0,#b9cfdb 14px,#dae1e5 27px,#efebea 39px,#d89e89 104px,#ce8167 116px,#c6694c 123px,#b0312a 131px,#830f2a 142px,#6b0e25 157px,#620d21 203px,#680d24 244px,#750f29 269px)"></i>
<i style="left:785px;top:720px;height:267.5px;background:linear-gradient(#79afc8 0,#b8cedb 16px,#dae1e5 31px,#efebea 45px,#ead5cd 61px,#d89e89 109px,#c6694c 127px,#b0312a 135px,#830f2a 146px,#6b0e25 161px,#620d21 207px,#680d24 243px,#750f29 268px)"></i>
<i style="left:787px;top:720px;height:272.7px;background:linear-gradient(#7cb1c9 0,#bacfdb 18px,#dae1e5 35px,#efebea 50px,#ead5cd 66px,#d89e89 113px,#c6694c 131px,#b0312a 139px,#830f2a 150px,#6b0e25 165px,#620d21 211px,#680d24 248px,#750f29 273px)"></i>
<i style="left:789px;top:720px;height:275px;background:linear-gradient(#8bb9cf 0,#c0d3dd 20px,#efebea 56px,#d89e89 114px,#ce8167 124px,#c6694c 130px,#b0312a 138px,#830f2a 149px,#6b0e25 164px,#620d21 210px,#680d24 250px,#750f29 275px)"></i>
<i style="left:791px;top:720px;height:274.6px;background:linear-gradient(#93bdd2 0,#c4d4df 18px,#efebea 52px,#d89e89 117px,#c6694c 135px,#b0312a 143px,#830f2a 154px,#6b0e25 169px,#620d21 215px,#680d24 250px,#750f29 275px)"></i>
<i style="left:793px;top:720px;height:275.3px;background:linear-gradient(#95bed2 0,#c4d5df 16px,#dee3e6 31px,#efebea 45px,#d89e89 115px,#ce8167 127px,#c6694c 134px,#b0312a 142px,#830f2a 153px,#6b0e25 168px,#620d21 214px,#680d24 250px,#750f29 275px)"></i>
<i style="left:795px;top:720px;height:276.4px;background:linear-gradient(#9cc2d4 0,#c7d6e0 14px,#efebea 40px,#d89e89 114px,#ce8167 127px,#c6694c 134px,#b0312a 142px,#830f2a 153px,#6b0e25 168px,#620d21 214px,#680d24 251px,#750f29 276px)"></i>
<i style="left:797px;top:720px;height:276px;background:linear-gradient(#9dc2d4 0,#c7d7e0 14px,#efebea 40px,#d89e89 112px,#ce8167 125px,#c6694c 132px,#b0312a 140px,#830f2a 151px,#6b0e25 166px,#620d21 212px,#680d24 251px,#750f29 276px)"></i>
<i style="left:799px;top:720px;height:274.3px;background:linear-gradient(#93bed2 0,#c4d4df 15px,#efebea 43px,#ead5cd 60px,#d89e89 110px,#ce8167 122px,#c6694c 129px,#b0312a 137px,#830f2a 148px,#6b0e25 163px,#620d21 209px,#680d24 249px,#750f29 274px)"></i>
<i style="left:801px;top:720px;height:273.9px;background:linear-gradient(#98c0d3 0,#c5d5df 15px,#efebea 42px,#ead5cd 59px,#d89e89 109px,#ce8167 121px,#c6694c 128px,#b0312a 136px,#830f2a 147px,#6b0e25 162px,#620d21 208px,#680d24 249px,#750f29 274px)"></i>
<i style="left:803px;top:720px;height:274.3px;background:linear-gradient(#83b4cc 0,#bdd1dc 14px,#efebea 40px,#ead5cd 57px,#d89e89 108px,#ce8167 120px,#c6694c 127px,#b0312a 135px,#830f2a 146px,#6b0e25 161px,#620d21 207px,#680d24 249px,#750f29 274px)"></i>
<i style="left:805px;top:720px;height:274px;background:linear-gradient(#89b8ce 0,#c0d2dd 12px,#efebea 36px,#ead5cd 54px,#d89e89 108px,#ce8167 121px,#c6694c 128px,#b0312a 136px,#830f2a 147px,#6b0e25 162px,#620d21 208px,#680d24 249px,#750f29 274px)"></i>
<i style="left:807px;top:720px;height:275.7px;background:linear-gradient(#91bcd1 0,#c3d4de 11px,#efebea 33px,#ead5cd 51px,#d89e89 105px,#ce8167 118px,#c6694c 126px,#b0312a 134px,#830f2a 145px,#6b0e25 160px,#620d21 206px,#680d24 251px,#750f29 276px)"></i>
<i style="left:809px;top:720px;height:276.2px;background:linear-gradient(#8ebbd0 0,#c2d3de 13px,#dde2e6 26px,#efebea 38px,#d89e89 108px,#ce8167 121px,#c6694c 128px,#b0312a 136px,#830f2a 147px,#6b0e25 162px,#620d21 208px,#680d24 251px,#750f29 276px)"></i>
<i style="left:811px;top:720px;height:275.4px;background:linear-gradient(#92bdd1 0,#c3d4de 16px,#efebea 46px,#ead5cd 63px,#d89e89 113px,#ce8167 125px,#c6694c 132px,#b0312a 140px,#830f2a 151px,#6b0e25 166px,#620d21 212px,#680d24 250px,#750f29 275px)"></i>
<i style="left:813px;top:720px;height:275.9px;background:linear-gradient(#8dbacf 0,#c1d3de 20px,#efebea 57px,#ead5cd 70px,#d89e89 110px,#c6694c 125px,#b0312a 133px,#830f2a 144px,#6b0e25 159px,#620d21 205px,#680d24 251px,#750f29 276px)"></i>
<i style="left:815px;top:720px;height:277.9px;background:linear-gradient(#81b3cb 0,#bcd0dc 16px,#dbe1e6 32px,#efebea 46px,#ead5cd 62px,#d89e89 111px,#c6694c 129px,#b0312a 137px,#830f2a 148px,#6b0e25 163px,#620d21 209px,#680d24 253px,#750f29 278px)"></i>
<i style="left:817px;top:720px;height:280.6px;background:linear-gradient(#84b5cc 0,#bed1dd 21px,#efebea 60px,#d89e89 117px,#ce8167 127px,#c6694c 133px,#b0312a 141px,#830f2a 152px,#6b0e25 167px,#620d21 213px,#680d24 256px,#750f29 281px)"></i>
<i style="left:819px;top:720px;height:290.8px;background:linear-gradient(#8fbbd0 0,#c2d4de 38px,#efebea 109px,#d89e89 124px,#ce8167 126px,#c6694c 128px,#b0312a 136px,#830f2a 147px,#6b0e25 162px,#620d21 208px,#680d24 266px,#750f29 291px)"></i>
<i style="left:821px;top:720px;height:283.8px;background:linear-gradient(#9fc3d5 0,#c8d7e0 25px,#efebea 70px,#d89e89 112px,#ce8167 119px,#c6694c 123px,#b0312a 131px,#830f2a 142px,#6b0e25 157px,#620d21 203px,#680d24 259px,#750f29 284px)"></i>
<i style="left:823px;top:720px;height:274.7px;background:linear-gradient(#9ac1d3 0,#c6d6df 17px,#efebea 49px,#d89e89 111px,#c6694c 129px,#b0312a 137px,#830f2a 148px,#6b0e25 163px,#620d21 209px,#680d24 250px,#750f29 275px)"></i>
<i style="left:825px;top:720px;height:268.5px;background:linear-gradient(#b2ccda 0,#d0dbe3 14px,#efebea 40px,#d89e89 109px,#ce8167 122px,#c6694c 129px,#b0312a 137px,#830f2a 148px,#6b0e25 163px,#620d21 209px,#680d24 244px,#750f29 268px)"></i>
<i style="left:827px;top:720px;height:266.5px;background:linear-gradient(#abc8d8 0,#cddae2 13px,#efebea 37px,#ead5cd 55px,#d89e89 108px,#ce8167 121px,#c6694c 128px,#b0312a 136px,#830f2a 147px,#6b0e25 162px,#620d21 208px,#680d24 242px,#750f29 266px)"></i>
<i style="left:829px;top:720px;height:264.5px;background:linear-gradient(#b0cbd9 0,#cfdbe2 12px,#efebea 35px,#ead5cd 54px,#d89e89 110px,#ce8167 124px,#c6694c 131px,#b0312a 139px,#830f2a 150px,#6b0e25 165px,#620d21 211px,#680d24 240px,#750f29 264px)"></i>
<i style="left:831px;top:720px;height:261.8px;background:linear-gradient(#b3ccda 0,#d0dce3 11px,#efebea 32px,#d89e89 112px,#ce8167 127px,#c6694c 135px,#b0312a 143px,#830f2a 154px,#6b0e25 169px,#620d21 215px,#750f29 262px)"></i>
<i style="left:833px;top:720px;height:261px;background:linear-gradient(#b3ccda 0,#d0dbe3 10px,#efebea 30px,#ead5cd 49px,#d89e89 107px,#ce8167 120px,#c6694c 128px,#b0312a 136px,#830f2a 147px,#6b0e25 162px,#620d21 208px,#680d24 236px,#750f29 261px)"></i>
<i style="left:835px;top:720px;height:261.3px;background:linear-gradient(#a5c6d6 0,#cad8e1 10px,#e0e4e7 19px,#efebea 28px,#d89e89 105px,#ce8167 119px,#c6694c 127px,#b0312a 135px,#830f2a 146px,#6b0e25 161px,#620d21 207px,#680d24 236px,#750f29 261px)"></i>
<i style="left:837px;top:720px;height:261.6px;background:linear-gradient(#afcad9 0,#cedbe2 10px,#efebea 30px,#ead5cd 49px,#d89e89 106px,#ce8167 120px,#c6694c 128px,#b0312a 136px,#830f2a 147px,#6b0e25 162px,#620d21 208px,#680d24 237px,#750f29 262px)"></i>
<i style="left:839px;top:720px;height:262.5px;background:linear-gradient(#a9c8d7 0,#ccd9e1 12px,#efebea 33px,#ead5cd 52px,#d89e89 107px,#ce8167 120px,#c6694c 128px,#b0312a 136px,#830f2a 147px,#6b0e25 162px,#620d21 208px,#680d24 238px,#750f29 263px)"></i>
<i style="left:841px;top:720px;height:262.8px;background:linear-gradient(#a2c4d5 0,#c9d8e0 13px,#efebea 38px,#ead5cd 56px,#d89e89 110px,#c6694c 130px,#b0312a 138px,#830f2a 149px,#6b0e25 164px,#620d21 210px,#680d24 238px,#750f29 263px)"></i>
<i style="left:843px;top:720px;height:263px;background:linear-gradient(#9ec3d5 0,#c8d7e0 14px,#efebea 41px,#d89e89 110px,#ce8167 122px,#c6694c 129px,#b0312a 137px,#830f2a 148px,#6b0e25 163px,#620d21 209px,#680d24 238px,#750f29 263px)"></i>
<i style="left:845px;top:720px;height:261.7px;background:linear-gradient(#9fc3d5 0,#c8d7e0 14px,#efebea 41px,#d89e89 109px,#ce8167 121px,#c6694c 128px,#b0312a 136px,#830f2a 147px,#6b0e25 162px,#620d21 208px,#680d24 237px,#750f29 262px)"></i>
<i style="left:847px;top:720px;height:260.5px;background:linear-gradient(#a3c5d6 0,#cad8e1 14px,#efebea 39px,#ead5cd 56px,#d89e89 106px,#ce8167 118px,#c6694c 125px,#b0312a 133px,#830f2a 144px,#6b0e25 159px,#620d21 205px,#680d24 235px,#750f29 260px)"></i>
<i style="left:849px;top:720px;height:259.2px;background:linear-gradient(#9ac1d3 0,#c6d6df 14px,#dfe3e7 27px,#efebea 39px,#d89e89 109px,#ce8167 122px,#c6694c 129px,#b0312a 137px,#830f2a 148px,#6b0e25 163px,#620d21 209px,#680d24 234px,#750f29 259px)"></i>
<i style="left:851px;top:720px;height:256.6px;background:linear-gradient(#98c0d3 0,#c6d6df 15px,#efebea 43px,#d89e89 108px,#ce8167 120px,#c6694c 127px,#b0312a 135px,#830f2a 146px,#6b0e25 161px,#620d21 207px,#680d24 232px,#750f29 257px)"></i>
<i style="left:853px;top:720px;height:256.1px;background:linear-gradient(#9dc2d4 0,#c7d7e0 17px,#efebea 47px,#d89e89 117px,#ce8167 129px,#c6694c 136px,#b0312a 144px,#830f2a 155px,#6b0e25 170px,#620d21 216px,#750f29 256px)"></i>
<i style="left:855px;top:720px;height:258.2px;background:linear-gradient(#a3c5d6 0,#cad8e1 19px,#efebea 55px,#d89e89 117px,#c6694c 135px,#b0312a 143px,#830f2a 154px,#6b0e25 169px,#620d21 215px,#750f29 258px)"></i>
<i style="left:857px;top:720px;height:258.8px;background:linear-gradient(#a4c5d6 0,#cad8e1 23px,#efebea 65px,#d89e89 123px,#ce8167 133px,#c6694c 139px,#b0312a 147px,#830f2a 158px,#6b0e25 173px,#620d21 219px,#750f29 259px)"></i>
<i style="left:859px;top:720px;height:259.5px;background:linear-gradient(#9ec2d4 0,#c8d7e0 27px,#efebea 78px,#ead5cd 89px,#d89e89 121px,#ce8167 129px,#c6694c 134px,#b0312a 142px,#830f2a 153px,#6b0e25 168px,#620d21 214px,#750f29 260px)"></i>
<i style="left:861px;top:720px;height:259.2px;background:linear-gradient(#a3c5d6 0,#cad8e1 30px,#efebea 87px,#d89e89 119px,#ce8167 125px,#c6694c 128px,#b0312a 136px,#830f2a 147px,#6b0e25 162px,#620d21 208px,#680d24 234px,#750f29 259px)"></i>
<i style="left:863px;top:720px;height:257.4px;background:linear-gradient(#9ac1d3 0,#c6d6df 31px,#efebea 88px,#d89e89 119px,#ce8167 125px,#c6694c 128px,#b0312a 136px,#830f2a 147px,#6b0e25 162px,#620d21 208px,#750f29 257px)"></i>
<i style="left:865px;top:720px;height:256.3px;background:linear-gradient(#80b2ca 0,#bcd0dc 27px,#dbe1e6 55px,#efebea 79px,#d89e89 119px,#ce8167 126px,#c6694c 130px,#b0312a 138px,#830f2a 149px,#6b0e25 164px,#620d21 210px,#750f29 256px)"></i>
<i style="left:867px;top:720px;height:256.4px;background:linear-gradient(#61a1bf 0,#aac8d8 26px,#d6dfe4 52px,#efebea 74px,#d89e89 119px,#ce8167 127px,#c6694c 131px,#b0312a 139px,#830f2a 150px,#6b0e25 165px,#620d21 211px,#750f29 256px)"></i>
<i style="left:869px;top:722px;height:262.6px;background:linear-gradient(#2276be 0,#408cbe 44px,#a0c3d5 64px,#efebea 75px,#d89e89 123px,#ce8167 131px,#c6694c 136px,#b0312a 144px,#830f2a 155px,#6b0e25 170px,#620d21 216px,#750f29 263px)"></i>
<i style="left:871px;top:722px;height:270.9px;background:linear-gradient(#1d70be 0,#3485be 43px,#9bc1d4 63px,#efebea 74px,#d89e89 121px,#ce8167 129px,#c6694c 134px,#b0312a 142px,#830f2a 153px,#6b0e25 168px,#620d21 214px,#680d24 246px,#750f29 271px)"></i>
<i style="left:873px;top:722px;height:271.5px;background:linear-gradient(#1f4db2 0,#186abe 41px,#82b4cb 60px,#efebea 70px,#d89e89 117px,#ce8167 125px,#c6694c 130px,#b0312a 138px,#830f2a 149px,#6b0e25 164px,#620d21 210px,#680d24 247px,#750f29 272px)"></i>
<i style="left:875px;top:722px;height:270.6px;background:linear-gradient(#105ebe 0,#2073be 40px,#8bb9cf 59px,#efebea 69px,#ead5cd 82px,#d89e89 120px,#ce8167 129px,#c6694c 134px,#b0312a 142px,#830f2a 153px,#6b0e25 168px,#620d21 214px,#680d24 246px,#750f29 271px)"></i>
<i style="left:877px;top:722px;height:270.4px;background:linear-gradient(#1a53b6 0,#1b6dbe 40px,#85b5cc 59px,#efebea 70px,#ead5cd 83px,#d89e89 121px,#ce8167 131px,#c6694c 136px,#b0312a 144px,#830f2a 155px,#6b0e25 170px,#620d21 216px,#680d24 245px,#750f29 270px)"></i>
<i style="left:879px;top:722px;height:270.9px;background:linear-gradient(#1162be 0,#2276be 41px,#8ebad0 59px,#efebea 70px,#ead5cd 82px,#d89e89 118px,#ce8167 126px,#c6694c 131px,#b0312a 139px,#830f2a 150px,#6b0e25 165px,#620d21 211px,#680d24 246px,#750f29 271px)"></i>
<i style="left:881px;top:722px;height:270.7px;background:linear-gradient(#1161be 0,#2175be 40px,#8dbacf 58px,#efebea 68px,#d89e89 118px,#ce8167 127px,#c6694c 132px,#b0312a 140px,#830f2a 151px,#6b0e25 166px,#620d21 212px,#680d24 246px,#750f29 271px)"></i>
<i style="left:883px;top:722px;height:273.9px;background:linear-gradient(#1c6ebe 0,#3082be 38px,#99c0d3 56px,#efebea 66px,#d89e89 115px,#ce8167 124px,#c6694c 129px,#b0312a 137px,#830f2a 148px,#6b0e25 163px,#620d21 209px,#680d24 249px,#750f29 274px)"></i>
<i style="left:885px;top:722px;height:304.2px;background:linear-gradient(#2073be 0,#3a88be 38px,#9dc2d4 56px,#efebea 66px,#ead5cd 78px,#d89e89 114px,#ce8167 123px,#c6694c 128px,#b0312a 136px,#830f2a 147px,#6b0e25 162px,#620d21 208px,#680d24 279px,#750f29 304px)"></i>
<i style="left:887px;top:722px;height:299.1px;background:linear-gradient(#5398be 0,#6fa9c4 38px,#b7cedb 56px,#efebea 66px,#d89e89 113px,#ce8167 121px,#c6694c 126px,#b0312a 134px,#830f2a 145px,#6b0e25 160px,#620d21 206px,#680d24 274px,#750f29 299px)"></i>
<i style="left:889px;top:722px;height:293.1px;background:linear-gradient(#6da8c3 0,#b1cbd9 32px,#d8e0e5 65px,#efebea 92px,#d89e89 126px,#c6694c 136px,#b0312a 144px,#830f2a 155px,#6b0e25 170px,#620d21 216px,#680d24 268px,#750f29 293px)"></i>
<i style="left:891px;top:722px;height:286.8px;background:linear-gradient(#9ec2d4 0,#c8d7e0 32px,#efebea 93px,#d89e89 124px,#c6694c 133px,#b0312a 141px,#830f2a 152px,#6b0e25 167px,#620d21 213px,#680d24 262px,#750f29 287px)"></i>
<i style="left:893px;top:722px;height:281.6px;background:linear-gradient(#9fc3d5 0,#c8d7e0 29px,#efebea 82px,#d89e89 119px,#c6694c 129px,#b0312a 137px,#830f2a 148px,#6b0e25 163px,#620d21 209px,#680d24 257px,#750f29 282px)"></i>
<i style="left:895px;top:722px;height:281.5px;background:linear-gradient(#a2c4d5 0,#c9d8e0 25px,#efebea 71px,#d89e89 117px,#ce8167 125px,#c6694c 130px,#b0312a 138px,#830f2a 149px,#6b0e25 164px,#620d21 210px,#680d24 256px,#750f29 281px)"></i>
<i style="left:897px;top:722px;height:279.9px;background:linear-gradient(#a8c7d7 0,#ccd9e1 24px,#efebea 69px,#d89e89 116px,#ce8167 124px,#c6694c 129px,#b0312a 137px,#830f2a 148px,#6b0e25 163px,#620d21 209px,#680d24 255px,#750f29 280px)"></i>
<i style="left:899px;top:722px;height:277.7px;background:linear-gradient(#abc8d8 0,#cddae2 23px,#efebea 66px,#ead5cd 79px,#d89e89 118px,#ce8167 128px,#c6694c 133px,#b0312a 141px,#830f2a 152px,#6b0e25 167px,#620d21 213px,#680d24 253px,#750f29 278px)"></i>
<i style="left:901px;top:722px;height:276.2px;background:linear-gradient(#9bc1d4 0,#c7d6e0 21px,#efebea 61px,#d89e89 125px,#c6694c 143px,#b0312a 151px,#830f2a 162px,#6b0e25 177px,#620d21 223px,#680d24 251px,#750f29 276px)"></i>
<i style="left:903px;top:722px;height:274.6px;background:linear-gradient(#8cb9cf 0,#c1d3de 21px,#efebea 59px,#d89e89 121px,#ce8167 133px,#c6694c 139px,#b0312a 147px,#830f2a 158px,#6b0e25 173px,#620d21 219px,#680d24 250px,#750f29 275px)"></i>
<i style="left:905px;top:722px;height:273.8px;background:linear-gradient(#9cc2d4 0,#c7d6e0 19px,#efebea 55px,#d89e89 112px,#ce8167 122px,#c6694c 128px,#b0312a 136px,#830f2a 147px,#6b0e25 162px,#620d21 208px,#680d24 249px,#750f29 274px)"></i>
<i style="left:907px;top:722px;height:273.7px;background:linear-gradient(#9dc2d4 0,#c7d7e0 18px,#efebea 52px,#d89e89 115px,#c6694c 133px,#b0312a 141px,#830f2a 152px,#6b0e25 167px,#620d21 213px,#680d24 249px,#750f29 274px)"></i>
<i style="left:909px;top:722px;height:274.2px;background:linear-gradient(#a3c5d6 0,#cad8e1 20px,#efebea 58px,#d89e89 116px,#ce8167 126px,#c6694c 132px,#b0312a 140px,#830f2a 151px,#6b0e25 166px,#620d21 212px,#680d24 249px,#750f29 274px)"></i>
<i style="left:911px;top:722px;height:275.5px;background:linear-gradient(#96bfd3 0,#c5d5df 18px,#efebea 51px,#d89e89 119px,#ce8167 131px,#c6694c 138px,#b0312a 146px,#830f2a 157px,#6b0e25 172px,#620d21 218px,#680d24 250px,#750f29 275px)"></i>
<i style="left:913px;top:722px;height:276px;background:linear-gradient(#a2c4d6 0,#c9d8e0 16px,#efebea 44px,#d89e89 116px,#c6694c 136px,#b0312a 144px,#830f2a 155px,#6b0e25 170px,#620d21 216px,#680d24 251px,#750f29 276px)"></i>
<i style="left:915px;top:722px;height:276px;background:linear-gradient(#9ec3d5 0,#c8d7e0 14px,#efebea 41px,#ead5cd 60px,#d89e89 117px,#ce8167 131px,#c6694c 139px,#b0312a 147px,#830f2a 158px,#6b0e25 173px,#620d21 219px,#680d24 251px,#750f29 276px)"></i>
<i style="left:917px;top:722px;height:276.6px;background:linear-gradient(#9cc2d4 0,#c7d6e0 16px,#efebea 46px,#ead5cd 63px,#d89e89 115px,#c6694c 135px,#b0312a 143px,#830f2a 154px,#6b0e25 169px,#620d21 215px,#680d24 252px,#750f29 277px)"></i>
<i style="left:919px;top:722px;height:277.9px;background:linear-gradient(#a1c4d5 0,#c9d8e0 19px,#efebea 56px,#d89e89 119px,#ce8167 131px,#c6694c 137px,#b0312a 145px,#830f2a 156px,#6b0e25 171px,#620d21 217px,#680d24 253px,#750f29 278px)"></i>
<i style="left:921px;top:722px;height:278.5px;background:linear-gradient(#a9c7d7 0,#ccd9e1 17px,#efebea 49px,#ead5cd 66px,#d89e89 117px,#ce8167 129px,#c6694c 136px,#b0312a 144px,#830f2a 155px,#6b0e25 170px,#620d21 216px,#680d24 253px,#750f29 278px)"></i>
<i style="left:923px;top:722px;height:279.1px;background:linear-gradient(#90bcd1 0,#c2d4de 13px,#efebea 38px,#d89e89 112px,#ce8167 125px,#c6694c 133px,#b0312a 141px,#830f2a 152px,#6b0e25 167px,#620d21 213px,#680d24 254px,#750f29 279px)"></i>
<i style="left:925px;top:722px;height:279.7px;background:linear-gradient(#8dbacf 0,#c1d3de 8px,#efebea 24px,#ead5cd 47px,#d89e89 114px,#ce8167 130px,#c6694c 140px,#b0312a 148px,#830f2a 159px,#6b0e25 174px,#620d21 220px,#680d24 255px,#750f29 280px)"></i>
<i style="left:927px;top:722px;height:280px;background:linear-gradient(#90bcd1 0,#c3d4de 15px,#efebea 43px,#d89e89 113px,#c6694c 133px,#b0312a 141px,#830f2a 152px,#6b0e25 167px,#620d21 213px,#680d24 255px,#750f29 280px)"></i>
<i style="left:929px;top:722px;height:280px;background:linear-gradient(#99c0d3 0,#c6d6df 18px,#efebea 50px,#d89e89 115px,#ce8167 127px,#c6694c 134px,#b0312a 142px,#830f2a 153px,#6b0e25 168px,#620d21 214px,#680d24 255px,#750f29 280px)"></i>
<i style="left:931px;top:722px;height:279.3px;background:linear-gradient(#9ac1d3 0,#c6d6df 15px,#efebea 43px,#ead5cd 62px,#d89e89 118px,#ce8167 131px,#c6694c 139px,#b0312a 147px,#830f2a 158px,#6b0e25 173px,#620d21 219px,#680d24 254px,#750f29 279px)"></i>
<i style="left:933px;top:722px;height:279.3px;background:linear-gradient(#a0c3d5 0,#c8d7e0 17px,#efebea 49px,#d89e89 119px,#ce8167 132px,#c6694c 139px,#b0312a 147px,#830f2a 158px,#6b0e25 173px,#620d21 219px,#680d24 254px,#750f29 279px)"></i>
<i style="left:935px;top:722px;height:280px;background:linear-gradient(#9fc3d5 0,#c8d7e0 17px,#efebea 48px,#ead5cd 66px,#d89e89 120px,#ce8167 133px,#c6694c 140px,#b0312a 148px,#830f2a 159px,#6b0e25 174px,#620d21 220px,#680d24 255px,#750f29 280px)"></i>
<i style="left:937px;top:722px;height:280px;background:linear-gradient(#a6c6d7 0,#cbd9e1 15px,#efebea 42px,#d89e89 119px,#ce8167 133px,#c6694c 141px,#b0312a 149px,#830f2a 160px,#6b0e25 175px,#620d21 221px,#680d24 255px,#750f29 280px)"></i>
<i style="left:939px;top:722px;height:280.9px;background:linear-gradient(#a1c4d5 0,#c9d7e0 14px,#efebea 39px,#ead5cd 60px,#d89e89 121px,#ce8167 136px,#c6694c 144px,#b0312a 152px,#830f2a 163px,#6b0e25 178px,#620d21 224px,#680d24 256px,#750f29 281px)"></i>
<i style="left:941px;top:722px;height:282px;background:linear-gradient(#a4c5d6 0,#cad8e1 14px,#efebea 39px,#ead5cd 60px,#d89e89 122px,#ce8167 137px,#c6694c 146px,#b0312a 154px,#830f2a 165px,#6b0e25 180px,#620d21 226px,#680d24 257px,#750f29 282px)"></i>
<i style="left:943px;top:722px;height:281px;background:linear-gradient(#acc9d8 0,#cddae2 14px,#efebea 40px,#ead5cd 61px,#d89e89 122px,#ce8167 137px,#c6694c 146px,#b0312a 154px,#830f2a 165px,#6b0e25 180px,#620d21 226px,#680d24 256px,#750f29 281px)"></i>
<i style="left:945px;top:722px;height:282.1px;background:linear-gradient(#a4c5d6 0,#cad8e1 15px,#efebea 44px,#ead5cd 65px,#d89e89 127px,#ce8167 142px,#c6694c 150px,#b0312a 158px,#830f2a 169px,#6b0e25 184px,#620d21 230px,#680d24 257px,#750f29 282px)"></i>
<i style="left:947px;top:722px;height:285.3px;background:linear-gradient(#8cbacf 0,#c1d3de 17px,#efebea 48px,#d89e89 129px,#ce8167 144px,#c6694c 152px,#b0312a 160px,#830f2a 171px,#6b0e25 186px,#620d21 232px,#680d24 260px,#750f29 285px)"></i>
<i style="left:949px;top:728px;height:280.4px;background:linear-gradient(#71aac5 0,#b3ccda 17px,#d8e0e5 33px,#efebea 48px,#ead5cd 68px,#d89e89 128px,#ce8167 143px,#c6694c 151px,#b0312a 159px,#830f2a 170px,#6b0e25 185px,#620d21 231px,#750f29 280px)"></i>
<i style="left:951px;top:728px;height:283.6px;background:linear-gradient(#5399be 0,#6fa9c4 31px,#b7cedb 45px,#efebea 53px,#d89e89 125px,#ce8167 138px,#c6694c 146px,#b0312a 154px,#830f2a 165px,#6b0e25 180px,#620d21 226px,#680d24 259px,#750f29 284px)"></i>
<i style="left:953px;top:728px;height:293.1px;background:linear-gradient(#2b7fbe 0,#5096be 36px,#a7c7d7 53px,#efebea 62px,#d89e89 132px,#ce8167 145px,#c6694c 152px,#b0312a 160px,#830f2a 171px,#6b0e25 186px,#620d21 232px,#680d24 268px,#750f29 293px)"></i>
<i style="left:955px;top:728px;height:301px;background:linear-gradient(#3686be 0,#599cbe 39px,#acc9d8 57px,#efebea 67px,#ead5cd 84px,#d89e89 134px,#ce8167 146px,#c6694c 153px,#b0312a 161px,#830f2a 172px,#6b0e25 187px,#620d21 233px,#680d24 276px,#750f29 301px)"></i>
<i style="left:957px;top:728px;height:301px;background:linear-gradient(#277cbe 0,#4b93be 40px,#a5c6d6 58px,#efebea 68px,#ead5cd 84px,#d89e89 131px,#c6694c 149px,#b0312a 157px,#830f2a 168px,#6b0e25 183px,#620d21 229px,#680d24 276px,#750f29 301px)"></i>
<i style="left:959px;top:728px;height:299.9px;background:linear-gradient(#3183be 0,#559abe 40px,#aac8d7 58px,#efebea 68px,#d89e89 133px,#c6694c 151px,#b0312a 159px,#830f2a 170px,#6b0e25 185px,#620d21 231px,#680d24 275px,#750f29 300px)"></i>
<i style="left:961px;top:728px;height:299.9px;background:linear-gradient(#3b89be 0,#5d9fbe 35px,#aecad8 52px,#efebea 61px,#ead5cd 79px,#d89e89 132px,#ce8167 145px,#c6694c 152px,#b0312a 160px,#830f2a 171px,#6b0e25 186px,#620d21 232px,#680d24 275px,#750f29 300px)"></i>
<i style="left:963px;top:728px;height:300.6px;background:linear-gradient(#3a88be 0,#5c9ebe 43px,#adc9d8 63px,#efebea 74px,#d89e89 127px,#ce8167 137px,#c6694c 143px,#b0312a 151px,#830f2a 162px,#6b0e25 177px,#620d21 223px,#680d24 276px,#750f29 301px)"></i>
<i style="left:965px;top:728px;height:300.6px;background:linear-gradient(#267bbe 0,#4992be 54px,#a5c5d6 79px,#efebea 93px,#d89e89 138px,#ce8167 146px,#c6694c 151px,#b0312a 159px,#830f2a 170px,#6b0e25 185px,#620d21 231px,#680d24 276px,#750f29 301px)"></i>
<i style="left:967px;top:728px;height:299.2px;background:linear-gradient(#2478be 0,#438ebe 59px,#a2c4d5 87px,#efebea 102px,#d89e89 140px,#ce8167 147px,#c6694c 151px,#b0312a 159px,#830f2a 170px,#6b0e25 185px,#620d21 231px,#680d24 274px,#750f29 299px)"></i>
<i style="left:969px;top:728px;height:299.2px;background:linear-gradient(#1f72be 0,#3887be 51px,#9cc2d4 75px,#efebea 89px,#ead5cd 100px,#d89e89 135px,#ce8167 143px,#c6694c 148px,#b0312a 156px,#830f2a 167px,#6b0e25 182px,#620d21 228px,#680d24 274px,#750f29 299px)"></i>
<i style="left:971px;top:728px;height:300.6px;background:linear-gradient(#115dbd 0,#1f72be 67px,#8bb9ce 98px,#efebea 115px,#ead5cd 118px,#d89e89 127px,#ce8167 129px,#c6694c 130px,#b0312a 138px,#830f2a 149px,#6b0e25 164px,#620d21 210px,#680d24 276px,#750f29 301px)"></i>
<i style="left:973px;top:722.5px;height:306.1px;background:linear-gradient(#1a53b6 0,#1a6dbe 62px,#85b5cc 91px,#efebea 107px,#ead5cd 110px,#d89e89 119px,#ce8167 121px,#c6694c 123px,#b0312a 131px,#830f2a 142px,#6b0e25 157px,#620d21 203px,#680d24 281px,#750f29 306px)"></i>
<i style="left:975px;top:722.5px;height:305.4px;background:linear-gradient(#293fa5 0,#1161be 65px,#79afc8 95px,#efebea 112px,#d89e89 120px,#ce8167 121px,#c6694c 122px,#b0312a 130px,#830f2a 141px,#6b0e25 156px,#620d21 202px,#680d24 280px,#750f29 305px)"></i>
<i style="left:977px;top:722.5px;height:303.4px;background:linear-gradient(#2942aa 0,#1363be 66px,#7bb0c9 96px,#efebea 114px,#e1b9aa 119px,#ce8167 123px,#c6694c 124px,#b0312a 132px,#830f2a 143px,#6b0e25 158px,#620d21 204px,#680d24 278px,#750f29 303px)"></i>
<i style="left:979px;top:722.5px;height:290.8px;background:linear-gradient(#293da0 0,#0f5fbe 64px,#77aec7 94px,#efebea 110px,#d89e89 118px,#ce8167 119px,#c6694c 120px,#b0312a 128px,#830f2a 139px,#6b0e25 154px,#620d21 200px,#680d24 266px,#750f29 291px)"></i>
<i style="left:981px;top:722.5px;height:287.9px;background:linear-gradient(#283b9a 0,#125cbc 61px,#75acc6 89px,#efebea 105px,#e1b9aa 110px,#ce8167 114px,#c6694c 115px,#b0312a 123px,#830f2a 134px,#6b0e25 149px,#620d21 195px,#680d24 263px,#750f29 288px)"></i>
<i style="left:983px;top:722.5px;height:287.6px;background:linear-gradient(#2942ab 0,#1363be 59px,#7bb0c9 86px,#efebea 101px,#e1b9aa 108px,#d89e89 111px,#ce8167 113px,#c6694c 114px,#b0312a 122px,#830f2a 133px,#6b0e25 148px,#620d21 194px,#680d24 263px,#750f29 288px)"></i>
<i style="left:985px;top:722.5px;height:285.9px;background:linear-gradient(#2942ab 0,#1364be 59px,#7bb0c9 86px,#efebea 101px,#d89e89 115px,#ce8167 117px,#c6694c 119px,#b0312a 127px,#830f2a 138px,#6b0e25 153px,#620d21 199px,#680d24 261px,#750f29 286px)"></i>
<i style="left:987px;top:722.5px;height:284.2px;background:linear-gradient(#2a40a8 0,#1262be 62px,#7aafc8 91px,#efebea 107px,#d89e89 115px,#ce8167 116px,#c6694c 117px,#b0312a 125px,#830f2a 136px,#6b0e25 151px,#620d21 197px,#680d24 259px,#750f29 284px)"></i>
<i style="left:989px;top:722.5px;height:282.4px;background:linear-gradient(#293da1 0,#0f5fbe 56px,#77aec7 82px,#efebea 97px,#ead5cd 100px,#d89e89 109px,#ce8167 111px,#c6694c 113px,#b0312a 121px,#830f2a 132px,#6b0e25 147px,#620d21 193px,#680d24 257px,#750f29 282px)"></i>
<i style="left:991px;top:722.5px;height:281.7px;background:linear-gradient(#2843ab 0,#1364be 53px,#7cb0c9 77px,#efebea 91px,#ead5cd 95px,#d89e89 108px,#c6694c 113px,#b0312a 121px,#830f2a 132px,#6b0e25 147px,#620d21 193px,#680d24 257px,#750f29 282px)"></i>
<i style="left:993px;top:722.5px;height:282px;background:linear-gradient(#2a41a9 0,#1263be 54px,#7bb0c8 78px,#efebea 92px,#ead5cd 97px,#d89e89 112px,#ce8167 116px,#c6694c 118px,#b0312a 126px,#830f2a 137px,#6b0e25 152px,#620d21 198px,#680d24 257px,#750f29 282px)"></i>
<i style="left:995px;top:722.5px;height:281.7px;background:linear-gradient(#1757b8 0,#1c6fbe 50px,#87b7cd 73px,#efebea 85px,#d89e89 110px,#c6694c 117px,#b0312a 125px,#830f2a 136px,#6b0e25 151px,#620d21 197px,#680d24 257px,#750f29 282px)"></i>
<i style="left:997px;top:722.5px;height:282px;background:linear-gradient(#1162be 0,#2276be 39px,#8ebbd0 57px,#efebea 67px,#d89e89 105px,#ce8167 112px,#c6694c 116px,#b0312a 124px,#830f2a 135px,#6b0e25 150px,#620d21 196px,#680d24 257px,#750f29 282px)"></i>
<i style="left:999px;top:720px;height:278.5px;background:linear-gradient(#2c7fbe 0,#5097be 28px,#a8c7d7 42px,#efebea 49px,#ead5cd 63px,#d89e89 105px,#ce8167 116px,#c6694c 121px,#b0312a 129px,#830f2a 140px,#6b0e25 155px,#620d21 201px,#680d24 254px,#750f29 279px)"></i>
<i style="left:1001px;top:720px;height:272.6px;background:linear-gradient(#4690be 0,#65a3c0 34px,#b2cbd9 50px,#efebea 59px,#d89e89 110px,#ce8167 119px,#c6694c 124px,#b0312a 132px,#830f2a 143px,#6b0e25 158px,#620d21 204px,#680d24 248px,#750f29 273px)"></i>
<i style="left:1003px;top:720px;height:268px;background:linear-gradient(#85b5cc 0,#bed1dd 21px,#efebea 61px,#ead5cd 72px,#d89e89 107px,#ce8167 115px,#c6694c 120px,#b0312a 128px,#830f2a 139px,#6b0e25 154px,#620d21 200px,#680d24 243px,#750f29 268px)"></i>
<i style="left:1005px;top:720px;height:268.4px;background:linear-gradient(#85b6cc 0,#bed1dd 20px,#efebea 58px,#d89e89 105px,#ce8167 113px,#c6694c 118px,#b0312a 126px,#830f2a 137px,#6b0e25 152px,#620d21 198px,#680d24 243px,#750f29 268px)"></i>
<i style="left:1007px;top:720px;height:269.4px;background:linear-gradient(#8ab8ce 0,#c0d2dd 21px,#efebea 61px,#d89e89 108px,#ce8167 117px,#c6694c 121px,#b0312a 129px,#830f2a 140px,#6b0e25 155px,#620d21 201px,#680d24 244px,#750f29 269px)"></i>
<i style="left:1009px;top:720px;height:269.7px;background:linear-gradient(#8bb9cf 0,#c1d3de 25px,#efebea 73px,#d89e89 104px,#ce8167 110px,#c6694c 113px,#b0312a 121px,#830f2a 132px,#6b0e25 147px,#620d21 193px,#680d24 245px,#750f29 270px)"></i>
<i style="left:1011px;top:720px;height:270.9px;background:linear-gradient(#96bfd2 0,#c5d5df 22px,#efebea 63px,#d89e89 100px,#ce8167 107px,#c6694c 111px,#b0312a 119px,#830f2a 130px,#6b0e25 145px,#620d21 191px,#680d24 246px,#750f29 271px)"></i>
<i style="left:1013px;top:720px;height:269.3px;background:linear-gradient(#8dbacf 0,#c1d3de 16px,#efebea 47px,#ead5cd 60px,#d89e89 99px,#ce8167 108px,#c6694c 113px,#b0312a 121px,#830f2a 132px,#6b0e25 147px,#620d21 193px,#680d24 244px,#750f29 269px)"></i>
<i style="left:1015px;top:720px;height:267.7px;background:linear-gradient(#90bcd1 0,#c2d4de 20px,#efebea 57px,#ead5cd 70px,#d89e89 109px,#c6694c 124px,#b0312a 132px,#830f2a 143px,#6b0e25 158px,#620d21 204px,#680d24 243px,#750f29 268px)"></i>
<i style="left:1017px;top:720px;height:266.1px;background:linear-gradient(#86b6cd 0,#bed1dd 26px,#dce2e6 52px,#efebea 75px,#ead5cd 84px,#d89e89 110px,#ce8167 117px,#c6694c 120px,#b0312a 128px,#830f2a 139px,#6b0e25 154px,#620d21 200px,#680d24 241px,#750f29 266px)"></i>
<i style="left:1019px;top:720px;height:263.1px;background:linear-gradient(#91bcd1 0,#c3d4de 28px,#efebea 81px,#ead5cd 88px,#d89e89 109px,#ce8167 114px,#c6694c 117px,#b0312a 125px,#830f2a 136px,#6b0e25 151px,#620d21 197px,#680d24 238px,#750f29 263px)"></i>
<i style="left:1021px;top:720px;height:261.5px;background:linear-gradient(#94bed2 0,#c4d5df 31px,#efebea 87px,#ead5cd 94px,#d89e89 114px,#ce8167 119px,#c6694c 122px,#b0312a 130px,#830f2a 141px,#6b0e25 156px,#620d21 202px,#680d24 237px,#750f29 262px)"></i>
<i style="left:1023px;top:720px;height:259.7px;background:linear-gradient(#9dc2d4 0,#c7d7e0 33px,#efebea 93px,#d89e89 116px,#ce8167 120px,#c6694c 122px,#b0312a 130px,#830f2a 141px,#6b0e25 156px,#620d21 202px,#680d24 235px,#750f29 260px)"></i>
<i style="left:1025px;top:720px;height:262px;background:linear-gradient(#89b8ce 0,#c0d2dd 36px,#efebea 102px,#d89e89 117px,#ce8167 120px,#c6694c 121px,#b0312a 129px,#830f2a 140px,#6b0e25 155px,#620d21 201px,#680d24 237px,#750f29 262px)"></i>
<i style="left:1027px;top:720px;height:265.8px;background:linear-gradient(#66a4c1 0,#adc9d8 35px,#d7dfe5 70px,#efebea 100px,#ead5cd 103px,#d89e89 113px,#ce8167 115px,#c6694c 116px,#b0312a 124px,#830f2a 135px,#6b0e25 150px,#620d21 196px,#680d24 241px,#750f29 266px)"></i>
<i style="left:1029px;top:724.5px;height:263.6px;background:linear-gradient(#2478be 0,#448fbe 51px,#a2c4d6 74px,#efebea 88px,#ead5cd 93px,#d89e89 109px,#ce8167 113px,#c6694c 115px,#b0312a 123px,#830f2a 134px,#6b0e25 149px,#620d21 195px,#680d24 239px,#750f29 264px)"></i>
<i style="left:1031px;top:724.5px;height:266.8px;background:linear-gradient(#2174be 0,#3c8abe 50px,#9ec3d5 73px,#efebea 86px,#ead5cd 91px,#d89e89 106px,#ce8167 110px,#c6694c 112px,#b0312a 120px,#830f2a 131px,#6b0e25 146px,#620d21 192px,#680d24 242px,#750f29 267px)"></i>
<i style="left:1033px;top:724.5px;height:270.8px;background:linear-gradient(#1855b8 0,#1c6ebe 50px,#86b6cd 73px,#efebea 86px,#ead5cd 91px,#d89e89 108px,#ce8167 112px,#c6694c 114px,#b0312a 122px,#830f2a 133px,#6b0e25 148px,#620d21 194px,#680d24 246px,#750f29 271px)"></i>
<i style="left:1035px;top:724.5px;height:272.2px;background:linear-gradient(#1b52b5 0,#1a6cbe 53px,#84b5cc 78px,#efebea 92px,#e1b9aa 101px,#d89e89 107px,#ce8167 109px,#c6694c 111px,#b0312a 119px,#830f2a 130px,#6b0e25 145px,#620d21 191px,#680d24 247px,#750f29 272px)"></i>
<i style="left:1037px;top:724.5px;height:271.9px;background:linear-gradient(#2a40a8 0,#1262be 56px,#7aafc8 82px,#efebea 96px,#d89e89 110px,#ce8167 112px,#c6694c 113px,#b0312a 121px,#830f2a 132px,#6b0e25 147px,#620d21 193px,#680d24 247px,#750f29 272px)"></i>
<i style="left:1039px;top:724.5px;height:271.5px;background:linear-gradient(#263790 0,#1756b8 56px,#71aac5 82px,#efebea 97px,#ead5cd 99px,#d89e89 107px,#ce8167 109px,#c6694c 110px,#b0312a 118px,#830f2a 129px,#6b0e25 144px,#620d21 190px,#680d24 247px,#750f29 272px)"></i>
<i style="left:1041px;top:724.5px;height:271.2px;background:linear-gradient(#212767 0,#293fa6 52px,#61a1bf 76px,#efebea 89px,#ead5cd 93px,#d89e89 106px,#c6694c 111px,#b0312a 119px,#830f2a 130px,#6b0e25 145px,#620d21 191px,#680d24 246px,#750f29 271px)"></i>
<i style="left:1043px;top:724.5px;height:274.3px;background:linear-gradient(#1e245b 0,#273996 47px,#5a9dbe 69px,#efebea 81px,#ead5cd 86px,#d89e89 102px,#ce8167 106px,#c6694c 108px,#b0312a 116px,#830f2a 127px,#6b0e25 142px,#620d21 188px,#680d24 249px,#750f29 274px)"></i>
<i style="left:1045px;top:724.5px;height:277.7px;background:linear-gradient(#191e49 0,#24307f 46px,#4d95be 68px,#efebea 80px,#ead5cd 85px,#d89e89 101px,#c6694c 106px,#b0312a 114px,#830f2a 125px,#6b0e25 140px,#620d21 186px,#680d24 253px,#750f29 278px)"></i>
<i style="left:1047px;top:724.5px;height:279.6px;background:linear-gradient(#191d47 0,#242f7c 49px,#4c94be 72px,#efebea 84px,#d89e89 99px,#ce8167 102px,#c6694c 103px,#b0312a 111px,#830f2a 122px,#6b0e25 137px,#620d21 183px,#680d24 255px,#750f29 280px)"></i>
<i style="left:1049px;top:724.5px;height:283px;background:linear-gradient(#181c43 0,#222c73 50px,#4791be 73px,#efebea 86px,#ead5cd 90px,#d89e89 103px,#ce8167 107px,#c6694c 109px,#b0312a 117px,#830f2a 128px,#6b0e25 143px,#620d21 189px,#680d24 258px,#750f29 283px)"></i>
<i style="left:1051px;top:724.5px;height:286.3px;background:linear-gradient(#181c44 0,#232e78 49px,#4a92be 72px,#efebea 85px,#ead5cd 90px,#d89e89 106px,#ce8167 110px,#c6694c 112px,#b0312a 120px,#830f2a 131px,#6b0e25 146px,#620d21 192px,#680d24 261px,#750f29 286px)"></i>
<i style="left:1053px;top:724.5px;height:289.4px;background:linear-gradient(#181c43 0,#222a6f 49px,#458fbe 72px,#efebea 85px,#ead5cd 89px,#d89e89 103px,#c6694c 108px,#b0312a 116px,#830f2a 127px,#6b0e25 142px,#620d21 188px,#680d24 264px,#750f29 289px)"></i>
<i style="left:1055px;top:724.5px;height:289.1px;background:linear-gradient(#191d47 0,#242f7c 52px,#4c94be 76px,#efebea 90px,#d89e89 105px,#c6694c 110px,#b0312a 118px,#830f2a 129px,#6b0e25 144px,#620d21 190px,#680d24 264px,#750f29 289px)"></i>
<i style="left:1057px;top:724.5px;height:287.4px;background:linear-gradient(#191e49 0,#24307f 54px,#4d95be 80px,#efebea 94px,#e1b9aa 99px,#d89e89 103px,#ce8167 104px,#c6694c 105px,#b0312a 113px,#830f2a 124px,#6b0e25 139px,#620d21 185px,#680d24 262px,#750f29 287px)"></i>
<i style="left:1059px;top:724.5px;height:283.7px;background:linear-gradient(#191d47 0,#242f7c 53px,#4c94be 77px,#efebea 91px,#d89e89 99px,#ce8167 100px,#c6694c 101px,#b0312a 109px,#830f2a 120px,#6b0e25 135px,#620d21 181px,#680d24 259px,#750f29 284px)"></i>
<i style="left:1061px;top:724.5px;height:282.9px;background:linear-gradient(#191e48 0,#24307e 51px,#4d94be 74px,#efebea 87px,#d89e89 105px,#c6694c 110px,#b0312a 118px,#830f2a 129px,#6b0e25 144px,#620d21 190px,#680d24 258px,#750f29 283px)"></i>
<i style="left:1063px;top:724.5px;height:286.3px;background:linear-gradient(#1a1f4d 0,#253284 50px,#5096be 73px,#efebea 86px,#d89e89 100px,#ce8167 103px,#c6694c 104px,#b0312a 112px,#830f2a 123px,#6b0e25 138px,#620d21 184px,#680d24 261px,#750f29 286px)"></i>
<i style="left:1065px;top:724.5px;height:288.3px;background:linear-gradient(#1f2561 0,#283c9e 51px,#5d9fbe 74px,#efebea 87px,#ead5cd 92px,#e1b9aa 100px,#d89e89 106px,#ce8167 110px,#c6694c 112px,#b0312a 120px,#830f2a 131px,#6b0e25 146px,#620d21 192px,#680d24 263px,#750f29 288px)"></i>
<i style="left:1067px;top:724.5px;height:289.5px;background:linear-gradient(#253283 0,#1d4fb3 50px,#6ca8c3 74px,#efebea 87px,#ead5cd 91px,#d89e89 104px,#c6694c 109px,#b0312a 117px,#830f2a 128px,#6b0e25 143px,#620d21 189px,#680d24 265px,#750f29 290px)"></i>
<i style="left:1069px;top:724.5px;height:291.5px;background:linear-gradient(#283c9d 0,#105ebd 52px,#76adc7 76px,#efebea 89px,#d89e89 103px,#c6694c 108px,#b0312a 116px,#830f2a 127px,#6b0e25 142px,#620d21 188px,#680d24 267px,#750f29 292px)"></i>
<i style="left:1071px;top:724.5px;height:293.5px;background:linear-gradient(#214cb1 0,#1769be 53px,#81b3cb 78px,#efebea 92px,#d89e89 105px,#ce8167 107px,#c6694c 109px,#b0312a 117px,#830f2a 128px,#6b0e25 143px,#620d21 189px,#680d24 269px,#750f29 294px)"></i>
<i style="left:1073px;top:724.5px;height:293.6px;background:linear-gradient(#2646ad 0,#1465be 56px,#7db1c9 82px,#efebea 97px,#d89e89 108px,#ce8167 110px,#c6694c 111px,#b0312a 119px,#830f2a 130px,#6b0e25 145px,#620d21 191px,#680d24 269px,#750f29 294px)"></i>
<i style="left:1075px;top:724.5px;height:293.9px;background:linear-gradient(#125cbc 0,#1e72be 55px,#8ab8ce 80px,#efebea 95px,#e1b9aa 100px,#ce8167 104px,#c6694c 105px,#b0312a 113px,#830f2a 124px,#6b0e25 139px,#620d21 185px,#680d24 269px,#750f29 294px)"></i>
<i style="left:1077px;top:724.5px;height:292.2px;background:linear-gradient(#1b6dbe 0,#2e81be 54px,#98c0d3 79px,#efebea 93px,#e1b9aa 100px,#d89e89 103px,#ce8167 105px,#c6694c 106px,#b0312a 114px,#830f2a 125px,#6b0e25 140px,#620d21 186px,#680d24 267px,#750f29 292px)"></i>
<i style="left:1079px;top:724.5px;height:288.3px;background:linear-gradient(#4a93be 0,#69a5c2 56px,#b4ccda 83px,#efebea 97px,#e1b9aa 104px,#d89e89 109px,#ce8167 111px,#c6694c 112px,#b0312a 120px,#830f2a 131px,#6b0e25 146px,#620d21 192px,#680d24 263px,#750f29 288px)"></i>
<i style="left:1081px;top:724.5px;height:286.5px;background:linear-gradient(#6ca7c3 0,#b0cbd9 35px,#d8e0e5 70px,#efebea 100px,#d89e89 108px,#ce8167 110px,#c6694c 111px,#b0312a 119px,#830f2a 130px,#6b0e25 145px,#620d21 191px,#680d24 262px,#750f29 287px)"></i>
<i style="left:1083px;top:724.5px;height:286.2px;background:linear-gradient(#a1c4d5 0,#c9d8e0 37px,#efebea 107px,#e1b9aa 112px,#ce8167 116px,#c6694c 117px,#b0312a 125px,#830f2a 136px,#6b0e25 151px,#620d21 197px,#680d24 261px,#750f29 286px)"></i>
<i style="left:1085px;top:722.5px;height:286.2px;background:linear-gradient(#a1c4d5 0,#c9d7e0 36px,#efebea 103px,#d89e89 111px,#ce8167 113px,#c6694c 114px,#b0312a 122px,#830f2a 133px,#6b0e25 148px,#620d21 194px,#680d24 261px,#750f29 286px)"></i>
<i style="left:1087px;top:722.5px;height:283.5px;background:linear-gradient(#a3c5d6 0,#cad8e1 35px,#efebea 99px,#d89e89 110px,#ce8167 112px,#c6694c 113px,#b0312a 121px,#830f2a 132px,#6b0e25 147px,#620d21 193px,#680d24 259px,#750f29 284px)"></i>
<i style="left:1089px;top:722.5px;height:281.5px;background:linear-gradient(#b5cdda 0,#d0dce3 32px,#efebea 92px,#d89e89 106px,#ce8167 109px,#c6694c 110px,#b0312a 118px,#830f2a 129px,#6b0e25 144px,#620d21 190px,#680d24 257px,#750f29 282px)"></i>
<i style="left:1091px;top:722.5px;height:280.2px;background:linear-gradient(#a7c6d7 0,#cbd9e1 32px,#efebea 90px,#d89e89 114px,#ce8167 118px,#c6694c 120px,#b0312a 128px,#830f2a 139px,#6b0e25 154px,#620d21 200px,#680d24 255px,#750f29 280px)"></i>
<i style="left:1093px;top:722.5px;height:278.2px;background:linear-gradient(#a1c4d5 0,#c9d8e0 31px,#efebea 89px,#ead5cd 96px,#d89e89 119px,#ce8167 125px,#c6694c 128px,#b0312a 136px,#830f2a 147px,#6b0e25 162px,#620d21 208px,#680d24 253px,#750f29 278px)"></i>
<i style="left:1095px;top:722.5px;height:276.9px;background:linear-gradient(#88b7ce 0,#bfd2dd 26px,#efebea 75px,#ead5cd 86px,#d89e89 118px,#ce8167 126px,#c6694c 130px,#b0312a 138px,#830f2a 149px,#6b0e25 164px,#620d21 210px,#680d24 252px,#750f29 277px)"></i>
<i style="left:1097px;top:722.5px;height:274.9px;background:linear-gradient(#83b4cb 0,#bdd1dc 20px,#efebea 57px,#ead5cd 71px,#d89e89 114px,#ce8167 125px,#c6694c 131px,#b0312a 139px,#830f2a 150px,#6b0e25 165px,#620d21 211px,#680d24 250px,#750f29 275px)"></i>
<i style="left:1099px;top:722.5px;height:273.3px;background:linear-gradient(#8ab8ce 0,#c0d2dd 14px,#dce2e6 27px,#efebea 39px,#d89e89 113px,#ce8167 126px,#c6694c 134px,#b0312a 142px,#830f2a 153px,#6b0e25 168px,#620d21 214px,#680d24 248px,#750f29 273px)"></i>
<i style="left:1101px;top:722.5px;height:275.3px;background:linear-gradient(#a1c4d5 0,#c9d8e0 11px,#efebea 33px,#d89e89 110px,#ce8167 124px,#c6694c 132px,#b0312a 140px,#830f2a 151px,#6b0e25 166px,#620d21 212px,#680d24 250px,#750f29 275px)"></i>
<i style="left:1103px;top:722.5px;height:280.2px;background:linear-gradient(#abc8d8 0,#cddae2 9px,#efebea 27px,#d89e89 111px,#ce8167 126px,#c6694c 135px,#b0312a 143px,#830f2a 154px,#6b0e25 169px,#620d21 215px,#680d24 255px,#750f29 280px)"></i>
<i style="left:1105px;top:722.5px;height:282.2px;background:linear-gradient(#abc9d8 0,#cddae2 9px,#efebea 25px,#d89e89 110px,#ce8167 126px,#c6694c 134px,#b0312a 142px,#830f2a 153px,#6b0e25 168px,#620d21 214px,#680d24 257px,#750f29 282px)"></i>
<i style="left:1107px;top:722.5px;height:280.1px;background:linear-gradient(#a6c6d7 0,#cbd9e1 8px,#efebea 21px,#d89e89 110px,#ce8167 126px,#c6694c 135px,#b0312a 143px,#830f2a 154px,#6b0e25 169px,#620d21 215px,#680d24 255px,#750f29 280px)"></i>
<i style="left:1109px;top:722.5px;height:278.7px;background:linear-gradient(#a7c7d7 0,#cbd9e1 6px,#efebea 18px,#d89e89 103px,#ce8167 118px,#c6694c 127px,#b0312a 135px,#830f2a 146px,#6b0e25 161px,#620d21 207px,#680d24 254px,#750f29 279px)"></i>
<i style="left:1111px;top:722.5px;height:278.8px;background:linear-gradient(#afcad9 0,#e2e5e7 11px,#efebea 16px,#d89e89 105px,#ce8167 121px,#c6694c 131px,#b0312a 139px,#830f2a 150px,#6b0e25 165px,#620d21 211px,#680d24 254px,#750f29 279px)"></i>
<i style="left:1113px;top:722.5px;height:277.5px;background:linear-gradient(#a2c4d6 0,#c9d8e0 6px,#efebea 17px,#d89e89 104px,#ce8167 120px,#c6694c 129px,#b0312a 137px,#830f2a 148px,#6b0e25 163px,#620d21 209px,#680d24 252px,#750f29 277px)"></i>
<i style="left:1115px;top:722.5px;height:276.8px;background:linear-gradient(#9cc2d4 0,#c7d7e0 6px,#efebea 18px,#ead5cd 41px,#d89e89 108px,#ce8167 125px,#c6694c 134px,#b0312a 142px,#830f2a 153px,#6b0e25 168px,#620d21 214px,#680d24 252px,#750f29 277px)"></i>
<i style="left:1117px;top:722.5px;height:275.3px;background:linear-gradient(#aac8d7 0,#ccd9e1 7px,#e1e4e7 14px,#efebea 21px,#ead5cd 43px,#d89e89 109px,#c6694c 134px,#b0312a 142px,#830f2a 153px,#6b0e25 168px,#620d21 214px,#680d24 250px,#750f29 275px)"></i>
<i style="left:1119px;top:722.5px;height:273.1px;background:linear-gradient(#9fc3d5 0,#c8d7e0 8px,#efebea 22px,#d89e89 110px,#ce8167 126px,#c6694c 135px,#b0312a 143px,#830f2a 154px,#6b0e25 169px,#620d21 215px,#680d24 248px,#750f29 273px)"></i>
<i style="left:1121px;top:722.5px;height:271.6px;background:linear-gradient(#8cbacf 0,#c1d3de 8px,#efebea 23px,#d89e89 113px,#ce8167 129px,#c6694c 138px,#b0312a 146px,#830f2a 157px,#6b0e25 172px,#620d21 218px,#680d24 247px,#750f29 272px)"></i>
<i style="left:1123px;top:722.5px;height:270.1px;background:linear-gradient(#94bed2 0,#c4d5df 9px,#dee3e6 17px,#efebea 25px,#d89e89 107px,#c6694c 130px,#b0312a 138px,#830f2a 149px,#6b0e25 164px,#620d21 210px,#680d24 245px,#750f29 270px)"></i>
<i style="left:1125px;top:722.5px;height:270.3px;background:linear-gradient(#9dc2d4 0,#c7d7e0 10px,#efebea 27px,#d89e89 104px,#ce8167 118px,#c6694c 126px,#b0312a 134px,#830f2a 145px,#6b0e25 160px,#620d21 206px,#680d24 245px,#750f29 270px)"></i>
<i style="left:1127px;top:722.5px;height:273.7px;background:linear-gradient(#a8c7d7 0,#ccd9e1 10px,#efebea 30px,#d89e89 108px,#ce8167 122px,#c6694c 130px,#b0312a 138px,#830f2a 149px,#6b0e25 164px,#620d21 210px,#680d24 249px,#750f29 274px)"></i>
<i style="left:1129px;top:722.5px;height:275.7px;background:linear-gradient(#a9c7d7 0,#ccd9e1 11px,#efebea 31px,#d89e89 109px,#ce8167 123px,#c6694c 131px,#b0312a 139px,#830f2a 150px,#6b0e25 165px,#620d21 211px,#680d24 251px,#750f29 276px)"></i>
<i style="left:1131px;top:722.5px;height:277px;background:linear-gradient(#a1c4d5 0,#c9d8e0 16px,#efebea 46px,#ead5cd 61px,#d89e89 106px,#ce8167 117px,#c6694c 123px,#b0312a 131px,#830f2a 142px,#6b0e25 157px,#620d21 203px,#680d24 252px,#750f29 277px)"></i>
<i style="left:1133px;top:722.5px;height:279px;background:linear-gradient(#8fbbd0 0,#c2d3de 20px,#efebea 56px,#d89e89 109px,#ce8167 119px,#c6694c 124px,#b0312a 132px,#830f2a 143px,#6b0e25 158px,#620d21 204px,#680d24 254px,#750f29 279px)"></i>
<i style="left:1135px;top:722.5px;height:284.3px;background:linear-gradient(#69a5c2 0,#aecad9 21px,#d7dfe5 43px,#efebea 61px,#ead5cd 73px,#d89e89 109px,#ce8167 118px,#c6694c 122px,#b0312a 130px,#830f2a 141px,#6b0e25 156px,#620d21 202px,#680d24 259px,#750f29 284px)"></i>
<i style="left:1137px;top:720px;height:302.2px;background:linear-gradient(#66a4c1 0,#adc9d8 28px,#d7dfe5 55px,#efebea 79px,#ead5cd 88px,#d89e89 115px,#c6694c 125px,#b0312a 133px,#830f2a 144px,#6b0e25 159px,#620d21 205px,#680d24 277px,#750f29 302px)"></i>
<i style="left:1139px;top:720px;height:296px;background:linear-gradient(#569bbe 0,#71aac5 58px,#b8cedb 85px,#efebea 100px,#d89e89 117px,#c6694c 122px,#b0312a 130px,#830f2a 141px,#6b0e25 156px,#620d21 202px,#680d24 271px,#750f29 296px)"></i>
<i style="left:1141px;top:720px;height:279.4px;background:linear-gradient(#4d94be 0,#6aa6c2 43px,#b5cdda 63px,#efebea 75px,#d89e89 114px,#ce8167 122px,#c6694c 126px,#b0312a 134px,#830f2a 145px,#6b0e25 160px,#620d21 206px,#680d24 254px,#750f29 279px)"></i>
<i style="left:1143px;top:720px;height:270.5px;background:linear-gradient(#80b3ca 0,#bcd0dc 19px,#dbe1e6 37px,#efebea 53px,#d89e89 110px,#ce8167 120px,#c6694c 126px,#b0312a 134px,#830f2a 145px,#6b0e25 160px,#620d21 206px,#680d24 245px,#750f29 270px)"></i>
<i style="left:1145px;top:720px;height:262.9px;background:linear-gradient(#98c0d3 0,#c5d6df 13px,#efebea 37px,#d89e89 102px,#ce8167 114px,#c6694c 120px,#b0312a 128px,#830f2a 139px,#6b0e25 154px,#620d21 200px,#680d24 238px,#750f29 263px)"></i>
<i style="left:1147px;top:720px;height:259.6px;background:linear-gradient(#95bed2 0,#c4d5df 10px,#dee3e6 19px,#efebea 28px,#ead5cd 47px,#d89e89 105px,#ce8167 119px,#c6694c 127px,#b0312a 135px,#830f2a 146px,#6b0e25 161px,#620d21 207px,#680d24 235px,#750f29 260px)"></i>
<i style="left:1149px;top:720px;height:258.4px;background:linear-gradient(#8ebad0 0,#c1d3de 8px,#efebea 23px,#d89e89 107px,#ce8167 122px,#c6694c 131px,#b0312a 139px,#830f2a 150px,#6b0e25 165px,#620d21 211px,#750f29 258px)"></i>
<i style="left:1151px;top:720px;height:258px;background:linear-gradient(#99c0d3 0,#c6d6df 7px,#dee3e7 13px,#efebea 19px,#ead5cd 40px,#d89e89 103px,#ce8167 118px,#c6694c 127px,#b0312a 135px,#830f2a 146px,#6b0e25 161px,#620d21 207px,#680d24 233px,#750f29 258px)"></i>
<i style="left:1153px;top:720px;height:256.9px;background:linear-gradient(#aecad9 0,#cedae2 6px,#efebea 19px,#d89e89 106px,#ce8167 121px,#c6694c 130px,#b0312a 138px,#830f2a 149px,#6b0e25 164px,#620d21 210px,#750f29 257px)"></i>
<i style="left:1155px;top:720px;height:256.2px;background:linear-gradient(#9ec3d5 0,#c8d7e0 6px,#efebea 17px,#d89e89 102px,#ce8167 117px,#c6694c 126px,#b0312a 134px,#830f2a 145px,#6b0e25 160px,#620d21 206px,#680d24 231px,#750f29 256px)"></i>
<i style="left:1157px;top:720px;height:257.4px;background:linear-gradient(#99c0d3 0,#c6d6df 5px,#dee3e7 9px,#efebea 13px,#d89e89 105px,#ce8167 121px,#c6694c 130px,#b0312a 138px,#830f2a 149px,#6b0e25 164px,#620d21 210px,#750f29 257px)"></i>
<i style="left:1159px;top:720px;height:259.4px;background:linear-gradient(#92bdd1 0,#c3d4de 4px,#efebea 13px,#d89e89 99px,#ce8167 114px,#c6694c 123px,#b0312a 131px,#830f2a 142px,#6b0e25 157px,#620d21 203px,#680d24 234px,#750f29 259px)"></i>
<i style="left:1161px;top:720px;height:260.7px;background:linear-gradient(#97bfd3 0,#c5d5df 6px,#dee3e6 11px,#efebea 16px,#ead5cd 37px,#d89e89 99px,#ce8167 114px,#c6694c 123px,#b0312a 131px,#830f2a 142px,#6b0e25 157px,#620d21 203px,#680d24 236px,#750f29 261px)"></i>
<i style="left:1163px;top:720px;height:261.7px;background:linear-gradient(#9ec2d4 0,#c8d7e0 10px,#efebea 29px,#ead5cd 47px,#d89e89 102px,#ce8167 116px,#c6694c 123px,#b0312a 131px,#830f2a 142px,#6b0e25 157px,#620d21 203px,#680d24 237px,#750f29 262px)"></i>
<i style="left:1165px;top:720px;height:264.4px;background:linear-gradient(#95bed2 0,#c4d5df 23px,#efebea 66px,#ead5cd 77px,#d89e89 111px,#ce8167 119px,#c6694c 123px,#b0312a 131px,#830f2a 142px,#6b0e25 157px,#640d22 203px,#690d24 239px,#760f29 264px)"></i>
<i style="left:1167px;top:720px;height:266.3px;background:linear-gradient(#86b6cd 0,#bfd1dd 33px,#efebea 94px,#d89e89 120px,#ce8167 125px,#c6694c 128px,#b0312a 136px,#830f2a 147px,#6b0e25 162px,#660d23 208px,#6b0e25 241px,#790f2a 266px)"></i>
<i style="left:1169px;top:720px;height:269px;background:linear-gradient(#63a2c0 0,#abc8d8 38px,#d6dfe5 77px,#efebea 110px,#e1b9aa 119px,#d89e89 125px,#ce8167 128px,#c6694c 129px,#b0312a 137px,#830f2a 148px,#6b0e25 163px,#680d24 209px,#6d0e26 244px,#7b0f2a 269px)"></i>
<i style="left:1171px;top:720px;height:275.7px;background:linear-gradient(#2579be 0,#458fbe 65px,#a3c5d6 95px,#efebea 112px,#d89e89 123px,#ce8167 126px,#c6694c 127px,#b0312a 135px,#830f2a 146px,#6b0e25 161px,#6f0e27 251px,#7d0f2a 276px)"></i>
<i style="left:1173px;top:720px;height:284.7px;background:linear-gradient(#1a6dbe 0,#2d80be 51px,#98c0d3 74px,#efebea 88px,#ead5cd 96px,#d89e89 121px,#ce8167 127px,#c6694c 130px,#b0312a 138px,#830f2a 149px,#6c0e25 164px,#720e27 260px,#7f0f2a 285px)"></i>
<i style="left:1175px;top:720px;height:274.6px;background:linear-gradient(#224ab0 0,#1668be 44px,#80b3ca 65px,#efebea 76px,#d89e89 120px,#ce8167 128px,#c6694c 133px,#b0312a 141px,#830f2a 152px,#6e0e26 167px,#740f28 250px,#810f2a 275px)"></i>
<i style="left:1177px;top:720px;height:273.6px;background:linear-gradient(#214bb1 0,#1769be 40px,#80b3cb 58px,#efebea 69px,#ead5cd 80px,#d89e89 113px,#c6694c 125px,#b0312a 133px,#830f2a 144px,#700e27 159px,#760f29 249px,#830f2a 274px)"></i>
<i style="left:1179px;top:720px;height:271.3px;background:linear-gradient(#2744ac 0,#1465be 39px,#7db1c9 58px,#efebea 68px,#d89e89 114px,#ce8167 122px,#c6694c 127px,#b0312a 135px,#830f2a 146px,#730e28 161px,#780f2a 246px,#86102a 271px)"></i>
<i style="left:1181px;top:720px;height:270.4px;background:linear-gradient(#2547ae 0,#1566be 43px,#7eb1ca 63px,#efebea 74px,#d89e89 112px,#ce8167 119px,#c6694c 123px,#b0312a 131px,#830f2a 142px,#750f29 157px,#7a0f2a 245px,#88112a 270px)"></i>
<i style="left:1183px;top:720px;height:270.9px;background:linear-gradient(#2546ae 0,#1566be 48px,#7eb1ca 70px,#efebea 83px,#ead5cd 91px,#d89e89 116px,#ce8167 122px,#c6694c 125px,#b0312a 133px,#830f2a 144px,#770f2a 159px,#7c0f2a 246px,#8b122a 271px)"></i>
<i style="left:1185px;top:721.5px;height:268.5px;background:linear-gradient(#2448af 0,#1667be 46px,#7fb2ca 68px,#efebea 80px,#ead5cd 89px,#d89e89 115px,#c6694c 125px,#b0312a 133px,#830f2a 144px,#780f2a 159px,#7d0f2a 243px,#8c122a 268px)"></i>
<i style="left:1187px;top:721.5px;height:268.2px;background:linear-gradient(#2940a6 0,#1162be 43px,#79afc8 64px,#efebea 75px,#ead5cd 84px,#d89e89 113px,#c6694c 123px,#b0312a 131px,#830f2a 142px,#780f2a 157px,#7d0f2a 243px,#8c122a 268px)"></i>
<i style="left:1189px;top:721.5px;height:268.6px;background:linear-gradient(#2744ac 0,#1465be 43px,#7cb1c9 63px,#efebea 74px,#d89e89 113px,#ce8167 120px,#c6694c 124px,#b0312a 132px,#830f2a 143px,#780f2a 158px,#7d0f2a 244px,#8c122a 269px)"></i>
<i style="left:1191px;top:721.5px;height:268.6px;background:linear-gradient(#2a41a9 0,#1263be 43px,#7aafc8 64px,#efebea 75px,#ead5cd 84px,#d89e89 110px,#ce8167 117px,#c6694c 120px,#b0312a 128px,#830f2a 139px,#780f2a 154px,#7d0f2a 244px,#8c122a 269px)"></i>
<i style="left:1193px;top:721.5px;height:269.4px;background:linear-gradient(#283b99 0,#125bbc 43px,#74acc6 63px,#efebea 74px,#d89e89 112px,#c6694c 122px,#b0312a 130px,#830f2a 141px,#780f2a 156px,#7d0f2a 244px,#8c122a 269px)"></i>
<i style="left:1195px;top:719.5px;height:272.8px;background:linear-gradient(#2843ab 0,#1364be 43px,#7cb0c9 63px,#efebea 74px,#d89e89 116px,#ce8167 124px,#c6694c 128px,#b0312a 136px,#830f2a 147px,#780f2a 162px,#7d0f2a 248px,#8c122a 273px)"></i>
<i style="left:1197px;top:719.5px;height:273.5px;background:linear-gradient(#2843ab 0,#1364be 44px,#7cb0c9 64px,#efebea 76px,#ead5cd 86px,#d89e89 117px,#ce8167 125px,#c6694c 129px,#b0312a 137px,#830f2a 148px,#780f2a 163px,#7d0f2a 248px,#8c122a 273px)"></i>
<i style="left:1199px;top:719.5px;height:272.7px;background:linear-gradient(#2348af 0,#1667be 50px,#7fb2ca 73px,#efebea 86px,#d89e89 116px,#ce8167 121px,#c6694c 124px,#b0312a 132px,#830f2a 143px,#780f2a 158px,#7d0f2a 248px,#8c122a 273px)"></i>
<i style="left:1201px;top:719.5px;height:273.2px;background:linear-gradient(#1b51b5 0,#1a6cbe 51px,#84b5cc 75px,#efebea 88px,#d89e89 115px,#c6694c 122px,#b0312a 130px,#830f2a 141px,#780f2a 156px,#7d0f2a 248px,#8c122a 273px)"></i>
<i style="left:1203px;top:719.5px;height:275.2px;background:linear-gradient(#105dbd 0,#1f73be 51px,#8bb9ce 74px,#efebea 87px,#d89e89 118px,#ce8167 124px,#c6694c 127px,#b0312a 135px,#830f2a 146px,#780f2a 161px,#7d0f2a 250px,#8c122a 275px)"></i>
<i style="left:1205px;top:721.5px;height:273.8px;background:linear-gradient(#1060be 0,#2174be 51px,#8cbacf 74px,#efebea 87px,#d89e89 116px,#ce8167 121px,#c6694c 124px,#b0312a 132px,#830f2a 143px,#780f2a 158px,#7d0f2a 249px,#8c122a 274px)"></i>
<i style="left:1207px;top:721.5px;height:273.4px;background:linear-gradient(#1a53b6 0,#1a6dbe 52px,#85b5cc 75px,#efebea 89px,#ead5cd 95px,#d89e89 114px,#ce8167 119px,#c6694c 122px,#b0312a 130px,#830f2a 141px,#780f2a 156px,#7d0f2a 248px,#8c122a 273px)"></i>
<i style="left:1209px;top:721.5px;height:272.3px;background:linear-gradient(#1657b9 0,#1c6fbe 53px,#87b7cd 78px,#efebea 92px,#ead5cd 98px,#d89e89 117px,#ce8167 122px,#c6694c 124px,#b0312a 132px,#830f2a 143px,#780f2a 158px,#7d0f2a 247px,#8c122a 272px)"></i>
<i style="left:1211px;top:721.5px;height:269.7px;background:linear-gradient(#1060be 0,#2174be 51px,#8cbacf 74px,#efebea 87px,#d89e89 117px,#ce8167 123px,#c6694c 126px,#b0312a 134px,#830f2a 145px,#780f2a 160px,#7d0f2a 245px,#8c122a 270px)"></i>
<i style="left:1213px;top:721.5px;height:268.6px;background:linear-gradient(#1061be 0,#2175be 47px,#8dbacf 70px,#efebea 82px,#d89e89 114px,#c6694c 123px,#b0312a 131px,#830f2a 142px,#780f2a 157px,#7d0f2a 244px,#8c122a 269px)"></i>
<i style="left:1215px;top:719.5px;height:269.4px;background:linear-gradient(#1263be 0,#2376be 50px,#8fbbd0 73px,#efebea 86px,#ead5cd 93px,#d89e89 115px,#ce8167 121px,#c6694c 124px,#b0312a 132px,#830f2a 143px,#780f2a 158px,#7d0f2a 244px,#8c122a 269px)"></i>
<i style="left:1217px;top:719.5px;height:271px;background:linear-gradient(#1262be 0,#2276be 50px,#8ebbd0 73px,#efebea 86px,#ead5cd 92px,#d89e89 111px,#c6694c 118px,#b0312a 126px,#830f2a 137px,#780f2a 152px,#7d0f2a 246px,#8c122a 271px)"></i>
<i style="left:1219px;top:719.5px;height:274.3px;background:linear-gradient(#125cbc 0,#1f72be 51px,#8ab8ce 75px,#efebea 88px,#d89e89 115px,#c6694c 122px,#b0312a 130px,#830f2a 141px,#780f2a 156px,#7d0f2a 249px,#8c122a 274px)"></i>
<i style="left:1221px;top:719.5px;height:276.2px;background:linear-gradient(#125bbc 0,#1e71be 51px,#8ab8ce 75px,#efebea 88px,#e1b9aa 104px,#d89e89 114px,#c6694c 121px,#b0312a 129px,#830f2a 140px,#780f2a 155px,#7d0f2a 251px,#8c122a 276px)"></i>
<i style="left:1223px;top:719.5px;height:276.7px;background:linear-gradient(#1855b7 0,#1b6ebe 53px,#86b6cd 78px,#efebea 92px,#ead5cd 98px,#d89e89 117px,#ce8167 122px,#c6694c 124px,#b0312a 132px,#830f2a 143px,#780f2a 158px,#7d0f2a 252px,#8c122a 277px)"></i>
<i style="left:1225px;top:721.5px;height:274.8px;background:linear-gradient(#1558b9 0,#1d70be 52px,#88b7cd 77px,#efebea 90px,#d89e89 117px,#ce8167 122px,#c6694c 125px,#b0312a 133px,#830f2a 144px,#780f2a 159px,#7d0f2a 250px,#8c122a 275px)"></i>
<i style="left:1227px;top:721.5px;height:273.8px;background:linear-gradient(#0f5fbe 0,#2074be 53px,#8cb9cf 78px,#efebea 92px,#d89e89 119px,#ce8167 124px,#c6694c 127px,#b0312a 135px,#830f2a 146px,#780f2a 161px,#7d0f2a 249px,#8c122a 274px)"></i>
<i style="left:1229px;top:721.5px;height:272.1px;background:linear-gradient(#1566be 0,#257abe 55px,#92bdd1 81px,#efebea 95px,#d89e89 117px,#c6694c 124px,#b0312a 132px,#830f2a 143px,#780f2a 158px,#7d0f2a 247px,#8c122a 272px)"></i>
<i style="left:1231px;top:721.5px;height:270.4px;background:linear-gradient(#0f5fbe 0,#2073be 53px,#8bb9cf 78px,#efebea 92px,#d89e89 119px,#ce8167 124px,#c6694c 126px,#b0312a 134px,#830f2a 145px,#780f2a 160px,#7d0f2a 245px,#8c122a 270px)"></i>
<i style="left:1233px;top:721.5px;height:268.9px;background:linear-gradient(#115dbd 0,#1f72be 51px,#8ab9ce 75px,#efebea 88px,#d89e89 117px,#ce8167 122px,#c6694c 125px,#b0312a 133px,#830f2a 144px,#780f2a 159px,#7d0f2a 244px,#8c122a 269px)"></i>
<i style="left:1235px;top:721.5px;height:269.9px;background:linear-gradient(#1558b9 0,#1d70be 55px,#88b7cd 80px,#efebea 95px,#ead5cd 101px,#d89e89 119px,#ce8167 124px,#c6694c 126px,#b0312a 134px,#830f2a 145px,#780f2a 160px,#7d0f2a 245px,#8c122a 270px)"></i>
<i style="left:1237px;top:721.5px;height:271.6px;background:linear-gradient(#1f4db2 0,#186abe 56px,#82b4cb 82px,#efebea 96px,#d89e89 118px,#c6694c 125px,#b0312a 133px,#830f2a 144px,#780f2a 159px,#7d0f2a 247px,#8c122a 272px)"></i>
<i style="left:1239px;top:720px;height:271.6px;background:linear-gradient(#145aba 0,#1e70be 59px,#89b8ce 86px,#efebea 102px,#e1b9aa 114px,#d89e89 122px,#c6694c 127px,#b0312a 135px,#830f2a 146px,#780f2a 161px,#7d0f2a 247px,#8c122a 272px)"></i>
<i style="left:1241px;top:720px;height:270.1px;background:linear-gradient(#1162be 0,#2276be 56px,#8ebbd0 82px,#efebea 97px,#ead5cd 102px,#d89e89 118px,#ce8167 122px,#c6694c 124px,#b0312a 132px,#830f2a 143px,#780f2a 158px,#7d0f2a 245px,#8c122a 270px)"></i>
<i style="left:1243px;top:720px;height:269.9px;background:linear-gradient(#125bbb 0,#1e71be 50px,#89b8ce 73px,#efebea 85px,#d89e89 117px,#c6694c 126px,#b0312a 134px,#830f2a 145px,#780f2a 160px,#7d0f2a 245px,#8c122a 270px)"></i>
<i style="left:1245px;top:720px;height:268.3px;background:linear-gradient(#186abe 0,#287dbe 42px,#95bed2 62px,#efebea 73px,#d89e89 112px,#ce8167 119px,#c6694c 123px,#b0312a 131px,#830f2a 142px,#780f2a 157px,#7d0f2a 243px,#8c122a 268px)"></i>
<i style="left:1247px;top:720px;height:266.7px;background:linear-gradient(#2376be 0,#408cbe 35px,#a0c4d5 52px,#efebea 61px,#ead5cd 74px,#d89e89 113px,#ce8167 122px,#c6694c 127px,#b0312a 135px,#830f2a 146px,#780f2a 161px,#7d0f2a 242px,#8c122a 267px)"></i>
<i style="left:1249px;top:720px;height:265.2px;background:linear-gradient(#3b89be 0,#5d9fbe 32px,#aecad8 47px,#efebea 55px,#d89e89 110px,#ce8167 120px,#c6694c 126px,#b0312a 134px,#830f2a 145px,#780f2a 160px,#7d0f2a 240px,#8c122a 265px)"></i>
<i style="left:1251px;top:720px;height:262.9px;background:linear-gradient(#569bbe 0,#71aac5 27px,#b8cedb 40px,#efebea 47px,#ead5cd 62px,#d89e89 108px,#ce8167 119px,#c6694c 125px,#b0312a 133px,#830f2a 144px,#780f2a 159px,#7d0f2a 238px,#8c122a 263px)"></i>
<i style="left:1253px;top:720px;height:261.3px;background:linear-gradient(#77adc7 0,#b7cedb 14px,#d9e1e5 27px,#efebea 39px,#ead5cd 55px,#d89e89 103px,#ce8167 115px,#c6694c 121px,#b0312a 129px,#830f2a 140px,#780f2a 155px,#7d0f2a 236px,#8c122a 261px)"></i>
<i style="left:1255px;top:720px;height:262.4px;background:linear-gradient(#78aec7 0,#b7cedb 11px,#d9e1e5 21px,#efebea 31px,#d89e89 101px,#ce8167 114px,#c6694c 121px,#b0312a 129px,#830f2a 140px,#780f2a 155px,#7d0f2a 237px,#8c122a 262px)"></i>
<i style="left:1257px;top:720px;height:262.8px;background:linear-gradient(#78aec7 0,#b7cedb 12px,#efebea 34px,#d89e89 104px,#ce8167 117px,#c6694c 124px,#b0312a 132px,#830f2a 143px,#780f2a 158px,#7d0f2a 238px,#8c122a 263px)"></i>
<i style="left:1259px;top:720px;height:261.7px;background:linear-gradient(#7ab0c8 0,#b9cfdb 12px,#dae1e5 24px,#efebea 35px,#d89e89 105px,#c6694c 125px,#b0312a 133px,#830f2a 144px,#780f2a 159px,#7d0f2a 237px,#8c122a 262px)"></i>
<i style="left:1261px;top:720px;height:262.1px;background:linear-gradient(#79afc8 0,#b8cedb 15px,#dae1e5 29px,#efebea 42px,#ead5cd 57px,#d89e89 103px,#ce8167 114px,#c6694c 120px,#b0312a 128px,#830f2a 139px,#780f2a 154px,#7d0f2a 237px,#8c122a 262px)"></i>
<i style="left:1263px;top:720px;height:262.5px;background:linear-gradient(#7bb0c9 0,#b9cfdb 16px,#efebea 47px,#d89e89 104px,#ce8167 115px,#c6694c 120px,#b0312a 128px,#830f2a 139px,#780f2a 154px,#7d0f2a 237px,#8c122a 262px)"></i>
<i style="left:1265px;top:720px;height:262.9px;background:linear-gradient(#72abc5 0,#b4ccda 14px,#d9e0e5 28px,#efebea 40px,#ead5cd 57px,#d89e89 108px,#ce8167 120px,#c6694c 127px,#b0312a 135px,#830f2a 146px,#780f2a 161px,#7d0f2a 238px,#8c122a 263px)"></i>
<i style="left:1267px;top:720px;height:265.3px;background:linear-gradient(#71aac5 0,#b4ccda 9px,#d8e0e5 18px,#efebea 26px,#d89e89 102px,#ce8167 115px,#c6694c 123px,#b0312a 131px,#830f2a 142px,#780f2a 157px,#7d0f2a 240px,#8c122a 265px)"></i>
<i style="left:1269px;top:720px;height:265.7px;background:linear-gradient(#5d9fbe 0,#a8c7d7 10px,#d5dfe4 19px,#efebea 27px,#ead5cd 45px,#d89e89 98px,#ce8167 111px,#c6694c 118px,#b0312a 126px,#830f2a 137px,#780f2a 152px,#7d0f2a 241px,#8c122a 266px)"></i>
<i style="left:1271px;top:720px;height:264px;background:linear-gradient(#6ba7c2 0,#b0cad9 10px,#d7e0e5 20px,#efebea 28px,#d89e89 100px,#c6694c 120px,#b0312a 128px,#830f2a 139px,#780f2a 154px,#7d0f2a 239px,#8c122a 264px)"></i>
<i style="left:1273px;top:720px;height:264.4px;background:linear-gradient(#6ba7c3 0,#b0cbd9 7px,#d7e0e5 14px,#efebea 20px,#d89e89 102px,#ce8167 117px,#c6694c 125px,#b0312a 133px,#830f2a 144px,#780f2a 159px,#7d0f2a 239px,#8c122a 264px)"></i>
<i style="left:1275px;top:720px;height:265.3px;background:linear-gradient(#74acc6 0,#b5cdda 10px,#d9e0e5 19px,#efebea 27px,#ead5cd 47px,#d89e89 106px,#ce8167 120px,#c6694c 128px,#b0312a 136px,#830f2a 147px,#780f2a 162px,#7d0f2a 240px,#8c122a 265px)"></i>
<i style="left:1277px;top:720px;height:266.3px;background:linear-gradient(#72abc5 0,#b4ccda 10px,#d9e0e5 20px,#efebea 28px,#d89e89 104px,#ce8167 118px,#c6694c 126px,#b0312a 134px,#830f2a 145px,#780f2a 160px,#7d0f2a 241px,#8c122a 266px)"></i>
<i style="left:1279px;top:720px;height:268.7px;background:linear-gradient(#74acc6 0,#b5cdda 9px,#d9e0e5 19px,#efebea 27px,#ead5cd 47px,#d89e89 108px,#c6694c 131px,#b0312a 139px,#830f2a 150px,#780f2a 165px,#7d0f2a 244px,#8c122a 269px)"></i>
<i style="left:1281px;top:720px;height:269.6px;background:linear-gradient(#6da8c3 0,#b1cbd9 11px,#d8e0e5 21px,#efebea 30px,#ead5cd 49px,#d89e89 105px,#ce8167 119px,#c6694c 126px,#b0312a 134px,#830f2a 145px,#780f2a 160px,#7d0f2a 245px,#8c122a 270px)"></i>
<i style="left:1283px;top:720px;height:269.5px;background:linear-gradient(#6fa9c4 0,#b2cbd9 10px,#d8e0e5 20px,#efebea 29px,#d89e89 102px,#ce8167 115px,#c6694c 123px,#b0312a 131px,#830f2a 142px,#780f2a 157px,#7d0f2a 244px,#8c122a 269px)"></i>
<i style="left:1285px;top:720px;height:269.4px;background:linear-gradient(#72abc5 0,#b4ccda 9px,#d9e0e5 17px,#efebea 25px,#d89e89 104px,#ce8167 118px,#c6694c 126px,#b0312a 134px,#830f2a 145px,#780f2a 160px,#7d0f2a 244px,#8c122a 269px)"></i>
<i style="left:1287px;top:720px;height:269.3px;background:linear-gradient(#78aec7 0,#b7cedb 11px,#d9e1e5 22px,#efebea 32px,#d89e89 103px,#ce8167 116px,#c6694c 123px,#b0312a 131px,#830f2a 142px,#780f2a 157px,#7d0f2a 244px,#8c122a 269px)"></i>
<i style="left:1289px;top:720px;height:269.2px;background:linear-gradient(#78aec8 0,#b8cedb 12px,#efebea 35px,#d89e89 105px,#c6694c 125px,#b0312a 133px,#830f2a 144px,#780f2a 159px,#7d0f2a 244px,#8c122a 269px)"></i>
<i style="left:1291px;top:720px;height:269.8px;background:linear-gradient(#6ea9c4 0,#b2cbd9 11px,#d8e0e5 22px,#efebea 32px,#ead5cd 49px,#d89e89 99px,#ce8167 112px,#c6694c 119px,#b0312a 127px,#830f2a 138px,#780f2a 153px,#7d0f2a 245px,#8c122a 270px)"></i>
<i style="left:1293px;top:720px;height:269.6px;background:linear-gradient(#6ba7c3 0,#b0cbd9 13px,#d7e0e5 26px,#efebea 37px,#d89e89 100px,#ce8167 111px,#c6694c 117px,#b0312a 125px,#830f2a 136px,#780f2a 151px,#7d0f2a 245px,#8c122a 270px)"></i>
<i style="left:1295px;top:720px;height:268.1px;background:linear-gradient(#67a5c1 0,#aecad8 19px,#d7dfe5 38px,#efebea 54px,#d89e89 109px,#ce8167 119px,#c6694c 125px,#b0312a 133px,#830f2a 144px,#780f2a 159px,#7d0f2a 243px,#8c122a 268px)"></i>
<i style="left:1297px;top:720px;height:270.1px;background:linear-gradient(#73abc6 0,#b5cdda 25px,#d9e0e5 50px,#efebea 71px,#d89e89 118px,#ce8167 126px,#c6694c 131px,#b0312a 139px,#830f2a 150px,#780f2a 165px,#7d0f2a 245px,#8c122a 270px)"></i>
<i style="left:1299px;top:722.5px;height:272.3px;background:linear-gradient(#6fa9c4 0,#b2cbd9 26px,#d8e0e5 51px,#efebea 73px,#d89e89 110px,#ce8167 117px,#c6694c 121px,#b0312a 129px,#830f2a 140px,#780f2a 155px,#7d0f2a 247px,#8c122a 272px)"></i>
<i style="left:1301px;top:722.5px;height:275.5px;background:linear-gradient(#75acc6 0,#b6cdda 28px,#d9e0e5 56px,#efebea 81px,#d89e89 112px,#ce8167 118px,#c6694c 121px,#b0312a 129px,#830f2a 140px,#780f2a 155px,#7d0f2a 251px,#8c122a 276px)"></i>
<i style="left:1303px;top:722.5px;height:278.3px;background:linear-gradient(#77aec7 0,#b7cedb 25px,#d9e1e5 50px,#efebea 72px,#ead5cd 81px,#d89e89 110px,#ce8167 117px,#c6694c 121px,#b0312a 129px,#830f2a 140px,#780f2a 155px,#7d0f2a 253px,#8c122a 278px)"></i>
<i style="left:1305px;top:722.5px;height:281px;background:linear-gradient(#79afc8 0,#b8cedb 23px,#efebea 66px,#d89e89 112px,#ce8167 120px,#c6694c 124px,#b0312a 132px,#830f2a 143px,#780f2a 158px,#7d0f2a 256px,#8c122a 281px)"></i>
<i style="left:1307px;top:722.5px;height:282.3px;background:linear-gradient(#75acc6 0,#b6cdda 22px,#d9e0e5 44px,#efebea 62px,#ead5cd 73px,#d89e89 105px,#ce8167 113px,#c6694c 118px,#b0312a 126px,#830f2a 137px,#780f2a 152px,#7d0f2a 257px,#8c122a 282px)"></i>
<i style="left:1309px;top:722.5px;height:285.1px;background:linear-gradient(#6fa9c4 0,#b2ccda 23px,#d8e0e5 46px,#efebea 65px,#d89e89 106px,#ce8167 114px,#c6694c 118px,#b0312a 126px,#830f2a 137px,#780f2a 152px,#7d0f2a 260px,#8c122a 285px)"></i>
<i style="left:1311px;top:722.5px;height:289.9px;background:linear-gradient(#64a3c0 0,#acc9d8 27px,#d6dfe5 53px,#efebea 76px,#ead5cd 85px,#d89e89 112px,#c6694c 122px,#b0312a 130px,#830f2a 141px,#780f2a 156px,#7d0f2a 265px,#8c122a 290px)"></i>
<i style="left:1313px;top:722.5px;height:294.6px;background:linear-gradient(#73acc6 0,#b5cdda 29px,#d9e0e5 59px,#efebea 84px,#d89e89 114px,#ce8167 120px,#c6694c 123px,#b0312a 131px,#830f2a 142px,#780f2a 157px,#7d0f2a 270px,#8c122a 295px)"></i>
<i style="left:1315px;top:722.5px;height:299.3px;background:linear-gradient(#6da8c3 0,#b1cbd9 33px,#d8e0e5 66px,#efebea 95px,#ead5cd 100px,#d89e89 117px,#ce8167 121px,#c6694c 123px,#b0312a 131px,#830f2a 142px,#780f2a 157px,#7d0f2a 274px,#8c122a 299px)"></i>
<i style="left:1317px;top:728.5px;height:298px;background:linear-gradient(#6ca8c3 0,#b1cbd9 33px,#d8e0e5 66px,#efebea 95px,#ead5cd 98px,#d89e89 109px,#ce8167 111px,#c6694c 113px,#b0312a 121px,#830f2a 132px,#780f2a 147px,#7d0f2a 273px,#8c122a 298px)"></i>
<i style="left:1319px;top:728.5px;height:300.1px;background:linear-gradient(#599cbe 0,#a6c6d7 34px,#d5dee4 69px,#efebea 98px,#d89e89 115px,#c6694c 120px,#b0312a 128px,#830f2a 139px,#780f2a 154px,#7d0f2a 275px,#8c122a 300px)"></i>
<i style="left:1321px;top:728.5px;height:300.1px;background:linear-gradient(#2b7fbe 0,#4f96be 59px,#a7c7d7 87px,#efebea 102px,#d89e89 113px,#ce8167 115px,#c6694c 116px,#b0312a 124px,#830f2a 135px,#780f2a 150px,#7d0f2a 275px,#8c122a 300px)"></i>
<i style="left:1323px;top:728.5px;height:300.1px;background:linear-gradient(#2275be 0,#3e8bbe 57px,#9fc3d5 84px,#efebea 99px,#ead5cd 103px,#d89e89 116px,#ce8167 119px,#c6694c 120px,#b0312a 128px,#830f2a 139px,#780f2a 154px,#7d0f2a 275px,#8c122a 300px)"></i>
<i style="left:1325px;top:728.5px;height:300.1px;background:linear-gradient(#2275be 0,#3e8bbe 56px,#9fc3d5 82px,#efebea 96px,#ead5cd 99px,#d89e89 109px,#ce8167 111px,#c6694c 113px,#b0312a 121px,#830f2a 132px,#780f2a 147px,#7d0f2a 275px,#8c122a 300px)"></i>
<i style="left:1327px;top:728.5px;height:300.5px;background:linear-gradient(#2377be 0,#408cbe 56px,#a0c4d5 82px,#efebea 96px,#d89e89 109px,#ce8167 111px,#c6694c 113px,#b0312a 121px,#830f2a 132px,#780f2a 147px,#7d0f2a 276px,#8c122a 300px)"></i>
<i style="left:1329px;top:728.5px;height:300.5px;background:linear-gradient(#2478be 0,#448fbe 57px,#a2c4d6 83px,#efebea 98px,#ead5cd 101px,#d89e89 110px,#ce8167 112px,#c6694c 113px,#b0312a 121px,#830f2a 132px,#780f2a 147px,#7d0f2a 276px,#8c122a 300px)"></i>
<i style="left:1331px;top:728.5px;height:298.7px;background:linear-gradient(#2175be 0,#3d8abe 50px,#9fc3d5 74px,#efebea 87px,#ead5cd 92px,#d89e89 109px,#ce8167 112px,#c6694c 115px,#b0312a 123px,#830f2a 134px,#780f2a 149px,#7d0f2a 274px,#8c122a 299px)"></i>
<i style="left:1333px;top:728.5px;height:298.7px;background:linear-gradient(#2276be 0,#3f8cbe 60px,#a0c3d5 88px,#efebea 104px,#ead5cd 106px,#e1b9aa 110px,#d89e89 113px,#ce8167 115px,#c6694c 116px,#b0312a 124px,#830f2a 135px,#780f2a 150px,#7d0f2a 274px,#8c122a 299px)"></i>
<i style="left:1335px;top:728.5px;height:299.4px;background:linear-gradient(#1d70be 0,#3384be 49px,#9ac1d4 72px,#efebea 84px,#d89e89 107px,#c6694c 114px,#b0312a 122px,#830f2a 133px,#780f2a 148px,#7d0f2a 274px,#8c122a 299px)"></i>
<i style="left:1337px;top:728.5px;height:299.4px;background:linear-gradient(#196bbe 0,#2a7ebe 57px,#96bfd3 83px,#efebea 98px,#ead5cd 100px,#d89e89 109px,#ce8167 111px,#c6694c 112px,#b0312a 120px,#830f2a 131px,#780f2a 146px,#7d0f2a 274px,#8c122a 299px)"></i>
<i style="left:1339px;top:728.5px;height:299.4px;background:linear-gradient(#125bbc 0,#1e71be 62px,#89b8ce 91px,#efebea 106px,#d89e89 114px,#ce8167 116px,#c6694c 116px,#b0312a 124px,#830f2a 135px,#780f2a 150px,#7d0f2a 274px,#8c122a 299px)"></i>
<i style="left:1341px;top:728.5px;height:299.4px;background:linear-gradient(#224ab0 0,#1668be 55px,#80b3ca 81px,#efebea 95px,#d89e89 109px,#ce8167 112px,#c6694c 113px,#b0312a 121px,#830f2a 132px,#780f2a 147px,#7d0f2a 274px,#8c122a 299px)"></i>
<i style="left:1343px;top:728.5px;height:300.1px;background:linear-gradient(#232e79 0,#2349af 49px,#68a5c2 72px,#efebea 85px,#ead5cd 91px,#d89e89 110px,#c6694c 117px,#b0312a 125px,#830f2a 136px,#780f2a 151px,#7d0f2a 275px,#8c122a 300px)"></i>
<i style="left:1345px;top:728.5px;height:300.1px;background:linear-gradient(#222b70 0,#2844ac 48px,#65a3c0 71px,#efebea 84px,#d89e89 108px,#c6694c 115px,#b0312a 123px,#830f2a 134px,#780f2a 149px,#7d0f2a 275px,#8c122a 300px)"></i>
<i style="left:1347px;top:728.5px;height:300.5px;background:linear-gradient(#222a6f 0,#2843ac 48px,#65a3c0 70px,#efebea 82px,#d89e89 106px,#c6694c 113px,#b0312a 121px,#830f2a 132px,#780f2a 147px,#7d0f2a 276px,#8c122a 300px)"></i>
<i style="left:1349px;top:728.5px;height:300.5px;background:linear-gradient(#222b70 0,#2844ac 47px,#65a3c0 69px,#efebea 81px,#ead5cd 88px,#d89e89 110px,#ce8167 115px,#c6694c 118px,#b0312a 126px,#830f2a 137px,#780f2a 152px,#7d0f2a 276px,#8c122a 300px)"></i>
<i style="left:1351px;top:728.5px;height:299.4px;background:linear-gradient(#232e7a 0,#2249b0 46px,#69a5c2 68px,#efebea 80px,#d89e89 112px,#ce8167 118px,#c6694c 121px,#b0312a 129px,#830f2a 140px,#780f2a 155px,#7d0f2a 274px,#8c122a 299px)"></i></div>
<svg class="l" width="1417" height="1639" viewBox="0 0 1417 1639" font-family="Liberation Sans, sans-serif"><g fill="none" stroke="#000" stroke-width="1.3" stroke-linejoin="round"><polyline points="117.2,184.8 117.5,183.3 117.8,180.4 118.1,177.7 118.3,174.2 118.6,172.6 118.9,170.8 121.3,169.1 123.7,167.7 126.1,166.3 129.2,169 132.4,169.9 133.7,167 134.9,165.1 136.2,162.2 138.3,161.1 140.5,159.4 142.6,158.1 146.4,157.1 147.3,160.5 148.3,163.3 149.2,165.5 150.2,167.5 152.8,166.3 155.3,163.9 157.2,164.7 159.1,169.6 159.9,165.4 160.8,163 161.6,161.8 162.3,165 163.1,165 163.8,167.2 164.5,169.8 165.2,172.3 166,175.5 166.7,178.7 167.2,176.9 167.8,176.6 168.3,174.1 168.9,169.1 169.4,165.4 170,163.5 170.5,161.8 173.1,161.6 175.6,159.8 176.5,158.3 177.4,155.2 178.3,153 179.3,150.7 180.2,147.7 181.1,145.9 182,142.5 184.5,143.5 187.1,143.9 189.6,144.3 190,146.4 190.4,146.9 190.9,149.2 191.3,151.9 191.7,154 192.1,155.9 192.6,158.7 193,160.5 193.4,164.6 195.9,163.4 198.5,165.8 199.8,164.7 201,162.4 202.3,160.1 203.6,158.1 204.8,154.8 205.5,156.6 206.1,158.1 206.8,160.9 207.4,164.4 208,162.7 208.7,158.6 209.3,155.9 209.9,153.1 210.6,151.9 211.2,149 213.3,149 215.5,146.7 215.9,148.4 216.3,150.4 216.8,151.8 217.2,152.9 217.6,156.4 218,160.2 222.6,161.2 222.8,159 223.1,156.8 223.3,154 223.6,151.2 223.8,147.7 224.1,145 224.3,144.3 224.6,141.5 225.9,140.1" /><polyline points="116.4,205.1 117.2,202 118.1,199.5 118.9,199.5 119.7,195.1 121.8,191.8 124,191.3 126.1,189.9 129.2,192 132.4,192.4 134.9,192.2 137.5,189.1 138.2,193.9 139,195 139.7,196.3 140.4,199.3 141.1,201.3 141.9,201.8 142.6,204.2 144.7,201.9 146.8,201.8 148.9,198.8 152.1,200.5 155.3,201 158.4,201.4 161.6,202 162.9,200.8 164.1,196.5 165.4,193.2 168.6,194.6 171.8,194.7 174.1,191.3 176.4,190 177.8,191.2 179.3,195.3 180.7,198 182.8,196.5 184.9,193.4 187,192.2 188.7,191.3 190.4,188.2 192.1,185.4 194.2,184.1 196.4,182 198.5,179.9 201.7,178.9 204.8,177.4 206.7,181 208.6,183 210.3,181.4 212,178.1 213.7,176.8 215,177.9 216.2,178.8 217.5,182.6 218.8,185.6 220.4,185.7 221.9,182.3 223.5,178.8 225.1,178.4 225.8,180.6 226.4,183.8 227,185.7 227.7,188.2 230.2,185.8 232.8,183.7 234.7,185.1 236.6,186.7 238.5,187.1 240.4,191.1 242.1,187.1 243.8,186.5 245.5,184.9 248,186.8 250.5,186.8 250.9,190.1 251.4,192 251.9,195.1 252.3,197.4 252.8,196.7 253.4,192.7 253.9,189.9 254.4,187.5 256.5,184.1 258.6,182.8 260.7,182 262.2,180.2 263.7,177.8 265.3,178.1 266.8,177.2 268.3,173.1 270.1,171.3 271.9,169.4 273.6,169 275.4,167.4 277.2,162.7 279.8,161.8 282.3,161.3 283.6,164.4 284.8,165.8 286.1,167.1 288.6,163.7 291.2,162.4 292.5,158.8 293.7,158.5 295,157.1 296.2,154.3 297.5,152.9 299.4,153.3 301.4,149.8 303.3,148.5 305.2,147.4 308.4,149 311.5,146.8 313.2,150.2 314.9,151.8 316.6,151.8 319.1,153.9 321.7,154.5 322.6,157.6 323.6,160 324.6,162.9 325.5,164.9 328.1,163.5 330.6,163.5 333.8,163.9 336.9,165.2 340.7,164.1 342.8,164.6 345,166.4 347.1,168.9 350.2,169.8 353.4,170 354.7,167.3 356,166.9 357.2,164 358.5,160.9 359.8,158.9 361.7,161.8 363.6,164.4 364,167.2 364.5,172.3 364.9,172.8" /><polyline points="117.9,238.2 120.1,237.1 122.2,234.9 125,236 127.8,236.9 130.6,235.3 133.4,234.8 136.2,235.2 138.8,233.6 141.3,234.9 143.8,234.3 146.4,232.9 148.9,231.7 151.4,233.1 154,231.3 156.5,231.5 159.1,232.9 161.6,235 164.1,236.5 166.7,235.7 169.2,233 171.8,231 174.3,230.6 176.9,229.3 179.4,230.2 181.9,230 184.5,230 187,227.9 190,226.4 192.9,226.6 195.9,226.8 197.9,227.4 200,230.2 202,229.4 204.1,231.2 206.1,232.7 208.4,232.2 210.7,232 212.9,230.7 215.2,230.3 217.5,229.8 220.1,228.4 222.6,226.8 225.2,225.4 227.7,224.9 230.2,223.6 232.8,223.4 235.3,224.7 237.9,224.7 240.4,224.1 242.9,227.7 245.4,226.1 248,227.2 250.6,228.2 253.1,226.4 255.6,225.3 258.2,226.8 260.5,224 262.8,222.4 265,221.5 267.3,220.5 269.6,221.1 272.5,221.7 275.3,220.7 278.1,223.9 281,224.5 284,223.8 286.9,224.8 289.9,223 292.2,224.7 294.5,224.1 296.8,224.9 299.1,227.3 301.4,227.1 303.9,226.2 306.4,223.9 309,224.1 311.5,223.5 314,225.5 316.6,226.6 319.1,227.8 321.7,228.1 324.2,228.7 327.2,228.2 330.1,228.5 333.1,228.2 335,227 336.9,224.4 338.8,223.5 340.7,221.7 343,222.2 345.3,224.3 347.6,226.7 349.9,227.5 352.2,229.8 354.7,230.8 357.3,231.8 359.8,232.1 362.4,230.2 364.9,231" /><polyline points="366.5,201.6 367.1,198.6 367.8,194.5 368.4,195.2 369,192.2 369.7,189.4 370.3,186.4 370.9,189.2 371.4,189.6 372,193.5 372.6,197.8 373.1,198.1 373.7,200.9 374.3,201.8 374.8,203.2 375.4,206.5 376.3,203.1 377.3,200.6 378.2,198.6 379.2,196.4 379.8,194.8 380.5,192.6 381.1,189.8 381.7,187 382.4,183.6 383,181.2 384.7,183.8 386.4,186.3 388.1,188.7 389.8,187.3 391.5,186.6 393.2,182.4 395.8,181.6 398.3,179.7 400,176.7 401.7,174.7 403.4,173.6 403.6,176.5 403.9,179.2 404.1,181.6 404.4,184.6 404.6,186.6 404.8,184.1 405.1,182.1 405.3,180 405.5,178.3 405.8,176.3 406,174.3 406.3,170.7 406.5,168.9 406.7,165.8 407,162.8 407.2,161 408.1,158 409.1,155.1 410.1,152 411,150.5 411.9,151.8 412.8,153 413.7,156.3 414.6,158.9 415.5,161.6 416.1,158.1 416.7,156.1 417.4,154 418,152.7 418.6,149.8 420.3,151.9 422,152.6 423.7,155.7 425,152.1 426.2,151.2 427.5,149.2 430.1,149.4 432.6,147.8 434.8,149.5 436.9,151 437,153 437.1,156.3 437.3,158 437.4,160.1 437.5,162.4 437.6,164.3 437.8,167.2 437.9,169.2 438,172 438.1,174.5 438.3,176.1 438.4,178.8 438.9,180.6 439.4,183.1 440,185.5 440.5,188.1 441,190.6 441.4,188 441.7,185.2 442.1,183 442.4,180.2 442.8,177.5 443.1,175.6 443.5,172.8 446,169.6" /><polyline points="551,142 552.5,160 553.5,174 555,158 554.5,143" /><polyline points="366.5,244.8 366.9,243.8 367.2,240 367.6,237.2 368,234.1 368.4,231.2 368.7,230.3 369.1,227.1 370.4,229.6 371.6,233.3 372.9,237.1 374.1,238 375,236.6 375.8,232.3 376.6,230.9 377.5,228.5 378.4,224.2 379.2,221.7 380,219.6 380.9,216 381.7,213 382.5,211.3 383.1,214.2 383.7,216.1 384.4,218.9 385,222.3 385.6,224.9 387.3,228.5 389,230.5 390.7,231.3 391.4,227.3 392.1,225.5 392.8,224.5 393.6,222.5 394.3,219.1 395,217.3 395.7,214.4 397.3,212.7 398.9,210.4 400.5,207.5 402.1,205.9 402.8,206.6 403.6,209.7 404.3,215.5 405,214.7 405.7,217.8 406.5,221 407.2,222.5 408.1,225.1 409,227.1 409.9,229.4 410.8,230.8 411.7,232.6 412.6,235 413.5,237.2 415.2,235.9 416.9,233.2 418.6,232.5 420.5,235.2 422.4,236 422.9,232.4 423.3,229.6 423.8,227.8 424.3,225.9 424.8,223.1 425.2,222 425.7,219 425.9,217.6 426.1,213.8 426.4,212.3 426.6,209.2 426.8,206.1 427.1,204.4 427.3,202.3 427.5,200.3 430.1,200.2 432.6,199 433.4,200.2 434.1,203.2 434.9,206.8 435.6,209.4 436.4,210.1 438.3,211.4 440.2,215.1 441.2,212.1 442.2,208.1 443.3,206.4 444.3,204.1 445.3,203.3 447.4,203 449.5,201.1 451.6,199.2 453.5,201.8 455.4,202.9 456.3,201.3 457.2,199.4 458.1,197.1 459.1,194.7 460,193 460.9,190.4 461.8,187.6 463.1,185.6 464.3,183.8 465.6,180.7 466.9,178.9 468.1,176.2 469.4,174.8 471.1,177.7 472.8,181.4 474.5,183.5 476.2,182.3 477.9,177.5 479.6,174.8 482.1,172.5 484.6,173.9 487.2,174.6 489.7,177.2 492.3,176.5 494.8,176.9 497.4,175.3 499.6,174.9 501.9,176.5 504.1,180.8 506.3,180.6 507.4,183.5 508.4,185.3 509.5,184.5 510.5,187.5 511.6,190.2 512.6,192.3 515.1,192.5 517.7,195.2 520.2,196 522.8,196.7 525.3,195.2 527.8,194.1 528.8,197 529.8,199.1 530.9,200.2 531.9,202.2 532.9,204.8 535,204.1 537.2,202.3 539.3,201 541.8,204.5 544.4,204.1 546.5,202.5 548.6,201.6 550.7,198.5 551.4,201.1 552.1,203.7 552.8,205.5 553.5,208.7 554.3,209.7 555,212.7 555.7,216.4 556.4,217.6 557.1,219.9 557.3,217.3 557.6,214.8 557.8,213.2 558,210.8 558.3,208.7 558.5,206.6 558.8,204.6 559,200.7 559.2,199.5 559.5,196.4 559.7,194 560,191.2 560.2,189.9 560.4,187.2 560.7,183.2 560.9,181.1 562.8,178.1 564.7,176.1 565.2,178.9 565.8,181.8 566.3,183.8 566.9,186.4 567.4,188.9 568,191.2 568.5,194.4 569.5,197.3 570.4,199.8 571.3,202.6 572.3,204.2 572.6,207.7 572.9,209.4 573.2,212.4 573.5,214.1 573.8,216.9 574.1,218.9 574.3,220.5 574.6,222.5 574.9,224.1 575.2,227.7 575.5,229.3 575.8,230.9 576.1,234.8 579.9,237.1" /><polyline points="365.8,288 366.7,286 367.6,282.7 368.5,280.8 369.4,276.1 370.3,274.9 371.6,274 372.9,271.3 374.1,269.7 375.4,266.5 376.7,265.4 378.8,264.7 380.9,263.4 383,260.2 385.2,262.6 387.4,263.4 389.7,265.9 391.9,267.1 393.7,265.3 395.5,264 397.2,261.5 399,260.7 400.8,257.7 402.3,261.2 403.8,261.7 405.2,262.7 406.7,264.8 408.2,269.8 409.7,268.9 411.9,266.9 414.1,265.2 416.4,264.6 418.6,262.2 421.1,265.2 423.7,264 426.2,266.7 427.9,264.9 429.6,262.2 431.3,261.6 433,258.2 434.7,257.2 436.4,255.7 438.9,255.5 441.5,256.7 444,259.7 446,259.7 448.1,257.2 450.1,256.8 452.2,254 454.2,252.6 456.7,252.5 459.2,250.8 461.8,250.4 464.3,248.8 466.9,248.2 469.4,245.1 471.9,245 474.5,244.8 477.1,244.2 479.6,245.8 482.1,247.1 484.7,248.6 487.6,249.3 490.6,250.2 493.5,249.8 495.7,248.6 497.9,246.8 500.2,244.9 502.4,245.4 505,246.3 507.5,247.8 510.1,249.6 512.2,250.5 514.3,253.5 516.4,255 518.2,253.1 520,253 521.7,249.5 523.5,247.3 525.3,245.1 527.8,244.9 530.4,246.9 532.9,249.7 536.1,251.5 539.3,252.2 541.8,253.5 544.4,255.1 546.9,256.4 548.2,258.1 549.5,260.8 550.7,263.1 552,263.8 553.3,265.3 554.1,262.9 554.9,261.9 555.7,258.9 556.5,257.8 557.2,253.3 558,251.1 558.8,249.1 559.6,245.9 560.4,248 561.1,250.5 561.9,253.5 562.6,256.5 563.4,257.7 564.4,259.3 565.4,263.5 566.5,265.9 567.5,269 568.5,270 570.2,271.5 571.9,272.1 573.6,274.9 574.9,278 576.2,280.9 577.4,284.3 578.7,285.4 579.2,289 579.7,291.1 580.2,293.9 580.7,296.5 581.2,298.4" /><polyline points="582.5,232.1 582.7,230.4 583,227.5 583.2,225.4 583.4,222.5 583.6,219.9 583.9,218 584.1,215.6 584.3,213.4 584.5,210.7 584.8,209 585,207.1 586.7,206.4 588.4,204.5 590.1,201.7 591.4,198.7 592.6,196.1 593.9,194.7 595.6,193.4 597.3,191.3 599,189.8 600,186.7 601,186 602.1,185.8 603.1,182.1 604.1,179 606.6,175.9 609.1,175.7 611.7,173.8 614.2,174.4 616.8,173.6 619.3,173.1 621.8,174.3 624.4,172.4 626.9,174.8 627.5,177.2 628.2,181.2 631.2,181 634.1,181 637.1,180.6 640.2,177.5 643.4,178.5 645.5,176.7 647.7,175.2 649.8,173.9 651.5,175.8 653.2,178.7 654.9,180.9 655.5,183.1 656.1,184.8 656.8,186.7 657.4,189.9 659.5,187.6 661.7,186.8 663.8,183.8 664.5,182.2 665.2,179 666,179.5 666.7,177.6 667.4,173.4 668.1,170.7" /><polyline points="579.9,267.7 580.3,266.2 580.8,264.2 581.2,261.4 581.6,257.5 582.1,254.9 582.5,252.6 583.4,251.1 584.3,248.8 585.2,246.8 586.1,246.1 587,242.8 587.9,240.6 588.8,238.1 589.8,239.9 590.8,243.1 591.9,245.7 592.9,248.8 593.9,250.1 594.8,246.9 595.7,244 596.6,242.5 597.6,240.5 598.5,238.4 599.4,234.7 600.3,234 601.2,236.7 602.2,239 603.1,238.9 604.1,244.5 605.8,242 607.4,240.4 609.1,238 610.4,242.7 611.7,242.6 612.2,238.1 612.8,236.7 613.3,234.8 613.9,231.9 614.4,227.7 615,227.4 615.5,224.6 615.7,222.9 615.9,219.8 616.1,217 616.3,215 616.5,212.4 616.8,209.6 617,207.3 617.2,206.6 617.4,204 617.6,201.7 617.8,197.8 618,196.4 618.8,195.3 619.5,193.4 620.3,191.6 621,186.7 621.8,184.5 622.6,187.2 623.5,190.2 624.3,194.4 625.2,196.5 626,197.3 626.9,199 627.6,201.3 628.4,202.7 629.1,204.3 629.8,208.7 630.5,210.8 631.3,212.1 632,215.3 634,214.8 636.1,212.3 638.1,211.4 640.2,210.4 642.2,208.6 644.5,209.6 646.8,207.3 649,205.8 651.3,205.2 653.6,204.6 656.2,205.4 658.7,206.5 660.2,206.1 661.7,203.5 663.2,200.5 664.6,199 666.1,196.8 667.6,194.6 670.2,196.6 672.7,198.4 675.2,198.8 677.8,196.4 680.3,195.3 682.8,197.1 685.3,197.5 687.9,198.9 690.4,198 692.8,199.1 695.2,198 697.6,197.2 699.7,195.5 701.9,192.6 704,190.6 706.1,193.4 708.2,193.4 710.3,195.2 712.4,196.8 714.6,195.8 716.7,198.3 718,195.3 719.2,192.8 720.5,189.1 721.8,188.1 724.3,189.5 726.8,187.7 729.4,188.6 731.9,188.2 734.5,189.8 737.2,192.2 740,192.7" /><polyline points="582.5,300 583.8,297.4 585,296 586.3,292.8 587.5,290.3 588.8,287.2 591.3,286.6 593.9,285.9 596.5,286.2 599,286.9 601.5,285.8 604.1,286.4 606.6,288.8 609.2,289.7 611.7,291.2 614.2,290 616.5,287.9 618.8,286 621.1,284.6 623.4,283.9 625.7,282.3 628.6,283 631.4,281.9 634.2,284.1 637.1,284.7 639.6,286.5 642.2,284.6 644.8,283.2 647.3,282.6 649.8,283.7 652.4,286.2 654.9,288.8 657,287.9 659.1,284.6 661.2,283.5 663.4,278.8 665.5,278.7 667.6,278.1 670.6,276.6 673.5,276.2 676.5,274.9 678.7,272.8 681,271.4 683.2,271.4 685.4,271.2 687,271.9 688.5,274.9 690.1,276 691.7,278.3 692.7,276.1 693.6,273.5 694.5,270.5 695.5,270 697.7,271.5 700,272.4 702.2,273.5 704.4,276.6 707.2,273.4 710,272.6 713.4,273.5 716.7,273.2" /><polyline points="716.7,223.8 717.5,223.2 718.4,220 719.2,216.4 722.4,215 725.6,213.4 728.8,213.7 731.9,215.5 734.5,212.2 737,210.8 738.9,214.7 740.8,216.1 743.3,214.1 745.9,212 746.5,214.7 747.2,214.8 747.8,218.9 748.4,221.5 749.1,223.7 749.7,225.8 753.5,228.2 753.9,225.9 754.3,222.3 754.6,219.7 755,217.1 755.4,216 755.8,214.5 756.2,211.8 756.5,210 756.9,207.3 757.3,204.8 757.9,207.9 758.6,211.4 759.2,213.7 759.9,214.9 760.5,213.5 761.1,209 761.8,208.1 762.4,205.5" /><polyline points="768.8,204.8 773.8,207.3 778.9,203.5" /><polyline points="782.7,203.5 785.2,205.4 787.8,206 789.5,208.5 791.2,210.8 792.9,212.5 794.2,212.7 795.5,217.5 796.7,219.3 798,221 800.5,221.4 803.1,224.3 804.8,222.6 806.4,221.5 808.1,220.1 809.8,219.8 811.5,215.8 813.2,215.5 814.2,213 815.1,210.1 816,207.8 817,206.3 817.7,203.1 818.4,202.1 819.1,198.6" /><polyline points="907.2,190.8 908.5,206 912.3,209.9" /><polyline points="716.7,251.8 717,254.6 717.3,256.5 717.6,260.1 718,261.9 718.3,263.6 718.6,267.3 718.9,269.9 719.2,272.3 720.2,269.3 721.1,267.3 722,264.1 723,261.6 725.5,258.8 728.1,258.1 729.8,260.2 731.5,263.5 733.2,263.8 733.9,260.9 734.6,258.7 735.3,255.4 736,253.4 736.7,250.4 737.4,247.5 738.1,245.4 738.8,244.7 739.5,241.3 740.8,244.1 742.1,247 743.4,249 744.2,246.8 744.9,244.8 745.7,244.9 746.4,241.4 747.2,238 747.8,241.7 748.5,243.4 749.1,247.1 749.7,247.5 750.4,249.1 751,251.2 752.3,252.3 753.5,256.1 754.8,259.4 756.1,261.9 757.8,258.5 759.4,254.8 761.1,254.4 763.2,254.3 765.4,253.2 767.5,250.5 768.8,253 770,253 771.3,254.6 771.9,255.6 772.6,258.8 773.2,262.4 773.8,264.1 774.5,265 775.1,269.6 775.8,268.8 776.6,264.7 777.3,263.8 778,258.8 778.7,258.1 779.5,253.9 780.2,253.5 781.2,251.2 782.2,248.8 783.3,248.1 784.3,244.1 785.3,241.9 787.8,242.7 790.4,240.7 792.9,242.3 795.4,243.4 797,245.8 798.6,247.4 800.2,248.6 801.8,249.8 803.1,246 804.3,243.5 805.6,243.3 806.9,239.9 808.8,236.2 810.7,233.9 811.7,236.6 812.7,239.2 813.8,242.8 814.8,246 815.8,248.3 816.8,248.1 817.9,246.5 819,244.2 820,242.2 821,238.8 822.1,235.1 823.4,233.7 824.7,231.6 825.9,230.4 827.2,227.3 828.5,225.2 830.4,222.7 832.3,221.6 833.6,224.2 834.8,225.6 836.1,228.5 837.4,230 839.9,229.9 842.4,232.1 844,234.2 845.5,237.4 847,235.2 848.6,231.7 850.1,229.9 852.6,226.1 855.1,225.2 856,222.3 856.8,222.5 857.7,220.6 859.6,224.6 861.5,224.9 863.6,222.4 865.7,220.1 867.8,218.6 869.9,219.9 872.1,221.1 874.2,222.7 875.9,221.9 877.6,220.5 879.3,216.3 881.8,215.3 884.4,212.3 885.7,213.5 886.9,216.4 888.2,219.8 890.7,223.9" /><polyline points="716.7,305.1 719.9,305 723,307.5 725.5,304.5 728.1,303.4 730.1,306.5 732.2,307.3 734.2,310 736.3,312.5 738.3,313.8 740.8,313 743.3,313.6 745.9,311.5 748.4,309.9 751,310.7 753.5,311.6 756,313.5 758.6,313.2 760.5,311.1 762.4,308.3 764.3,307 766.2,304.9 768.8,305.6 771.3,308.6 773.9,309.9 776.4,310.2 778.9,310.5 781.5,309.9 784,307.4 786.5,306.9 789,304.3 791.6,302.8 793.3,304.8 795,305.7 796.7,306.7 798.4,310.6 800.1,311.7 801.8,312.7 803.7,310 805.6,308 807.5,306.5 809.4,304.9 811.5,306.3 813.7,307.2 815.8,309.3 817.4,306.8 819,305.4 820.5,301.2 822.1,299.6 824,298.2 825.9,297.6 827.8,295.2 829.7,293.6 832.3,295 834.8,295 837.4,293.6 839.9,293.1 842.5,293.7 845,294.8 847.5,292.8 850.1,292.8 852.6,292.1 854.5,293.9 856.4,297.1 858.3,299 860.2,300.1 863.2,299.5 866.1,302 869.1,302.5 870.7,300 872.3,299 873.9,295.7 875.5,294.8 877.6,293.7 879.7,292.1 881.8,290.7 884.3,290.6 886.9,292.2 889.4,293.2" /><polyline points="893.3,254.3 893.5,252.2 893.8,249.2 894,246.9 894.3,243.4 894.5,241.8 896.4,244.3 898.3,246.6 900,244.6 901.7,240 903.4,240.4 906,240 908.5,237.9 909.5,236 910.4,232.9 911.3,230 912.3,228.5 912.8,231 913.2,234.7 913.7,236.7 914.2,237.9 914.7,240.9 915.1,244.2 915.6,247.4 915.9,245 916.2,241.2 916.5,238.8 916.8,236.1 917.1,234 917.4,231.6 918.7,232.5 920,228 921.2,226.8 922.5,224.4 923.8,221.5 925,219 926.3,216.4" /><polyline points="890.7,292.4 891,289.9 891.4,287.8 891.7,284.6 892,282.4 892.3,279.5 892.6,277.3 893,273.7 893.3,271.9 895.8,269.1 898.3,270 900.2,274.5 902.1,274.4 904.1,273.8 906,274.9 907.2,271.8 908.5,270.7 909.8,269.9 911,266.1 911.5,267.8 912,269.5 912.5,271.2 913,273.1 913.4,275.6 913.9,279.2 914.4,283.8 914.9,284.8 916.2,282.9 917.4,281.2 918.7,279 919.7,280.5 920.6,283.6 921.5,285.6 922.5,287.3 923,285.7 923.6,282.9 924.1,281.2 924.7,276.4 925.2,274.2 925.8,271.9 926.3,269.9 928.8,270.9 931.4,272 933,271 934.5,267.2 936.1,264.8 937.7,263.4 939.8,266.7 942,262.8 944.1,265 945.1,261.2 946.1,260.1 947.1,256.6 948.1,253.8 949.1,254.1 951.7,251 954.2,250.7 956.1,253.8 958,256.6 958.7,253.4 959.5,251.9 960.2,250.7 960.9,248.9 961.6,247.2 962.4,244.2 963.1,242 965.7,242.5 968.2,240.1 969.1,241.1 970,243.6 970.9,248 971.9,249.9 972.8,255.1 973.7,254.1 974.6,257 975.2,255.7 975.9,251.6 976.5,247.8 977.1,246.4 977.8,242.7 978.4,241.2 979,239.4 979.5,236.5 980,233.6 980.6,231.9 981.2,227.5 981.7,226.3 982.1,228.3 982.6,232.1 983,234.9 983.4,237 983.8,239.5 984.3,242 984.7,244.2 986,246.4 987.2,248.1 988.5,252.1 989.8,248.6 991,247.1 992.3,244.9 993.6,242.8 996.2,243.4 998.7,246.1 1000.6,245.6 1002.5,243.6 1004.4,241.6 1006.3,240.3 1008.5,242.5 1010.6,245.4" /><polyline points="890.7,338.2 891.7,335.5 892.7,332.6 893.8,331 894.8,328.7 895.8,325.6 897.8,323.4 899.9,323.1 901.9,320.4 904,317.8 906,317.5 907.9,318.4 909.8,320.6 911.7,323.6 913.6,325.1 916.1,323.9 918.7,323.4 921.2,322.9 922.1,320.8 923,319.4 923.9,314.6 924.9,311.5 925.8,310.5 926.7,309.2 927.6,305.6 928.5,309.3 929.5,311 930.5,311.4 931.4,313.5 934.5,312.7 937.7,312.3 940.9,314 944.1,315.4 946.6,314.6 949.2,311.3 951.7,310.7 954.2,310.4 956.8,309.7 959.3,309 960.1,312.7 960.8,313.2 961.6,314.8 962.3,318.7 963.1,320.5 963.7,318.7 964.4,316.1 965,313 965.6,312.2 966.3,310 966.9,306.1 969.5,304.6 972,304.1 973,305.5 974,308.5 975.1,311.1 976.1,313.8 977.1,315.2 979.6,317.3 982.2,320.3 984.7,320.8 987.2,321.1 989.8,319.5 992.4,320.2 994.9,323 997.4,323.5 1000,320.8 1002.5,321.5 1005,320.8 1007.8,322.3 1010.6,321.9" /><polyline points="1010.3,290.4 1011.8,291 1013.3,293.8 1014.7,295.5 1016.2,300.5 1017.7,300.9 1019.9,300.1 1022.1,300 1024.3,303.3 1026.5,304.9 1029.4,302.8 1032.4,304.3 1035.3,303.9 1036.5,302.9 1037.7,299.4 1038.8,295.7 1040,294.8 1041.2,292.1 1042,290.5 1042.9,287.8 1043.7,284.1 1044.6,280.2 1045.4,280.9 1046.3,277.2 1047.1,275.4 1048.9,275.2 1050.8,273.9 1052.6,270.9 1054.4,269.8 1056.9,269.7 1059.3,266.8 1061.8,264.5 1063.3,265.8 1064.7,266.2 1066.2,271.4 1066.7,268.7 1067.2,265.8 1067.7,261.8 1068.2,261.5 1068.6,259.4 1069.1,257.2 1069.6,255.6 1070.1,252.4 1070.6,250.4" /><polyline points="1010.3,318.3 1012.5,318.3 1014.7,319.4 1016.9,322 1019.1,321.4 1021,320.5 1022.8,321.7 1024.7,326.3 1026.5,327.6 1028.5,326.7 1030.4,325.9 1032.4,323.2 1034.4,323.9 1036.3,323.5 1038.3,320 1041.2,319.2 1044.2,319.4 1047.1,318.3 1049.1,320.8 1051,320.7 1053,323 1055,325.5 1056.9,327.6 1058.9,329.2 1060.7,326.3 1062.6,326.6 1064.4,325.2 1066.2,321.2 1068.7,322.6 1071.1,324 1073.6,323.7 1075.4,324.4 1077.2,327.6 1079.1,327.5 1080.9,331 1083.4,329.2 1085.8,327.7 1088.3,327.3 1090.1,325.8 1091.9,323.2 1093.8,323.5 1095.6,319.9 1098.1,318.1 1100.5,315.4 1103,315.4 1103.4,312.4 1103.9,310.5 1104.3,308 1104.8,305.2 1105.2,304.1 1105.6,301.4 1106.1,297.4 1106.5,295.8 1107,292.8 1107.4,292.1 1107.7,288.9 1108.1,286.6 1108.4,284.7 1108.7,283.3 1109.1,279.2 1109.4,277.3 1109.7,276.3 1110.1,275 1110.4,271.5 1112.3,270.2 1114.3,267.9 1116.2,266.5 1117.3,266.6 1118.5,265 1119.6,261.4 1120.7,258.6 1123.3,257.6 1125.8,255.1 1128.4,257.8 1131,254.6 1132.8,255.5 1134.7,257.6 1136.5,259.6 1138.3,260.7 1141.2,259.4 1144.2,259.9 1147.1,259.1 1149.1,259.8 1151,262 1153,262.6" /><polyline points="1010.3,328.6 1012.9,330.8 1015.5,331.9 1018,330.7 1020.6,333.3 1023.5,333.5 1026.5,334 1029.4,336.1 1031.8,334.6 1034.1,334.1 1036.5,331.9 1038.8,329.9 1041.2,329.1 1043.8,330 1046.3,329.9 1048.9,331.6 1051.5,332.8 1053.6,332.6 1055.6,335.9 1057.7,337.4 1059.7,337.9 1061.8,340.3 1064.7,340.6 1067.7,339.3 1070.6,339 1072.1,342.1 1073.6,342.9 1075,344.3 1076.5,346.4 1078,348.2 1079.5,350.9 1081.8,350.9 1084.2,350.6 1086.5,348.3 1088.9,349.2 1091.2,347.9 1094.2,348.2 1097.1,349.8 1100,350.9 1103,349.8 1105.2,348.9 1107.4,346.3 1109.6,345.1 1111.8,344.8 1114.3,348.3 1116.7,349.4 1119.2,350.8" /><polyline points="1119.2,336 1120.7,333.6 1122.1,330 1124.6,329.4 1127,327.3 1129.5,326.9 1131,324.1 1132.5,321.7 1133.9,319.9 1135.4,320.1 1136.5,317.7 1137.6,315.5 1138.7,313.4 1139.8,309.9 1140.7,311.2 1141.6,313.9 1142.4,315.6 1143.3,317.9 1144.2,321.1 1147.2,321.9 1150.1,324.1 1151.9,323.4 1153.8,321.1 1155.6,318.6 1157.4,317.8 1159.7,317 1161.9,321.2 1162.6,322.7 1163.4,324.5 1164.1,328.1 1164.8,331.4 1165.6,335.2 1166.3,336.5 1168.3,334.3 1170.2,331.9 1172.2,329.6 1175.1,331.2 1178,332.4 1179.2,330.1 1180.4,329 1181.5,326.1 1182.7,322.6 1183.9,320.7 1185.4,318.6 1186.8,315.3 1188.3,313.1 1189.4,315.1 1190.5,317.5 1191.7,319.5 1192.8,323.6 1193.3,320.9 1193.8,318.1 1194.2,315.7 1194.7,313.6 1195.2,310.7 1195.7,308.9 1196,305.9 1196.3,304 1196.6,302.8 1196.9,300.8 1197.2,298.5 1197.4,296.1 1197.7,294.3 1198,291.5 1198.3,289.3 1198.6,285.6 1200.1,283.5 1201.6,280.1" /><polyline points="1322.2,284.5 1324.2,285.2 1326.1,287.2 1328.1,289.7 1329.2,292.5 1330.3,294.2 1331.4,297.7 1332.5,300.7 1332.9,303.6 1333.4,305.7 1333.8,308 1334.2,310.2 1334.6,312.1 1335.1,314.4 1335.5,318.5 1336.6,319.9 1337.7,323.1 1338.8,325.5 1339.9,326.8 1340.5,329.1 1341.1,331.6 1341.6,333.6 1342.2,335.7 1342.8,339 1343.5,342.4 1344.3,343.3 1345,346 1345.8,347.3 1346.5,350.1 1347.3,351.8 1347.8,350.1 1348.4,349.3 1349,346.1 1349.5,342.4 1350,339.1 1350.6,338 1351.2,336.5 1351.7,333.6 1353.9,335.5 1356.1,335.6 1358.8,337.4 1361.4,336.6" /><polyline points="1119.2,356.6 1121.4,354.9 1123.6,352.3 1125.4,349.9 1127.1,348.2 1128.9,346.4 1130.6,343.9 1132.4,341.5 1133.9,339.4 1135.4,338.4 1136.8,336.1 1138.3,334 1139.8,333.2 1140.7,335.6 1141.6,337.9 1142.4,339.7 1143.3,342.5 1144.2,344.7 1146.4,343.3 1148.6,341.9 1150.8,342.4 1153,340.7 1155.5,341.4 1157.9,343.7 1160.4,344.1 1162.2,348.7 1164.1,348.9 1165.9,348.9 1167.7,350.6 1170.7,350.1 1173.6,347.2 1175.6,347.4 1177.5,351.7 1179.5,352.5 1182,352.7 1184.4,347.9 1186.9,347.4 1189.1,348.3 1191.3,351.3 1193.5,352.6 1195.7,353.2 1197.7,353.9 1199.6,354.4 1201.6,357.2 1203.6,353.4 1205.5,351.9 1207.5,353.2 1209.3,354.7 1211.2,357.2 1213,359.1 1214.8,360.7 1215.5,359.4 1216.3,354.9 1217,353.3 1217.7,351.1 1218.5,349 1219.2,347.8 1219.7,346.4 1220.1,343.9 1220.5,340.3 1221,337.8 1221.5,335.9 1221.9,333.9 1222.4,331.3 1222.8,328.8 1223.2,326.1 1223.7,324.3 1224.4,320.4 1225.2,318.4 1225.9,317.6 1226.6,314 1227.4,314.3 1228.1,309.8 1229.2,307.2 1230.3,304.5 1231.4,302 1232.5,300.6 1235.5,301.9 1238.4,300.9 1239.2,303.2 1240.1,305.1 1240.9,307.9 1241.8,310.5 1242.6,312.5 1243.5,315.6 1244.3,316.9 1244.8,315.5 1245.4,312.1 1246,309.9 1246.5,308.2 1247,305.6 1247.6,303.6 1248.2,301.1 1248.7,298.3 1250.5,296.9 1252.3,296.1 1254.2,293.9 1256,289.7 1257.1,293.5 1258.2,295.1 1259.3,298.4 1260.4,299.4 1261.9,296.5 1263.4,294 1264.9,293.6 1266.4,298.3 1267.8,299 1269.3,300.3 1270.3,298.5 1271.2,295.5 1272.2,292.9 1273.1,295.2 1274,298.2 1274.8,300.7 1275.7,302.7 1276.6,304.6 1277.6,301.9 1278.6,300.8 1279.6,298.2 1279.9,301.6 1280.2,302.4 1280.5,304.4 1280.9,307.1 1281.2,310.2 1281.5,311.9 1281.8,313.1 1282.1,314.9 1282.4,317.7 1282.7,320.7 1283.1,323.8 1283.4,326.6 1283.7,327.4 1284,330.5 1285,332.8 1286,331.8 1287,335 1287.9,337.4 1288.9,340.5 1289.9,343.1 1290.9,338.8 1291.9,337.6 1292.8,335.5 1293.8,333.9 1294.8,330.7 1295.8,329.9 1298,325.9 1300.2,326 1300.9,328.1 1301.7,331.2 1302.4,332.7 1303.1,335.3 1303.9,337.4 1304.6,340.6 1305.3,343.5 1306.1,345.4 1306.8,348 1307.5,350.9 1308.3,355 1309,355.5 1310.8,358 1312.7,360.7 1314.6,362.4 1316.4,362.9 1318.3,360.8 1320.3,360.6 1322.2,358.9 1323.7,356 1325.2,351.8 1326.6,350.2 1328.1,348.4 1328.5,350.8 1329,353.6 1329.4,355.4 1329.8,358.7 1330.2,359.9 1330.7,361.8 1331.1,365.2 1332.2,362.8 1333.3,361.4 1334.4,359.3 1335.5,355.7 1337,355.7 1338.5,351.3 1339.9,348.5 1341.4,347.2 1342.1,349.4 1342.9,351.7 1343.6,356.4 1344.3,358.6 1345.1,359.3 1345.8,363 1346.6,364.1 1347.3,367 1348,364.9 1348.8,361.7 1349.5,359.9 1350.2,356 1351,356.1 1351.7,354.5 1353.9,353.9 1356.1,349.8 1358.8,348.4 1361.4,350.5" /><polyline points="1119.2,375.7 1121.8,378.3 1124.3,378.9 1126.9,381.3 1129.5,382.6 1132.5,381 1135.4,381.6 1138.3,381.4 1141.3,380.3 1143.6,381.2 1146,378.9 1148.3,378.8 1150.7,377.3 1153,375.6 1155.5,375.4 1157.9,375.5 1160.4,374.5 1162.2,376.7 1163.9,378.5 1165.7,380.4 1167.4,381.1 1169.2,383 1171.7,384.8 1174.1,387 1176.6,386.8 1178.4,383.8 1180.1,382.2 1181.9,381 1183.6,379.1 1185.4,376.9 1188.3,375.8 1191.3,376 1194.2,375.2 1196.8,373.9 1199.3,373.9 1201.9,371.7 1204.5,372.4 1207.1,374.4 1209.7,374.9 1212.2,374.3 1214.8,376.9 1217.4,375.5 1219.9,376.2 1222.5,375.8 1225.1,374.9 1227.7,375.4 1230.2,373.9 1232.8,376.2 1235.4,377.5 1237.6,377.7 1239.8,375.4 1242.1,372.6 1244.3,370.3 1246.7,368.2 1249.2,365 1251.6,363.4 1253.6,362 1255.5,359.6 1257.5,359.1 1260,360.2 1262.4,361.1 1264.9,363.5 1267.1,362.3 1269.3,361.3 1270,363.8 1270.8,366.9 1271.5,368.5 1272.2,371.4 1273,374.2 1273.7,375.8 1275.7,371.7 1277.6,369.3 1279.6,368.4 1281.8,368.6 1284,365.9 1286,368.1 1287.9,370.7 1289.9,373 1291.9,377.1 1293.8,379 1295.8,380.2 1296.8,378.3 1297.7,375.4 1298.7,372.9 1301.2,374.5 1303.6,376.6 1306.1,377.8 1308.4,377.2 1310.8,378.2 1313.1,380.3 1315.5,382.3 1317.8,383.4 1319.6,380.9 1321.4,377.8 1323.1,377.3 1324.9,376.1 1326.7,374.2 1327.9,377.2 1329,379.6 1330.2,382.5 1331.3,384.7 1332.5,385.9 1333.5,384.1 1334.5,381.7 1335.5,380.3 1336.4,377.8 1337.4,373.2 1338.4,372.6 1339.2,375 1340.1,376.8 1340.9,379 1341.8,383.1 1342.6,385.1 1343.5,387.8 1344.3,390.7 1346.5,392.8 1348.7,393.5 1349.6,390.4 1350.5,388.3 1351.3,386 1352.2,384.1 1353.1,381.3 1355.9,380.5 1358.6,380.3 1361.4,377.9" /><polyline points="740.5,193.5 743,192 745.5,193 746.5,196.5 744,197.5 741,196.5" /><polyline points="1058.5,221 1059.5,230" /><polyline points="1070.6,218 1072,228 1075,238 1077.5,246" /><polyline points="1153,262 1155,270 1157,266 1159.5,279" /><polyline points="1178,262 1180,275 1183,268 1186,277 1189,266 1192,276" /></g><g fill="none" stroke="#000" stroke-width="1.6" stroke-linejoin="round"><polyline points="117.2,184.8 117.5,183.3 117.8,180.4 118.1,177.7 118.3,174.2 118.6,172.6 118.9,170.8 121.3,169.1 123.7,167.7 126.1,166.3 129.2,169 132.4,169.9 133.7,167 134.9,165.1 136.2,162.2 138.3,161.1 140.5,159.4 142.6,158.1 146.4,157.1 147.3,160.5 148.3,163.3 149.2,165.5 150.2,167.5 152.8,166.3 155.3,163.9 157.2,164.7 159.1,169.6 159.9,165.4 160.8,163 161.6,161.8 162.3,165 163.1,165 163.8,167.2 164.5,169.8 165.2,172.3 166,175.5 166.7,178.7 167.2,176.9 167.8,176.6 168.3,174.1 168.9,169.1 169.4,165.4 170,163.5 170.5,161.8 173.1,161.6 175.6,159.8 176.5,158.3 177.4,155.2 178.3,153 179.3,150.7 180.2,147.7 181.1,145.9 182,142.5 184.5,143.5 187.1,143.9 189.6,144.3 190,146.4 190.4,146.9 190.9,149.2 191.3,151.9 191.7,154 192.1,155.9 192.6,158.7 193,160.5 193.4,164.6 195.9,163.4 198.5,165.8 199.8,164.7 201,162.4 202.3,160.1 203.6,158.1 204.8,154.8 205.5,156.6 206.1,158.1 206.8,160.9 207.4,164.4 208,162.7 208.7,158.6 209.3,155.9 209.9,153.1 210.6,151.9 211.2,149 213.3,149 215.5,146.7 215.9,148.4 216.3,150.4 216.8,151.8 217.2,152.9 217.6,156.4 218,160.2 222.6,161.2 222.8,159 223.1,156.8 223.3,154 223.6,151.2 223.8,147.7 224.1,145 224.3,144.3 224.6,141.5 225.9,140.1" /><polyline points="366.5,201.6 367.1,198.6 367.8,194.5 368.4,195.2 369,192.2 369.7,189.4 370.3,186.4 370.9,189.2 371.4,189.6 372,193.5 372.6,197.8 373.1,198.1 373.7,200.9 374.3,201.8 374.8,203.2 375.4,206.5 376.3,203.1 377.3,200.6 378.2,198.6 379.2,196.4 379.8,194.8 380.5,192.6 381.1,189.8 381.7,187 382.4,183.6 383,181.2 384.7,183.8 386.4,186.3 388.1,188.7 389.8,187.3 391.5,186.6 393.2,182.4 395.8,181.6 398.3,179.7 400,176.7 401.7,174.7 403.4,173.6 403.6,176.5 403.9,179.2 404.1,181.6 404.4,184.6 404.6,186.6 404.8,184.1 405.1,182.1 405.3,180 405.5,178.3 405.8,176.3 406,174.3 406.3,170.7 406.5,168.9 406.7,165.8 407,162.8 407.2,161 408.1,158 409.1,155.1 410.1,152 411,150.5 411.9,151.8 412.8,153 413.7,156.3 414.6,158.9 415.5,161.6 416.1,158.1 416.7,156.1 417.4,154 418,152.7 418.6,149.8 420.3,151.9 422,152.6 423.7,155.7 425,152.1 426.2,151.2 427.5,149.2 430.1,149.4 432.6,147.8 434.8,149.5 436.9,151 437,153 437.1,156.3 437.3,158 437.4,160.1 437.5,162.4 437.6,164.3 437.8,167.2 437.9,169.2 438,172 438.1,174.5 438.3,176.1 438.4,178.8 438.9,180.6 439.4,183.1 440,185.5 440.5,188.1 441,190.6 441.4,188 441.7,185.2 442.1,183 442.4,180.2 442.8,177.5 443.1,175.6 443.5,172.8 446,169.6" /><polyline points="551,142 552.5,160 553.5,174 555,158 554.5,143" /><polyline points="582.5,232.1 582.7,230.4 583,227.5 583.2,225.4 583.4,222.5 583.6,219.9 583.9,218 584.1,215.6 584.3,213.4 584.5,210.7 584.8,209 585,207.1 586.7,206.4 588.4,204.5 590.1,201.7 591.4,198.7 592.6,196.1 593.9,194.7 595.6,193.4 597.3,191.3 599,189.8 600,186.7 601,186 602.1,185.8 603.1,182.1 604.1,179 606.6,175.9 609.1,175.7 611.7,173.8 614.2,174.4 616.8,173.6 619.3,173.1 621.8,174.3 624.4,172.4 626.9,174.8 627.5,177.2 628.2,181.2 631.2,181 634.1,181 637.1,180.6 640.2,177.5 643.4,178.5 645.5,176.7 647.7,175.2 649.8,173.9 651.5,175.8 653.2,178.7 654.9,180.9 655.5,183.1 656.1,184.8 656.8,186.7 657.4,189.9 659.5,187.6 661.7,186.8 663.8,183.8 664.5,182.2 665.2,179 666,179.5 666.7,177.6 667.4,173.4 668.1,170.7" /><polyline points="716.7,223.8 717.5,223.2 718.4,220 719.2,216.4 722.4,215 725.6,213.4 728.8,213.7 731.9,215.5 734.5,212.2 737,210.8 738.9,214.7 740.8,216.1 743.3,214.1 745.9,212 746.5,214.7 747.2,214.8 747.8,218.9 748.4,221.5 749.1,223.7 749.7,225.8 753.5,228.2 753.9,225.9 754.3,222.3 754.6,219.7 755,217.1 755.4,216 755.8,214.5 756.2,211.8 756.5,210 756.9,207.3 757.3,204.8 757.9,207.9 758.6,211.4 759.2,213.7 759.9,214.9 760.5,213.5 761.1,209 761.8,208.1 762.4,205.5" /><polyline points="768.8,204.8 773.8,207.3 778.9,203.5" /><polyline points="782.7,203.5 785.2,205.4 787.8,206 789.5,208.5 791.2,210.8 792.9,212.5 794.2,212.7 795.5,217.5 796.7,219.3 798,221 800.5,221.4 803.1,224.3 804.8,222.6 806.4,221.5 808.1,220.1 809.8,219.8 811.5,215.8 813.2,215.5 814.2,213 815.1,210.1 816,207.8 817,206.3 817.7,203.1 818.4,202.1 819.1,198.6" /><polyline points="907.2,190.8 908.5,206 912.3,209.9" /><polyline points="893.3,254.3 893.5,252.2 893.8,249.2 894,246.9 894.3,243.4 894.5,241.8 896.4,244.3 898.3,246.6 900,244.6 901.7,240 903.4,240.4 906,240 908.5,237.9 909.5,236 910.4,232.9 911.3,230 912.3,228.5 912.8,231 913.2,234.7 913.7,236.7 914.2,237.9 914.7,240.9 915.1,244.2 915.6,247.4 915.9,245 916.2,241.2 916.5,238.8 916.8,236.1 917.1,234 917.4,231.6 918.7,232.5 920,228 921.2,226.8 922.5,224.4 923.8,221.5 925,219 926.3,216.4" /><polyline points="1010.3,290.4 1011.8,291 1013.3,293.8 1014.7,295.5 1016.2,300.5 1017.7,300.9 1019.9,300.1 1022.1,300 1024.3,303.3 1026.5,304.9 1029.4,302.8 1032.4,304.3 1035.3,303.9 1036.5,302.9 1037.7,299.4 1038.8,295.7 1040,294.8 1041.2,292.1 1042,290.5 1042.9,287.8 1043.7,284.1 1044.6,280.2 1045.4,280.9 1046.3,277.2 1047.1,275.4 1048.9,275.2 1050.8,273.9 1052.6,270.9 1054.4,269.8 1056.9,269.7 1059.3,266.8 1061.8,264.5 1063.3,265.8 1064.7,266.2 1066.2,271.4 1066.7,268.7 1067.2,265.8 1067.7,261.8 1068.2,261.5 1068.6,259.4 1069.1,257.2 1069.6,255.6 1070.1,252.4 1070.6,250.4" /><polyline points="1119.2,336 1120.7,333.6 1122.1,330 1124.6,329.4 1127,327.3 1129.5,326.9 1131,324.1 1132.5,321.7 1133.9,319.9 1135.4,320.1 1136.5,317.7 1137.6,315.5 1138.7,313.4 1139.8,309.9 1140.7,311.2 1141.6,313.9 1142.4,315.6 1143.3,317.9 1144.2,321.1 1147.2,321.9 1150.1,324.1 1151.9,323.4 1153.8,321.1 1155.6,318.6 1157.4,317.8 1159.7,317 1161.9,321.2 1162.6,322.7 1163.4,324.5 1164.1,328.1 1164.8,331.4 1165.6,335.2 1166.3,336.5 1168.3,334.3 1170.2,331.9 1172.2,329.6 1175.1,331.2 1178,332.4 1179.2,330.1 1180.4,329 1181.5,326.1 1182.7,322.6 1183.9,320.7 1185.4,318.6 1186.8,315.3 1188.3,313.1 1189.4,315.1 1190.5,317.5 1191.7,319.5 1192.8,323.6 1193.3,320.9 1193.8,318.1 1194.2,315.7 1194.7,313.6 1195.2,310.7 1195.7,308.9 1196,305.9 1196.3,304 1196.6,302.8 1196.9,300.8 1197.2,298.5 1197.4,296.1 1197.7,294.3 1198,291.5 1198.3,289.3 1198.6,285.6 1200.1,283.5 1201.6,280.1" /><polyline points="1322.2,284.5 1324.2,285.2 1326.1,287.2 1328.1,289.7 1329.2,292.5 1330.3,294.2 1331.4,297.7 1332.5,300.7 1332.9,303.6 1333.4,305.7 1333.8,308 1334.2,310.2 1334.6,312.1 1335.1,314.4 1335.5,318.5 1336.6,319.9 1337.7,323.1 1338.8,325.5 1339.9,326.8 1340.5,329.1 1341.1,331.6 1341.6,333.6 1342.2,335.7 1342.8,339 1343.5,342.4 1344.3,343.3 1345,346 1345.8,347.3 1346.5,350.1 1347.3,351.8 1347.8,350.1 1348.4,349.3 1349,346.1 1349.5,342.4 1350,339.1 1350.6,338 1351.2,336.5 1351.7,333.6 1353.9,335.5 1356.1,335.6 1358.8,337.4 1361.4,336.6" /></g><g fill="none" stroke="#000" stroke-width="3" stroke-linejoin="round"><polyline points="740.5,193.5 743,192 745.5,193 746.5,196.5 744,197.5 741,196.5" /><polyline points="1058.5,221 1059.5,230" /></g><g fill="none" stroke="#000" stroke-width="2.6" stroke-linejoin="round"><polyline points="893.3,254.3 893.5,252.2 893.8,249.2 894,246.9 894.3,243.4 894.5,241.8 896.4,244.3 898.3,246.6 900,244.6 901.7,240 903.4,240.4 906,240 908.5,237.9 909.5,236 910.4,232.9 911.3,230 912.3,228.5 912.8,231 913.2,234.7 913.7,236.7 914.2,237.9 914.7,240.9 915.1,244.2 915.6,247.4 915.9,245 916.2,241.2 916.5,238.8 916.8,236.1 917.1,234 917.4,231.6 918.7,232.5 920,228 921.2,226.8 922.5,224.4 923.8,221.5 925,219 926.3,216.4" /></g><g fill="none" stroke="#1c1c1c" stroke-width="1.4"><polyline points="116.4,110.6 116.4,388.9 354.8,598.8 1361.9,549.7" /><line x1="96.8" y1="94.1" x2="116.4" y2="110.6" /><line x1="96.8" y1="223.5" x2="116.4" y2="240" /><line x1="96.8" y1="352.1" x2="116.4" y2="368.6" /><line x1="127.4" y1="423.4" x2="151.2" y2="421.9" /><line x1="186" y1="473.8" x2="209.8" y2="472.3" /><line x1="243.8" y1="523.8" x2="267.6" y2="522.3" /><line x1="301.3" y1="574.2" x2="325.1" y2="572.7" /><line x1="529.6" y1="590.5" x2="546.1" y2="605.6" /><line x1="712.7" y1="580.5" x2="731.4" y2="597.2" /><line x1="898.4" y1="571.9" x2="916.6" y2="589.1" /><line x1="1083.6" y1="562.8" x2="1101.3" y2="579.5" /><line x1="1269.3" y1="554.2" x2="1287" y2="570.9" /></g><g fill="#262626" stroke="none"><text transform="translate(89,99) scale(0.957,1)" font-size="32.7" text-anchor="end" >0</text><text transform="translate(89,228.3) scale(0.957,1)" font-size="32.7" text-anchor="end" >5</text><text transform="translate(89,357.3) scale(0.957,1)" font-size="32.7" text-anchor="end" >10</text><text transform="translate(29.5,250) rotate(-90) scale(0.957,1)" font-size="32.7" text-anchor="middle" >Depth (m)</text><text transform="translate(10,455.4) scale(0.957,1)" font-size="32.7" >-45.445</text><text transform="translate(85,505.7) scale(0.957,1)" font-size="32.7" >-45.45</text><text transform="translate(125,556.1) scale(0.957,1)" font-size="32.7" >-45.455</text><text transform="translate(200,607.1) scale(0.957,1)" font-size="32.7" >-45.46</text><text transform="translate(14.8,642) scale(0.97,1)" font-size="32.7" >Latitude</text><text transform="translate(554.6,647.1) scale(0.957,1)" font-size="32.7" >167.135</text><text transform="translate(740.4,637.7) scale(0.957,1)" font-size="32.7" >167.14</text><text transform="translate(925,628.6) scale(0.957,1)" font-size="32.7" >167.145</text><text transform="translate(1109.8,619.5) scale(0.957,1)" font-size="32.7" >167.15</text><text transform="translate(1294.4,610.5) scale(0.957,1)" font-size="32.7" >167.155</text><text transform="translate(781.3,681.5) scale(0.957,1)" font-size="32.7" >Longitude</text><text transform="translate(122.8,80.2) scale(1.06,1)" font-size="32.2" font-weight="bold" fill="#000">A</text><text transform="translate(123.7,693.2) scale(1.06,1)" font-size="32.2" font-weight="bold" fill="#000">B</text><text transform="translate(777.3,116.3) scale(1.0,1)" font-size="44.1" >Q</text><text transform="translate(1318.2,203.2) scale(1.0,1)" font-size="36.5" >x</text><text transform="translate(1351.5,203.2) scale(1.0,1)" font-size="36.5" >=</text><text transform="translate(1389.6,203.2) scale(1.0,1)" font-size="36.5" >0</text><text transform="translate(1084.2,40) scale(0.957,1)" font-size="32.7" >(</text><text transform="translate(1094.2,25.3) scale(0.957,1)" font-size="25.6" >&#176;</text><text transform="translate(1113.5,40) scale(0.957,1)" font-size="32.7" >C</text><text transform="translate(1137.3,40) scale(0.957,1)" font-size="32.7" >)</text><text transform="translate(938.1,95.5) scale(0.957,1)" font-size="32.7" text-anchor="middle" >13.5</text><text transform="translate(1050.8,95.5) scale(0.957,1)" font-size="32.7" text-anchor="middle" >14</text><text transform="translate(1163.9,95.5) scale(0.957,1)" font-size="32.7" text-anchor="middle" >14.5</text><text transform="translate(1275.8,95.5) scale(0.957,1)" font-size="32.7" text-anchor="middle" >15</text></g><g stroke="#000" fill="#000"><line x1="847.2" y1="145.6" x2="690" y2="119.4" stroke-width="3.0"/><polygon points="664,115.5 697.8,107.3 692.3,119.8 694.3,134" stroke="none"/><line x1="1362.9" y1="213" x2="1364" y2="247" stroke-width="2.5"/><polygon points="1364.2,268.7 1354.1,243.1 1364,246.6 1373.1,242.5" stroke="none"/><line x1="1372" y1="685.3" x2="1306" y2="686.2" stroke-width="3.6"/><polygon points="1282.7,686.4 1310.2,672.5 1306.8,686.2 1310.2,699.8" stroke="none"/></g><rect x="753.3" y="24.5" width="13.6" height="13.6" fill="#cfe6f5" stroke="#5d9fcf" stroke-width="2"/><defs><linearGradient id="cb" x1="0" x2="1" y1="0" y2="0"><stop offset="0%" stop-color="#181c43"/><stop offset="2.8%" stop-color="#1c2153"/><stop offset="5.6%" stop-color="#202663"/><stop offset="8.3%" stop-color="#232e78"/><stop offset="11.1%" stop-color="#263790"/><stop offset="13.9%" stop-color="#2a40a8"/><stop offset="16.7%" stop-color="#1c50b4"/><stop offset="19.4%" stop-color="#1060be"/><stop offset="22.2%" stop-color="#196abe"/><stop offset="25%" stop-color="#2175be"/><stop offset="27.8%" stop-color="#2e81be"/><stop offset="30.6%" stop-color="#4690be"/><stop offset="33.3%" stop-color="#5fa0be"/><stop offset="36.1%" stop-color="#74acc6"/><stop offset="38.9%" stop-color="#88b7ce"/><stop offset="41.7%" stop-color="#9ec2d4"/><stop offset="44.4%" stop-color="#b3ccda"/><stop offset="47.2%" stop-color="#c5d5df"/><stop offset="50%" stop-color="#d4dee4"/><stop offset="52.8%" stop-color="#e3e5e8"/><stop offset="55.6%" stop-color="#f1eceb"/><stop offset="58.3%" stop-color="#ecdbd5"/><stop offset="61.1%" stop-color="#e7cbc0"/><stop offset="63.9%" stop-color="#e2bbad"/><stop offset="66.7%" stop-color="#ddac9b"/><stop offset="69.4%" stop-color="#d89e89"/><stop offset="72.2%" stop-color="#d39078"/><stop offset="75%" stop-color="#ce8267"/><stop offset="77.8%" stop-color="#ca7458"/><stop offset="80.6%" stop-color="#c56749"/><stop offset="83.3%" stop-color="#c1593d"/><stop offset="86.1%" stop-color="#bc4a33"/><stop offset="88.9%" stop-color="#b4392b"/><stop offset="91.7%" stop-color="#a92728"/><stop offset="94.4%" stop-color="#99182a"/><stop offset="97.2%" stop-color="#87102a"/><stop offset="100%" stop-color="#780f2a"/></linearGradient></defs><rect x="914.2" y="115" width="452.0" height="34.5" fill="url(#cb)" stroke="#262626" stroke-width="1.4"/><line x1="938.1" y1="115" x2="938.1" y2="120" stroke="#262626" stroke-width="1.4"/><line x1="1050.4" y1="115" x2="1050.4" y2="120" stroke="#262626" stroke-width="1.4"/><line x1="1162.6" y1="115" x2="1162.6" y2="120" stroke="#262626" stroke-width="1.4"/><line x1="1275.1" y1="115" x2="1275.1" y2="120" stroke="#262626" stroke-width="1.4"/><g fill="none" stroke="#262626" stroke-width="1.35"><rect x="122.6" y="712.9" width="1230.2" height="316.1"/><line x1="122.6" y1="776.1" x2="135.1" y2="776.1" /><line x1="1352.8" y1="776.1" x2="1340.3" y2="776.1" /><line x1="122.6" y1="839.3" x2="135.1" y2="839.3" /><line x1="1352.8" y1="839.3" x2="1340.3" y2="839.3" /><line x1="122.6" y1="902.5" x2="135.1" y2="902.5" /><line x1="1352.8" y1="902.5" x2="1340.3" y2="902.5" /><line x1="122.6" y1="965.7" x2="135.1" y2="965.7" /><line x1="1352.8" y1="965.7" x2="1340.3" y2="965.7" /><line x1="1352.8" y1="1029" x2="1352.8" y2="1016.5" /><line x1="1352.8" y1="712.9" x2="1352.8" y2="725.4" /><line x1="1155.7" y1="1029" x2="1155.7" y2="1016.5" /><line x1="1155.7" y1="712.9" x2="1155.7" y2="725.4" /><line x1="958.6" y1="1029" x2="958.6" y2="1016.5" /><line x1="958.6" y1="712.9" x2="958.6" y2="725.4" /><line x1="761.5" y1="1029" x2="761.5" y2="1016.5" /><line x1="761.5" y1="712.9" x2="761.5" y2="725.4" /><line x1="564.4" y1="1029" x2="564.4" y2="1016.5" /><line x1="564.4" y1="712.9" x2="564.4" y2="725.4" /><line x1="367.3" y1="1029" x2="367.3" y2="1016.5" /><line x1="367.3" y1="712.9" x2="367.3" y2="725.4" /><line x1="170.2" y1="1029" x2="170.2" y2="1016.5" /><line x1="170.2" y1="712.9" x2="170.2" y2="725.4" /></g><g fill="none" stroke="#000" stroke-width="1.3" stroke-dasharray="4.2 4.1"><line x1="268.3" y1="712.9" x2="268.3" y2="1029" /><line x1="368.2" y1="712.9" x2="368.2" y2="1029" /><line x1="443.6" y1="712.9" x2="443.6" y2="1029" /><line x1="575.7" y1="712.9" x2="575.7" y2="1029" /><line x1="662.5" y1="712.9" x2="662.5" y2="1029" /><line x1="731.3" y1="712.9" x2="731.3" y2="1029" /><line x1="818.9" y1="712.9" x2="818.9" y2="1029" /><line x1="885.7" y1="712.9" x2="885.7" y2="1029" /><line x1="973.4" y1="712.9" x2="973.4" y2="1029" /><line x1="1045" y1="712.9" x2="1045" y2="1029" /><line x1="1138" y1="712.9" x2="1138" y2="1029" /><line x1="1173.9" y1="712.9" x2="1173.9" y2="1029" /></g><g fill="none" stroke="#000" stroke-width="1.35" stroke-linejoin="round"><polyline points="123.2,828.3 124.1,828.1 125,826 126,823.4 126.9,821.4 127.8,817.6 129.4,814.4 130.9,812.5 132.5,811.8 134.1,809.1 136.4,804.9 138.7,804.6 141,804.6 141.4,806.5 141.8,810.1 142.2,812.4 142.7,814 143.1,815.8 143.5,818.8 143.9,821.5 144.3,824.3 146,822.7 147.7,822.8 149.4,819 151.9,818.8 154.5,821.3 157,822.1 157.8,818 158.7,816.2 159.5,814.4 161.4,815 163.3,811.8 165.3,811 167.2,809.4 168.5,811.5 169.7,815 171,816.9 171.9,814.3 172.8,812.8 173.7,808.6 174.6,807.8 175.5,806 176.4,805 177.3,801.5 178.9,799.9 180.5,799.1 182.1,797.7 183.7,793.9 186.2,793.7 188.8,792.1 191.3,791.4 192.6,794.7 193.9,794.9 195.1,798.3 196.4,802.1 197.2,799.8 197.9,796.6 198.7,794.6 199.4,792.8 200.6,794.2 201.8,797.5 202.9,798.5 204.1,801.5 205.3,804 208.4,803 211.6,802.9 212.3,806.6 212.9,807.9 213.6,810.6 214.2,812.7 214.9,816.4 215.5,814.7 216.1,810.2 216.7,807.6 217.4,806.5 218,803.6 218.6,800.3 219.2,798.9 219.9,796.4 220.7,794.3 221.4,791.8 222.1,789.5 222.8,788.8 223.6,787.2 224.3,783.9 225.2,781.3 226.2,778.7 227.2,777.6 228.1,775 229.1,775.7 230.1,778.3 231,780.8 232,783.3 232.6,780.6 233.3,778.3 233.9,777.2 234.5,774 235.2,770.7 235.8,768.4 237.2,764.9 238.7,764.2 240.2,762.1 241.6,761 242.7,763.7 243.8,767.3 245,768.4 246.1,770.9 247.2,771.3 247.8,773.3 248.4,776.4 249.1,777.9 249.7,781.4 251.3,783.1 252.9,784.1 254.5,787 256.1,788.8 258.6,791.3 261.2,791.3 261.8,789.2 262.4,787 263.1,783.5 263.7,781.7 264.6,785 265.6,786.7 266.6,789.2 267.5,791.6 268.4,792.5 269.4,794.9 270.4,796.8 271.3,801.2 272.3,800.7 273.3,796.3 274.4,795.9 275.4,794.3 276.4,790.5 277.2,791.4 277.9,795 278.7,796.9 279.4,798.2 280.2,801.7 281.7,804.7 283.3,806.9 284.8,809.2 285.7,805.2 286.7,805.3 287.6,802.8 288.5,800 289.5,799.1 290.4,796.9 291.2,793.9 292.1,790.9 292.9,785.7 293.8,784.6 294.6,782.4 295.5,780.7 297.3,779.8 299.1,778.4 300.8,779.1 302.6,774.8 303.3,775.9 304,778.4 304.7,780.8 305.4,783.1 306.1,786.2 306.8,787 307.5,791.7 308.2,793.2 309.5,793.6 310.7,787.6 312,788.1 313.2,786.6 314.5,783 315.8,784.6 317.1,788.4 318.3,790.7 319.6,793.5 320.9,794.5 321.9,797.2 322.9,798 324,800.1 325,803.7 326,805.6 327.3,803.4 328.5,798.8 329.8,797.3 330.6,800.2 331.5,802.8 332.3,805.2 332.8,804.1 333.4,800.5 333.9,799.3 334.5,797.5 335,793.2 335.6,789.4 336.1,787.2 338.4,785.3 340.7,783.6 341.1,785.5 341.4,789.6 341.8,790.4 342.1,793.7 342.5,797.6 342.8,799.4 343.2,801.3 343.5,802.9 343.8,806 344.1,808.2 344.4,811.9 344.8,814 345.1,816.4 345.4,817.2 345.7,819.2 346,822 346.3,824.9 347.1,827.3 347.8,830.8 348.6,832.1 349.4,834.5 350.1,835.9 350.9,838.4 351.8,835.7 352.6,833.2 353.5,832.2 354.3,826.5 355.2,826.4 357.8,824.5 360.3,824.2 360.7,822 361.1,818.1 361.6,817.2 362,812.8 362.4,811.3 362.8,808.8 366.6,808.9 366.7,811.3 366.9,813.5 367,816.5 367.1,818.8 367.2,821 367.4,823.6 367.5,826.3 367.6,828.6 367.7,831.3 367.9,833.8 368,835.8 368.1,838.1 368.2,840.4 368.4,842.7 368.5,844.6 368.6,847.5 368.8,845.2 369,843.4 369.3,840.7 369.5,839.7 369.7,836.4 369.9,833.7 370.1,831.5 370.4,828.5 370.6,826 370.8,823.9 371,821.7 371.2,820 371.5,817.2 371.7,815 371.9,813.1 372.1,811.5 372.3,808.9 372.6,806.7 372.8,804.5 373,801.7 373.5,802.8 374.1,805.5 374.6,808.9 375.2,811 375.7,813.4 376.3,817.9 376.8,819.5 377.5,817.6 378.2,814.3 378.9,812.2 379.6,808.8 380.3,807 381,805.3 381.7,801.4 382.4,799.6 383.1,797.7 383.3,800.3 383.6,801.8 383.8,804 384.1,806.5 384.3,807.8 384.5,811.8 384.8,815.5 385,816.7 385.2,819.8 385.5,821.5 385.7,824.6 385.9,825.6 386.2,828.5 386.4,831.2 386.7,832.1 386.9,834.7 388.2,829.8 389.4,827.9 390.7,826.9 390.9,825 391,821.9 391.2,819.6 391.4,819.1 391.5,816.9 391.7,813.2 391.8,809.9 392,808.4 392.2,805.8 392.3,804.1 392.5,802 392.6,798.9 392.8,796.8 393,794.5 393.1,791.8 393.3,790.1 393.7,793.8 394.1,795.9 394.6,796.9 395,799.9 395.4,801.2 395.8,803.6 396.3,807 396.7,809.8 397.1,812.2 397.7,810.7 398.4,808.3 399,806.4 399.6,803.4 400.3,798.9 400.9,798.1 401.6,795.3 402.2,792.3 402.9,789.6 403.6,786.8 404.3,784.5 405,782.8 405.7,782.3 406.3,779.4 407,776 407.7,775 408.4,773 409.1,770.1 409.8,767.7 412.8,769.8 415.7,767.6 418.7,769 421.9,769.4 425,769.9 425.6,771.6 426.3,773.5 426.9,775.7 427.6,779.2 428.2,782.9 428.8,784.3 429.5,786.2 430.1,788.9 431.8,790.2 433.5,793.4 435.2,795.1 436,798.6 436.7,799.3 437.5,801.7 438.2,804.7 439,806.4 442.8,804 443.4,805.8 444.1,808.2 444.7,812 445.3,814.6 446,815.7 446.6,819.1 447.1,816.6 447.7,815.6 448.2,813.2 448.8,811.7 449.3,807.9 449.9,804.8 450.4,803.4 451.5,808 452.5,809.1 453.6,811.3 454.7,812.8 455.7,814.8 456.8,816.1 458.1,820.3 459.3,820.5 460.6,822.1 461.5,820.8 462.4,817.8 463.3,814.8 464.2,813.6 465.1,809.1 466.4,805.8 467.6,804.5 468.9,802.9 470.1,801.1 471.4,796.9 473.3,797.2 475.2,801.3 475.8,798.5 476.4,796.7 476.9,794.7 477.5,792.7 478.1,790.9 478.7,788.6 479.3,786.9 479.9,785.7 480.4,782.5 481,777 481.6,776.5 482.7,774.9 483.7,772.5 484.8,768.5 485.8,769.6 486.8,767.3 487.9,764.3 490.4,762.6 493,759.8 495.6,757.2 498.1,755.9 499,758.1 499.8,759.3 500.6,761.5 501.5,764.7 502.4,768.9 503.2,771.1 505.7,769.3 508.3,768.4 510.8,766.9 512.1,765.2 513.4,762 514.6,759.6 515.9,757.3 517.2,754.7 519.7,752.1 522.2,756.1 522.7,758.9 523.1,760.6 523.6,763.2 524.1,765.5 524.6,767.5 525,770.8 525.5,773.8 526.4,776.1 527.3,778.7 528.2,779.5 529.1,782.8 529.5,781.2 529.8,778.7 530.2,776.6 530.6,773.2 530.9,771.8 531.3,769.5 531.7,766.6 532,763.5 532.4,761.2 535,757.4 537.5,756.7 538.3,756.7 539,760.5 539.8,762 540.5,766.7 541.3,769.2 543.2,772.7 545.1,773.7 545.5,774.9 546,777.9 546.4,781.1 546.8,784.4 547.3,787 547.7,789.6 548,787.3 548.4,785 548.7,783.4 549.1,779.5 549.4,777.5 549.7,779.9 550,781 550.3,784.8 550.6,787.5 550.8,790.4 551.1,793 551.4,794.8 551.7,795.8 552,798.8 552.5,801.3 553.1,804.4 553.6,806.3 554.2,808.6 554.8,811 555.3,812.6 557.2,811.2 559.1,809.5 559.9,808.7 560.7,804.3 561.5,802.1 562.2,799.5 563,797.9 563.8,797 564.6,794 565.4,791.1 566.1,794.4 566.7,794.9 567.4,800.3 568,803 568.7,804 569.4,801.5 570.2,798 570.9,796.1 571.6,793.2 572.4,791.6 573.1,790 573.3,791.9 573.6,794.6 573.8,797.5 574,800.7 574.2,802.4 574.5,805 574.7,806.3 574.9,809.2 575.1,811.4 575.4,814.6 575.6,816.8 575.6,819.8 575.7,821.7 575.7,825.1 575.7,827 575.8,829.2 575.8,831.3 575.8,834.3 575.8,837.3 575.9,839.7 575.9,841.9 575.9,839.5 576,837.6 576,834.9 576,832.5 576.1,830.1 576.1,828 576.2,825.8 576.2,823.2 576.2,820.7 576.3,818.9 576.3,816.1 576.6,814 576.8,811.4 577.1,807.4 577.3,805.3 577.6,802.5 577.8,800 578.1,797.8 578.5,799.8 578.8,802.5 579.2,804.8 579.6,807.5 580,810.8 580.3,813.5 580.7,815.8 581.1,813.4 581.6,811.1 582,809.4 582.4,807.9 582.8,805.2 583.3,803.2 583.7,799.9 584.5,802.6 585.4,804.8 586.2,807.1 587,809.6 587.2,807.5 587.4,806.1 587.6,802.8 587.7,799.4 587.9,796.1 588.1,794.4 588.3,791.6 588.5,789.5 588.7,787.9 588.9,786.8 589,783.7 589.2,782.4 589.4,779.4 589.6,776.3 589.8,773.5 589.9,771.8 590.1,769.9 590.3,767.4 590.4,763.8 590.6,761.3 590.8,759.4 590.9,757.3 591.1,754.6 591.3,752.8 591.4,749.5 591.6,747.6 591.8,745.4 591.9,742.8 592.1,740.7 593.4,745.7 594.7,746.4 595,747.8 595.3,750.7 595.7,753 596,754.9 596.3,757.6 596.6,760.4 596.9,763.5 597.2,765.7 597.5,767.4 597.9,769.7 598.2,772.5 598.5,774.7 600.1,773 601.6,771.5 603.2,767.8 604.8,767.1 606.7,770.9 608.6,771.7 609.3,768.5 610.1,767.2 610.8,764.1 611.5,760.8 612.2,758.1 613,754.8 613.7,754.2 615.4,755.9 617.1,758.9 618.8,760 621.3,762.3 623.9,762.5 626.4,763 627.7,761.5 629,757.9 630.2,758.4 631.5,754.1 633.2,757.8 634.9,759.8 636.6,760.4 637.9,757.4 639.2,754.2 640.4,750.9 641.7,749.1 643.8,751.4 645.9,751.1 648,753.2 648.5,755.1 649,757.8 649.5,760.9 650,762.8 650.5,763.3 651.1,765.1 651.6,769.4 652.1,772 652.6,774.2 653.1,776.7 653.7,780.5 654.4,780.3 655,782.3 655.7,785.2 656.3,786.2 656.9,787.6 657.6,792.2 658.2,793.8 659.3,798.3 660.4,800.5 661.4,802.4 662.5,802.2 662.8,799.9 663.2,798.6 663.5,796.3 663.8,794.1 664.2,790.8 664.5,788.6 665.1,790.8 665.8,795.1 666.5,796.8 667.1,799.2 667.4,796 667.6,793.6 667.9,791.5 668.1,789.9 668.4,788.2 668.6,785.1 668.9,782.4 669.1,779.8 669.4,778.3 669.6,775.8 670.4,774.1 671.1,770.9 671.9,768.7 672.6,765.4 673.4,763 675.3,760.5 677.2,759.2 678.3,762.9 679.4,763.7 680.5,766 680.9,764.4 681.2,762.2 681.6,760.3 681.9,757.4 682.3,754.1 682.7,751.3 683,749.3 683.4,747 683.7,745.2 684.1,743.2 684.3,746.3 684.5,749.8 684.8,750 685,752.7 685.2,755.1 685.4,756.9 685.6,758.8 685.9,762.5 686.1,766 686.3,767.2 686.5,769.6 686.7,771.6 687,773.6 687.2,775.6 687.4,779.3 689.9,783.2 690.5,782.2 691.2,778.1 691.9,775.7 692.5,773.6 693.5,771.2 694.4,768 695.3,766.3 696.3,763.7 697.6,767.4 698.8,769.6 700.1,772.9 701.4,773.4 702.9,771.2 704.4,770.4 705.9,766.9 706.2,769.5 706.5,772.2 706.8,774.4 707.1,773.4 707.5,777 707.8,778.8 708.1,781.9 708.4,783.3 708.7,787.5 709,789.1 709.2,786 709.4,783.9 709.6,780.8 709.8,780.1 709.9,778.8 710.1,775.7 710.3,773.8 710.5,770.6 710.7,768.9 710.9,766 711.1,764.3 711.2,760.9 711.4,759.1 711.6,757 711.8,754.8 712,752.3 712.7,755.4 713.4,757.6 714.1,759.8 714.3,761.6 714.6,763.5 714.8,766.6 715,768.9 715.3,771.2 715.5,773.8 715.8,775.8 716,780.6 716.2,783.6 716.5,784.7 716.7,785.3 717,787.4 717.2,790.6 717.4,794.6 717.7,796.2 717.9,798.2 718.1,795.6 718.4,792.1 718.6,790.5 718.9,788.3 719.1,785.7 719.4,783.8 719.6,780 719.9,778.2 720.1,776.7 720.4,773.7 721.7,773.8 722.9,780 724.2,780.9 724.5,777.4 724.9,776.1 725.2,774.8 725.5,773.1 725.8,770.7 726.1,767.6 726.5,764.7 726.8,762.3 727,764.1 727.3,766.8 727.5,771.1 727.8,772.9 728,773.8 728.3,776.1 728.5,778.7 728.8,781.7 729,783.3 729.2,785.8 729.3,788.4 729.5,790.2 729.7,792.9 729.9,794.7 730,797.9 730.2,800.2 730.4,802.1 730.6,805.1 730.8,807.5 730.9,809.6 731.1,812.4 731.3,814.2 731.8,812.2 732.3,810.1 732.8,807.5 733.3,806.5 733.7,802.4 734.2,800.2 734.7,798.1 735.2,795.2 735.7,792.5 736.8,794.5 737.9,797.6 739,799.1 739.3,795.2 739.6,793.4 740,791.4 740.3,790.3 740.6,787.4 740.9,784.7 741.2,781.6 741.5,779.2 741.9,777.3 742.2,774.3 742.5,772.1 744.5,769.3 746.6,767.3 747,769.4 747.5,771.3 747.9,775.8 748.3,780.1 748.7,781.6 749.2,784 749.6,786.1 750.2,788.1 750.9,790.5 751.6,793.9 752.2,795.2 753.5,791.7 754.8,790.1 756,786.8 757.3,786.2 757.6,789.4 758,790.4 758.3,792.6 758.7,795.4 759,798.3 759.4,799.8 759.7,802.5 760.1,803.2 760.4,806.5 760.8,809.6 761.1,811.6 761.4,810.6 761.6,807.7 761.9,805.6 762.2,802.5 762.5,800 762.7,798 763,794.9 763.3,792.3 763.5,789.9 763.8,788.9 764.1,788 764.4,784.5 764.6,782.1 764.9,779 766.8,779.3 768.7,775.6 769.6,779.3 770.4,780.9 771.2,781.9 772.1,784.8 772.9,787.4 773.8,789.3 774.2,785.9 774.6,783.5 775,780.9 775.5,780.1 775.9,777.8 776.3,774.1 776.5,777 776.7,779.7 776.9,781.3 777,783.7 777.2,785.3 777.4,787.6 777.6,789.9 778,788.1 778.4,786.6 778.7,783.8 779.1,781.5 779.5,778.8 779.9,776.3 780.2,772.5 780.6,770.8 781.3,768.1 781.9,766.4 782.6,762.7 783.2,760.5 783.9,759.1 784.8,759.5 785.7,763.9 786.6,766.5 787.6,768.6 788.5,772.4 789.4,775.1 790.3,777.2 791.1,774.9 791.9,772.6 792.7,769.2 793.5,767 794.2,764.1 795,763 795.8,760.5 796.6,758.3 798.5,761.1 800.5,763 802,761.8 803.5,760.5 805.1,758.2 806.6,754.1 808.1,752.5 808.9,753.9 809.6,756.4 810.4,759 811.1,761.3 811.9,764.5 812.2,767.9 812.4,769 812.7,770.7 812.9,773.9 813.2,774.8 813.4,777.8 813.7,780.1 814,777 814.3,773.8 814.6,771.5 814.8,769.9 815.1,767.8 815.4,765.2 815.7,762.4 816,766 816.3,767.5 816.6,768.9 817,770.4 817.3,774 817.6,776.4 817.9,779.6 818.2,781.6 818.2,783.7 818.2,786.3 818.3,788.4 818.3,790.8 818.3,793.4 818.3,795.6 818.4,798.1 818.4,800.3 818.4,802.6 818.4,804.3 818.5,807 818.5,809.7 818.5,811.8 818.5,814.1 818.6,816.5 818.6,818.6 818.6,821 818.6,823.6 818.7,825.9 818.7,828.7 818.7,831 818.7,833.5 818.8,836.1 818.8,838.3 818.8,840.4 818.8,842.8 818.9,845.3 818.9,847.8 818.9,849.9 819,847.7 819.1,845.6 819.3,843.1 819.4,841.1 819.5,838.6 819.6,836.4 819.8,834.4 819.9,832 820,829.2 820.1,826 820.2,823.3 820.4,821.8 820.5,819.5 820.6,817 820.7,814.7 820.9,812.4 821,810 821.1,807.6 821.2,805.3 821.3,803.1 821.5,800.3 821.6,798.5 821.7,796.2 821.8,793.6 822,791.4 822.1,788.3 822.2,786.5 822.5,783.7 822.7,781.5 823,778.6 823.3,776.3 823.6,775 823.8,771.7 824.1,767.7 824.4,767.2 824.7,767.3 824.9,762.8 825.2,760.9 826.9,758.8 828.6,756.5 830.3,755 832,751.9 833.7,750.1 835.4,747 836.7,748.8 838,749.8 839.2,751.4 840.5,754.9 841.8,757.3 843.7,761.2 845.6,761.7 847.5,759.2 849.4,757.2 850.4,759.6 851.4,763.2 852.5,763.7 853.5,766.3 854.5,768.5 855,770.1 855.6,774.1 856.1,775.6 856.7,776.9 857.2,781.3 857.8,783.9 858.3,787 858.7,789.8 859,791.7 859.4,794 859.7,796.6 860.1,798.8 860.4,800.8 860.8,804.4 862.3,807.2 863.9,808.2 864.5,805.7 865,802.7 865.5,800.2 866.1,798.1 866.7,794.8 867.2,793 869.1,796.6 871,798.3 872.3,796 873.5,793.2 874.8,790.6 878,791.7 881.1,792 883.4,788.1 885.7,788.2 888.8,787.9 888.9,790.9 889,794 889.1,795.8 889.2,797.3 889.3,800.2 889.5,802.3 889.6,804.4 889.7,807.8 889.8,810 889.9,812.3 890,814.2 892.6,814.7 892.9,812.4 893.2,809.3 893.5,806.8 893.9,805.3 894.2,803.6 894.5,800.3 894.8,798 895.1,795.4 896.8,791.6 898.5,790.2 900.2,787.5 901.5,785 902.7,781.3 904,781 905.3,778.1 906.5,776.8 907.8,773.8 908.7,775.3 909.5,778.6 910.4,781.1 911,778 911.5,775.7 912.1,773.2 912.6,773.1 913.2,770.6 913.7,767.8 914.3,764.8 914.8,762.2 915.4,760.9 916,763 916.7,764.8 917.3,765.9 918,767.4 918.6,770.9 919.2,774.1 919.9,777.5 920.5,778.4 921,775.6 921.5,772.7 922.1,770.9 922.6,767.5 923.1,766.2 923.5,764.5 923.9,761.4 924.2,757.8 924.6,754.4 925,752.2 925.4,750.8 925.7,746.7 926.1,745.2 926.3,747 926.6,749.7 926.8,752.1 927,754.8 927.3,755.7 927.5,759.5 927.7,761.8 928,764.8 928.2,766.6 928.4,769.5 928.7,772.4 928.9,773.7 929.7,773.1 930.5,770.7 931.2,767.4 932,764.8 932.8,766.3 933.7,769.4 934.5,772.2 935.5,770.6 936.6,768.3 937.6,764.7 938.7,763.6 939.8,761.5 940.8,760 942.5,761.3 944.2,762 945.9,765.8 946.9,767.9 947.9,769.8 949,773.6 950,775.5 951,779 951.6,781 952.3,781.1 952.9,785.2 953.5,787.9 954.2,790.9 954.8,792.9 955.5,792.1 956.1,795.9 959.9,796.6 960.6,794.5 961.2,792.3 961.9,788.6 962.3,790 962.7,792.8 963.1,795.5 963.5,798.4 963.8,800.8 964.2,803.8 964.6,807.2 965,809.4 965.2,812.2 965.4,814.5 965.6,817.4 965.8,820 966,821.6 966.2,823.2 966.5,825.7 966.7,828.9 966.9,830.5 967.1,833 967.3,836.1 967.5,838.5 967.7,835.8 967.8,833.4 968,830.5 968.1,828.9 968.3,826.7 968.5,824.2 968.6,820.9 968.8,819.5 969,817 969.1,814.7 969.3,811.6 969.4,809.3 969.6,807.2 969.7,809.2 969.8,811.4 969.9,813.7 970,816 970.1,818.4 970.2,819.9 970.3,823 970.4,824.8 970.5,827.6 970.5,830 970.6,832.1 970.7,834.3 970.8,836.8 970.9,839 971,842 971.1,843.9 971.2,846.1 971.3,848.6 971.6,847.7 971.9,843.8 972.3,841.6 972.6,839.5 972.9,837.5 973.2,835.6 973.6,832.2 973.9,829.5 975.1,832.2 976.4,835.7 978.3,836.1 980.2,832.2 981.2,829.8 982.2,826.2 983.3,824.1 984.3,823.5 985.3,820.1 985.9,823.3 986.5,824.5 987.2,829.3 987.8,830.7 988.2,828 988.7,825.1 989.1,823.1 989.5,822.1 990,819.3 990.4,817 990.8,814.1 991.3,811.5 991.7,808.4 991.8,810.6 992,812.6 992.1,815.8 992.2,819.3 992.4,821.2 992.5,822.7 992.6,825.4 992.8,828.7 992.9,830.7 993.1,827.6 993.2,825.7 993.4,824.1 993.6,821.7 993.8,817.7 994,815.3 994.1,813.5 994.3,811.4 994.5,809.6 994.6,807.2 994.8,804.1 995,801.3 995.4,804 995.9,806.5 996.3,810.6 996.7,812.4 996.8,810.6 997,807.4 997.1,804.6 997.2,803 997.4,800.9 997.5,797.3 997.7,795.4 997.8,793.4 997.9,790.7 998.1,788.3 998.2,785.3 998.3,783.5 998.5,781.5 998.6,779.4 998.8,776.2 998.9,773.6 999,771.5 999.2,769.1 999.3,767.2 999.9,768.4 1000.6,772.8 1001.2,775 1001.8,777.6 1002.5,781 1003.1,782.8 1004.4,779.7 1005.6,778.9 1006.9,776.2 1007.4,779.1 1008,780.9 1008.5,783.9 1009.1,787.5 1009.6,789.4 1010.2,794.1 1010.7,794.7 1011,792.2 1011.3,789.4 1011.6,786.9 1011.9,784.8 1012.2,781.3 1012.5,779.4 1012.7,776.6 1013,774.1 1013.3,772.2 1013.6,769.7 1013.9,767.8 1014.2,765.1 1014.5,763.1 1014.8,765.3 1015,767.6 1015.3,770.5 1015.6,772.9 1015.9,775.3 1016.1,777.8 1016.4,781.1 1016.7,782.8 1016.9,784.4 1017.2,787.2 1017.5,790.3 1017.8,793.6 1018,795.1 1018.3,797.1 1019,800 1019.8,801.3 1020.5,801.5 1021.2,805.2 1021.9,807.1 1022.7,811.6 1023.4,811.5 1024,813.4 1024.6,816.4 1025.3,818.3 1025.9,821.8 1026.5,824.8 1027.2,823.2 1027.8,820.6 1028.5,818 1029.1,816.9 1029.8,812.3 1031.7,811 1033.6,808.5 1034.4,811.4 1035.1,814.7 1035.9,816.5 1036.6,816.8 1037.4,820.3 1039.9,821.3 1040.5,819.3 1041.2,817.2 1041.8,813.9 1042.5,812.5 1043.1,808.8 1043.7,806.6 1044.4,804.1 1045,803.9 1046.3,804.7 1047.5,807.7 1048.8,810.5 1051.3,809.5 1053.9,809 1054.9,811.5 1055.8,813.8 1056.8,816.3 1057.7,819 1059,816.3 1060.2,815 1061.5,813 1062.8,809.4 1065.9,811.9 1069.1,811.1 1070.1,813.7 1071.1,816.6 1072.2,816.7 1073.2,819.3 1074.2,822.1 1075.2,820.8 1076.1,818.8 1077.1,814.6 1078.1,817.5 1079,822.1 1080,821.7 1081,824.3 1082,824.2 1082.9,828.9 1083.9,831.5 1084.8,828.8 1085.7,826.5 1086.6,823.3 1087.5,823.2 1088.4,819.8 1089.3,816.2 1090.2,813.9 1091.7,812.9 1093.3,812.9 1094.8,809.3 1095,805.5 1095.3,804.1 1095.5,802.2 1095.8,799 1096,797.6 1096.3,795.1 1096.5,792.8 1096.8,789.4 1097,787.7 1097.3,784.6 1097.5,784.3 1097.8,780.8 1098.1,778.3 1098.4,776.1 1098.6,772.6 1098.9,770.2 1099.2,767.9 1099.5,766.1 1099.7,764.4 1100,761.4 1100.3,758.5 1101.6,756.9 1102.8,752.2 1104.1,749.3 1105.4,747.8 1106.8,746.6 1108.1,743.7 1109.5,740.5 1110.8,740.4 1112.2,738.3 1114,739.8 1115.7,740.3 1117.5,742.3 1119.2,744.8 1121.3,744.6 1123.4,746.5 1125.5,749 1127.8,752.1 1130,753.6 1130.4,755.5 1130.8,758.5 1131.2,760.4 1131.5,765.2 1131.9,768.1 1132.3,769.6 1132.7,772 1133.1,775 1133.8,778.2 1134.6,781.2 1135.3,783.6 1136.1,783.5 1136.8,786.3 1137,788.3 1137.2,791.6 1137.4,793.3 1137.6,795.2 1137.8,798.2 1138,799.3 1138.2,802.7 1138.5,805.3 1138.7,808.1 1138.9,810.2 1139.1,812.8 1139.3,814.4 1139.5,817.8 1139.7,821.5 1139.9,822 1140.1,818.8 1140.3,816.3 1140.4,814.4 1140.6,812.7 1140.8,809.7 1141,807.4 1141.1,805.9 1141.3,804 1141.5,801 1141.7,799.7 1141.9,797.1 1142,794.1 1142.2,791.3 1142.4,789.5 1142.6,786.4 1142.7,785.5 1142.9,784.2 1143.1,780.3 1143.4,777.9 1143.7,774.9 1144,773.5 1144.3,769.7 1144.6,767.6 1144.9,765.7 1145.1,764.9 1145.4,761.1 1145.7,760.3 1146,756.7 1146.3,754.5 1146.6,752.5 1146.9,750.3 1147.9,747.8 1148.9,746 1150,743.3 1151,742 1152,738.8 1153.9,738.6 1155.8,737.7 1157.6,733.9 1159.5,731.9 1161.4,735.4 1163.3,737.6 1163.4,739.5 1163.6,741.6 1163.7,743.6 1163.8,745.4 1164,747.7 1164.1,750.9 1164.2,753.2 1164.4,755.6 1164.5,758.5 1164.6,761.5 1164.8,764.1 1164.9,766.5 1165,768.3 1165.2,770.6 1165.3,773.1 1165.4,775.7 1165.6,778.2 1165.7,781.2 1165.8,783.2 1165.9,784.5 1166.1,787.7 1166.2,789 1166.3,791.7 1166.5,794.3 1166.6,796 1166.7,798.9 1166.8,801.1 1167,804 1167.1,806 1167.4,809.1 1167.7,811.5 1167.9,813.3 1168.2,815.6 1168.5,818.7 1168.8,821.5 1169,823.9 1169.3,826.8 1169.6,829.1 1172.1,831.9 1172.3,830.7 1172.5,827.1 1172.7,824.2 1172.9,823.1 1173.1,820.1 1173.3,816.8 1173.4,814.3 1173.6,811.4 1173.8,809.3 1174,807.3 1174.2,804.3 1174.4,802.2 1174.6,800.4 1175.2,798.9 1175.9,797.2 1176.5,793.7 1177.1,792.1 1177.8,789.8 1178.4,786.9 1180.9,788.1 1181.4,791.1 1182,793.8 1182.5,796.8 1183.1,797.9 1183.6,802.1 1184.2,802.8 1184.7,805.9 1185.7,802.6 1186.6,799.9 1187.5,797 1188.5,795.5 1191,796.1 1193.5,796.6 1195.8,793.2 1198.1,795.2 1198.7,798.8 1199.3,801.6 1199.9,805.2 1200.5,806.9 1201.1,808.1 1204.9,806.5 1206.6,809.6 1208.2,810.4 1209.9,813.5 1210.8,812.5 1211.6,810 1212.5,806.9 1213.3,806.1 1214.2,802.5 1216.1,805.3 1218.1,805.4 1220,807.6 1222.1,807.7 1224.2,811.5 1226.3,811.8 1228,813 1229.6,816 1231.3,818.1 1231.8,814.2 1232.3,812.7 1232.8,809.1 1233.3,807.9 1234.1,809.8 1234.8,810.6 1235.6,814.8 1236.4,817.5 1237.9,817.8 1239.4,820.5 1240.9,823 1241.3,821.8 1241.8,818.2 1242.2,816.1 1242.6,812.1 1243,809.6 1243.5,808 1243.9,806.1 1244.3,803.9 1244.7,800.4 1245,798.4 1245.4,797.2 1245.8,794.7 1246.2,791.9 1246.6,789.9 1246.9,787.5 1247.3,784.4 1247.7,781.9 1248.3,779.9 1249,779.5 1249.6,776.7 1250.2,773.6 1250.9,771.9 1251.5,768.2 1252.1,766.2 1252.8,763.5 1253.4,760.8 1254.1,758.4 1254.7,755.8 1255.4,752.4 1256,750.6 1258.2,754.2 1260.3,754.8 1261,757.4 1261.7,761 1262.4,763 1263.2,764.5 1263.9,766.7 1264.6,769.3 1265,767.3 1265.3,764.6 1265.7,761.8 1266.1,759.6 1266.4,756.2 1266.8,753.8 1267.2,752.6 1267.5,749.7 1267.9,746.4 1269.8,746.9 1271.6,750.1 1272.1,747.7 1272.7,743.1 1273.2,740 1273.7,738.5 1274.5,741.9 1275.2,744.4 1276,747 1276.7,749.6 1279.7,746.3 1280.8,747.2 1281.9,750 1283,752.6 1283.6,751.1 1284.2,747.2 1284.9,744.3 1285.5,742.8 1286.1,745.2 1286.8,748.1 1287.4,749.7 1288,751.8 1288.7,754.6 1289.3,756.7 1290.6,754.2 1291.8,752 1293.1,749.4 1293.4,750.5 1293.7,753.3 1293.9,756.7 1294.2,758.9 1294.5,762.4 1294.8,765 1295,766.9 1295.3,768.1 1295.6,770.5 1295.8,771.9 1296,774.4 1296.2,775.9 1296.4,779 1296.7,782.5 1296.9,784.8 1297.1,787.9 1297.3,789.6 1298.1,791.5 1298.8,792.9 1299.6,794.5 1300.4,796.8 1301.1,799.3 1301.9,803.5 1302.5,801.6 1303.2,799.3 1303.8,795.1 1304.4,791.6 1305.1,791.5 1305.7,789.6 1306.7,787.5 1307.7,786 1308.7,782.1 1309.2,783.8 1309.6,787.2 1310.1,787.9 1310.6,792 1311.1,795.7 1311.5,796.6 1312,798.2 1312.5,799 1313.1,801.1 1313.6,803.5 1314.1,807.4 1314.6,810.7 1315.2,813.6 1315.7,816.4 1316.8,818.9 1317.8,823.1 1318.8,824.7 1319.9,826.8 1321,827.4 1322,830.6 1323.7,828.1 1325.4,824.5 1327.1,824.2 1330.1,826.7 1330.3,825.1 1330.6,822.8 1330.8,819.5 1331.1,815.4 1331.3,813.8 1331.6,812 1331.9,813.8 1332.2,816.6 1332.4,817.6 1332.7,821 1333,822.9 1333.3,824.8 1333.5,828 1333.8,831 1334.1,832.8 1334.3,829.6 1334.5,827.1 1334.7,824.8 1334.9,823.4 1335.1,821.4 1335.3,819 1335.5,816.2 1335.7,814.3 1335.9,812.1 1336.2,814 1336.6,816.9 1336.9,819.4 1337.3,821.4 1337.6,823.4 1338,825.8 1338.3,828.2 1338.7,830.3 1339,831.3 1339.4,834.2 1339.7,837.2 1340.1,834.4 1340.5,832.2 1340.8,830.5 1341.2,828.2 1341.6,825.4 1342,824.1 1342.4,821.6 1342.7,817 1343.1,816.7 1343.5,813.6 1346,812 1348.5,810.3 1352.3,808.1" /></g><g fill="#262626" stroke="none"><text transform="translate(110.6,725.5) scale(0.957,1)" font-size="32.7" text-anchor="end" >0</text><text transform="translate(110.6,788.7) scale(0.957,1)" font-size="32.7" text-anchor="end" >2</text><text transform="translate(110.6,851.9) scale(0.957,1)" font-size="32.7" text-anchor="end" >4</text><text transform="translate(110.6,915.2) scale(0.957,1)" font-size="32.7" text-anchor="end" >6</text><text transform="translate(110.6,978.4) scale(0.957,1)" font-size="32.7" text-anchor="end" >8</text><text transform="translate(110.6,1041.6) scale(0.957,1)" font-size="32.7" text-anchor="end" >10</text><text transform="translate(1353.3,1072.8) scale(0.957,1)" font-size="32.7" text-anchor="middle" >0</text><text transform="translate(1156.2,1072.8) scale(0.957,1)" font-size="32.7" text-anchor="middle" >0.5</text><text transform="translate(959.1,1072.8) scale(0.957,1)" font-size="32.7" text-anchor="middle" >1</text><text transform="translate(762,1072.8) scale(0.957,1)" font-size="32.7" text-anchor="middle" >1.5</text><text transform="translate(564.9,1072.8) scale(0.957,1)" font-size="32.7" text-anchor="middle" >2</text><text transform="translate(367.8,1072.8) scale(0.957,1)" font-size="32.7" text-anchor="middle" >2.5</text><text transform="translate(170.7,1072.8) scale(0.957,1)" font-size="32.7" text-anchor="middle" >3</text><text transform="translate(738,1110.3) scale(0.957,1)" font-size="32.7" text-anchor="middle" >x (km)</text><text transform="translate(61.5,870.5) rotate(-90) scale(0.957,1)" font-size="32.7" text-anchor="middle" >Depth (m)</text></g><g fill="none" stroke="#262626" stroke-width="1.4"><rect x="120" y="1143" width="239.3" height="380.29999999999995"/><line x1="120" y1="1219.1" x2="123.4" y2="1219.1" /><line x1="359.3" y1="1219.1" x2="355.9" y2="1219.1" /><line x1="120" y1="1295.1" x2="123.4" y2="1295.1" /><line x1="359.3" y1="1295.1" x2="355.9" y2="1295.1" /><line x1="120" y1="1371.2" x2="123.4" y2="1371.2" /><line x1="359.3" y1="1371.2" x2="355.9" y2="1371.2" /><line x1="120" y1="1447.2" x2="123.4" y2="1447.2" /><line x1="359.3" y1="1447.2" x2="355.9" y2="1447.2" /><line x1="181.8" y1="1143" x2="181.8" y2="1146.4" /><line x1="181.8" y1="1523.3" x2="181.8" y2="1519.9" /><line x1="243.3" y1="1143" x2="243.3" y2="1146.4" /><line x1="243.3" y1="1523.3" x2="243.3" y2="1519.9" /><line x1="304.6" y1="1143" x2="304.6" y2="1146.4" /><line x1="304.6" y1="1523.3" x2="304.6" y2="1519.9" /></g><g fill="none" stroke="#000" stroke-width="3.6" stroke-linejoin="round"><polyline points="208.8,1151.3 211.3,1156.3 220,1165 230,1177.5 238.8,1191.3 246.3,1208.8 252.5,1226.3 258.8,1242.5 266.3,1258.8 273.8,1271.3 282.5,1281.3 295,1290 310,1297.5 325,1303.8 337.5,1310 345,1316.3 348.3,1323.8 348.8,1342.5 347.5,1367.5 346.3,1392.5 346.3,1417.5 345.5,1442.5 344.5,1462.5 343.8,1480" /><polyline points="131.3,1150.5 142.5,1153.3 147.5,1156.3 151.3,1167.5 153.8,1177.5 158.8,1190 167.5,1205 180,1218.8 197.5,1230 220,1241.3 240,1250 257.5,1261.3 266.3,1271.3 272.5,1281.3 282.5,1287.5 300,1296.3 320,1306.3 336.3,1316.3 346.3,1325 350,1337.5 350.8,1355 350,1380 348.8,1405 348.3,1430 347.5,1455 346.3,1480" stroke-dasharray="18 13.5" stroke-dashoffset="1"/></g><g fill="none" stroke="#262626" stroke-width="1.4"><rect x="374" y="1143" width="238.29999999999995" height="380.29999999999995"/><line x1="374" y1="1219.1" x2="377.4" y2="1219.1" /><line x1="612.3" y1="1219.1" x2="608.9" y2="1219.1" /><line x1="374" y1="1295.1" x2="377.4" y2="1295.1" /><line x1="612.3" y1="1295.1" x2="608.9" y2="1295.1" /><line x1="374" y1="1371.2" x2="377.4" y2="1371.2" /><line x1="612.3" y1="1371.2" x2="608.9" y2="1371.2" /><line x1="374" y1="1447.2" x2="377.4" y2="1447.2" /><line x1="612.3" y1="1447.2" x2="608.9" y2="1447.2" /><line x1="407.5" y1="1143" x2="407.5" y2="1146.4" /><line x1="407.5" y1="1523.3" x2="407.5" y2="1519.9" /><line x1="441.8" y1="1143" x2="441.8" y2="1146.4" /><line x1="441.8" y1="1523.3" x2="441.8" y2="1519.9" /><line x1="475.9" y1="1143" x2="475.9" y2="1146.4" /><line x1="475.9" y1="1523.3" x2="475.9" y2="1519.9" /><line x1="510.2" y1="1143" x2="510.2" y2="1146.4" /><line x1="510.2" y1="1523.3" x2="510.2" y2="1519.9" /><line x1="544.4" y1="1143" x2="544.4" y2="1146.4" /><line x1="544.4" y1="1523.3" x2="544.4" y2="1519.9" /><line x1="578.5" y1="1143" x2="578.5" y2="1146.4" /><line x1="578.5" y1="1523.3" x2="578.5" y2="1519.9" /></g><g fill="none" stroke="#000" stroke-width="3.6" stroke-linejoin="round"><polyline points="378.8,1161.3 393.8,1170 401.3,1181.3 411.3,1190 426.3,1198.8 438.8,1210 453.8,1218.8 471.3,1227.5 482.5,1238.8 492.5,1242.5 503.8,1247 515,1256.3 516.3,1261.3 515,1266.3 526.3,1276.3 545,1286.3 565,1293.8 577.5,1300 583.8,1306.3 591.3,1322.5 593,1342.5 594.5,1367.5 595.5,1405 596.5,1455 597.5,1523" /><polyline points="381.5,1151.5 379,1161 392.5,1162 399,1176 407.5,1189 416.5,1204 428,1215.5 441.5,1224 455,1231.5 469,1239 483,1250 498,1256.5 514,1265 528,1269 543,1275 559,1281.5 571.5,1291.5 582.5,1302.5 586.5,1319 589.5,1334 591.5,1350 593,1365 595,1383 596.3,1398 596.8,1455" stroke-dasharray="18 13.5" stroke-dashoffset="9"/></g><g fill="none" stroke="#262626" stroke-width="1.4"><rect x="627" y="1143" width="227.5" height="380.29999999999995"/><line x1="627" y1="1219.1" x2="630.4" y2="1219.1" /><line x1="854.5" y1="1219.1" x2="851.1" y2="1219.1" /><line x1="627" y1="1295.1" x2="630.4" y2="1295.1" /><line x1="854.5" y1="1295.1" x2="851.1" y2="1295.1" /><line x1="627" y1="1371.2" x2="630.4" y2="1371.2" /><line x1="854.5" y1="1371.2" x2="851.1" y2="1371.2" /><line x1="627" y1="1447.2" x2="630.4" y2="1447.2" /><line x1="854.5" y1="1447.2" x2="851.1" y2="1447.2" /><line x1="672.6" y1="1143" x2="672.6" y2="1146.4" /><line x1="672.6" y1="1523.3" x2="672.6" y2="1519.9" /><line x1="718.1" y1="1143" x2="718.1" y2="1146.4" /><line x1="718.1" y1="1523.3" x2="718.1" y2="1519.9" /><line x1="763.4" y1="1143" x2="763.4" y2="1146.4" /><line x1="763.4" y1="1523.3" x2="763.4" y2="1519.9" /><line x1="809" y1="1143" x2="809" y2="1146.4" /><line x1="809" y1="1523.3" x2="809" y2="1519.9" /></g><g fill="none" stroke="#000" stroke-width="3.6" stroke-linejoin="round"><polyline points="626.8,1163 641.3,1171.3 648.8,1182.6 660,1191.3 673.8,1200 685,1210 700,1218.8 718.8,1228.1 730,1238.9 745,1244.6 755,1249.6 763.9,1257.6 764.7,1265.1 775.2,1276.4 795.2,1287.7 817.7,1296.4 831.5,1305.2 839,1316.4 842.2,1325.2 842.7,1342.7 844,1367.7 845.2,1405.3 846.5,1455.3 847,1493.4" /><polyline points="628,1154 626.5,1161.5 640,1162.5 647.5,1176.3 656.3,1190 663.8,1203.8 676.3,1216.3 690,1224.6 703.8,1232.1 718.8,1239.6 731.9,1250.6 746.4,1256.4 762.7,1264.6 776.4,1268.9 791.4,1274.6 807.7,1282.2 820.2,1291.4 831.5,1302.7 835.2,1318.9 839,1334 840.2,1350.2 842.2,1366.5 844,1382.8 845.7,1399 846.3,1455" stroke-dasharray="18 13.5" stroke-dashoffset="9"/></g><g fill="none" stroke="#262626" stroke-width="1.4"><rect x="869" y="1143" width="234.29999999999995" height="380.29999999999995"/><line x1="869" y1="1219.1" x2="872.4" y2="1219.1" /><line x1="1103.3" y1="1219.1" x2="1099.9" y2="1219.1" /><line x1="869" y1="1295.1" x2="872.4" y2="1295.1" /><line x1="1103.3" y1="1295.1" x2="1099.9" y2="1295.1" /><line x1="869" y1="1371.2" x2="872.4" y2="1371.2" /><line x1="1103.3" y1="1371.2" x2="1099.9" y2="1371.2" /><line x1="869" y1="1447.2" x2="872.4" y2="1447.2" /><line x1="1103.3" y1="1447.2" x2="1099.9" y2="1447.2" /><line x1="935.8" y1="1143" x2="935.8" y2="1146.4" /><line x1="935.8" y1="1523.3" x2="935.8" y2="1519.9" /><line x1="1003.1" y1="1143" x2="1003.1" y2="1146.4" /><line x1="1003.1" y1="1523.3" x2="1003.1" y2="1519.9" /><line x1="1069.7" y1="1143" x2="1069.7" y2="1146.4" /><line x1="1069.7" y1="1523.3" x2="1069.7" y2="1519.9" /></g><g fill="none" stroke="#000" stroke-width="3.6" stroke-linejoin="round"><polyline points="896.3,1153.3 957.6,1162.5 908.8,1180 897.5,1190 892.5,1200.8 895,1210 901.3,1221.3 906.3,1230 904.5,1238.9 920.1,1247.6 927.6,1258.1 1015.2,1270.1 1055.2,1276.4 1065.2,1286.4 1102.2,1295.2 895,1303.9 870.8,1314.7 869.7,1355.2 869.3,1430.3 869.7,1523.4" /><polyline points="896.3,1153.3 886.3,1155 879.5,1162.5 885,1166 898.8,1170 913.8,1176.3 918.5,1182 918,1188.8 906.3,1197 903,1203 906.3,1210 920,1216.3 933,1226.3 945,1236.4 958.9,1247.1 972.6,1250.6 987.6,1253.9 1003.9,1258.9 1020.7,1266.4 1012.7,1277.7 1020,1282 1025.2,1286.4 1010.7,1292.2 993.9,1295.7 946,1302.2 897.5,1308.9 871,1315 869.7,1355" stroke-dasharray="18 13.5" stroke-dashoffset="0"/></g><g fill="none" stroke="#262626" stroke-width="1.4"><rect x="1118.3" y="1143" width="237.0" height="380.29999999999995"/><line x1="1118.3" y1="1219.1" x2="1121.7" y2="1219.1" /><line x1="1355.3" y1="1219.1" x2="1351.9" y2="1219.1" /><line x1="1118.3" y1="1295.1" x2="1121.7" y2="1295.1" /><line x1="1355.3" y1="1295.1" x2="1351.9" y2="1295.1" /><line x1="1118.3" y1="1371.2" x2="1121.7" y2="1371.2" /><line x1="1355.3" y1="1371.2" x2="1351.9" y2="1371.2" /><line x1="1118.3" y1="1447.2" x2="1121.7" y2="1447.2" /><line x1="1355.3" y1="1447.2" x2="1351.9" y2="1447.2" /><line x1="1203.1" y1="1143" x2="1203.1" y2="1146.4" /><line x1="1203.1" y1="1523.3" x2="1203.1" y2="1519.9" /><line x1="1288.2" y1="1143" x2="1288.2" y2="1146.4" /><line x1="1288.2" y1="1523.3" x2="1288.2" y2="1519.9" /></g><g fill="none" stroke="#000" stroke-width="3.6" stroke-linejoin="round"><polyline points="1344,1143 1300.2,1180 1250.2,1222.6 1230.1,1240.1 1193.8,1275.1 1175.1,1287.7 1157.6,1300.2 1143.8,1311.4 1136.3,1321.4 1132,1332.7 1131.3,1342.7 1135,1355.2 1141.3,1367.7 1148.8,1381.5 1154.6,1391.5 1155.1,1400.3 1157.1,1409 1161.3,1417.8 1167.6,1427.8 1168.1,1435.3 1165.6,1450.3 1161.3,1467.8 1153.8,1482.9 1146.3,1497.9 1143,1510.4 1143.8,1523.4" /><polyline points="1130.5,1143.8 1135,1162.5 1139.5,1187.6 1146.3,1220.1 1153.8,1255.1 1158.1,1275.1 1153.8,1286.4 1145,1302.7 1137.5,1316.4 1140,1332.7 1142.5,1355.2 1143,1375.2 1144.5,1405.3 1147,1437.8 1151.3,1462.8 1148.8,1477.8 1142.5,1495.4 1140,1507.9" stroke-dasharray="18.5 13" stroke-dashoffset="0"/></g><line x1="1118.5" y1="1238.2" x2="1355" y2="1238.2" stroke="#000" stroke-width="3.6" stroke-dasharray="3.6 3.2"/><g fill="#262626" stroke="none"><text transform="translate(121,1566.8) scale(0.957,1)" font-size="32.7" text-anchor="middle" >13.5</text><text transform="translate(182.5,1566.8) scale(0.957,1)" font-size="32.7" text-anchor="middle" >14</text><text transform="translate(244.5,1566.8) scale(0.957,1)" font-size="32.7" text-anchor="middle" >14.5</text><text transform="translate(303.8,1566.8) scale(0.957,1)" font-size="32.7" text-anchor="middle" >15</text><text transform="translate(131,1508.8) scale(1.06,1)" font-size="32.2" font-weight="bold" fill="#000">C</text><text transform="translate(156.3,1616.4) scale(0.957,1)" font-size="32.7" >Temp (</text><text transform="translate(264.3,1601) scale(0.957,1)" font-size="24" >&#176;</text><text transform="translate(282.3,1616.4) scale(0.957,1)" font-size="32.7" >C</text><text transform="translate(314.3,1616.4) scale(0.957,1)" font-size="32.7" >)</text><text transform="translate(374.7,1566.8) scale(0.957,1)" font-size="32.7" text-anchor="middle" >0</text><text transform="translate(442.8,1566.8) scale(0.957,1)" font-size="32.7" text-anchor="middle" >10</text><text transform="translate(510,1566.8) scale(0.957,1)" font-size="32.7" text-anchor="middle" >20</text><text transform="translate(577.5,1566.8) scale(0.957,1)" font-size="32.7" text-anchor="middle" >30</text><text transform="translate(383.5,1508.8) scale(1.06,1)" font-size="32.2" font-weight="bold" fill="#000">D</text><text transform="translate(493.5,1616.4) scale(0.957,1)" font-size="32.7" text-anchor="middle" >Sal (psu)</text><text transform="translate(626.6,1566.8) scale(0.957,1)" font-size="32.7" text-anchor="middle" >0</text><text transform="translate(718.3,1566.8) scale(0.957,1)" font-size="32.7" text-anchor="middle" >10</text><text transform="translate(808.7,1566.8) scale(0.957,1)" font-size="32.7" text-anchor="middle" >20</text><text transform="translate(643.5,1508.8) scale(1.06,1)" font-size="32.2" font-weight="bold" fill="#000">E</text><text transform="translate(667.5,1622) scale(0.957,1)" font-size="32.7" font-style="italic" font-family="Liberation Serif, serif">&#963;</text><text transform="translate(686.5,1631.5) scale(0.957,1)" font-size="22.9" >t</text><text transform="translate(702.5,1622) scale(0.957,1)" font-size="32.7" >(kg m</text><text transform="translate(782.5,1607.5) scale(0.957,1)" font-size="22.9" >-3</text><text transform="translate(804,1622) scale(0.957,1)" font-size="32.7" >)</text><text transform="translate(856,1566.8) scale(0.957,1)" font-size="32.7" text-anchor="middle" >0</text><text transform="translate(935.6,1566.8) scale(0.957,1)" font-size="32.7" text-anchor="middle" >0.05</text><text transform="translate(997.5,1566.8) scale(0.957,1)" font-size="32.7" text-anchor="middle" >0.1</text><text transform="translate(1069,1566.8) scale(0.957,1)" font-size="32.7" text-anchor="middle" >0.15</text><text transform="translate(886.5,1508.8) scale(1.06,1)" font-size="32.2" font-weight="bold" fill="#000">F</text><text transform="translate(935,1623) scale(0.957,1)" font-size="32.7" >N</text><text transform="translate(957.5,1609) scale(0.957,1)" font-size="22.9" >2</text><text transform="translate(980.5,1623) scale(0.957,1)" font-size="32.7" >(s</text><text transform="translate(1005,1609) scale(0.957,1)" font-size="22.9" >-2</text><text transform="translate(1027,1623) scale(0.957,1)" font-size="32.7" >)</text><text transform="translate(1117.9,1566.8) scale(0.957,1)" font-size="32.7" text-anchor="middle" >0</text><text transform="translate(1202.5,1566.8) scale(0.957,1)" font-size="32.7" text-anchor="middle" >0.5</text><text transform="translate(1287.3,1566.8) scale(0.957,1)" font-size="32.7" text-anchor="middle" >1</text><text transform="translate(1316,1508.8) scale(1.06,1)" font-size="32.2" font-weight="bold" fill="#000">G</text><text transform="translate(1180,1623) scale(0.957,1)" font-size="32.7" >u (m s</text><text transform="translate(1264,1609) scale(0.957,1)" font-size="22.9" >-1</text><text transform="translate(1285.5,1623) scale(0.957,1)" font-size="32.7" >)</text><text transform="translate(108.3,1155.8) scale(0.957,1)" font-size="32.7" text-anchor="end" >0</text><text transform="translate(108.3,1231.9) scale(0.957,1)" font-size="32.7" text-anchor="end" >2</text><text transform="translate(108.3,1307.9) scale(0.957,1)" font-size="32.7" text-anchor="end" >4</text><text transform="translate(108.3,1384) scale(0.957,1)" font-size="32.7" text-anchor="end" >6</text><text transform="translate(108.3,1460) scale(0.957,1)" font-size="32.7" text-anchor="end" >8</text><text transform="translate(108.3,1536.1) scale(0.957,1)" font-size="32.7" text-anchor="end" >10</text><text transform="translate(48.5,1333) rotate(-90) scale(0.957,1)" font-size="32.7" text-anchor="middle" >Depth (m)</text></g></svg>
</body></html>
